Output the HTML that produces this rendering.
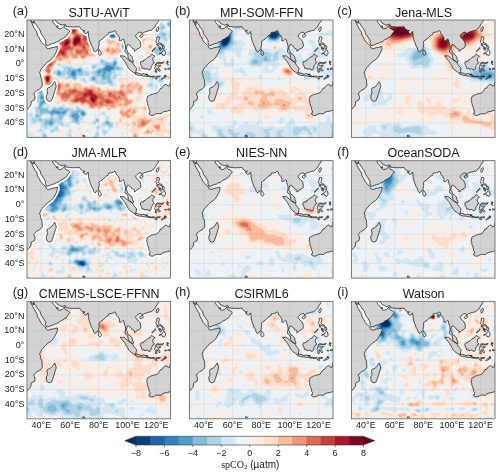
<!DOCTYPE html>
<html><head><meta charset="utf-8"><style>
html,body{margin:0;padding:0;background:#fff;width:500px;height:475px;overflow:hidden}
svg{display:block;will-change:transform}
text{font-family:"Liberation Sans",sans-serif;fill:#1a1a1a}
</style></head><body>
<svg width="500" height="475" viewBox="0 0 500 475">
<defs>
<path id="land" d="M-10.00,-5.00 2.40,-5.00 2.40,0.00 2.60,0.50 2.70,1.00 3.20,1.80 3.70,2.70 4.10,3.60 4.60,4.70 5.30,5.80 5.70,6.60 6.55,7.70 7.05,8.80 7.25,10.20 7.85,11.30 8.55,12.20 9.05,13.40 9.55,14.40 10.15,15.00 11.00,15.80 11.80,16.60 12.50,17.30 13.20,18.10 13.10,18.60 13.60,18.90 14.40,19.50 15.00,19.60 16.00,19.30 17.50,18.80 18.80,18.70 20.20,18.30 21.30,18.10 21.10,18.80 21.40,19.60 20.90,20.20 20.60,21.50 19.90,22.70 19.20,24.00 18.50,25.10 17.60,26.20 16.50,27.30 15.30,28.00 14.10,28.90 13.00,29.90 12.00,31.00 11.20,32.00 10.20,32.90 9.70,34.00 9.20,35.00 8.80,36.30 9.40,37.10 9.30,38.20 9.70,39.20 10.30,40.40 10.50,41.50 10.50,42.80 10.70,44.20 10.60,45.10 9.80,46.20 8.60,47.20 7.10,47.80 6.10,48.80 5.20,49.50 4.70,50.30 5.20,51.20 5.50,52.20 5.50,53.50 5.20,54.50 4.00,55.00 2.80,55.80 2.90,56.80 2.60,58.00 2.20,58.80 1.30,59.60 0.50,60.60 -0.20,61.40 -1.50,62.50 -10.00,65.00Z M2.60,-5.00 2.60,0.00 2.90,0.70 3.50,1.50 4.60,2.20 4.50,1.50 4.90,0.50 4.80,1.70 5.60,2.10 6.20,2.90 6.90,4.00 7.60,5.10 8.40,6.00 9.20,7.20 9.50,8.40 10.00,9.60 10.90,10.80 11.70,12.00 12.40,13.10 13.10,14.40 12.80,15.30 13.20,16.40 13.50,17.30 14.20,17.40 15.00,17.20 16.20,16.70 17.60,16.10 18.70,16.00 19.60,15.40 20.50,15.00 21.60,14.70 22.30,14.20 23.10,13.50 24.00,13.10 25.20,12.60 25.70,11.90 26.60,11.60 27.40,11.10 27.80,10.30 28.30,9.60 28.80,8.80 29.40,8.40 29.80,7.60 29.10,7.00 28.50,6.40 27.80,6.20 27.00,5.90 26.40,5.10 26.30,4.30 26.40,3.70 26.00,3.90 25.50,4.50 24.80,5.10 24.30,5.70 23.30,5.90 22.20,6.00 21.50,5.60 21.60,4.60 21.30,3.90 20.90,5.00 20.60,4.80 20.30,3.90 19.80,3.40 19.30,2.80 18.70,2.20 18.30,1.60 17.80,0.80 18.00,0.10 18.40,0.00 18.40,-5.00Z M18.60,-5.00 18.60,0.00 19.00,0.00 19.60,0.30 20.30,0.70 20.80,1.20 21.30,2.10 22.00,2.40 22.80,2.80 23.70,3.20 24.60,3.50 25.60,3.10 26.30,2.90 26.80,3.00 27.30,4.00 27.30,4.40 28.50,4.50 29.60,4.60 30.60,4.70 31.60,4.80 32.50,4.80 33.50,4.70 34.60,4.80 35.70,4.60 36.60,4.60 37.00,5.20 37.30,5.80 37.80,6.30 38.40,6.60 38.70,7.00 39.50,7.20 40.40,7.10 39.80,7.60 39.10,7.70 39.40,8.40 40.20,9.00 41.00,9.30 42.00,8.80 42.30,8.10 42.60,7.80 42.70,8.50 42.90,9.60 42.90,10.60 43.00,11.60 43.30,12.80 43.60,13.90 43.90,14.80 44.30,15.70 44.70,16.80 44.90,17.50 45.50,18.40 45.90,19.10 46.30,20.30 46.60,21.10 47.10,21.70 47.60,21.90 48.10,21.40 48.30,20.90 49.00,20.70 49.30,20.20 49.80,19.70 49.90,18.70 50.10,17.80 50.30,16.70 50.20,15.50 50.20,14.60 50.90,14.20 51.40,13.60 52.20,13.40 52.40,12.90 53.10,12.40 53.90,11.80 54.70,10.90 55.50,10.30 56.50,10.00 56.90,9.20 56.90,8.50 57.80,8.30 58.60,8.40 59.30,8.10 60.20,8.00 60.60,7.40 61.40,7.20 61.80,7.70 62.00,8.50 62.30,9.40 62.90,9.90 63.50,10.50 63.80,11.20 64.30,11.80 64.50,12.70 64.30,13.60 64.30,14.10 65.00,14.20 65.60,14.10 66.30,13.50 66.90,12.90 67.60,13.50 67.70,14.70 68.20,16.20 68.60,17.40 68.70,18.70 68.50,20.00 68.30,21.00 68.30,21.80 68.80,22.10 69.70,23.10 70.10,23.60 70.40,24.60 70.50,25.70 70.80,26.50 71.30,27.20 71.80,27.70 72.60,28.20 73.40,28.70 74.20,28.60 74.10,27.70 73.50,26.60 73.40,25.60 73.00,24.70 72.30,23.90 71.50,23.20 70.60,22.90 70.20,22.00 69.90,20.80 69.20,20.00 69.30,18.90 69.60,17.90 70.00,16.90 70.50,16.50 70.90,17.00 71.40,17.30 72.10,17.70 72.60,18.10 73.00,18.90 73.60,19.50 74.40,19.60 74.90,20.20 74.80,21.30 75.60,20.90 76.30,20.40 76.80,19.70 77.70,19.40 78.60,18.90 79.20,18.30 79.30,17.10 79.20,16.20 78.90,14.80 78.30,13.90 77.60,13.30 76.90,12.60 76.20,11.70 75.70,11.00 75.90,10.20 76.50,9.60 77.20,9.00 78.00,8.50 78.60,8.30 79.80,8.50 80.20,9.10 80.30,9.70 80.60,9.10 81.20,8.50 82.10,8.20 83.30,7.80 84.20,7.60 85.30,7.20 86.50,7.10 87.40,6.40 88.20,5.50 89.20,4.80 89.60,4.00 89.90,3.20 90.60,2.40 91.10,1.60 91.60,1.00 91.90,0.10 91.90,0.00 91.90,-5.00Z M19.30,41.95 19.60,42.60 19.90,43.40 20.20,44.60 20.40,45.40 20.00,46.20 19.80,47.00 19.50,47.80 19.30,48.80 18.80,50.20 18.40,51.50 18.00,52.60 17.60,53.70 17.10,54.90 16.30,55.20 15.50,55.50 14.90,55.20 14.20,54.90 13.70,54.00 13.60,53.10 13.40,52.20 13.60,51.30 14.00,50.60 14.30,49.80 14.20,49.00 14.00,48.00 14.00,47.20 14.40,46.40 14.90,46.10 15.90,45.80 16.40,45.40 17.00,45.10 17.60,44.50 17.90,43.80 18.40,43.40 18.80,42.60Z M65.10,24.30 66.00,24.50 67.60,24.50 68.60,25.40 69.40,26.10 70.20,26.70 71.00,27.40 71.60,27.80 72.20,28.00 73.00,28.50 73.60,29.20 74.20,30.10 74.50,30.80 75.10,31.40 75.60,32.00 76.30,32.80 76.20,34.00 75.90,35.00 75.90,35.90 75.20,35.95 74.50,36.00 73.90,35.50 73.00,34.90 72.00,34.20 71.20,33.40 70.50,32.50 70.00,31.40 69.40,30.50 68.90,29.70 68.30,28.50 67.70,27.80 67.00,27.00 66.50,26.30 65.80,25.50 65.20,25.00Z M79.00,29.50 79.30,28.50 79.70,28.00 80.30,28.30 81.20,28.10 81.40,27.30 82.60,26.90 83.50,26.00 84.00,25.40 84.90,25.10 85.50,25.00 85.90,24.40 86.40,23.70 86.90,23.10 87.30,23.40 87.80,24.00 88.40,24.20 89.20,24.80 88.50,25.30 88.00,25.70 87.70,26.40 87.70,27.40 88.00,28.20 88.90,29.10 87.90,29.50 87.50,30.40 87.00,31.10 86.60,31.70 86.50,32.60 86.20,33.40 85.90,33.90 84.80,34.10 84.50,33.50 83.70,33.20 82.90,33.40 81.90,33.50 81.70,33.00 80.90,33.00 80.20,32.90 80.00,31.90 79.60,31.00 79.10,30.30Z M105.00,41.50 100.00,41.50 100.00,42.20 99.60,43.50 99.50,44.80 98.50,45.00 98.00,44.80 97.70,44.20 97.00,43.80 96.20,44.10 95.40,44.60 94.80,45.30 94.40,46.10 93.70,46.50 93.00,46.50 92.60,47.30 92.20,48.00 91.70,48.60 91.10,49.40 90.20,49.90 89.00,50.10 88.00,50.30 87.20,50.70 86.50,50.70 85.50,51.40 84.60,51.80 84.10,52.00 83.70,52.50 83.80,53.30 83.50,54.00 83.40,54.80 83.90,55.80 83.60,56.30 84.00,57.00 84.20,58.00 84.60,58.80 84.90,59.60 85.00,60.50 85.20,61.30 85.70,62.00 85.70,62.80 85.60,63.50 85.00,63.60 85.00,64.20 85.40,64.50 86.20,65.00 87.00,65.00 88.00,65.00 88.90,64.50 89.70,64.00 90.50,63.90 91.50,63.80 92.60,63.90 93.50,63.90 94.00,63.50 94.30,62.90 95.00,62.70 96.20,62.30 97.20,62.20 98.10,62.00 99.00,61.70 100.00,61.50 101.00,61.50 105.00,65.00Z M75.20,36.80 75.90,36.00 76.80,36.00 77.70,36.20 78.50,36.50 79.50,36.80 80.50,36.90 80.90,36.40 81.70,36.70 82.60,36.90 83.50,37.60 84.40,37.70 84.60,38.40 84.00,38.60 83.00,38.30 82.00,38.20 81.00,38.10 80.20,38.00 79.20,37.70 78.30,37.80 77.30,37.50 76.40,37.30 75.80,37.00Z"/>
<path id="isl" d="M38.80,78.70 39.60,78.60 40.50,79.00 40.20,79.60 39.20,79.80Z M49.90,20.20 50.40,20.40 50.90,21.10 51.30,21.70 51.80,22.50 51.80,23.20 51.40,23.80 50.60,24.10 50.10,23.70 49.80,22.90 49.70,21.90 49.90,21.10Z M82.70,36.90 84.00,36.90 83.90,37.20 82.80,37.20Z M84.60,38.20 85.50,38.10 85.70,38.50 85.20,38.80 84.50,38.50Z M86.00,38.30 86.60,38.20 86.70,38.80 86.00,38.90Z M86.90,38.50 87.80,38.20 88.70,38.20 89.10,38.60 88.40,38.80 87.30,39.00Z M89.90,38.40 91.00,38.40 92.30,38.20 93.00,38.30 92.50,38.70 91.30,38.90 90.00,38.80Z M89.00,39.50 90.10,39.40 90.80,40.00 90.10,40.30 89.20,39.80Z M93.50,40.30 94.30,39.40 95.30,38.80 96.50,38.40 97.30,38.40 96.30,39.10 95.00,39.90 94.00,40.40Z M95.80,37.80 96.70,37.60 96.60,38.00 95.80,38.10Z M89.40,35.50 89.60,34.00 89.40,33.40 88.90,32.80 89.20,31.90 89.50,30.90 89.80,29.80 90.20,29.20 90.90,28.70 92.00,29.00 93.30,29.10 94.40,29.00 95.20,28.40 94.70,29.40 94.00,29.60 93.00,29.50 91.90,29.50 90.60,29.50 90.20,30.00 90.10,30.70 90.80,31.40 91.60,30.90 92.60,30.80 93.40,30.90 92.80,31.40 91.80,31.90 91.50,32.80 92.20,33.30 92.50,34.00 93.00,34.50 92.70,34.80 91.90,34.80 91.40,34.20 90.90,33.00 90.40,33.00 90.40,34.30 90.40,35.60Z M97.80,27.80 98.00,28.70 98.70,28.50 98.30,29.10 97.90,29.60 98.50,30.40 97.90,30.20 97.50,29.50 97.50,28.40Z M97.90,33.20 99.10,32.80 100.20,33.00 100.90,33.50 99.50,33.50 98.50,33.60Z M95.90,33.30 96.70,33.10 97.20,33.60 96.40,33.90 96.00,33.60Z M87.20,21.60 88.20,20.80 89.30,19.60 89.60,18.70 89.00,19.10 87.90,20.30 87.10,21.20Z M91.90,23.00 92.80,22.50 93.50,22.20 94.20,21.80 94.80,21.00 95.50,20.30 96.00,20.70 96.50,22.00 96.50,23.10 96.00,23.80 95.50,24.40 95.10,23.80 94.30,23.90 94.00,23.10 93.60,22.40 92.80,23.10 92.00,23.10Z M89.80,14.20 90.00,15.20 90.60,15.70 90.70,16.10 91.50,16.20 92.30,16.50 93.30,16.70 94.10,17.40 94.20,16.90 93.80,16.10 92.50,15.70 91.70,15.10 91.70,14.10 92.10,13.20 92.30,11.70 91.50,11.40 90.60,11.50 90.40,12.50 90.40,13.60Z M90.30,16.60 91.00,16.50 91.50,16.90 91.20,17.80 90.60,17.40Z M94.30,17.50 95.20,17.50 95.70,18.80 95.20,19.90 94.80,20.00 94.40,19.10Z M91.90,18.10 92.90,18.60 92.90,19.20 92.00,19.50 91.90,18.80Z M92.50,19.30 93.40,19.10 93.60,20.00 93.10,20.90 92.50,20.20Z M78.60,10.80 79.30,10.20 80.10,9.90 80.70,10.00 81.00,10.40 80.60,11.20 80.00,11.60 79.50,11.80 78.70,11.50Z M90.10,7.00 90.70,8.00 91.00,7.60 91.50,6.80 91.90,5.40 91.60,4.70 91.00,5.00 90.40,5.70 90.10,6.50Z"/>
<clipPath id="pc"><rect x="0" y="0" width="100" height="80"/></clipPath>
</defs>
<rect width="500" height="475" fill="#fff"/>

<g transform="translate(27.00,20.00) scale(1.43500,1.46750)">
<g clip-path="url(#pc)">
<rect x="0" y="0" width="100" height="80" fill="#fff"/><g transform="scale(0.1)"><path fill="#053061" fill-rule="evenodd" d="M15 -5l20 0 5 5 5-5 10 0 5 15 10 10 0 5 10 10 0 5 15 15 0 5 10 15 0 10 5 5 0 5 20 25 0 5 10 15 0 20 5 5 15-10 10 0 5-5 10 0 15-10 10 0 15-15 10 0 5-5 5 0 5-5 0-5 10 0 20-25 0-10-25-15-5 5-10 0-5 5-15 0-5-5-5 0-35-40 0-5-5-5 0-20 35 0 25 25 5 0 5 5 10 0 5-5 15 0 15 15 20 0 5 5 20 0 5-5 5 5 10 0 5-5 15 0 5 5 0 5 15 15 15 0 10 10 15 0 5 5 0 10 5 5 0 35 5 5 0 10 10 15 0 10 5 5 0 5 10 15 0 10 5 5 15-15 0-15 5-5 0-30 15-15 5 0 25-25 15-5 5-5 0-10 5-5 20 0 15-10 20 0 5 5 5 15 15 15 5 15 10 10 5-5 10 0 10 10 0 15 10 15 5-5 10 0 15 15 5 0 10 15 5 0 10 10 5-5 15-5 10-10-5-25-30-30 0-25 10-10 5 0 10-10 25 0 5 5 15-10 15 0 5-5 25-5 25-25 0-10 15-15 5-15 95 0 0 455-10 10-15 0-10-10-5 0-10 10 0 5-5 5-5 0-20 20 0 5-10 10-5 0-5 5-20 0-5 5-10 0-25 15 0 20 5 5 0 20 5 5 0 10 5 5 0 15 5 5 0 20 5 5 10 0 15-10 35 0 20-15 20 0 5-5 10 0 5-5 15 0 0 200-1010 0 0-205 20-20 0-5 5-5 0-20 5 0 20-15 0-15-5-5 0-20 25-25 15-5 15-15 0-45-10-15 0-15-5-5 0-20 5-5 10-25 45-45 5 0 10-10 5 0 15-15 0-5 10-10 0-5 15-25 0-5-5-5-15 0-5 5-10 0-5 5-20 0-20-15 0-10-30-25-10-25-10-10 0-5-5-5 0-10-5-5 0-10-10-10-5-15-10-10 0-5-20-35zM695 275l-5 5 15 20 0 5 15 20 0 5 20 15 5 0 10-10-10-10 0-5-10-10 0-5-15-15-15-5zM720 250l-5 5 0 5 5 5 5-5 0-5zM850 260l-20 20-5 0-10 10-10 0-5 5 5 15 10 10 5 0 5 5 25 0 5-5 5-15 10-10 0-35-5-5-5 5zM870 245l-5 5 5 5 5-5zM190 445l-15 15-5 0-20 15 0 35-5 5 0 20 10 10 5 0 10-15 0-10 5-5 0-10 5-5 0-10 5-5 0-10 5-5 0-10 5-5 0-5z"/><path fill="#0e4179" fill-rule="evenodd" d="M15 -5l20 0 5 5 5-5 10 0 5 15 10 10 0 5 10 10 0 5 15 15 0 5 10 15 0 10 5 5 0 5 20 25 0 5 10 15 0 20 5 5 15-10 10 0 5-5 10 0 15-10 10 0 15-15 10 0 5-5 5 0 5-5 0-5 10 0 20-25 0-10-25-15-5 5-10 0-5 5-15 0-5-5-5 0-35-40 0-5-5-5 0-20 35 0 25 25 5 0 5 5 10 0 5-5 15 0 15 15 20 0 5 5 20 0 5-5 5 5 10 0 5-5 15 0 5 5 0 5 15 15 15 0 10 10 15 0 5 5 0 10 5 5 0 35 5 5 0 10 10 15 0 10 5 5 0 5 10 15 0 10 5 5 15-15 0-15 5-5 0-30 15-15 5 0 25-25 15-5 5-5 0-10 5-5 20 0 15-10 20 0 5 5 5 15 15 15 5 15 10 10 5-5 10 0 10 10 0 15 10 15 5-5 10 0 15 15 5 0 10 15 5 0 10 10 5-5 15-5 10-10-5-25-30-30 0-25 10-10 5 0 10-10 25 0 5 5 15-10 15 0 5-5 25-5 25-25 0-10 15-15 5-15 95 0 0 455-10 10-15 0-10-10-5 0-10 10 0 5-5 5-5 0-20 20 0 5-10 10-5 0-5 5-20 0-5 5-10 0-25 15 0 20 5 5 0 20 5 5 0 10 5 5 0 15 5 5 0 20 5 5 10 0 15-10 35 0 20-15 20 0 5-5 10 0 5-5 15 0 0 200-1010 0 0-205 20-20 0-5 5-5 0-20 5 0 20-15 0-15-5-5 0-20 25-25 15-5 15-15 0-45-10-15 0-15-5-5 0-20 5-5 10-25 45-45 5 0 10-10 5 0 15-15 0-5 10-10 0-5 15-25 0-5-5-5-15 0-5 5-10 0-5 5-20 0-20-15 0-10-30-25-10-25-10-10 0-5-5-5 0-10-5-5 0-10-10-10-5-15-10-10 0-5-20-35zM695 275l-5 5 15 20 0 5 15 20 0 5 20 15 5 0 10-10-10-10 0-5-10-10 0-5-15-15-15-5zM720 250l-5 5 0 5 5 5 5-5 0-5zM850 260l-20 20-5 0-10 10-10 0-5 5 5 15 10 10 5 0 5 5 25 0 5-5 5-15 10-10 0-35-5-5-5 5zM870 245l-5 5 5 5 5-5zM190 445l-15 15-5 0-20 15 0 35-5 5 0 20 10 10 5 0 10-15 0-10 5-5 0-10 5-5 0-10 5-5 0-10 5-5 0-10 5-5 0-5z"/><path fill="#1f63a8" fill-rule="evenodd" d="M15 -5l20 0 5 5 5-5 10 0 5 15 10 10 0 5 10 10 0 5 15 15 0 5 10 15 0 10 5 5 0 5 20 25 0 5 10 15 0 20 5 5 15-10 10 0 5-5 10 0 15-10 10 0 15-15 10 0 5-5 5 0 5-5 0-5 10 0 20-25 0-10-25-15-5 5-10 0-5 5-15 0-5-5-5 0-35-40 0-5-5-5 0-20 35 0 25 25 5 0 5 5 10 0 5-5 15 0 15 15 20 0 5 5 20 0 5-5 5 5 10 0 5-5 15 0 5 5 0 5 15 15 15 0 10 10 15 0 5 5 0 10 5 5 0 35 5 5 0 10 10 15 0 10 5 5 0 5 10 15 0 10 5 5 15-15 0-15 5-5 0-30 15-15 5 0 25-25 15-5 5-5 0-10 5-5 20 0 15-10 20 0 5 5 5 15 15 15 5 15 10 10 5-5 10 0 10 10 0 15 10 15 5-5 10 0 15 15 5 0 10 15 5 0 10 10 5-5 15-5 10-10-5-25-30-30 0-25 10-10 5 0 10-10 25 0 5 5 15-10 15 0 5-5 25-5 25-25 0-10 15-15 5-15 95 0 0 455-10 10-15 0-10-10-5 0-10 10 0 5-5 5-5 0-20 20 0 5-10 10-5 0-5 5-20 0-5 5-10 0-25 15 0 20 5 5 0 20 5 5 0 10 5 5 0 15 5 5 0 20 5 5 10 0 15-10 35 0 20-15 20 0 5-5 10 0 5-5 15 0 0 200-1010 0 0-205 20-20 0-5 5-5 0-20 5 0 20-15 0-15-5-5 0-20 25-25 15-5 15-15 0-45-10-15 0-15-5-5 0-20 5-5 10-25 45-45 5 0 10-10 5 0 15-15 0-5 10-10 0-5 15-25 0-5-5-5-15 0-5 5-10 0-5 5-20 0-20-15 0-10-30-25-10-25-10-10 0-5-5-5 0-10-5-5 0-10-10-10-5-15-10-10 0-5-20-35zM695 275l-5 5 15 20 0 5 15 20 0 5 20 15 5 0 10-10-10-10 0-5-10-10 0-5-15-15-15-5zM720 250l-5 5 0 5 5 5 5-5 0-5zM850 260l-20 20-5 0-10 10-10 0-5 5 5 15 10 10 5 0 5 5 25 0 5-5 5-15 10-10 0-35-5-5-5 5zM870 245l-5 5 5 5 5-5zM190 445l-15 15-5 0-20 15 0 35-5 5 0 20 10 10 5 0 10-15 0-10 5-5 0-10 5-5 0-10 5-5 0-10 5-5 0-10 5-5 0-5z"/><path fill="#3480b9" fill-rule="evenodd" d="M15 -5l20 0 5 5 5-5 10 0 5 15 10 10 0 5 10 10 0 5 15 15 0 5 10 15 0 10 5 5 0 5 20 25 0 5 10 15 0 20 5 5 15-10 10 0 5-5 10 0 15-10 10 0 15-15 10 0 5-5 5 0 5-5 0-5 10 0 20-25 0-10-25-15-5 5-10 0-5 5-15 0-5-5-5 0-35-40 0-5-5-5 0-20 35 0 25 25 5 0 5 5 10 0 5-5 15 0 15 15 20 0 5 5 20 0 5-5 5 5 10 0 5-5 15 0 5 5 0 5 15 15 15 0 10 10 15 0 5 5 0 10 5 5 0 35 5 5 0 10 10 15 0 10 5 5 0 5 10 15 0 10 5 5 15-15 0-15 5-5 0-30 15-15 5 0 25-25 15-5 5-5 0-10 5-5 20 0 15-10 20 0 5 5 5 15 15 15 5 15 10 10 5-5 10 0 10 10 0 15 10 15 5-5 10 0 15 15 5 0 10 15 5 0 10 10 5-5 15-5 10-10-5-25-30-30 0-25 10-10 5 0 10-10 25 0 5 5 15-10 15 0 5-5 25-5 25-25 0-10 15-15 5-15 95 0 0 455-10 10-15 0-10-10-5 0-10 10 0 5-5 5-5 0-20 20 0 5-10 10-5 0-5 5-20 0-5 5-10 0-25 15 0 20 5 5 0 20 5 5 0 10 5 5 0 15 5 5 0 20 5 5 10 0 15-10 35 0 20-15 20 0 5-5 10 0 5-5 15 0 0 200-1010 0 0-205 20-20 0-5 5-5 0-20 5 0 20-15 0-15-5-5 0-20 25-25 15-5 15-15 0-45-10-15 0-15-5-5 0-20 5-5 10-25 45-45 5 0 10-10 5 0 15-15 0-5 10-10 0-5 15-25 0-5-5-5-15 0-5 5-10 0-5 5-20 0-20-15 0-10-30-25-10-25-10-10 0-5-5-5 0-10-5-5 0-10-10-10-5-15-10-10 0-5-20-35zM585 104l0 6 5 2 18-2-3-6zM675 171l-5 9 5 8 3-8zM695 275l-5 5 15 20 0 5 15 20 0 5 20 15 5 0 10-10-10-10 0-5-10-10 0-5-15-15-15-5zM720 250l-5 5 0 5 5 5 5-5 0-5zM850 260l-20 20-5 0-10 10-10 0-5 5 5 15 10 10 5 0 5 5 25 0 5-5 5-15 10-10 0-35-5-5-5 5zM870 245l-5 5 5 5 5-5zM190 445l-15 15-5 0-20 15 0 35-5 5 0 20 10 10 5 0 10-15 0-10 5-5 0-10 5-5 0-10 5-5 0-10 5-5 0-10 5-5 0-5z"/><path fill="#529dc8" fill-rule="evenodd" d="M15 -5l20 0 5 5 5-5 10 0 5 15 10 10 0 5 10 10 0 5 15 15 0 5 10 15 0 10 5 5 0 5 20 25 0 5 10 15 0 20 5 5 15-10 10 0 5-5 10 0 15-10 10 0 15-15 10 0 5-5 5 0 5-5 0-5 10 0 20-25 0-10-25-15-5 5-10 0-5 5-15 0-5-5-5 0-35-40 0-5-5-5 0-20 35 0 25 25 5 0 5 5 10 0 5-5 15 0 15 15 20 0 5 5 20 0 5-5 5 5 10 0 5-5 15 0 5 5 0 5 15 15 15 0 10 10 15 0 5 5 0 10 5 5 0 35 5 5 0 10 10 15 0 10 5 5 0 5 10 15 0 10 5 5 15-15 0-15 5-5 0-30 15-15 5 0 25-25 15-5 5-5 0-10 5-5 20 0 15-10 20 0 5 5 5 15 15 15 5 15 10 10 5-5 10 0 10 10 0 15 10 15 5-5 10 0 15 15 5 0 10 15 5 0 10 10 5-5 15-5 10-10-5-25-30-30 0-25 10-10 5 0 10-10 25 0 5 5 15-10 15 0 5-5 25-5 25-25 0-10 15-15 5-15 95 0 0 455-10 10-15 0-10-10-5 0-10 10 0 5-5 5-5 0-20 20 0 5-10 10-5 0-5 5-20 0-5 5-10 0-25 15 0 20 5 5 0 20 5 5 0 10 5 5 0 15 5 5 0 20 5 5 10 0 15-10 35 0 20-15 20 0 5-5 10 0 5-5 15 0 0 200-1010 0 0-205 20-20 0-5 5-5 0-20 5 0 20-15 0-15-5-5 0-20 25-25 15-5 15-15 0-45-10-15 0-15-5-5 0-20 5-5 10-25 45-45 5 0 10-10 5 0 15-15 0-5 10-10 0-5 15-25 0-5-5-5-15 0-5 5-10 0-5 5-20 0-20-15 0-10-30-25-10-25-10-10 0-5-5-5 0-10-5-5 0-10-10-10-5-15-10-10 0-5-20-35zM208 630l5 5 9 0-2-6zM325 350l-9 5-4 10 3 10 5 2 10-2 3-5-1-15zM385 631l0 10 5 4 5-1 3-4-2-5zM555 315l-14 20-1 5 5 3 10-1 15 4 15-10 10-1 4-5-2-5-7-3zM585 99l-9 6 9 10 20 2 6-2 4-5 0-5-5-5zM615 290l-6 5 1 5 5-3zM670 165l-3 15 3 10 5 4 5-4 1-15-6-13zM695 275l-5 5 15 20 0 5 15 20 0 5 20 15 5 0 10-10-10-10 0-5-10-10 0-5-15-15-15-5zM720 250l-5 5 0 5 5 5 5-5 0-5zM850 260l-20 20-5 0-10 10-10 0-5 5 5 15 10 10 5 0 5 5 25 0 5-5 5-15 10-10 0-35-5-5-5 5zM870 245l-5 5 5 5 5-5zM105 523l0 8 4-6zM190 445l-15 15-5 0-20 15 0 35-5 5 0 20 10 10 5 0 10-15 0-10 5-5 0-10 5-5 0-10 5-5 0-10 5-5 0-10 5-5 0-5z"/><path fill="#84bcd9" fill-rule="evenodd" d="M15 -5l20 0 5 5 5-5 10 0 5 15 10 10 0 5 10 10 0 5 15 15 0 5 10 15 0 10 5 5 0 5 20 25 0 5 10 15 0 20 5 5 15-10 10 0 5-5 10 0 15-10 10 0 15-15 10 0 5-5 5 0 5-5 0-5 10 0 20-25 0-10-25-15-5 5-10 0-5 5-15 0-5-5-5 0-35-40 0-5-5-5 0-20 35 0 25 25 5 0 5 5 10 0 5-5 15 0 15 15 20 0 5 5 20 0 5-5 5 5 10 0 5-5 15 0 5 5 0 5 15 15 15 0 10 10 15 0 5 5 0 10 5 5 0 35 5 5 0 10 10 15 0 10 5 5 0 5 10 15 0 10 5 5 15-15 0-15 5-5 0-30 15-15 5 0 25-25 15-5 5-5 0-10 5-5 20 0 15-10 20 0 5 5 5 15 15 15 5 15 10 10 5-5 10 0 10 10 0 15 10 15 5-5 10 0 15 15 5 0 10 15 5 0 10 10 5-5 15-5 10-10-5-25-30-30 0-25 10-10 5 0 10-10 25 0 5 5 15-10 15 0 5-5 25-5 25-25 0-10 15-15 5-15 95 0 0 29-20 1 2 5 18 12 0 408-10 10-15 0-10-10-5 0-10 10 0 5-5 5-5 0-20 20 0 5-10 10-5 0-5 5-20 0-5 5-10 0-25 15 0 20 5 5 0 20 5 5 0 10 5 5 0 15 5 5 0 20 5 5 10 0 15-10 35 0 20-15 20 0 5-5 10 0 5-5 15 0 0 200-1010 0 0-205 20-20 0-5 5-5 0-20 5 0 20-15 0-15-5-5 0-20 25-25 15-5 15-15 0-45-10-15 0-15-5-5 0-20 5-5 10-25 45-45 5 0 10-10 5 0 15-15 0-5 10-10 0-5 15-25 0-5-5-5-15 0-5 5-10 0-5 5-20 0-20-15 0-10-30-25-10-25-10-10 0-5-5-5 0-10-5-5 0-10-10-10-5-15-10-10 0-5-20-35zM225 350l-5 1-6 14 0 5 6 3 5-1 6-7 0-10zM320 343l-10 7-7 20 8 10 14 8 5-1 11-12 1-25-12-8zM360 334l-9 6-3 5 22 12 5-6 1-11-6-7zM380 623l-3 7 3 13 5 6 10 1 9-5 1-6-6-9-9-7zM460 391l-5 6 1 8 9 2 6-2 1-10-7-4zM595 95l-22 5-2 5 2 5 17 10 15 0 10-4 3-6-1-10-7-5zM630 326l-3 4 3 2 5 1 4-3zM665 167l-1 13 6 15 5 4 5-2 3-7 1-15-4-16-5-4zM695 275l-5 5 15 20 0 5 15 20 0 5 20 15 5 0 10-10-10-10 0-5-10-10 0-5-15-15-15-5zM720 250l-5 5 0 5 5 5 5-5 0-5zM850 260l-20 20-5 0-10 10-10 0-5 5 5 15 10 10 5 0 5 5 25 0 5-5 5-15 10-10 0-35-5-5-5 5zM870 245l-5 5 5 5 5-5zM100 513l-6 7-1 10 7 9 10 5 5-6 2-13-7-10zM190 445l-15 15-5 0-20 15 0 35-5 5 0 20 10 10 5 0 10-15 0-10 5-5 0-10 5-5 0-10 5-5 0-10 5-5 0-10 5-5 0-5zM335 633l-20 11-2 11 7 9 12 6 8 13 5 4 5-1 10-31-10-18-5-4zM610 284l-9 11-1 16-5 2-25-7-15 0-25 31-20 2-21 11-2 5 3 5 10 5 5-1 15-15 5-3 5 3 3 11-7 15 8 20 6 0-1-15 11-29 10-2 15 8 10-13 15-5 5-4 4-10-1-10 14-20-2-10-5-3zM110 548l-15 12-3 10 1 15 14-15 16-5 2-3-5-11zM180 615l-20 15 10 13 5 1 10-7 10-2 30 8 8-3 7-9 15 11 15-11 6-11-6-2-15 2-15 9-10-7-16-2-19-7zM555 695l-1 10 6 2 7-2-2-9zM170 684l-17 11-1 5 13 12 5 1 5-3 4-10-4-12z"/><path fill="#aed3e6" fill-rule="evenodd" d="M15 -5l20 0 5 5 5-5 10 0 5 15 10 10 0 5 10 10 0 5 15 15 0 5 10 15 0 10 5 5 0 5 20 25 0 5 10 15 0 20 5 5 15-10 10 0 5-5 10 0 15-10 10 0 15-15 10 0 5-5 5 0 5-5 0-5 10 0 20-25 0-10-25-15-5 5-10 0-5 5-15 0-5-5-5 0-35-40 0-5-5-5 0-20 35 0 25 25 5 0 5 5 10 0 5-5 15 0 15 15 20 0 5 5 20 0 5-5 5 5 10 0 5-5 15 0 5 5 0 5 15 15 15 0 10 10 15 0 5 5 0 10 5 5 0 35 5 5 0 10 10 15 0 10 5 5 0 5 10 15 0 10 5 5 15-15 0-15 5-5 0-30 15-15 5 0 25-25 15-5 5-5 0-10 5-5 20 0 15-10 20 0 5 5 5 15 15 15 5 15 10 10 5-5 10 0 10 10 0 15 10 15 5-5 10 0 15 15 5 0 10 15 5 0 10 10 5-5 15-5 10-10-5-25-30-30 0-25 10-10 5 0 10-10 25 0 5 5 15-10 15 0 5-5 25-5 25-25 0-10 15-15 5-15 95 0 0 24-15-3-9 4-3 5 5 10 22 14 0 44-6 2-1 5 2 18 5 4 0 104-7 4 7 5 0 215-10 10-15 0-10-10-5 0-10 10 0 5-5 5-5 0-20 20 0 5-10 10-5 0-5 5-20 0-5 5-10 0-25 15 0 20 5 5 0 20 5 5 0 10 5 5 0 15 5 5 0 20 5 5 10 0 15-10 35 0 20-15 20 0 5-5 10 0 5-5 15 0 0 200-519 0-1-8-5-3-5 2-5 9-475 0 0-205 20-20 0-5 5-5 0-20 5 0 20-15 0-15-5-5 0-20 25-25 15-5 15-15 0-45-10-15 0-15-5-5 0-20 5-5 10-25 45-45 5 0 10-10 5 0 15-15 0-5 10-10 0-5 15-25 0-5-5-5-15 0-5 5-10 0-5 5-20 0-20-15 0-10-30-25-10-25-10-10 0-5-5-5 0-10-5-5 0-10-10-10-5-15-10-10 0-5-20-35zM220 343l-7 7-7 15 4 10 15 4 28-14-13-7-12-13zM290 325l-3 5 0 15-7 15 15 22 19 8 16 16 5-1 13-25 3-15 4-3 15 16 11-3 8-10-5-25-9-12-5-1-30 9-15-1-15 3zM410 366l-4 4 12 0zM465 313l-7 7 2 4 10-2 7-7-2-3zM520 274l-5 6 5 11 14-1-2-10zM575 95l-8 5-1 5 8 10 11 7 25 0 5-2 7-10 0-10-7-7-15-2zM663 165l-1 15 5 15 8 9 5-1 4-8 3-20-7-24-5-1zM695 275l-5 5 15 20 0 5 15 20 0 5 20 15 5 0 10-10-10-10 0-5-10-10 0-5-15-15-15-5zM720 250l-5 5 0 5 5 5 5-5 0-5zM850 260l-20 20-5 0-10 10-10 0-5 5 5 15 10 10 5 0 5 5 25 0 5-5 5-15 10-10 0-35-5-5-5 5zM870 245l-5 5 5 5 5-5zM905 199l-3 11 3 7 5 1 15-6 7-7-12-8zM945 42l-10 10 0 4 5 3 15-4 2-5-3-5zM70 641l-10 14 0 5 5 5 15-3 8-12-4-5zM90 468l-5 4-6 18 13 15-7 25 8 15-15 50 17 42 5 4 25-10 25 5 10 5 15 15 15-15 10 1 26 13-2 20 6 8 5 1 7-9 3-17 15-9 15-16 13-18-1-5-7-3-25 4-15-13-10-1-15 14-25-6-25 14-10 2-15-15-37-1-3-5 8-20 4-5 14-5 5-5-1-5-8-20-2-20-13-15-7-25zM190 445l-15 15-5 0-20 15 0 35-5 5 0 20 10 10 5 0 10-15 0-10 5-5 0-10 5-5 0-10 5-5 0-10 5-5 0-10 5-5 0-5zM355 610l-5 10-5 2-30 2-12 26 3 10 17 20 2 10 25 11 6-1 4-23 9-22-9-15 0-9 5-2 5 2 5 19 10 5 20-5 5-10-4-10-11-12zM465 384l-12 6-4 15 6 7 20 1 5-5-2-18zM590 301l-5 0-25-10-16 4-2 15-12 18-25 6-20 11-9 10-1 5 11 10 1 10 3 2 25-1 8 9 2 15 5 7 25-13 15 27 10 8 8 1 3-5-1-9-8-11-7-20 11-25 3-15 16-7 10-10 25 7 11-5 3-5-31-15 2-30-5-7-5-2zM925 409l-3 6 3 2 9-2-2-5zM940 90l-6 5 16 13 10 1 5-9-1-5-4-4zM85 673l-2 7 4 5 8 2 9-2-9-11-5-3zM120 778l-5 4-2 8 2 5 10 4 7-4 1-5-6-10zM150 683l-15-2-8 4-4 15 2 15 5 1 15-6 20 11 10-2 10-14 2-10-7-23-5-6zM490 674l-8 6-2 5 3 5 12 1 3-6-3-9zM550 690l-4 15 3 5 25 5 6 10 10-4 0-8-10-6-10-14-10-6zM490 774l-4 6 4 6z"/><path fill="#d4e6f1" fill-rule="evenodd" d="M15 -5l20 0 5 5 5-5 10 0 5 15 10 10 0 5 10 10 0 5 15 15 0 5 10 15 0 10 5 5 0 5 20 25 0 5 10 15 0 20 5 5 15-10 10 0 5-5 10 0 15-10 10 0 15-15 10 0 5-5 5 0 5-5 0-5 10 0 20-25 0-10-25-15-5 5-10 0-5 5-15 0-5-5-5 0-35-40 0-5-5-5 0-20 35 0 25 25 5 0 5 5 10 0 5-5 15 0 15 15 20 0 5 5 20 0 5-5 5 5 10 0 5-5 15 0 5 5 0 5 15 15 15 0 10 10 15 0 5 5 0 10 5 5 0 35 5 5 0 10 10 15 0 10 5 5 0 5 10 15 0 10 5 5 15-15 0-15 5-5 0-30 15-15 5 0 25-25 15-5 5-5 0-10 5-5 20 0 15-10 20 0 5 5 5 15 15 15 5 15 10 10 5-5 10 0 10 10 0 15 10 15 5-5 10 0 15 15 5 0 10 15 5 0 10 10 5-5 15-5 10-10 0-10-5-5 0-10-30-30 0-25 25-20 25 0 5 5 15-10 15 0 5-5 25-5 25-25 0-10 3-3 2 3 20 1 13 9-3 20 8 20-13 20 1 20 2 5 22 7 20 19 10 0 4-6-4-14-6-6 0-30-4-4-20-5-5-6 5-7 16-8 3-5-1-10-8-9-18-11-12-16-10 0-15 6 5-5 5-15 84 0 11 4 0 16-10-4-10 1-9 8-3 10 2 5 30 22 0 26-13 2-3 10 3 25 13 7 0 92-17 1-10 10 2 5 5 2 20 4 0 209-10 10-15 0-10-10-5 0-10 10 0 5-5 5-5 0-20 20 0 5-10 10-5 0-5 5-20 0-5 5-10 0-25 15 0 20 5 5 0 20 5 5 0 10 5 5 0 15 5 5 0 20 5 5 10 0 15-10 35 0 20-15 20 0 5-5 10 0 5-5 15 0 0 95-7 5-1 5 8 7 0 88-514 0 8-20-4-19-5-4-9 8-4 15-9 10-2 10-328 0 2-15-10-16-10-5-5 1-6 10 0 15 4 10-25 0-3-5-10-4-5 9-55 0-4-5-16-6 0-194 20-20 0-5 5-5 0-20 5 0 20-15 0-15-5-5 0-20 25-25 8-3 3 3-5 25 11 15-17 40 3 5 12 5 2 15-7 13-16 17 5 25-14 38-5 1-10-6-6 22 6 9 15 8 7-2 7-10 6-4 40 12 3 7-8 15 13 10 7 12 5 1 7-3 13-16 20 4 9-3 26-31 5-1 9 17 11 1 15 11 10 0 4-7-15-20 3-15 7-15 36-42 5-2 8 9-3 10-7 10 0 5 17 20 4 20 7 5 19 3 15 9 7-2 8-28 10-2 0-10 5-5 20-9 6-6 4-10-3-10-12-16-30-6-20-19-7 21-8 6-20-9-15 1-15-8-25 0-10-10-5 0-20 3-15 8-20-9-19 18-11 6-9-6-6-14-20 2-11-3-1-5 3-10 14-6 5-4 0-5-8-25 1-15-14-20-7-25-14-25 2-5 0-45-10-15 0-15-5-5 0-20 5-5 10-25 45-45 5 0 10-10 5 0 15-15 0-5 10-10 15-35-5-5-15 0-5 5-10 0-5 5-20 0-20-15 0-10-30-25-10-25-10-10 0-5-5-5 0-10-5-5 0-10-10-10-5-15-10-10 0-5-20-35zM220 297l-6 8 4 5 7 1 4-6-4-6zM280 315l-15 5-10-1 2 21-7 10-10 0-10-9-10-3-30 11-3 11 22 20 21 6 30-2 10-14 5-1 8 6 1 5-4 8-11 7 4 5 32-7 25 19 10-2 9-20 6-6 20 0 15-6 15 3 20-1 8-5 2-15-10-7-25-6-25-29-20 10-15 2-30-5zM475 304l-18 6-6 5-1 10 5 6 5 3 10-1 15-11 1-17zM585 90l-18 5-9 5-1 5 28 20 25 0 9-5 7-15-2-10-14-7zM675 145l-13 15-3 15 5 20 11 15 5 0 5-9 4-21-5-30-4-6zM695 275l-5 5 15 20 0 5 15 20 0 5 20 15 5 0 10-10-10-10 0-5-10-10 0-5-15-15-15-5zM720 250l-5 5 0 5 5 5 5-5 0-5zM765 291l-5 4 8 0zM830 253l0 12 9 6-24 19-10 0-5 5 0 5 15 20 5 0 5 5 25 0 5-5 5-15 10-10 0-35-5-5-5 5-10 0-9 9-1-14-5-3zM870 245l-5 5 5 5 5-5zM910 190l-15 9-6 16-9 10-2 10 7 10 25 1 5-6 5-15 20-8 8-7-1-10-7-6-15-5zM940 158l-5 4-1 13 11 8 10 1 7-9-2-9-10-7zM15 645l0 9 15 5 4-4-4-14-5-3zM90 749l-7 6 17 2 6-2 2-5-8-3zM195 730l-10 16-20 3-2 6 2 10 10 2 25-14 15 0 4-3-5-10-1-15-3-5zM280 714l-3 6 3 5 5 1 1-11zM290 784l0 6 5 3 5 1 6-4-1-6-5-2zM365 740l-1 5 7 0-1-4zM190 445l-15 15-5 0-20 15 0 35-5 5 0 20 10 10 5 0 10-15 0-10 5-5 0-10 5-5 0-10 5-5 0-10 5-5 0-10 5-5 0-5zM390 403l-3 7 5 5 13 9 5 0 2-4-6-10-11-9zM615 260l-5 2-1 8-7 10-17 11-40-12-20-10-11 1-4 10 3 15 7 7 11 3 2 5-3 10-8 5-22 2-49 28-2 5 13 15-16 15-4 15 3 8 10 5 16 2 14 13 20-6 25 12 30-7 15 7 13 11 8 0 4-5 0-25-12-20 1-20 3-10 8-10 7 0 1 10-14 20 6 12 10 2 5-4 12-25-16-20 4-13 30 4 20-6 4-5-4-13-31-7-7-5 2-25zM665 278l-3 7 3 5 8 5 7 0 2-5-7-10zM860 428l-8 7-5 10 1 5 7 5 15-2 5-3 1-5-9-15zM875 393l-6 7 1 6 5 2 5-8 0-5zM905 460l0 6 5-1zM920 403l-6 7 1 11 15 6 15-4 1-13-6-8-10-2zM950 444l-4 6 1 5 3 2 4-7zM485 669l-26 26 1 10 5 3 5 1 10-11 18-3 4-5-2-15-5-5zM525 634l-3 6 13 0 7-5-2-5zM550 679l-10 19-17 12-1 10 8 2 15-5 15 2 5 2 10 14 20-6 5-14-1-10-14-4-25-25zM560 659l-3 6 3 4 5-2 1-7zM490 724l-5 5-1 6 6 7 10-3 8-9-3-7zM530 750l-3 5 3 17 5 8 10 1 6-6 6-15-5-5zM494 390l16-2 6 7-3 15-8 11-10-6-8-10 1-10zM76 630l4-3 2 3-2 3zM121 640l34 3 7 7 3 10-5 7-10 4-15-2-20 7-10-2-10-9-1-5 6-7zM188 650l7-3 15 8 0 5-6 10-9 2-5-4-4-8z"/><path fill="#ecf2f5" fill-rule="evenodd" d="M15 -5l20 0 5 5 5-5 10 0 5 15 10 10 0 5 10 10 0 5 15 15 0 5 10 15 0 10 5 5 0 5 20 25 0 5 10 15 0 20 5 5 15-10 10 0 5-5 10 0 15-10 10 0 15-15 10 0 5-5 5 0 5-5 0-5 10 0 20-25 0-10-25-15-5 5-10 0-5 5-15 0-5-5-5 0-15-15 0-5-20-20 0-5-5-5 0-18 15 2 8-4 12 0 25 25 5 0 5 5 10 0 5-5 15 0 15 15 20 0 5 5 20 0 5-5 5 5 10 0 5-5 15 0 5 5 0 5 15 15 15 0 10 10 15 0 5 5 0 10 5 5 0 35 5 5 0 10 10 15 0 10 5 5 0 5 10 15 0 10 5 5 15-15 0-15 5-5 0-30 34-29 6 5 15-4 10 1 25 15 25 0 13-8 12-23 7 0 8 13 0 5 10 10 5-5 10 0 10 10 0 6-10 3-14 16-5 15 2 15 17 35 5 0 4-5 8-30-4-37 7 12 5-5 10 0 15 15 5 0 10 15 5 0 10 10 5-5 15-5 10-10-5-25-30-30 0-25 10-10 5 0 10-10 25 0 5 5 15-10 15 0 5-5 10 0 5 9 15-1 15 7 15-2 5-8-5-7-5-1-20 6-7-11 22-25 20 0 6 3 3 5-1 15 5 20-11 15-2 15-12 20 17 0 16 15-5 25-6 10-6 5-14 2-16 13-1 15-9 20 1 10 10 15 29-5 11-16 5-1 15 12 5 1 5-4 5-7-5-10 6-30 13-20-6-15 17-15 2-15 18 2 0 34-15 2-6 7 14 20 7 0 0 17-10-10-24 23-5 10 14 8 25 3 0 53-15 7-5-2-8-4-12-17-10 2-7 10 17 9 8 16 7 4 15-7 10 0 0 133-10 10-15 0-10-10-5 0-5 5 5-24 12-6 3-6-5-2-10 7-5 0-15-31-10-1-20 7-8 11-2 15 4 5 26 4 5 5-4 26 4 10-25 30-5 0-5 5-20 0-5 5-10 0-5 5-15 5-5 5 0 20 5 5 0 20 5 5 0 10 5 5 0 15 5 5 0 20 5 5 10 0 15-10 35 0 8-8 2 5 5 1 11-13 14 0 5-5 10 0 5-5 15 0 0 91-12 4-8 10 7 10 13 10 0 75-69 0-11-6-8 6-121 0 2-10-3-5-4 5-1 10-76 0-4-6-5-1-25 2-3 5-181 0 8-15-5-40 16-14 7-1-4 20 8 30 4 3 15 1 7-4 32-45 16-3 4-7 2-30-16-3-8-7-5-10 2-10-3-10-6-7-20-7 7-16-2-6-10-5-25 5-15 21 8 5 24 0 6 5 2 15-7 20-28 23-15 4-10 0-4-2 0-5 4-8 20-4 2-8-2-15-10-12-12-3 0-20-15-10 1 20 4 15-3 10-21 25 11 13 18 7 0 20 4 15-10 15-1 10-8 15-1 10-65 0-2-6-10-2-10 3-5 5-157 0-2-5-11-6-7 1-5 10-42 0 1-15-19-30 7-10 20-12 3 2-2 10 3 15 6 9 5 1 35-16 15 5 10-2 1-7-12-20 6-15 5-1 20 12 20-1 20 5 5-20-2-10-13-6-15 8-11-7-4-10 5-17 20-21 5 0 22 23 0 25 38 9 15 11 10 3 5-6 5-16 20-1 3-5-3-20 22-25 7-15-5-10-16-15-33-9-15-20-5 0-9 4-6 21-20-6-15 0-23-10-7-12-20-6-5 0-10 11-25 11-15-12-10-1-20 27-5 1-4-4 3-30-14-4-5-6-7-20 0-20-16-25-6-25-13-20-3-50-10-15 0-15-5-5 0-20 5-5 10-25 45-45 5 0 10-10 5 0 15-15 0-5 10-10 15-35-5-5-15 0-5 5-10 0-5 5-20 0-20-15 0-10-30-25-10-25-15-20-5-25-6-6 12 1 5-5-1-7-12-13-8-2-5 2-1 4-9-9 0-5-20-35zM100 97l-20 22-2 6 3 5 24 2 10 14 16-16-16-5-5-7-5-18zM245 32l-5 8 2 5 13 0-2-10zM530 133l-5 12 10 8 6-8-1-10-5-4zM645 245l-15 13-15-6-10 2-5 21-10 5-20-1-45-16-15 1-5 6 0 21-5 16-1-7-9-6-40 11-8 15 9 20-4 5-7 2-10-7-1-15-3-5-16-2-2 12-8 3-10-7-5-16-5-6-5 1-15 17-20 4-13-6-12-14-20 7-40-11-15 3-11-10-9-3-11 8 1 14 30 10 7 6 3 10-5 5-5-1-15-12-35 7-10 14 0 12 20 15 30 15 25 0 15 14 35-8 20 14 10 2 15-7 5-15 5-2 13 2 1 5-7 10 3 4 20 7 15 15 10-3 15-16 15 6 20 2 20 16 45 4 30-5 10 3 15 13 35-3 5-4 3-14-15-5-3-5 2-10 14-25 9-8 10 0 15 7 6-4 1-5-11-15 0-10 14-10 5-10-3-15-7-9-25-1-7-5 1-20-5-15 1-8 20 0 10-7-1-5zM660 269l-6 11 1 10 5 7 30 13 10 23 30 2 13 10-5 5 2 7 5 2 8-4 1-5-8-6 9-9-10-10 0-5-10-10 0-5-15-15-15-5-10-10-5 5 5 8-5-1-15-13zM705 245l-7 5 0 10 7 11 7 4 8 14 5 1 21-5 8 15 6 2 14-2 5-5-2-5-7-4-19-6-6-17-24 1 4-4 0-5-5-5-5 5zM800 232l-15 18-15-1-3 6 8 4 10-3 20 3 9-9-5-10zM820 249l-2 6 14 23-7 2-10 10-10 0-5 5 0 5 15 20 5 0 5 5 25 0 5-5 5-15 10-10 0-35-5-5-5 5-10 0-3 3-7-15-10-3zM870 245l-5 5 5 5 5-5zM975 350l-3 5 3 5 7-5-2-5zM300 746l-21 14-6 10 1 15 5 10 11 8 10 2 5 0 9-10 1-10-3-15 3-10-5-13zM365 729l-5 4-4 12 4 6 5 2 10-2 4-6-4-12zM415 742l-5 6 1 7 24 11 7-1-1-5-10-10zM110 359l-5 6 5 4 6-4zM190 445l-15 15-5 0-20 15 0 35-5 5 0 20 10 10 5 0 10-15 0-10 5-5 0-10 5-5 0-10 5-5 0-10 5-5 0-10 5-5 0-5zM435 699l-6 6 1 11 7-1 6-10-2-5zM445 620l-7 5 7 0zM630 754l-4 1 4 3zM658 765l-2 10 4 6 10 3 5-9-1-10-4-8zM675 745l0 7 10-1 4-6-4-7zM685 374l-3 6 6 5 7 0 0-7-5-5zM815 504l0 3 5-2zM835 373l-3 7 10-5-2-4zM870 384l-17 16-5 25-16 20-1 10 4 6 25 6 10 14 15-2 15 3 22-12 2-5-18-20-6-13-16 3-2-10 6-20 0-10-8-12zM875 337l-1 8 6 7 15 9 11-1-11-20-10-4zM910 -5l76 0 0 5-21 32-15-7-21-20-9-3-15 5zM970 45l5-2 15 7 6 10-1 7-30 9-8-1 11-10zM595 70l5-5 20 0 15 25-25-6-30 3-23 6 3-3 0-10 5-5 20 0 5-5zM628 355l11 0 2 5-6 4zM404 390l11-4 15 4 4 5-1 5-8 13-16-8-7-10zM881 460l9-3 0 10-5 3-5-5zM40 495l4-4-4 11zM60 505l10 5 2 5-15 40 3 5 15 5 2 5-2 10-24 20 4 30-5 17-5 0-10-25-5-3-21 21-2 10 20 55-9 10-1 5 3 7 5 2 5-1 5-14 20 0 20-14 18 5-5 15 7 15-29 20-3 5 2 7 5 1 20-2 11 4 2 35-8 0-7-10-13-6-6 1-3 15-31 0 11-20-1-5-10-13-10-2-10-10-10 1-7 9 6 10 9 5-1 5-17 1 0-186 20-20 4-9 16-8 3-8-4-14 6-1 5-5-1-16zM20 550l3 0-3 6zM116 650l9-2 10 3 15-3 8 7-3 6-20-1-15 8-10 2-7-5 0-5zM555 725l6 5 6 10-2 8-19-3-10-10 1-5z"/><path fill="#f9eee7" fill-rule="evenodd" d="M15 -5l20 0 5 5 5-5 10 0 5 15 10 10 0 5 22 27 13 23 0 6-12 9-23 28-5-8 0-10-5-5 18-15 1-15-18-20-21-1-10-4 0-5-15-25zM30 8l-3 2 3 8 6-3-1-5zM200 -5l5 0 25 25 13 5-13 15 0 5 10 7 10 1 14-3 2-5-12-24 16-1 15 15 8 0-2 5 4 6 15-6 20 0 5-5 5 5 10 0 5-5 14 0 1 5 5 0 0 5 15 15 15 0 10 10 15 0 5 5 0 10 5 5 0 35 5 5 0 10 10 15 0 10 5 5 0 5 10 15 0 10 5 5 15-15 0-15 5-5 0-30 15-15 5 0 8-8 3 8-21 30 5 4 10-3 5 3 15 26 5-1 6-9-6-20 0-30 5-6 10-1 25 13 25 0 13-6 12-18 5-2 10 5 0 5 10 10 5-5 7 0 9 6-21 24-6 15 1 20 11 30-3 15-5 5-18 4-15 7-20 0-9 9-2 15-24 4-17-9-3-10 6-10-1-6-10 0-10 13-10 2-8-4-11-15-6 0-25 35 5 5 13 5-23 15-10 0-3-15-12-17-20 0-8 7 2 15 6 7 12 3 2 5-4 9-40-2-20-17-13 25-12 7-10-2-5-5 5-20 18-10-8-6-15-2-12 3-4 10-16 15-8 4-40-15-15 1-15-7-10 0-13 17 1 20-18 11-9 14-2 15 6 9 15 10 20 7 15 15 20-6 20 17 35-5 20 8 25-1 30 5 10 6 5 12 5 2 19-4 16-9 25 0 10 4 15 13 40 4 35-6 20 16 30-2 20 8 7-3 3-30-5-10-11-10 7-20 9-4 20 5 15-7 35 5 5 0 4-4 0-10-14-2-15-12-20 1-2-7 12-12 5-3 15 2 10-5 10 0 5 4 10 19 10 2 15-12-2-10-7-6 4-4-9-9 6-16 38-10 10-1 5 6 0 5 20 15 25 0 5-5 24 45-19 11-14-21-6-22-5-5-5 6 0 11 7 10-1 5-16 15-2 5 7 9 15 3 2 23-4 10-17 5-3 5 0 20-4 20 3 10-12 19 0 11 5 14 29-29 4-5-10-10 7-10 5-1 6 1 9 14 25 5 1 16-6 5-10 0-25 15 0 17-6 13-3 15 12 15 2 10-12 25 2 2 20-17 5 5 0 20 5 5 10 0 15-10 37-2 8 10 12-8 10-15 8 0 5-5 10 0 5-5 15 0 0 19-5 6 5 11 0 9-6 10 6 3 0 29-25 5-5 13 5 10 11 10 14 7 0 68-24 0-1-15-9-10-6-1-3 6 2 20-22 0-7-9-10-3-10 2-5 10-19 0-6-24-6 4-5 20-68 0-1-16-5-8-5-2-9 11-3 15-60 0 4-20-6-10-8 0-13 13-10 1-7-4-2-20 4-4 10-2 5-9-4-15-6-7-5-1-25 18-9 20 1 15 16 15 0 10-50 0-3-11-5-2-18 13-63 0 4-5 7-3 15 4 10-17 15 3 7-7 5-15 8-4 10-2 5 4 5 18 10-4 10-17 2-10-2-5-25-5-6-15 6-35 15-7 3-8 5-30-8-20 12-15 1-5-3-5-10 4-15 16 3 10-7 25 1 10-10 10-1 10-6 5-6-5 8-15-1-5-11-4-10-14-10-7 3-10-23-24-20 6-20 19-10 3-25-17-25-5-25 1-15-10-30-5-5-3-10-18-5-2-17 5-8 13-5 2-20 0-9-5-11-18-5-3-35-3-19 14-16 6-21-16 1-15-5-3-19 3-11 10-10-2-8-18 4-20-19-25-4-25-14-20 1-25-10-8 0-17-10-15 0-15-5-5 0-11 5-7 10-4 4 2-3 10 3 10 11 5 11-5 3-5-2-5-17-15 11-25-1-8-5 0-10 9-5 2 0-3 45-45 5 0 10-10 5 0 15-15 0-5 10-10 15-35-5-5-15 0-5 5-10 0-5 5-20 0-10-10-7-2 2-13-9-20 14-18 8-4 2 22 5 5 15-10 10 0 5-5 10 0 15-10 10 0 15-15 10 0 5-5 5 0 5-5 0-5 10 0 20-25 0-10-25-15-5 5-10 0-5 5-15 0-5-5-5 0-15-15 0-5-20-20 0-5-5-5 0-8 25-3zM370 280l-4 5 4 3 3-3zM190 445l-15 15-5 0-20 15 0 35-5 5 0 20 10 10 5 0 10-15 0-10 5-5 0-10 5-5 0-10 5-5 0-10 5-5 0-10 5-5 0-5zM585 630l-1 5 6 2 0-9zM710 680l-8 5-1 5 4 6 10 2 5-3 2-10-3-5zM720 516l-2 4 7 0zM740 527l-2 3 7 5 0-6zM755 390l-8 5-5 10 38 2 15 13 5-1 1-9-6-4-15-4-9-12zM820 738l-6 7 1 6 5 1 6-7-1-7zM910 634l-6 6 6 6 3-6zM975 673l-4 7 4 5 5 0 5-13zM800 554l-10 15-12 6 0 5 12 5 13-5 4-10zM920 -5l57 0 0 10-17 16-6-6-2-10zM885 40l5 4 15-1 2 2-2 5-25 5-5-2zM979 55l6 0-5 3zM595 70l5-5 20 0 10 17-20-3-35 2-10 4-5-3 5-5 10 1zM835 70l7-5-3 10 11 12 20-3 25 4 5 2 3 5-3 10-13 10 1 15-4 20 3 20-14 30 1 10-4 20 3 18-3-3-5 5 5 5 4-4 1 4-5 23 0-18-5-5-5 5-8 0-8-15-30-10-4-10 2-5 13-10-6 0-4 4-5-3-9-21-18-13 2-12-3-3 1-7-3-9-30-26 0-25 25-20 25 0 5 5 5-5zM825 159l0 7 5-1 3-5-3-5zM906 135l9-3 6 8-1 20-5 8-5 2-5-6zM84 139l6-2 10 3 9 20-2 7-7-2-10-10zM994 140l11-3 0 20-16-2zM692 157l3 3 5-5 10 0 5 9 15 6 5 5 0 5 20 15 18-10 12 25 3 20-3 7-5 3-10-1-20-11-20 24-5 1-15-16-5-2-10 6-6 9 5 25-4 3-12-8-4-10 7-10 0-15 8-15 6-35zM971 195l9-5 4 5-3 10-11 8-3-8zM927 245l8 1 15 16 15-14 40 4 0 41-20 2-15-23-5-2-10 3-15 15-15-6-5 2 0 6 10 11 30 9 12 25-12 15-5 0-10-8-5 2-12 16 6 15-4 10-30 15-13-20-4-10 27-2 6-8-15-25-20-10-11-27 0-14 6 11 19 12 5-5 1-7-7-20 1-10 5-5 17-5zM766 270l24-4 7 4 2 10-9 6-5 1-20-12zM810 275l5-4 5 2 4 7-9 10-4 0-3-5zM680 320l5-3 2 3-2 12zM1000 330l5-3 0 25-6-2-3-5zM990 365l15 11 0 74-10 10-15 0-12-10 2-10 19-15 0-10-9-6-20 2-5-11 1-10 9-17zM919 440l11 1 2 4-2 6-10-2-3-4zM915 485l16-1-6 6 0 5-11 10zM47 540l3-3 0 7zM44 570l11-3 13 3 3 5-2 5-9 7-20 3-4-10zM13 582l4 3 15 20-22 26-15 2 0-33zM-5 641l5 7 2 12-2 9-5 4zM450 641l5 0 2 4 2 30-9 10-24 10-11 15-8 5-2 20-9 20 4 8 15 7 4 5 1 15 15 10 7-5 3-10 5-5 5 1 3 4 0 20-52 0 2-15-8-3-35 8-8 10-38 0 10-20-1-30 7-15-5-13-9-7 4-5 10-2 16 12 2 5-4 15 6 12 10 2 20-7 3-12-3-25 18-10 3-10 0-15 5-10 9-11 15 7 4-1zM506 660l19-3 10 6-2 22-13 12-6-2zM267 670l8-3 12 8-1 5-26 12-2-12zM-5 702l15-1 1 24 14 13 10 0 10-6 10 1 15-17 5-1 10 15 0 5-5 5-20 8-10 7-30-6-25 1zM304 715l6-2 9 2 1 5-10 15-5 0-5-5zM455 720l15 5 2 10-3 15-14 3-24-13-4-5 0-5zM227 730l8-1 25 16 15-5 10 5-4 5-21 6-3 4 6 15-3 7-20-2-10 9-10 3-15-5-15 0-10 7-3 11-26 0 9-20 20-2 20-16 35 2 5-9-14-20zM142 755l8 3 4 17-2 5-7-3-7-12 0-5zM509 765l6 0 3 5-3 13-5-1-4-7zM80 775l10-2 5 2 2 5-2 9-12-4-4-5zM48 795l7-3 5 3 2 10-20 0zM243 800l7 0 3 5-17 0z"/><path fill="#fddcc9" fill-rule="evenodd" d="M30 -5l5 0 5 5 5-5 10 0 0 3-5 6-5 0zM204 -5l26 25 6 1-11 4-17-10zM173 15l12-5 10 5 1 5-6 7-10 0-5-2zM50 22l20 2 10 11 2 10-2 2-5-2-10-9-20-1zM265 25l5-5 12 12-12 1zM330 40l5-5 5 5 10 0 5-5 7 0 3 13 5 2 7-3 13 13 15 0 10 10 15 0 5 5 0 10 5 5 0 35 5 5 0 10 10 15 0 10 5 5 0 5 10 15 0 10 5 5 15-15 0-15 5-5 0-30 15-15 7-2 1 2-4 10-15 15-2 10 3 13 5 2 15-6 6 6 4 15 10 7 10-8 9-14-7-25 1-25 7-3 20 12 30 1 15-5 15-16 4 6-10 20 5 5 12 5 0 35 9 21-1 14-11 10-23 8-15 0-20 8-10-2-15-14-25 0-15 9-20-15-10 1-8 5-9 15-8 7-40 0-15 7-7 11 4 20-7 8-10-1-5-4-4-8 1-10-22-16-10 9-10 2-25 0-15-6-4 11 5 15-5 10-6 4-10-3-5-8-15-5-10-8-15 8-25-5-5 2-15 20-6 20-11 10-8 20 1 15 14 19 5 5 20 1 6 5 6 15 8 6 6-1 9-11 5 0 15 14 20 0 10 3 10 9 0 18 5 6 5 0 4-4-3-25 32-5 32 8 9 17 6 1 20-3 15 2 15-10 20-2 15 15 39 7 12 10 9 3 7-3-1-15 9-2 5 2 7 10 13 6 30-5 20 10 10-3 6-8 2-30-1-10-12-15 5-8 20 2 15-8 5 1 4 3-1 5-18 15 2 5 23 12 5 0 6-7-2-20 6-6 5 1 10 13 30 0 10-4 10 3 20 16 15 7 3 5 0 40-9 20 0 15-4 13-15 28-10-2-12-14 0-20 12-8 3-12-13-27-5-1-5 4-7 29-28-4-10 8-2 6 2 6 10 7 15 3 15 14 1 5-11 20 0 14 35-1 25 9 20-17 0-25 10-2 3 7-2 20 15 20-4 10-15 20 0 5 8 8 14 7-7 20 8 3 13-3 6-5-1-10-13-14 0-7 5-6 7 2 8 10 10 0 17-10-2 10 5 15-4 15 4 2 20-14 20-5 35-42 10-1 5-5 15 0 0 12-10 1-10 12-10 2-5 8 5 5 15-4 5 4-2 10-8 7-20 4-6 14 10 40-6 15 2 5 20 3 20-1 0 35-15 10-15-15-21-2-3 5 5 20-1 6-5 1-20-16-25 3-5-9 0-13-5-2-15 5-15 14-30-1-20 6-10-14-1-10 6-6 15-4 15-25 20-5 7-20-2-4-20 12-10 15-15 3-15 13-15 0-5 4-7 17 7 10-8 30-47 0 6-15-4-20-22-9-1-6 5-10 14-5 5-5-3-10-5-5-20 10-20-14-5 2-10 14-5 1-4-8 20-20 9-4 35 7 12-28-1-5-6-4-30 3-15-5-5 3-10 13-3 15-27 2 2 18-8 15-9 2-10-7-1-10 6-20 5-5 10 3 6-23 10-10-2-15-10-20-1-5 12-20 0-5-5-5-10-2-20 14-25 1-15 14-14-7-9-15-17-4-35 24-6-5-1-10-3-5-7 0-18 10-38-5-4-5 2-15-10-9-8 4-4 10-8 4-20-5-10-16-5-3-25 6-15 10-14-1-16-23-5-3-20 5-25-2-30 16-11-8-2-5 3-7 11-8-6-17-25 11-14-4-1-5 5-5 0-10 5-5 0-10 5-5 0-10 5-5 0-10 5-5 0-10 5-5 0-5-5-5-15 15-10-1-8 6-7 10 0 35-5 7-16-17-4-10 0-25 8-15-16-10-2-25-5-2-15 1 0-9-10-15 0-12 5-3 25 4 14-9 2-5-14-20 7-25-5-24 21-21 15 1 9-6 1-10 20-25 15-35-5-5-15 0-5 5-10 0-5 5-20 0-9-9 9-6 20 5 5-2 17-13 10-15-2-5-17-8 2-2 10 0 15-10 10 0 14-14 11-1 5-5 5 0 5-5 0-5 10 0 10-10 0-5 10-10 0-10-25-15-5 5-4 0 4-4 30 2 37-23zM375 64l-11 16 6 5 10-5 6-10-1-5zM445 212l-2 3 2 6 20 2 5-3-15-8zM500 181l-1 14 6 9 5 2 4-6-1-5zM600 169l10 14 2-3-2-5zM695 599l-14 1-1 7 7 3 23-15-5-4zM780 610l-5 3-3 12-22 26 15 5 15-4 18 3 0-15 12-12 1-8-11-10zM885 689l3 6 11 10 7 0 5-5-3-5zM940 718l-2 7 2 24 7-24-2-6zM755 730l-4 5 4 2 5-2zM201 55l9-2 19 7 1 10-10 0-5-5-5 0zM90 70l5 1 1 4-6 5zM612 65l8 0 5 5 0 5-11-5zM779 75l-4 10 1 15-21 16-5-3 1-19zM804 79l26 2 9 9-2 10-32 14-10-2-8-7-2-10 7-10zM868 95l7-2 3 2 1 5-4 4-5-2zM840 117l20 9 15-9 6 8 1 10-7 16-5 0-10-14-30 6-10 6-7 26 2 5 11 10-2 5-9 3-5-13-18-10-5-30-16-20 9-5 20 6zM659 130l7 0-6 6zM95 147l5 18-10-10-3-8zM136 145l4-2 0 17 5 5 5-5 14-5-5 15-4 4-15 4-10-5-4-13zM697 158l7-3 3 20 8 6 15 1 4-8 1 6 14 9-14 6-15 0-5 4 5 21 10 2 5 5-2 8-8 6-5-4-5-14-15-1-5-6-1-16 8-15zM875 162l5 8-2 10-13 19-15 0-11-14 1-10 5-7zM765 190l8 10 1 5-4 7-10-6-4-11 4-5zM837 210l8-3 18 13 4 37-2-2-6 5-12-20-24-10 1-5zM566 250l9 0 5 4 3 6-2 5-11 3-7-3-2-10zM911 265l19-3 2 3-2 3-20 4-3-2zM1001 280l4-3 0 8zM350 300l10 0 1 5-6 10-5 1-5-6zM805 305l0 5 10 10 12 5-3 20 4 15-3 3-11 2-2-10-7-6-7 1-1 5 18 35 1 10-11-1-25-17-10-3-20 2-15 13-5 0 0-15 5-4 15-3 14-12 2-5-11-25 2-15 8-5zM913 305l32 20-20 25-5 0-5-5-16-25zM946 325l9-4 5 11-5 1zM854 345l1-4 5 13zM699 360l6-1 6 6-6 3zM896 380l4-3 8 3-8 4zM974 380l16-5 15 10 0 22-10 3-15-6-15 0-3-9zM821 405l4-2 6 2 3 10-4 4-10-4zM1004 435l-1 17-8 8-16-1-4-9 0-5 5-4zM838 510l7-1 5 3 2 13-7 8-15 1-6-4 1-10zM143 545l7-5 6 5-2 10-4 3-5-3zM10 606l7 4-4 10-8 4-10-3 0-10zM1005 669l0 19-10-1-3-7 3-5zM419 675l6-3 6 8-6 5-5-2zM-4 735l4-5 5 0 7 10-7 2zM369 765l6-3 10 2 8 11-3 5-10 5-10-3-3-7zM347 790l4 0-1 15-17 0zM649 795l6-2 4 2 3 10-12 0zM418 800l10 5-15 0zM860 795l5 3 1 7-22 0zM993 800l12-3 0 8-15 0zM48 805l7-4 2 4z"/><path fill="#f8bb9e" fill-rule="evenodd" d="M210 0l14 14-9-4zM337 37l3 3 10 0 4-4 8 24-7 20 1 5 9 6 15-2 15-19 10-5 15 5 9 35 11 6 0 14 5 5 0 10 10 15 0 10 7 20-7 10-15 7-4 8 0 10 4 7 25 7 3 6-13 7-30-1-30 22-15-4-15-18-5-1-9 15-6 5-20 0-10-5-15-16-10 24-25 3-10-2-20 13-25-9-26 42-14 15 1 10-7 25 10 20-1 25 22 7 15-3 15 12 20 1 6 3 4 14 15-11 10-4 10 1 8 10 4 20 8 5 7 0 6-5 3-20 3-5 16-2 27 7 8 18 5 4 25-9 25 6 25-14 20 16 15-2 15 4 11 12 9 5 15 1 20-6 25 4 20-6 20 10 21-13 0-20 4-10 5-4 15 1 8 8 0 5-12 15 0 5 14 11 7-11-1-20 19-21 25-2 5 13 5 2 7-2 8-14 5-1 9 5 11 13 16 7 3 10-5 25-9 14-5-1-13-13-7-25-24 15-2 15-4 10-5 2-20-2-5 2-10 18 4 10 11 10 20 3 7 7-2 10-10 14-20 7-15 11-20-5-10 6-30-8-14 15-31 1-5 2-5 11-5 1-6-5-3-10-5-5-16-5-15 4-15 12-5 0-15-12-10 2-15 9-10 0-21-5-6-20-13-9-10 2-15 9-15-5-10-13-45 8-15-6-10-14-5-2-25 9-25-5-5-4-1-15-4-8-25-20-10 3-4 15-6 8-5 1-5-2-5-12 5-5 0-10 5-5 0-10 5-5 0-10 5-5 0-10 5-5 0-5-5-5-12 12-7-7-1-15-7 15-13 10-5 20-5 5-5-2-3-13 11-15 0-5-19-15-4-24-5-10-5-2-15 6-10-18 10-4 20 2 23-15 1-5-16-20 6-25-2-25 8-12 20-1 12-7 5-10-3-9 16-21 0-5 15-25 0-5-5-5-15 0-5 5-8 0 42-35-10-15 3-10 8 0 7-7 23-13 5 0 7-5-1-5 9 0 20-25 0-10 24-20zM245 474l-6 6 1 6 5 2 5-3 2-5zM350 444l-5 5 1 6 9 8 5-3 1-5-6-9zM670 550l-10 3-5 7 10 10 5 1 5-6 0-10zM725 465l-5 5 11 0zM310 100l-5 1-5 9 5 9 5 2 8-11-1-5zM770 80l-5 13-5-8 5 0zM797 85l13-4 15 1 8 8 1 5-9 8-25 6-9-9 1-10zM437 87l3 3 0 15-4-10zM510 125l-3 10-12 10 0-5zM559 130l16 8 35 4 6 3-1 9-20 4-20 11-5-1-12-28zM825 128l8 2-17 10-7 20-4 6-5 0-3-21 3-5zM138 150l2 10 5 5 9-5-6 10-8 1-7-6 1-10zM640 155l6 5-1 21-9 9 19 15 0 10-5 7-10 4-20 1-30 11-8-3-12-11-24-4-3-5 6-15 11-15 10-6 7 6 8 16 10-13 15 8 10-1 7-10-9-25zM847 175l8-4 10 0 7 4 0 5-7 12-10 3-9-10zM138 200l7-2 19 3-4 4-20 0zM700 202l5 1 0 9-5-1zM520 215l5-4 5 4-5 6-4-1zM840 220l6 5-6 4-5-4zM805 309l10 11 7 2 0 8-2 10-5 5-15-1-13 6-4 5 4 10-2 2-3-2 1-5-18-20-3-10 0-10 3-5zM922 330l4 0-1 5zM979 385l6-3 10 3 7 10-2 5-10 2-17-7zM835 520l5 0-5 2zM820 590l10 5 2 10-7 10-5 0-6-5-4-10zM665 598l10 21 5 3 40-22 15 8 23-8 4 5 1 20-8 12-14 8-15 15-11 7-15 1-20-10-10 6-5-2-21-32 3-10zM715 633l-1 7 6 2 4-2 1-6-5-2zM998 605l7 0 0 7zM874 645l6-5 5 1 6 9-1 10-10 9-5-3-2-6zM825 657l3 3-2 10 4 8 35-2 5 2-1 7-39 36-25 15-15-1-15 6-10-26 1-5 10-10-8-10 2-10 10-10 25-1zM925 670l20-1 4 6 0 10-4 4-5-1-10-9-15 4-5-3zM1004 675l1 9-5-4zM647 680l8-3 5 2 0 13-10 3-5-5zM737 695l8-3 7 3 12 15-14 12-10 1-5-18zM880 710l25 2 20-6 5 3 0 26-5 21-5 9-5-2-32-33-6-10zM700 715l5-4 7 4-2 5-5 1zM838 745l7-3 15 15 5 0 10-8 9 1 2 5-26 19-20 3-25-5 0-3 10-5zM747 755l3-4 5-1 2 5-7 3zM957 755l3-4 9 4-4 6zM1000 755l5-5 0 18-7-3zM743 770l7-5 21 20 0 20-34 0z"/><path fill="#ee9677" fill-rule="evenodd" d="M320 50l20-4 8 4 6 10-5 25 16 11 10 2 7-3 18-20 10-1 5 6 7 25 8 12 15 13 0 10 3 3-7 2-1 5 6 10 0 15-18 15-2 5 7 40-18 8-25 19-10-4-10-16-10-4-6 2-9 17-5 3-10 1-10-6-13-20-6-20-6-3-5 1-6 7-2 10 7 20-4 8-25 2-20-6-3 1 5 5-1 10-4 5-7 2-10-7-5-10-23 5 6 15-1 5-17 26-17 14 3 15-2 10-9 18-5 1-22-24 5-20-1-25 8-10 30-10 13-15-10-13 27-47 0-5-9-5 9-15 10-3 20 10 5-1 3-6-3-10-24-15-4-10 8-7 45-18 3-5-2-6 9-9 0-5 15-11 14-19zM330 197l-5 6-6 17 4 10 7 4 5-3 1-6-3-15 2-12zM363 190l7 3 4-3zM230 250l5 2 1-2zM305 94l-8 6-2 10 5 11 10 8 9-9 4-15-8-8zM803 85l12-2 9 2 5 5 1 5-15 10-15 0-6-10zM852 180l8-4 6 4-1 5-5 5-5-1zM565 190l8 5 3 10-4 10-7 2-10-2-2-10zM595 205l5-4 28 9-8 2-6 8-9 4-15 1-2-5zM805 312l13 8 1 10-4 8-40 6-6-9 1-13zM139 375l16-4 10 11 3 8-4 30-9 24-5 1-20-11-10-39 2-10zM182 430l3-2 10 10 15-11 29 8 3 5-1 15-12 30 3 10 8 3 10-3 14-15 1-17 2 12 13 3 15-13 20 6 20-15 20 17 30 8 5-2 6-14 9-6 25 7 35 1 10 13 10 3 10-3-3-10 3-4 5-1 7 5-1 15 14 8 17-3 0 5-6 5-1 5 5 6 15 2 5 0 4-8 1-15 5-6 20 1 15 5 15-4 15 5 20-13 10-3 29 25-2 25 18 23 5 3 15-3 5 7-10 12-15 5-15 13-5 0-5-5 3-20-2-10-6-11-5-1-55 32-4 5 0 15-9 5-12 0-15-13-15 6-25-3-25 10-15-6-10 1-22 10-11 0-12-5-9-20-11-7-15-1-20 6-20-14-25 7-28-6-5-5-1-10 4-7 16-8-1-10-5-5-10 1-10 16-23 18-12 4-10-2-10-8-20-34-15-12-5-2-10 2-20 17 5-25 15-25-2-8 2-7-5-5-5 5zM283 435l9 5 1 10-3 7-24 3 3-15 6-7zM705 445l5-3 5 2 3 6-13 9-5-4zM658 450l7-5 4 5-4 7-5 0zM786 455l9-1 3 6-3 11-5 8-5 3-5-5-1-7zM705 477l10 1 15 7 1 5-6 4-18-4-5-5zM643 575l7-4 6 4 0 5-11 1zM712 610l8 0 3 5-1 5-18 10-3 5 1 5 15 10 2 5-9 8-14-3-11-13-15 4-5-2-14-19 0-5 9-6 10 13 10 4 22-21zM746 615l4 0 6 10-6 9-10 2-5-6 1-5zM795 680l15-2 20 9 20-4 7 2-1 5-16 10-11 15-19 11-5 2-25-3 0-10 9-10 1-20zM888 720l32-5 5 5 1 5-6 19-5 4-5-2-19-16zM835 755l5-5 5 1 7 14-5 5-10 0-4-5zM748 780l7-1 10 11-1 15-20 0z"/><path fill="#db6b55" fill-rule="evenodd" d="M321 55l14-2 10 5 2 7-3 25 31 15 3 5 2 13 5 2 4-10-4-10 3-5 12-14 5-1 5 6 14 34-7 15 0 10 3 5 15 6 3 4-1 5-7 6-15-7-6 6 5 25 11 12 0 16-10 5-10-1-5-16-5-2-10 7-10 13-28-4-7-15 5-12 10-3 25 4 6-4-6-16-25-7-30 9-10 18-5 4-15-4-14 6-6 10 0 25-5 4-15 0-20-11-35 17-18-5-5-7 8-8 0-5 15-25 5-18 5-2 15 8 10 2 5-2 4-8-4-17-25-18-1-5 7-5 29-8 15-8 7-9 0-5-6-6 6-11 36 47 0 10-9 15 1 7 10 10 5 1 5-3-7-30 5-20 14-25-1-5-31-20 7-15zM811 85l14 4 1 6-11 8-15-2-3-6 2-5zM564 200l5 5-4 5-6-5zM380 245l10-2 4 2 0 5-4 4-5 1zM184 280l2 5-5 5-6 20-24 15 0 5 9 13-3 12-7 4-5-2-11-12 10-15-7-25 10-10 30-10zM790 320l10-4 10 1 5 7 0 6-5 6-27-1-3-5zM134 380l16-2 10 6 3 6-5 30-8 13-5 2-12-5-8-30 0-10zM213 435l17 2 5 8-3 15-7 13-5 5-10 2-7-5-2-20 4-13zM335 468l20 15 35 7 11-5 4-18 5-1 15 6 25 0 10 6 4 12 6 6 20 9 15-4 10 3 21 21 3 10 6 4 15-1 10-6 13 13 17 6 6 9-2 5-9 5-15-1-20 5-10-5-15-15-4 6 2 15-23 7-11-17 17-20-11-11-10 6-5 10-1 10 4 10-3 10-11 5-17 0-7 6-5-1-20-24-20-4-25 5-15-12-30 7-20-7-4-5 2-5 13-10 5-20 15-10-2-5-9-1-15 7-20 2-15 20-15 10-10-9-15 7-5-4-7-17 1-5 6-5 20-13 5 0 15 11 7-8 0-15 3-4 15 2zM420 529l-4 6 2 5 7 5 5-2 0-15zM648 485l7-2 7 2 15 20-2 11-10 3-20-17-3-7zM574 490l11 2 15 17 10-2 4 3 6 15 5 3 5 0 15-13 6 5 0 10-16 9-10 10-5-1-25-23-10 0-10 5-5-5-3-15 1-15zM802 690l8-2 14 12-1 10-13 9-10-4-2-5zM904 725l11 0 0 5-9 0z"/><path fill="#c53e3d" fill-rule="evenodd" d="M324 60l11-1 6 6-4 20-7 7-10-2-7-10 0-10zM803 90l12-3 7 3 1 5-8 6-10 0-5-6zM400 100l5-1 5 5 6 16-2 10-9 13-5 0-7-8 3-30zM342 105l8-5 5 1 15 12 7 22 2 35-4 4-20-5-20 9-5 0-7-8-4-15 4-25zM285 126l15 13 1 11-9 20 1 5 12 15 0 5-30 8-10 7 1 25-6 6-10-1-20-11-25 19-10 1-5-3-1-11 15-20 7-15 4-2 15 8 15-5 5-5 1-16-11-25 13-5 7-15zM400 155l5-5 2 5-2 4zM394 175l6 2 4 8 1 5-5 6-5 0-7-11-1-5zM348 215l2-5 14 5-3 5-6 1-5-1zM159 295l11 0 2 10-7 5-13 0-2-5zM805 320l5 3 0 7-10 2-7-2 0-5zM144 345l6-2 2 7-7 0zM132 385l8-4 10 1 8 8-2 25-11 11-7-1-6-10-4-20zM212 445l8-4 7 4-2 15-10 10-5-2-2-8zM323 480l12-2 4 7-19 11-6-6zM440 476l10 2 10 19 34 23 0 10-19 35-5 4-10 0-10-7-12-17 0-20-8-7-24 12-2 5 8 15-18 10-9 0-15-12-5-1-20 9-9-1-5-5 1-5 18-20 10 10 25-12 4-3-2-15 3-5 18-10 7-8zM575 500l5-2 5 6 0 6-5 5-5-2zM548 550l7-4 10 0 26 14-31 6-10-6z"/><path fill="#ab162a" fill-rule="evenodd" d="M323 70l7-3 3 3-1 10-7 6-5-6zM808 90l9 0 2 5-9 4-5-2-1-2zM347 110l8-2 10 7 6 15-1 17-5 12-10 0-12 11-8 3-7-3-4-10 2-25 4-10zM268 140l7-4 10 0 8 4 3 5-2 10-9 14-15 10-10-4-3-10zM240 215l5-2 8 2 4 5 1 10-8 2-5-2-6-10zM207 225l8-3 2 8-7 8-10 3-3-6zM138 385l12 1 6 9-3 15-8 9-8-4-6-15 1-10zM437 485l8-2 10 18 20 12 11 12-16 35-10 1-15-15-2-11 5-15-13-11-10-3-10 9-10 4-5-4 1-10 24-8z"/><path fill="#7c0722" fill-rule="evenodd" d="M355 121l5 1 5 8 1 10-25 25-6 3-5-4-3-9 3-20 5-7zM274 145l11-1 4 6-9 15-10 3-3-8zM137 390l8-2 7 7-2 12-5 5-5-2-5-9zM450 535l15-4 5 3 0 11-5 9-5 0-10-9z"/><path fill="#67001f" fill-rule="evenodd" d="M337 135l18-1 3 6-23 18-3-13zM139 395l6-3 3 3-3 9-5-2z"/></g><g transform="scale(0.1)"><path fill="#fff" fill-rule="evenodd" d="M819 546l4-15 0-10 6-10 6-5 13-5 12-8 8-1 9-4 20-3 4-3 9-11 10-17 5-3 8-1 4-7 9-10 8-5 11-4 6-1 12 5 2-8 1-11 3-5 5-3 6-1 15 0 0 239-11-9-3 0-26 7-10 1-12 4-4 5-9 6-14 1-11-1-13 1-15 9-7 2-18 0-8-2-13-9-4-5-2-7 1-11 5-7-4-7-3-17-13-35 1-7zM214 467l-16 53-13 35-4 5-5 3-16 6-6 1-6-2-16-8-8-13-5-22 0-6 2-9 7-14-3-13 0-11 2-7 4-8 5-6 9-4 7-3 9-5 11-15 4-7 10-11 6-1 6 0 5 3 4 5 7 17 5 26zM934 1l-4 14-18 25-7 15-4 5-9 6-9 10-9 7-8 3-10 1-36 11-7 11-6 2-6 1-6-2-5-5-3-7-13 10 6 8 15 15 9 14 4 24-2 20-9 11-13 7-7 3-5 6-9 6-14 6-7-1-2-2-7 3 8 9 7 13 2 11 6 14 1 9-1 6-1 3 3 6 16 19 3 5 1 6-2 17 23 7 3-2 6-2 6 1 15 4 12 8 10 2 5 4 4 12 1 6-2 5-3 4-5 3-11 3-13-3-27-3-9-3-12 0-18-4-14-6-5-3-4-6-29-20-16-19-23-41-17-21-14-15-2-5-1-13 3-5 4-4 5-2 14 2 12 0-5-7-1-5 0-11 4-21-1-9-8-23-5 2-10 1-12-3-4-3-3-5-1-5 1-16-7-11-9-8-4-7-2-5-15 4-10 1-7 12-13 6-14 13-12 9-4 6-10 4-5 6 1 15-6 33-13 16-5 3-7 8-5 3-6 1-11-3-6-4-7-11-7-19-10-18-10-26-10-33-1-13-3 1-6-1-8-3-12-8-5-6-3-9-15-12-4-8-13 2-40-1 7 8 1 6-2 7-4 8-8 8-12 19-5 6-8 5-8 3-8 8-19 8-14 11-7 3 0 5 4 2 4 4 2 6-1 8 2 9-1 5-5 8-4 14-21 36-10 12-12 13-25 17-10 9-17 19-10 9-9 22 3 7 0 13 8 17 4 15 2 32-1 9-3 7-10 14-12 10-17 7-14 13 4 14 1 17-4 14-3 6-19 10 0 7-3 12-6 11-3 4-8 7-16 19-13 11-10 5 0-656 949 0zM818 256l10-12 7-4 11-4 11-15 5-3 5-2 6 1 5 2 9 8 6 3 12 10 2 5 0 6-2 5-13 11 1 7 10 11 1 6-1 6-3 5-10 5-9 15-2 9-4 11-7 9-6 3-11 2-7 0-5-3-4-5-15 2-6-1-6-4-14-3-4-4-4-14-10-19 0-14 3-10 6-10 6-5 6-1 4 1 4-5z"/></g>
<use href="#land" fill="#d3d3d3" stroke="#111" stroke-width="0.5" vector-effect="non-scaling-stroke" stroke-linejoin="round"/>
<use href="#isl" fill="none" stroke="#111" stroke-width="0.5" vector-effect="non-scaling-stroke" stroke-linejoin="round"/>
<path d="M10,0V80M30,0V80M50,0V80M70,0V80M90,0V80M0,10H100M0,20H100M0,30H100M0,40H100M0,50H100M0,60H100M0,70H100" stroke="#888" stroke-opacity="0.22" stroke-width="0.6" vector-effect="non-scaling-stroke" fill="none"/>
</g></g>
<rect x="27.00" y="20.00" width="143.50" height="117.40" fill="none" stroke="#707070" stroke-width="0.9"/>
<text x="12.8" y="14.8" font-size="12.5">(a)</text>
<text x="99.2" y="16.6" font-size="12.5" text-anchor="middle">SJTU-AViT</text>
<text x="24.4" y="37.1" font-size="9" text-anchor="end">20°N</text>
<text x="24.4" y="51.8" font-size="9" text-anchor="end">10°N</text>
<text x="24.4" y="66.4" font-size="9" text-anchor="end">0°</text>
<text x="24.4" y="81.1" font-size="9" text-anchor="end">10°S</text>
<text x="24.4" y="95.8" font-size="9" text-anchor="end">20°S</text>
<text x="24.4" y="110.5" font-size="9" text-anchor="end">30°S</text>
<text x="24.4" y="125.1" font-size="9" text-anchor="end">40°S</text>
<g transform="translate(189.50,20.00) scale(1.43500,1.46750)">
<g clip-path="url(#pc)">
<rect x="0" y="0" width="100" height="80" fill="#fff"/><g transform="scale(0.1)"><path fill="#053061" fill-rule="evenodd" d="M15 -5l20 0 5 5 5-5 10 0 5 15 10 10 0 5 10 10 0 5 15 15 0 5 10 15 0 10 5 5 0 5 20 25 0 5 10 15 0 20 5 5 15-10 10 0 5-5 10 0 15-10 10 0 15-15 10 0 5-5 5 0 5-5 0-5 10 0 20-25 0-10-25-15-5 5-10 0-5 5-15 0-5-5-5 0-35-40 0-5-5-5 0-20 35 0 25 25 5 0 5 5 10 0 5-5 15 0 15 15 20 0 5 5 20 0 5-5 5 5 10 0 5-5 15 0 5 5 0 5 15 15 15 0 10 10 15 0 5 5 0 10 5 5 0 35 5 5 0 10 10 15 0 10 5 5 0 5 10 15 0 10 5 5 15-15 0-15 5-5 0-30 15-15 5 0 25-25 15-5 5-5 0-10 5-5 20 0 15-10 20 0 5 5 5 15 15 15 5 15 10 10 5-5 10 0 10 10 0 15 10 15 5-5 10 0 15 15 5 0 10 15 5 0 10 10 5-5 15-5 10-10-5-25-30-30 0-25 10-10 5 0 10-10 25 0 5 5 15-10 15 0 5-5 25-5 25-25 0-10 15-15 5-15 95 0 0 455-10 10-15 0-10-10-5 0-10 10 0 5-5 5-5 0-20 20 0 5-10 10-5 0-5 5-20 0-5 5-10 0-25 15 0 20 5 5 0 20 5 5 0 10 5 5 0 15 5 5 0 20 5 5 10 0 15-10 35 0 20-15 20 0 5-5 10 0 5-5 15 0 0 200-1010 0 0-205 20-20 0-5 5-5 0-20 5 0 20-15 0-15-5-5 0-20 25-25 15-5 15-15 0-45-10-15 0-15-5-5 0-20 5-5 10-25 45-45 5 0 10-10 5 0 15-15 0-5 10-10 0-5 15-25 0-5-5-5-15 0-5 5-10 0-5 5-20 0-20-15 0-10-30-25-10-25-10-10 0-5-5-5 0-10-5-5 0-10-10-10-5-15-10-10 0-5-20-35zM695 275l-5 5 15 20 0 5 15 20 0 5 20 15 5 0 10-10-10-10 0-5-10-10 0-5-15-15-15-5zM720 250l-5 5 0 5 5 5 5-5 0-5zM850 260l-20 20-5 0-10 10-10 0-5 5 5 15 10 10 5 0 5 5 25 0 5-5 5-15 10-10 0-35-5-5-5 5zM870 245l-5 5 5 5 5-5zM190 445l-15 15-5 0-20 15 0 35-5 5 0 20 10 10 5 0 10-15 0-10 5-5 0-10 5-5 0-10 5-5 0-10 5-5 0-10 5-5 0-5z"/><path fill="#0e4179" fill-rule="evenodd" d="M15 -5l20 0 5 5 5-5 10 0 5 15 10 10 0 5 10 10 0 5 15 15 0 5 10 15 0 10 5 5 0 5 20 25 0 5 10 15 0 20 5 5 15-10 10 0 5-5 10 0 15-10 10 0 15-15 10 0 8-5-12 15-4 20 4 10 14 4 10-4 10-9 10-26-1-15-4-5-9-1 19-24 0-10-25-15-5 5-10 0-5 5-15 0-5-5-5 0-35-40 0-5-5-5 0-20 35 0 25 25 5 0 5 5 10 0 5-5 15 0 15 15 20 0 5 5 20 0 5-5 5 5 10 0 5-5 15 0 5 5 0 5 15 15 15 0 10 10 15 0 5 5 0 10 5 5 0 35 5 5 0 10 10 15 0 10 5 5 0 5 10 15 0 10 5 5 15-15 0-15 5-5 0-30 15-15 5 0 25-25 15-5 5-5 0-10 5-5 20 0 15-10 20 0 5 5 5 15 15 15 5 15 10 10 5-5 10 0 10 10 0 15 10 15 5-5 10 0 15 15 5 0 10 15 5 0 10 10 5-5 15-5 10-10-5-25-30-30 0-25 10-10 5 0 10-10 25 0 5 5 15-10 15 0 5-5 25-5 25-25 0-10 15-15 5-15 95 0 0 455-10 10-15 0-10-10-5 0-10 10 0 5-5 5-5 0-20 20 0 5-10 10-5 0-5 5-20 0-5 5-10 0-25 15 0 20 5 5 0 20 5 5 0 10 5 5 0 15 5 5 0 20 5 5 10 0 15-10 35 0 20-15 20 0 5-5 10 0 5-5 15 0 0 200-1010 0 0-205 20-20 0-5 5-5 0-20 5 0 20-15 0-15-5-5 0-20 25-25 15-5 15-15 0-45-10-15 0-15-5-5 0-20 5-5 10-25 45-45 5 0 10-10 5 0 15-15 0-5 10-10 0-5 15-25 0-5-5-5-15 0-5 5-10 0-5 5-20 0-20-15 0-10-30-25-10-25-10-10 0-5-5-5 0-10-5-5 0-10-10-10-5-15-10-10 0-5-20-35zM585 89l-15 7-4 9 2 5 12 7 18-2 11-10-1-10-10-5zM695 275l-5 5 15 20 0 5 15 20 0 5 20 15 5 0 10-10-10-10 0-5-10-10 0-5-15-15-15-5zM720 250l-5 5 0 5 5 5 5-5 0-5zM850 260l-20 20-5 0-10 10-10 0-5 5 5 15 10 10 5 0 5 5 25 0 5-5 5-15 10-10 0-35-5-5-5 5zM870 245l-5 5 5 5 5-5zM190 445l-15 15-5 0-20 15 0 35-5 5 0 20 10 10 5 0 10-15 0-10 5-5 0-10 5-5 0-10 5-5 0-10 5-5 0-10 5-5 0-5zM250 110l9 0-9 4z"/><path fill="#1f63a8" fill-rule="evenodd" d="M15 -5l20 0 5 5 5-5 10 0 5 15 10 10 0 5 10 10 0 5 15 15 0 5 10 15 0 10 5 5 0 5 20 25 0 5 10 15 0 20 5 5 15-10 10 0 5-5 10 0 15-10 10 0 15-15 9 0-9 20-1 15 6 12 15 2 21-14 9-15 4-15-1-20-11-7 3-8 10-10 0-10-25-15-5 5-10 0-5 5-15 0-5-5-5 0-35-40 0-5-5-5 0-20 35 0 25 25 5 0 5 5 10 0 5-5 15 0 15 15 20 0 5 5 20 0 5-5 5 5 10 0 5-5 15 0 5 5 0 5 15 15 15 0 10 10 15 0 5 5 0 10 5 5 0 35 5 5 0 10 10 15 0 10 5 5 0 5 10 15 0 10 5 5 15-15 0-15 5-5 0-30 15-15 5 0 25-25 15-5 5-5 0-10 5-5 20 0 15-10 20 0 5 5 5 15 15 15 5 15 10 10 5-5 10 0 10 10 0 15 10 15 5-5 10 0 15 15 5 0 10 15 5 0 10 10 5-5 15-5 10-10-5-25-30-30 0-25 10-10 5 0 10-10 25 0 5 5 15-10 15 0 5-5 25-5 25-25 0-10 15-15 5-15 95 0 0 455-10 10-15 0-10-10-5 0-10 10 0 5-5 5-5 0-20 20 0 5-10 10-5 0-5 5-20 0-5 5-10 0-25 15 0 20 5 5 0 20 5 5 0 10 5 5 0 15 5 5 0 20 5 5 10 0 15-10 35 0 20-15 20 0 5-5 10 0 5-5 15 0 0 200-1010 0 0-205 20-20 0-5 5-5 0-20 5 0 20-15 0-15-5-5 0-20 25-25 15-5 15-15 0-45-10-15 0-15-5-5 0-20 5-5 10-25 45-45 5 0 10-10 5 0 15-15 0-5 10-10 0-5 15-25 0-5-5-5-15 0-5 5-10 0-5 5-20 0-20-15 0-10-30-25-10-25-10-10 0-5-5-5 0-10-5-5 0-10-10-10-5-15-10-10 0-5-20-35zM585 84l-20 9-4 7 1 10 3 5 10 6 15 2 10-3 17-15 2-10-14-9zM695 275l-5 5 15 20 0 5 15 20 0 5 20 15 5 0 10-10-10-10 0-5-10-10 0-5-15-15-15-5zM720 250l-5 5 0 5 5 5 5-5 0-5zM850 260l-20 20-5 0-10 10-10 0-5 5 5 15 10 10 5 0 5 5 25 0 5-5 5-15 10-10 0-35-5-5-5 5zM870 245l-5 5 5 5 5-5zM190 445l-15 15-5 0-20 15 0 35-5 5 0 20 10 10 5 0 10-15 0-10 5-5 0-10 5-5 0-10 5-5 0-10 5-5 0-10 5-5 0-5z"/><path fill="#3480b9" fill-rule="evenodd" d="M15 -5l20 0 5 5 5-5 10 0 5 15 10 10 0 5 10 10 0 5 15 15 0 5 10 15 0 10 5 5 0 5 20 25 0 5 10 15 0 20 5 5 15-10 10 0 5-5 10 0 15-10 10 0 15-15 5 0-9 20-2 15 5 15 11 5 15-3 10-6 17-21 6-20 0-20-3-8-10-7 10-10 0-10-25-15-5 5-10 0-5 5-15 0-5-5-5 0-35-40 0-5-5-5 0-20 35 0 25 25 5 0 5 5 10 0 5-5 15 0 15 15 20 0 5 5 20 0 5-5 5 5 10 0 5-5 15 0 5 5 0 5 15 15 15 0 10 10 15 0 5 5 0 10 5 5 0 35 5 5 0 10 10 15 0 10 5 5 0 5 10 15 0 10 5 5 15-15 0-15 5-5 0-30 15-15 5 0 25-25 15-5 5-5 0-10 5-5 20 0 15-10 20 0 5 5 5 15 15 15 5 15 10 10 5-5 10 0 10 10 0 15 10 15 5-5 10 0 15 15 5 0 10 15 5 0 10 10 5-5 15-5 10-10-5-25-30-30 0-25 10-10 5 0 10-10 25 0 5 5 15-10 15 0 5-5 25-5 25-25 0-10 15-15 5-15 95 0 0 455-10 10-15 0-10-10-5 0-10 10 0 5-5 5-5 0-20 20 0 5-10 10-5 0-5 5-20 0-5 5-10 0-25 15 0 20 5 5 0 20 5 5 0 10 5 5 0 15 5 5 0 20 5 5 10 0 15-10 35 0 20-15 20 0 5-5 10 0 5-5 15 0 0 200-1010 0 0-205 20-20 0-5 5-5 0-20 5 0 20-15 0-15-5-5 0-20 25-25 15-5 15-15 0-45-10-15 0-15-5-5 0-20 5-5 10-25 45-45 5 0 10-10 5 0 15-15 0-5 10-10 0-5 15-25 0-5-5-5-15 0-5 5-10 0-5 5-20 0-20-15 0-10-30-25-10-25-10-10 0-5-5-5 0-10-5-5 0-10-10-10-5-15-10-10 0-5-20-35zM585 80l-15 4-9 6-5 10 0 10 4 7 10 7 15 3 15-2 21-15 6-15-2-5-10-6zM695 275l-5 5 15 20 0 5 15 20 0 5 20 15 5 0 10-10-10-10 0-5-10-10 0-5-15-15-15-5zM720 250l-5 5 0 5 5 5 5-5 0-5zM850 260l-20 20-5 0-10 10-10 0-5 5 5 15 10 10 5 0 5 5 25 0 5-5 5-15 10-10 0-35-5-5-5 5zM870 245l-5 5 5 5 5-5zM190 445l-15 15-5 0-20 15 0 35-5 5 0 20 10 10 5 0 10-15 0-10 5-5 0-10 5-5 0-10 5-5 0-10 5-5 0-10 5-5 0-5z"/><path fill="#529dc8" fill-rule="evenodd" d="M15 -5l20 0 5 5 5-5 10 0 5 15 10 10 0 5 10 10 0 5 15 15 0 5 10 15 0 10 5 5 0 5 20 25 0 5 10 15 0 20 5 5 15-10 10 0 5-5 10 0 15-10 10 0 16-15-9 20-2 20 5 16 10 6 15-3 15-7 22-27 6-40-3-12-11-7 6-6 0-10-25-15-5 5-10 0-5 5-15 0-5-5-5 0-35-40 0-5-5-5 0-20 35 0 25 25 5 0 5 5 10 0 5-5 15 0 15 15 20 0 5 5 20 0 5-5 5 5 10 0 5-5 15 0 5 5 0 5 15 15 15 0 10 10 15 0 5 5 0 10 5 5 0 35 5 5 0 10 10 15 0 10 5 5 0 5 10 15 0 10 5 5 15-15 0-15 5-5 0-30 15-15 5 0 25-25 13-5-1 15 4 10 9 7 20 4 20-3 23-18 6-15-6-10-8-5-30-5-20 4-10 5 0-4 5-5 20 0 15-10 20 0 5 5 5 15 15 15 5 15 10 10 5-5 10 0 10 10 0 15 10 15 5-5 10 0 15 15 5 0 10 15 5 0 10 10 5-5 15-5 10-10-5-25-30-30 0-25 10-10 5 0 10-10 25 0 5 5 15-10 15 0 5-5 25-5 25-25 0-10 15-15 5-15 95 0 0 455-10 10-15 0-10-10-5 0-10 10 0 5-5 5-5 0-20 20 0 5-10 10-5 0-5 5-20 0-5 5-10 0-25 15 0 20 5 5 0 20 5 5 0 10 5 5 0 15 5 5 0 20 5 5 10 0 15-10 35 0 20-15 20 0 5-5 10 0 5-5 15 0 0 200-1010 0 0-205 20-20 0-5 5-5 0-20 5 0 20-15 0-15-5-5 0-20 25-25 15-5 15-15 0-45-10-15 0-15-5-5 0-20 5-5 10-25 45-45 5 0 10-10 5 0 15-15 0-5 10-10 0-5 15-25 0-5-5-5-15 0-5 5-10 0-5 5-20 0-20-15 0-10-30-25-10-25-10-10 0-5-5-5 0-10-5-5 0-10-10-10-5-15-10-10 0-5-20-35zM695 275l-5 5 15 20 0 5 15 20 0 5 20 15 5 0 10-10-10-10 0-5-10-10 0-5-15-15-15-5zM720 250l-5 5 0 5 5 5 5-5 0-5zM850 260l-20 20-5 0-10 10-10 0-5 5 5 15 10 10 5 0 5 5 25 0 5-5 5-15 10-10 0-35-5-5-5 5zM870 245l-5 5 5 5 5-5zM190 445l-15 15-5 0-20 15 0 35-5 5 0 20 10 10 5 0 10-15 0-10 5-5 0-10 5-5 0-10 5-5 0-10 5-5 0-10 5-5 0-5z"/><path fill="#84bcd9" fill-rule="evenodd" d="M15 -5l20 0 5 5 5-5 10 0 5 15 10 10 0 5 10 10 0 5 15 15 0 5 10 15 0 10 5 5 0 5 20 25 0 5 10 15 0 20 5 5 15-10 10 0 5-5 10 0 15-10 10 0 8-8-6 18-2 15 3 20 7 12 40-13 24-24 7-15 2-45-6-10-7-5 0-10-25-15-5 5-10 0-5 5-15 0-5-5-5 0-35-40 0-5-5-5 0-20 35 0 25 25 5 0 5 5 10 0 5-5 15 0 15 15 20 0 5 5 20 0 5-5 5 5 10 0 5-5 15 0 5 5 0 5 15 15 15 0 10 10 15 0 5 5 0 10 5 5 0 35 5 5 0 10 10 15 0 10 5 5 0 5 10 15 0 10 5 5 15-15 0-15 5-5 0-30 15-15 5 0 25-25 8-3 1 18 6 11 10 6 30 4 15-5 20-17 8-9 1-11 6 6 5 15 10 10 5-5 10 0 10 10 0 15 10 15 5-5 10 0 15 15 5 0 10 15 5 0 10 10 5-5 15-5 10-10-5-25-30-30 0-25 10-10 5 0 10-10 25 0 5 5 15-10 15 0 5-5 25-5 25-25 0-10 15-15 5-15 95 0 0 455-10 10-15 0-10-10-5 0-10 10 0 5-5 5-5 0-20 20 0 5-10 10-5 0-5 5-20 0-5 5-10 0-25 15 0 20 5 5 0 20 5 5 0 10 5 5 0 15 5 5 0 20 5 5 10 0 15-10 35 0 20-15 20 0 5-5 10 0 5-5 15 0 0 200-1010 0 0-205 20-20 0-5 5-5 0-20 5 0 20-15 0-15-5-5 0-20 25-25 15-5 15-15 0-45-10-15 0-15-5-5 0-20 5-5 10-25 45-45 5 0 10-10 5 0 15-15 0-5 10-10 0-5 15-25 0-5-5-5-15 0-5 5-10 0-5 5-20 0-20-15 0-10-30-25-10-25-10-10 0-5-5-5 0-10-5-5 0-10-10-10-5-15-10-10 0-5-20-35zM527 265l3 5 3-5zM695 275l-5 5 15 20 0 5 15 20 0 5 20 15 5 0 10-10-10-10 0-5-10-10 0-5-15-15-15-5zM720 250l-5 5 0 5 5 5 5-5 0-5zM850 260l-20 20-5 0-10 10-10 0-5 5 5 15 10 10 5 0 5 5 25 0 5-5 5-15 10-10 0-35-5-5-5 5zM870 245l-5 5 5 5 5-5zM190 445l-15 15-5 0-20 15 0 35-5 5 0 20 10 10 5 0 10-15 0-10 5-5 0-10 5-5 0-10 5-5 0-10 5-5 0-10 5-5 0-5zM595 70l5-5 20 0 9 14-19-7-21-1z"/><path fill="#aed3e6" fill-rule="evenodd" d="M15 -5l20 0 5 5 5-5 10 0 5 15 10 10 0 5 10 10 0 5 15 15 0 5 10 15 0 10 5 5 0 5 20 25 0 5 10 15 0 20 5 5 15-10 10 0 5-5 10 0 15-10 10 0-6 20-2 45 3 10 10 5 25-20 32-15 29-30 1-5-4-20 1-35-5-10-14-7-5-8-5 0-15-10-5 5-10 0-5 5-15 0-5-5-5 0-35-40 0-5-5-5 0-20 35 0 25 25 5 0 5 5 10 0 5-5 15 0 15 15 20 0 5 5 20 0 5-5 5 5 10 0 5-5 15 0 5 5 0 5 15 15 15 0 10 10 15 0 5 5 0 10 5 5 0 35 5 5 0 10 10 15 0 10 5 5 0 5 10 15 0 10 5 5 15-15 0-15 5-5 0-30 15-15 5 0 25-25 3 0 5 25 7 9 10 4 30 3 10-1 10-6 25-22 5-9 5 12 10 10 5-5 10 0 10 10 0 15 10 15 5-5 10 0 15 15 5 0 10 15 5 0 10 10 5-5 15-5 10-10-5-25-30-30 0-25 10-10 5 0 10-10 25 0 5 5 15-10 15 0 5-5 25-5 25-25 0-10 15-15 5-15 95 0 0 455-10 10-15 0-10-10-5 0-10 10 0 5-5 5-5 0-20 20 0 5-10 10-5 0-5 5-20 0-5 5-10 0-25 15 0 20 5 5 0 20 5 5 0 10 5 5 0 15 5 5 0 20 5 5 10 0 15-10 35 0 20-15 20 0 5-5 10 0 5-5 15 0 0 161-6 4-4 8 2 27-1002 0 0-205 20-20 0-5 5-5 0-20 5 0 20-15 0-15-5-5 0-20 25-25 15-5 15-15 0-45-10-15 0-15-5-5 0-20 5-5 10-25 45-45 5 0 10-10 5 0 15-15 0-5 10-10 0-5 15-25 0-5-5-5-15 0-5 5-10 0-5 5-20 0-20-15 0-10-30-25-10-25-10-10 0-5-5-5 0-10-5-5 0-10-10-10-5-15-10-10 0-5-20-35zM455 269l-17 11-2 10 4 5 20 4 15-4 6-5 1-5-4-5-13-9zM535 239l-15 14-8 12 3 10 10 4 15 0 7-4 1-5-8-28zM695 275l-5 5 15 20 0 5 15 20 0 5 20 15 5 0 10-10-10-10 0-5-10-10 0-5-15-15-15-5zM720 250l-5 5 0 5 5 5 5-5 0-5zM850 260l-20 20-5 0-10 10-10 0-5 5 5 15 10 10 5 0 5 5 25 0 5-5 5-15 10-10 0-35-5-5-5 5zM870 245l-5 5 5 5 5-5zM190 445l-15 15-5 0-20 15 0 35-5 5 0 20 10 10 5 0 10-15 0-10 5-5 0-10 5-5 0-10 5-5 0-10 5-5 0-10 5-5 0-5zM745 745l-4 5 9 2 2-2zM600 65l20 0 5 7z"/><path fill="#d4e6f1" fill-rule="evenodd" d="M15 -5l20 0 5 5 5-5 10 0 5 15 10 10 0 5 10 10 0 5 15 15 0 5 10 15 0 10 5 5 0 5 20 25 0 5 10 15 0 20 5 5 15-10 25-5 16-10-8 15 0 20-5 20-8 0-5 5-10 0-5 5-20 0-20-15 0-10-30-25-10-25-10-10 0-5-5-5 0-10-5-5 0-10-10-10-5-15-10-10 0-5-20-35zM170 -5l35 0 25 25 5 0 5 5 10 0 5-5 15 0 15 15 20 0 5 5 18 0-9 5-2 15 3 6 40-12 5-4 3-15 2 0 5 5 0 5 15 15 15 0 10 10 15 0 5 5 0 10 5 5 0 35 5 5 0 10 10 15 0 10 5 5 0 5 10 15 0 10 5 5 15-15 0-15 5-5 0-30 43-38 7 30 5 8 10 5 50 1 40-35 0 4 10 10 5-5 10 0 10 10 0 15 10 15 5-5 10 0 15 15 5 0 10 15 5 0 10 10 5-5 15-5 10-10-5-25-30-30 0-25 10-10 5 0 10-10 25 0 5 5 15-10 15 0 5-5 25-5 25-25 0-10 15-15 5-15 95 0 0 455-10 10-15 0-10-10-5 0-10 10 0 5-5 5-5 0-20 20 0 5-10 10-5 0-5 5-20 0-5 5-10 0-25 15 0 20 5 5 0 20 5 5 0 10 5 5 0 15 5 5 0 20 5 5 10 0 15-10 35 0 20-15 20 0 5-5 10 0 5-5 15 0 0 104-20 3-5 8 3 10 11 15-9 25-1 35-337 0 1-10-9-25 17-20-6-3-40 13-3 45-47 0 1-15-6-30 5-10 20-5-1-5-9-4-15 8-25-2-15 3-3 15 17 15 2 5-11 19 0 6-64 0 4-25-4-5-16-5-20-12-20 5-15 14-7 13 0 15-49 0 11-27 16-8 1-5-2-4-25 11-15-1-5-5-10-20-25-6-8 5 1 10 12 21 15 9 9 20-46 0-2-10-22-15-5-20-6-10-8-6-15-2-9 3-1 5 13 35 13 20-93 0-6-15-22-17-5 0-1 7 8 25-102 0 0-37 22-18 4-10-6-15-10-4-10 0 0-121 20-20 0-5 5-5 0-20 5 0 20-15 0-15-5-5 0-20 25-25 15-5 15-15 0-45-10-15 0-15-5-5 0-20 5-5 0-5 10 2 2-2-2-20 45-45 5 0 10-10 5 0 15-15 0-5 10-10 5-15 15 15 10 3 10-2 20-29 40-12 7-5 8-17 23-8 5-5 0-5-18-16-5-9 5-35-5-20-35-5-15-10-5 5-10 0-5 5-15 0-5-5-5 0-35-40 0-5-5-5zM465 215l-15 7-1 8 4 20-26 25-6 10 4 15 15 8 45 2 10-6 10-14 10-5 35 7 9-2 16-10 10 5 5-1 25-19 3-10-1-20 8-15-1-5-4-2-10 2-32 20 7 25-10 19-9-14-2-10 9-15 0-5-23-17-15-4-40 7zM695 275l-5 5 15 20 0 5 15 20 0 5 20 15 5 0 10-10-10-10 0-5-10-10 0-5-15-15-15-5zM720 250l-5 5 0 5 5 5 5-5 0-5zM800 724l-20 11-40-7-10 3-9 9-3 10 7 32 10 7 10-1 40-35 10-2 25 8 20 25 5 1 5-2 4-8-17-20-4-15-14-10zM850 260l-20 20-5 0-10 10-10 0-5 5 5 15 10 10 5 0 5 5 25 0 5-5 5-15 10-10 0-35-5-5-5 5zM870 229l-5 4-3 7 3 6 4 0-4 4 5 5 5-5-4-4 8-11-3-5zM865 729l-6 6 9 25 7 4 5-1 7-8-2-10-10-14zM100 345l-7 30 5 10 16 15 2 20 9 7 24-2 7-15-7-15-1-20-8-17-10-10zM190 445l-15 15-5 0-20 15 0 35-5 5 0 20 10 10 5 0 10-15 0-10 5-5 0-10 5-5 0-10 5-5 0-10 5-5 0-10 5-5 0-5zM210 425l-3 10 3 13 5 2 10-6 8-14-1-5-7-5zM406 790l9-4 5 3 11 16-33 0z"/><path fill="#ecf2f5" fill-rule="evenodd" d="M15 -5l20 0 5 5 5-5 10 0 2 10 23 30 0 5 15 15 0 5 10 15 0 10 5 5 0 5 10 10 0 5 10 10 0 5 10 15 0 20 23 25 6 15-9 5-20 0-10-10-5 0-5-5 0-10-30-25-10-25-15-20 0-10-5-5 2-15-12-5-5-15-10-10 0-5-20-35zM170 -5l35 0 25 25 16 5 14 12 37 8 5 5 0 10-7 6-10 1-13-2-17-11-25 6-20-7-5 7-26-31-1-9-8-9zM910 -5l95 0 0 76-25-1-25 15-25 3-20-4-4 1-1 5 7 10 18 3 15 7 20-7 10 1 20 13 10 3 0 43-6 2-5 10 2 10 9 7 0 39-6 4-3 10 9 3 0 69-38 8-5 5-1 20-6 5-5-1-3-4-1-10 6-15-7-9-45 7-40-14 0-4 10-10 0-23 20-15 10-2 20 3 20-6 26-2 6-5-9-20-13-7-10 1-15 12-11-1-4-5-2-10 13-15-6-12-10 2-10 10-5 1-10-4-2-12 6-25-3-10-6-5-30-12-10 1-6 6 2 10 16 15 6 20 9 15 0 5-12 15-28 15-3 5 4 5 17 7 9 9-19 19-5 0-10 10-12-5-8-7-20-49-10-1-30 14-6-2-5-10 23-43 8 8 5-5 15-5 10-10-5-25-26-26 4-9-8-5 0-15 25-20 25 0 5 5 15-10 15 0 5-5 25-5 25-25 0-10 8-8 8-2 0-11 4-4zM381 51l9 9 15 0 8 8-17 22 1 10 8 7 7-2 12-20 11-6 0 6 5 5 0 35 5 5 0 10 10 15-6 10 0 30-9 6-20 4-13 15 3 20 15 5 4 5-22 25-4 15 11 20 11 8 15 5 50-1 23-7 4-15 8-2 6 7-1 5-10 5-4 5-4 30 3 10 15 2 30-5 15 3 7-5 8-16 22-14 14-15 1-10-7-10 0-5 7-10 8-5 40 16 19-2 1 6 10 10 5 15 10 10 0 5 20 15 5 0 10-10-10-10 0-5-10-10 0-5-15-15-16-6 31 12 55-3 5 3 15 27 25 7 20 20 10 1 25-7 20 15 20 10 2 6-3 15 1 5 5 2 25 2 25-13 20-3 0 67-10 10-15 0-10-10-5 0-10 10 0 5-5 5-5 0-20 20 0 5-10 10-5 0-5 5-20 0-5 5-10 0-25 15 0 20 5 5 0 20 5 5 0 10 5 5 0 15 5 5 0 20 5 5 10 0 15-10 35 0 20-15 20 0 5-5 10 0 5-5 15 0 0 94-15-3-10-6-3-10 11-20-7-10-6-2-11 7-11 30-13 12-20 3-9-5-6-10 1 20-6 17-30-11-35 9-45-6-20 8-10 0-19-7-5-5-6-32-5-8-10-4-35 38-10 17-10 4-50 8-10-2-25-14-35 10-48-2-10-15 13-20 0-5-10-14-5 2-5 9-8 23-12 10-20-4-20 11-12-27-13-6-5 3-6 13-4 3-25 4-5 24-5 6-10 2-11-9-4-15 19-15 1-5-9-15-11-5-8 5-3 25-3 5-11 4-30 0-20 15-15-2-25-17-46 5-4 5 7 25 8 10 19 10 7 35-57 0-6-20-18-20-15-26-15-1-20 13-5 0-9-6-15-30-23-20-3-20-10-9 0-44 25 10 5 0 6-7-2-10-28-21 14-14 0-5 5-5 0-20 5 0 20-15 0-15-5-5 0-20 8-8 4 13 8 3 15-3 10-6 5-9-2-5-26-7 13-8 5 0 15-15 0-23 7 18 13 6 15-5 20 1 20-18 15-3 8 9 1 14-4-4-15 15-5 0-10 10-9 4-6-6-5 0-9 7 1 5 7 5 11-2 0 27-5 5 0 20 10 10 5 0 10-15 0-10 5-5 0-10 5-5 0-10 5-5 5-25 3-3 0 8 7 5 28-10 12-10 9-20 0-10-5-5-39-13-5-7 4-30-10-25 11-22-5-3-20 2-25-9-25 8-5-5-5-16 20-20 5 0 26-20 5-11 1 6 28 7 25 18 7 10 2 20 6 11 15 5 25-4 20 7 8-24-8-35-10-5-8 5-7 28-5 2-10-5-11-10-1-5 2-15-6-35 2-5 9-6 45 3 15 8 8 20 5 5 22 7 7-2-6-25 2-10 10-15 2-20 20-20-1-10-7-10-12-6-45-2-10-7-2-10 21-35 36-21zM495 375l-13 5-4 10 4 10 8 4 10-1 7-8-2-15zM625 379l-3 26 8 14 5 1 2-5-2-15-5-16zM640 658l-7 7-8 24-11 11 8 5 18 0 10-6 6-9 3-10-4-14-7-6zM820 368l-22 12-4 10 11 19 15 8 10-5 6-7 5-10 1-10-6-15zM910 403l-14 12-1 10 5 2 10-11 5-11zM90 645l-13 5-7 10 4 10 6 4 10-2 9-12-1-10zM125 604l-4 6 5 20 9 13 10 1 10-10 2-9-2-7-10-9zM350 324l-10 11-5 1-26-6-1 15 5 15 7 4 5-1 20-10 10 6 25 25 10 2 5-3 6-8-1-8-25-37-15-9zM485 643l-6 7 1 9 5 5 10-19zM900 451l-5 5-5 14 5 10 10-3 5-12-3-10zM533 107l9 43 13 10 25-6 35 3 10-1 18-26 14-8 3 3 5-5 10 0 10 10 0 15 10 15 5-5 10 0 13 13-8 7-4 10-1 30-10 4-30-7-25-21-20 6-25 13-15 3-15-3-25-15-10-1-25 6-24-6 4-4 0-15 5-5 0-30zM657 235l4 0-1 2zM565 310l13 5 3 15-11 9-10 1-11-10-3-10 3-5zM158 335l7-4 10 1 10 8-1 10-9 12-10 1-10-8-3-10zM915 745l5 6-5 1zM959 750l6-5 0 11zM27 775l23-3 15 4 10 10 10 19-62 0-8-15 5-10zM579 780l6 0 1 5-5 15 3 5-7 0zM778 785l7-2 30 2 10 6 13 14-84 0zM701 790l9 2 12 13-38 0zM867 790l8-4 10 0 5 4 3 15-39 0zM354 795l6 0 7 10-23 0zM473 795l7-4 10 0 6 4 6 10-35 0z"/><path fill="#f9eee7" fill-rule="evenodd" d="M22 -5l13 0 5 5 5-5 1 15 29 24-1 26-9 12-15-2-5-5-2-15-13-10-6-16 2-14zM181 -5l24 0 8 8-3 20-5 2-5-1zM918 -5l31 0 2 15 9 19 2 21 0 10-7 8-10 0-8-8 3-20-2-15zM999 45l6-2 0 13-10-6zM272 50l13-2 9 7-4 6-10 1-9-7zM102 72l3 3 0 10 13 18-8 27-15 13-9 3-6-16-10-10-3-30 8-12zM366 85l9-3 2 3-2 9-5 5-6-4zM816 90l4-5 5 0 11 10 4 10-10 3-10-2-5-6zM525 115l2 10-2 9-5 3-5-2-7-8 7-2zM925 131l20 5 20-4 8 3-8 25 12 30 2 10-2 5-17-1-20-12-23-42-2-10zM405 145l5-3 10 0 10 3 4 5 0 20-4 10-5 4-20 4-2-3zM592 165l20 5 8 10-3 10-9 10-18 6-14-6-4-15 8-14zM495 170l5-2 7 2 4 5 0 5-6 3-5-1-5-6zM127 180l8-1 8 6 5 10-3 10-5 0-20-15 0-5zM677 180l8-1 5 4 3 7-3 7-10-1-5-6zM808 205l7-1 2 6-7 9-10 1 0-9zM936 270l9-1 35 10 7 6 2 15-4 5-10 3-20-11-20-4-5-3-3-10zM705 300l5 15 10 10 0 5 20 15 5 0 10-10-6-6 8-19 8-3 15 2 7 6 10 35-5 10-22 11-9-1-11-10-10 4-22 31 2 11 10 13 10 3 8-2 12-14 5-2 15 6 30 28 15-2 25-21 10 2 10 13 8 20-1 35 9 25-6 5-10 0-25 15 0 20 5 5 0 20 5 5 0 10 5 5 0 15 5 5 0 20 5 5 10 0 15-10 35 0 20-15 20 0 5-5 7 0-22 24-20 10-35 6-34 25-21 28-25 7-23-5-14-10-2-45-1-5-10-6-30 9-20-9-15 1-7 5-10 20-8 4-8-19-10-5-27-5-25 10-15-3-6 28-19 16-15 5-40-15-8-6-5-10 8-25-1-5-9-6-20 0-14 6-9 10-12 31-5 5-10 2-13-3-10-10-11-35 4-20-5 0-5 4-20 30-21 6-14 12-35-16-35-1-25-21-20-1-35 8-10-1-7-5-16-40 12-35-4-20 5-5 0-10 5-5 0-10 6-10 9-7 40-14 15 6 15 19 10 1 10-10 4-10-2-20-15-25 4-20-1-7-30-8-12-10-2-20-9-25 8-11 10-2 10 3 40 18 15 18 15 9 10-1 15-6 10 2 20 25 15 7 25-7 13-30 7-4 10 1 11 8 10 25 8 10 34 10 3 5-4 25 3 5 10 5 15-3 20-12 10 0 25 7 20-16 20 10 25 1 15 19 10 3 5-4 3-10-15-25-6-20-12-20-9-25-11-10-19-5 5-10 39-39 25 3zM215 530l-13 10 2 10 11 6 15-3 7-8-2-12-5-4zM877 365l13-1 11 11-1 10-10 8-15 1-11-9 0-10zM540 373l12 2 12 10 1 5-20 16-10 3-5-4-5-15 2-10zM986 405l19-4 0 49-10 10-15 0-9-9 4-11 1-25zM933 425l6 0-4 5zM174 445l6 2 1 7-6 6-6 1-2-6zM105 500l11 0 4 5-2 10-12 20-21 5-6 5-2 10 11 15-3 5-10 0-11-10-9-14-5-21 8-10 27-9zM115 550l10-4 10 2 6 7-1 5-10 8-10 0-8-8zM22 580l8-5 5 2 3 8-2 5-6 1-8-6zM85 610l7 5 2 5-4 5-26 15-9 2-5-4-2-13 4-10 8-4zM1005 619l0 27-8-6-3-10 1-5zM22 660l8-2 10 6 25 35 24 1 0 5-9 4-15-6-15 1-20-9-10-15 0-15zM196 675l14 1 7 9-4 5-13 0-7-5-2-5zM263 675l7-2 10 4 6 8-1 11-10 5-15-4-4-12zM752 680l8 1 7 9 3 10-5 7-10-2-4-5-2-15zM54 795l7 0 9 10-21 0z"/><path fill="#fddcc9" fill-rule="evenodd" d="M38 15l7 1 10 9 1 10-6 8-15-1-7-9 2-13zM50 50l5-5 10 2 4 13-4 8-10 2-6-5-2-5zM74 85l6-3 10 3 4 15 11 10 2 10-7 11-15 2-7-8 2-20-7-10zM589 175l11-1 9 6 0 10-9 9-10 2-8-6-2-10zM654 320l11-2 25 2 20 9 13 11 6 10-7 20-12 11-15 5-25-5-10-5-12-16-9-20 4-10zM294 395l6-3 10 5 20 24 20 10-5 49-18 20-1 5 10 10 14 4 10-3 5-6 8-25 17-9 1-16 4-5 15-2 20 9 15 3 10-3 15-17 5-1 9 16 11 8 45 12 15-19 46 14 14 10 14-15 11-3 15 14 27 14 8 21 10 13 25 8 7-2 13-20 17-10 4-10 0-10-6-5-10 0-25 14-10 3-15-6-3-6 5-10 23-24 15 0 16 9 44 40 23 45 25 25 1 20-13 25 4 4 5-1 17-6 3 3 0 20 5 5 10 0 16-10-11 15-20 14-15 15-10 4-30-7-7-6-3-15 7-25-5-5-57 1-14-6-11-15-5-1-20 21-35 9-38-4-5-5-6-15-6-3-35 0-30 9-80 9-30-22-30-6-10 4-8 9-17 30-20 4-20-6-40-6-3-2 0-5 23-37 60-17 5-6-3-5-9-5-53-3-15 5-12 23-19 10-14 23-15 1-15-9-10-2-5 2-5 14-5 2-5-6 0-31 5-12 25 0 25-7 9-10 6-20 25-14 16-31 2-15-8-40zM460 532l-4 8 3 5 6 2 5-2 0-10zM620 491l-3 9 3 8 3-8zM750 558l-5 3-2 9 7 14 5 2 20-4 20 9 10-3 1-13-6-7zM693 415l7 0 3 5 1 5-4 7-5-1-5-6zM208 495l12-2 5 2 4 5-4 10-15 7-11-2-1-10zM529 655l11-2 13 7-8 10-10 1-9-6z"/><path fill="#f8bb9e" fill-rule="evenodd" d="M40 18l10 6 3 6-3 7-10 4-9-6-1-10zM60 50l5 3 2 7-3 5-9 2-5-7 1-5zM90 110l5 0 6 5-1 9-5 4-10-3-2-5zM595 180l8 5 0 5-8 6-8-6 1-5zM657 330l23-3 25 8 13 15-2 15-11 9-10 2-30-8-10-12-4-11 1-10zM465 480l10-1 15 8 25 0 20 21 15-6 20-17 10 1 8 4 7 15 0 11-5 4-42 0-8 4-1 6 10 20 28 20 3 5-3 5-27 15-40 5-15-2-13-8-6-10 12-15 5-25 18-20-1-5-20-17-20 12-10 0-5-5-2-10 5-10zM655 506l5 0 5 9-10 5-5-5zM383 520l12-1 13 6 2 10-9 15-16-3-13-12 3-10zM767 525l8 0 6 5 1 10-6 5-8 0-9-5-1-10zM604 540l6-3 35 0 30 17 39 6-14 14-10 21-10 11-15 8-15 0-12-4-6-20-7-7-30-1-12-7zM430 553l10 4 9 8 2 10-6 6-10 2-20-5-5-4-4-9 4-8zM227 580l8-2 4 2-1 5-3 4-5-1zM314 600l6-2 5 2 1 5-8 5-5-5zM827 640l8 0 8 5 2 5-5 8-10 2-11-5 0-10z"/><path fill="#ee9677" fill-rule="evenodd" d="M33 25l7-4 5 1 5 8-2 5-8 4-5-3-3-6zM54 55l8 0 2 5-4 5-7-5zM667 335l18-1 15 6 10 10-1 10-4 5-10 3-25-6-7-7-4-10zM512 555l8-2 7 12 0 10-7 6-10-1-2-5zM654 570l17 5 1 10-7 6-10 0-3-6-2-10z"/><path fill="#db6b55" fill-rule="evenodd" d="M36 25l9 0 2 5-2 5-5 1-5-3zM671 345l9-4 10 2 9 7 0 5-9 5-10-2-9-8z"/><path fill="#c53e3d" fill-rule="evenodd" d="M37 30l3-4 4 4-4 3z"/></g>
<use href="#land" fill="#d3d3d3" stroke="#111" stroke-width="0.5" vector-effect="non-scaling-stroke" stroke-linejoin="round"/>
<use href="#isl" fill="none" stroke="#111" stroke-width="0.5" vector-effect="non-scaling-stroke" stroke-linejoin="round"/>
<path d="M10,0V80M30,0V80M50,0V80M70,0V80M90,0V80M0,10H100M0,20H100M0,30H100M0,40H100M0,50H100M0,60H100M0,70H100" stroke="#888" stroke-opacity="0.22" stroke-width="0.6" vector-effect="non-scaling-stroke" fill="none"/>
</g></g>
<rect x="189.50" y="20.00" width="143.50" height="117.40" fill="none" stroke="#707070" stroke-width="0.9"/>
<text x="175.1" y="14.8" font-size="12.5">(b)</text>
<text x="261.6" y="16.6" font-size="12.5" text-anchor="middle">MPI-SOM-FFN</text>
<g transform="translate(351.50,20.00) scale(1.43500,1.46750)">
<g clip-path="url(#pc)">
<rect x="0" y="0" width="100" height="80" fill="#fff"/><g transform="scale(0.1)"><path fill="#053061" fill-rule="evenodd" d="M15 -5l20 0 5 5 5-5 10 0 5 15 10 10 0 5 10 10 0 5 15 15 0 5 10 15 0 10 5 5 0 5 20 25 0 5 10 15 0 20 5 5 15-10 10 0 5-5 10 0 15-10 10 0 15-15 10 0 5-5 5 0 5-5 0-5 10 0 20-25 0-10-25-15-5 5-10 0-5 5-15 0-5-5-5 0-35-40 0-5-5-5 0-20 35 0 25 25 5 0 5 5 10 0 5-5 15 0 15 15 20 0 5 5 20 0 5-5 5 5 10 0 5-5 15 0 5 5 0 5 15 15 15 0 10 10 15 0 5 5 0 10 5 5 0 35 5 5 0 10 10 15 0 10 5 5 0 5 10 15 0 10 5 5 15-15 0-15 5-5 0-30 15-15 5 0 25-25 15-5 5-5 0-10 5-5 20 0 15-10 20 0 5 5 5 15 15 15 5 15 10 10 5-5 10 0 10 10 0 15 10 15 5-5 10 0 15 15 5 0 10 15 5 0 10 10 5-5 15-5 10-10-5-25-30-30 0-25 10-10 5 0 10-10 25 0 5 5 15-10 15 0 5-5 25-5 25-25 0-10 15-15 5-15 95 0 0 455-10 10-15 0-10-10-5 0-10 10 0 5-5 5-5 0-20 20 0 5-10 10-5 0-5 5-20 0-5 5-10 0-25 15 0 20 5 5 0 20 5 5 0 10 5 5 0 15 5 5 0 20 5 5 10 0 15-10 35 0 20-15 20 0 5-5 10 0 5-5 15 0 0 200-1010 0 0-205 20-20 0-5 5-5 0-20 5 0 20-15 0-15-5-5 0-20 25-25 15-5 15-15 0-45-10-15 0-15-5-5 0-20 5-5 10-25 45-45 5 0 10-10 5 0 15-15 0-5 10-10 0-5 15-25 0-5-5-5-15 0-5 5-10 0-5 5-20 0-20-15 0-10-30-25-10-25-10-10 0-5-5-5 0-10-5-5 0-10-10-10-5-15-10-10 0-5-20-35zM695 275l-5 5 15 20 0 5 15 20 0 5 20 15 5 0 10-10-10-10 0-5-10-10 0-5-15-15-15-5zM720 250l-5 5 0 5 5 5 5-5 0-5zM850 260l-20 20-5 0-10 10-10 0-5 5 5 15 10 10 5 0 5 5 25 0 5-5 5-15 10-10 0-35-5-5-5 5zM870 245l-5 5 5 5 5-5zM190 445l-15 15-5 0-20 15 0 35-5 5 0 20 10 10 5 0 10-15 0-10 5-5 0-10 5-5 0-10 5-5 0-10 5-5 0-10 5-5 0-5z"/><path fill="#0e4179" fill-rule="evenodd" d="M15 -5l20 0 5 5 5-5 10 0 5 15 10 10 0 5 10 10 0 5 15 15 0 5 10 15 0 10 5 5 0 5 20 25 0 5 10 15 0 20 5 5 15-10 10 0 5-5 10 0 15-10 10 0 15-15 10 0 5-5 5 0 5-5 0-5 10 0 20-25 0-10-25-15-5 5-10 0-5 5-15 0-5-5-5 0-35-40 0-5-5-5 0-20 35 0 25 25 5 0 5 5 10 0 5-5 15 0 15 15 20 0 5 5 20 0 5-5 5 5 10 0 5-5 15 0 5 5 0 5 15 15 15 0 10 10 15 0 5 5 0 10 5 5 0 35 5 5 0 10 10 15 0 10 5 5 0 5 10 15 0 10 5 5 15-15 0-15 5-5 0-30 15-15 5 0 25-25 15-5 5-5 0-10 5-5 20 0 15-10 20 0 5 5 5 15 15 15 5 15 10 10 5-5 10 0 10 10 0 15 10 15 5-5 10 0 15 15 5 0 10 15 5 0 10 10 5-5 15-5 10-10-5-25-30-30 0-25 10-10 5 0 10-10 25 0 5 5 15-10 15 0 5-5 25-5 25-25 0-10 15-15 5-15 95 0 0 455-10 10-15 0-10-10-5 0-10 10 0 5-5 5-5 0-20 20 0 5-10 10-5 0-5 5-20 0-5 5-10 0-25 15 0 20 5 5 0 20 5 5 0 10 5 5 0 15 5 5 0 20 5 5 10 0 15-10 35 0 20-15 20 0 5-5 10 0 5-5 15 0 0 200-1010 0 0-205 20-20 0-5 5-5 0-20 5 0 20-15 0-15-5-5 0-20 25-25 15-5 15-15 0-45-10-15 0-15-5-5 0-20 5-5 10-25 45-45 5 0 10-10 5 0 15-15 0-5 10-10 0-5 15-25 0-5-5-5-15 0-5 5-10 0-5 5-20 0-20-15 0-10-30-25-10-25-10-10 0-5-5-5 0-10-5-5 0-10-10-10-5-15-10-10 0-5-20-35zM695 275l-5 5 15 20 0 5 15 20 0 5 20 15 5 0 10-10-10-10 0-5-10-10 0-5-15-15-15-5zM720 250l-5 5 0 5 5 5 5-5 0-5zM850 260l-20 20-5 0-10 10-10 0-5 5 5 15 10 10 5 0 5 5 25 0 5-5 5-15 10-10 0-35-5-5-5 5zM870 245l-5 5 5 5 5-5zM190 445l-15 15-5 0-20 15 0 35-5 5 0 20 10 10 5 0 10-15 0-10 5-5 0-10 5-5 0-10 5-5 0-10 5-5 0-10 5-5 0-5z"/><path fill="#1f63a8" fill-rule="evenodd" d="M15 -5l20 0 5 5 5-5 10 0 5 15 10 10 0 5 10 10 0 5 15 15 0 5 10 15 0 10 5 5 0 5 20 25 0 5 10 15 0 20 5 5 15-10 10 0 5-5 10 0 15-10 10 0 15-15 10 0 5-5 5 0 5-5 0-5 10 0 20-25 0-10-25-15-5 5-10 0-5 5-15 0-5-5-5 0-35-40 0-5-5-5 0-20 35 0 25 25 5 0 5 5 10 0 5-5 15 0 15 15 20 0 5 5 20 0 5-5 5 5 10 0 5-5 15 0 5 5 0 5 15 15 15 0 10 10 15 0 5 5 0 10 5 5 0 35 5 5 0 10 10 15 0 10 5 5 0 5 10 15 0 10 5 5 15-15 0-15 5-5 0-30 15-15 5 0 25-25 15-5 5-5 0-10 5-5 20 0 15-10 20 0 5 5 5 15 15 15 5 15 10 10 5-5 10 0 10 10 0 15 10 15 5-5 10 0 15 15 5 0 10 15 5 0 10 10 5-5 15-5 10-10-5-25-30-30 0-25 10-10 5 0 10-10 25 0 5 5 15-10 15 0 5-5 25-5 25-25 0-10 15-15 5-15 95 0 0 455-10 10-15 0-10-10-5 0-10 10 0 5-5 5-5 0-20 20 0 5-10 10-5 0-5 5-20 0-5 5-10 0-25 15 0 20 5 5 0 20 5 5 0 10 5 5 0 15 5 5 0 20 5 5 10 0 15-10 35 0 20-15 20 0 5-5 10 0 5-5 15 0 0 200-1010 0 0-205 20-20 0-5 5-5 0-20 5 0 20-15 0-15-5-5 0-20 25-25 15-5 15-15 0-45-10-15 0-15-5-5 0-20 5-5 10-25 45-45 5 0 10-10 5 0 15-15 0-5 10-10 0-5 15-25 0-5-5-5-15 0-5 5-10 0-5 5-20 0-20-15 0-10-30-25-10-25-10-10 0-5-5-5 0-10-5-5 0-10-10-10-5-15-10-10 0-5-20-35zM695 275l-5 5 15 20 0 5 15 20 0 5 20 15 5 0 10-10-10-10 0-5-10-10 0-5-15-15-15-5zM720 250l-5 5 0 5 5 5 5-5 0-5zM850 260l-20 20-5 0-10 10-10 0-5 5 5 15 10 10 5 0 5 5 25 0 5-5 5-15 10-10 0-35-5-5-5 5zM870 245l-5 5 5 5 5-5zM190 445l-15 15-5 0-20 15 0 35-5 5 0 20 10 10 5 0 10-15 0-10 5-5 0-10 5-5 0-10 5-5 0-10 5-5 0-10 5-5 0-5z"/><path fill="#3480b9" fill-rule="evenodd" d="M15 -5l20 0 5 5 5-5 10 0 5 15 10 10 0 5 10 10 0 5 15 15 0 5 10 15 0 10 5 5 0 5 20 25 0 5 10 15 0 20 5 5 15-10 10 0 5-5 10 0 15-10 10 0 15-15 10 0 5-5 5 0 5-5 0-5 10 0 20-25 0-10-25-15-5 5-10 0-5 5-15 0-5-5-5 0-35-40 0-5-5-5 0-20 35 0 25 25 5 0 5 5 10 0 5-5 15 0 15 15 20 0 5 5 20 0 5-5 5 5 10 0 5-5 15 0 5 5 0 5 15 15 15 0 10 10 15 0 5 5 0 10 5 5 0 35 5 5 0 10 10 15 0 10 5 5 0 5 10 15 0 10 5 5 15-15 0-15 5-5 0-30 15-15 5 0 25-25 15-5 5-5 0-10 5-5 20 0 15-10 20 0 5 5 5 15 15 15 5 15 10 10 5-5 10 0 10 10 0 15 10 15 5-5 10 0 15 15 5 0 10 15 5 0 10 10 5-5 15-5 10-10-5-25-30-30 0-25 10-10 5 0 10-10 25 0 5 5 15-10 15 0 5-5 25-5 25-25 0-10 15-15 5-15 95 0 0 455-10 10-15 0-10-10-5 0-10 10 0 5-5 5-5 0-20 20 0 5-10 10-5 0-5 5-20 0-5 5-10 0-25 15 0 20 5 5 0 20 5 5 0 10 5 5 0 15 5 5 0 20 5 5 10 0 15-10 35 0 20-15 20 0 5-5 10 0 5-5 15 0 0 200-1010 0 0-205 20-20 0-5 5-5 0-20 5 0 20-15 0-15-5-5 0-20 25-25 15-5 15-15 0-45-10-15 0-15-5-5 0-20 5-5 10-25 45-45 5 0 10-10 5 0 15-15 0-5 10-10 0-5 15-25 0-5-5-5-15 0-5 5-10 0-5 5-20 0-20-15 0-10-30-25-10-25-10-10 0-5-5-5 0-10-5-5 0-10-10-10-5-15-10-10 0-5-20-35zM695 275l-5 5 15 20 0 5 15 20 0 5 20 15 5 0 10-10-10-10 0-5-10-10 0-5-15-15-15-5zM720 250l-5 5 0 5 5 5 5-5 0-5zM850 260l-20 20-5 0-10 10-10 0-5 5 5 15 10 10 5 0 5 5 25 0 5-5 5-15 10-10 0-35-5-5-5 5zM870 245l-5 5 5 5 5-5zM190 445l-15 15-5 0-20 15 0 35-5 5 0 20 10 10 5 0 10-15 0-10 5-5 0-10 5-5 0-10 5-5 0-10 5-5 0-10 5-5 0-5z"/><path fill="#529dc8" fill-rule="evenodd" d="M15 -5l20 0 5 5 5-5 10 0 5 15 10 10 0 5 10 10 0 5 15 15 0 5 10 15 0 10 5 5 0 5 20 25 0 5 10 15 0 20 5 5 15-10 10 0 5-5 10 0 15-10 10 0 15-15 10 0 5-5 5 0 5-5 0-5 10 0 20-25 0-10-25-15-5 5-10 0-5 5-15 0-5-5-5 0-35-40 0-5-5-5 0-20 35 0 25 25 5 0 5 5 10 0 5-5 15 0 15 15 20 0 5 5 20 0 5-5 5 5 10 0 5-5 15 0 5 5 0 5 15 15 15 0 10 10 15 0 5 5 0 10 5 5 0 35 5 5 0 10 10 15 0 10 5 5 0 5 10 15 0 10 5 5 15-15 0-15 5-5 0-30 15-15 5 0 25-25 15-5 5-5 0-10 5-5 20 0 15-10 20 0 5 5 5 15 15 15 5 15 10 10 5-5 10 0 10 10 0 15 10 15 5-5 10 0 15 15 5 0 10 15 5 0 10 10 5-5 15-5 10-10-5-25-30-30 0-25 10-10 5 0 10-10 25 0 5 5 15-10 15 0 5-5 25-5 25-25 0-10 15-15 5-15 95 0 0 455-10 10-15 0-10-10-5 0-10 10 0 5-5 5-5 0-20 20 0 5-10 10-5 0-5 5-20 0-5 5-10 0-25 15 0 20 5 5 0 20 5 5 0 10 5 5 0 15 5 5 0 20 5 5 10 0 15-10 35 0 20-15 20 0 5-5 10 0 5-5 15 0 0 200-1010 0 0-205 20-20 0-5 5-5 0-20 5 0 20-15 0-15-5-5 0-20 25-25 15-5 15-15 0-45-10-15 0-15-5-5 0-20 5-5 10-25 45-45 5 0 10-10 5 0 15-15 0-5 10-10 0-5 15-25 0-5-5-5-15 0-5 5-10 0-5 5-20 0-20-15 0-10-30-25-10-25-10-10 0-5-5-5 0-10-5-5 0-10-10-10-5-15-10-10 0-5-20-35zM695 275l-5 5 15 20 0 5 15 20 0 5 20 15 5 0 10-10-10-10 0-5-10-10 0-5-15-15-15-5zM720 250l-5 5 0 5 5 5 5-5 0-5zM850 260l-20 20-5 0-10 10-10 0-5 5 5 15 10 10 5 0 5 5 25 0 5-5 5-15 10-10 0-35-5-5-5 5zM870 245l-5 5 5 5 5-5zM190 445l-15 15-5 0-20 15 0 35-5 5 0 20 10 10 5 0 10-15 0-10 5-5 0-10 5-5 0-10 5-5 0-10 5-5 0-10 5-5 0-5z"/><path fill="#84bcd9" fill-rule="evenodd" d="M15 -5l20 0 5 5 5-5 10 0 5 15 10 10 0 5 10 10 0 5 15 15 0 5 10 15 0 10 5 5 0 5 20 25 0 5 10 15 0 20 5 5 15-10 10 0 5-5 10 0 15-10 10 0 15-15 10 0 5-5 5 0 5-5 0-5 10 0 20-25 0-10-25-15-5 5-10 0-5 5-15 0-5-5-5 0-35-40 0-5-5-5 0-20 35 0 25 25 5 0 5 5 10 0 5-5 15 0 15 15 20 0 5 5 20 0 5-5 5 5 10 0 5-5 15 0 5 5 0 5 15 15 15 0 10 10 15 0 5 5 0 10 5 5 0 35 5 5 0 10 10 15 0 10 5 5 0 5 10 15 0 10 5 5 15-15 0-15 5-5 0-30 15-15 5 0 25-25 15-5 5-5 0-10 5-5 20 0 15-10 20 0 5 5 5 15 15 15 5 15 10 10 5-5 10 0 10 10 0 15 10 15 5-5 10 0 15 15 5 0 10 15 5 0 10 10 5-5 15-5 10-10-5-25-30-30 0-25 10-10 5 0 10-10 25 0 5 5 15-10 15 0 5-5 25-5 25-25 0-10 15-15 5-15 95 0 0 455-10 10-15 0-10-10-5 0-10 10 0 5-5 5-5 0-20 20 0 5-10 10-5 0-5 5-20 0-5 5-10 0-25 15 0 20 5 5 0 20 5 5 0 10 5 5 0 15 5 5 0 20 5 5 10 0 15-10 35 0 20-15 20 0 5-5 10 0 5-5 15 0 0 200-1010 0 0-205 20-20 0-5 5-5 0-20 5 0 20-15 0-15-5-5 0-20 25-25 15-5 15-15 0-45-10-15 0-15-5-5 0-20 5-5 10-25 45-45 5 0 10-10 5 0 15-15 0-5 10-10 0-5 15-25 0-5-5-5-15 0-5 5-10 0-5 5-20 0-20-15 0-10-30-25-10-25-10-10 0-5-5-5 0-10-5-5 0-10-10-10-5-15-10-10 0-5-20-35zM695 275l-5 5 15 20 0 5 15 20 0 5 20 15 5 0 10-10-10-10 0-5-10-10 0-5-15-15-15-5zM720 250l-5 5 0 5 5 5 5-5 0-5zM850 260l-20 20-5 0-10 10-10 0-5 5 5 15 10 10 5 0 5 5 25 0 5-5 5-15 10-10 0-35-5-5-5 5zM870 245l-5 5 5 5 5-5zM915 359l-12 6-5 10 3 10 14 10 30-6 25 2 10-5 5-6 1-5-6-9-15-8zM190 445l-15 15-5 0-20 15 0 35-5 5 0 20 10 10 5 0 10-15 0-10 5-5 0-10 5-5 0-10 5-5 0-10 5-5 0-10 5-5 0-5z"/><path fill="#aed3e6" fill-rule="evenodd" d="M15 -5l20 0 5 5 5-5 10 0 5 15 10 10 0 5 10 10 0 5 15 15 0 5 10 15 0 10 5 5 0 5 20 25 0 5 10 15 0 20 5 5 15-10 10 0 5-5 10 0 15-10 10 0 15-15 10 0 5-5 5 0 5-5 0-5 10 0 20-25 0-10-25-15-5 5-10 0-5 5-15 0-5-5-5 0-35-40 0-5-5-5 0-20 35 0 25 25 5 0 5 5 10 0 5-5 15 0 15 15 20 0 5 5 20 0 5-5 5 5 10 0 5-5 15 0 5 5 0 5 15 15 15 0 10 10 15 0 5 5 0 10 5 5 0 35 5 5 0 10 10 15 0 10 5 5 0 5 10 15 0 10 5 5 15-15 0-15 5-5 0-30 15-15 5 0 25-25 15-5 5-5 0-10 5-5 20 0 15-10 20 0 5 5 5 15 15 15 5 15 10 10 5-5 10 0 10 10 0 15 10 15 5-5 10 0 15 15 5 0 10 15 5 0 10 10 5-5 15-5 10-10-5-25-30-30 0-25 10-10 5 0 10-10 25 0 5 5 15-10 15 0 5-5 25-5 25-25 0-10 15-15 5-15 95 0 0 372-25-16-20-7-33 1-32-6-37 11-13 10-5 10 2 10 7 5 31 12 35 9 30-5 30 3 30-14 0 60-10 10-15 0-10-10-5 0-10 10 0 5-5 5-5 0-20 20 0 5-10 10-5 0-5 5-20 0-5 5-10 0-25 15 0 20 5 5 0 20 5 5 0 10 5 5 0 15 5 5 0 20 5 5 10 0 15-10 35 0 20-15 20 0 5-5 10 0 5-5 15 0 0 200-1010 0 0-205 20-20 0-5 5-5 0-20 5 0 20-15 0-15-5-5 0-20 25-25 15-5 15-15 0-45-10-15 0-15-5-5 0-20 5-5 10-25 45-45 5 0 10-10 5 0 15-15 0-5 10-10 0-5 15-25 0-5-5-5-15 0-5 5-10 0-5 5-20 0-20-15 0-10-30-25-10-25-10-10 0-5-5-5 0-10-5-5 0-10-10-10-5-15-10-10 0-5-20-35zM460 210l-15 9-21 31 2 15 14 13 10-3 10-11 35-7 10-10-1-12-18-20-11-6zM695 275l-5 5 15 20 0 5 15 20 0 5 20 15 5 0 10-10-10-10 0-5-10-10 0-5-15-15-15-5zM720 250l-5 5 0 5 5 5 5-5 0-5zM850 260l-20 20-5 0-10 10-10 0-5 5 5 15 10 10 5 0 5 5 25 0 5-5 5-15 10-10 0-35-5-5-5 5zM870 245l-5 5 5 5 5-5zM190 445l-15 15-5 0-20 15 0 35-5 5 0 20 10 10 5 0 10-15 0-10 5-5 0-10 5-5 0-10 5-5 0-10 5-5 0-10 5-5 0-5z"/><path fill="#d4e6f1" fill-rule="evenodd" d="M15 -5l20 0 5 5 5-5 10 0 5 15 10 10 0 5 10 10 0 5 15 15 0 5 10 15 0 10 5 5 0 5 20 25 0 5 10 15 0 20 5 5 15-10 10 0 5-5 10 0 15-10 10 0 15-15 10 0 5-5 5 0 5-5 0-5 10 0 20-25 0-10-25-15-5 5-10 0-5 5-15 0-5-5-5 0-35-40 0-5-5-5 0-20 35 0 25 25 5 0 5 5 10 0 5-5 15 0 15 15 20 0 5 5 20 0 5-5 5 5 10 0 5-5 15 0 5 5 0 5 15 15 15 0 10 10 15 0 5 5 0 10 5 5 0 35 5 5 0 10 10 15 0 10 5 5 10 25-30 10-14 10-20 25-4 20 22 30 11 21 10 2 30-9 45 17 12-6 5-15 16-20 0-10-3-5-15-10 0-20-16-30-3-20-11-3-15 8 0-15 5-5 0-30 15-15 5 0 25-25 15-5 5-5 0-10 5-5 20 0 15-10 20 0 5 5 5 15 15 15 5 15 10 10 5-5 10 0 10 10 0 15 10 15 5-5 10 0 15 15 5 0 10 15 5 0 10 10 5-5 15-5 10-10-5-25-30-30 0-25 10-10 5 0 10-10 25 0 5 5 15-10 15 0 5-5 25-5 25-25 0-10 15-15 5-15 95 0 0 356-35-16-20-16-10-4-40 6-61 19-12 10-6 25 7 15 12 11 70 14 35-3 35 8 25-14 0 44-10 10-15 0-10-10-5 0-10 10 0 5-5 5-5 0-20 20 0 5-10 10-5 0-5 5-20 0-5 5-10 0-25 15 0 20 5 5 0 20 5 5 0 10 5 5 0 15 5 5 0 20 5 5 10 0 15-10 35 0 20-15 20 0 5-5 10 0 5-5 15 0 0 200-1010 0 0-205 20-20 0-5 5-5 0-20 5 0 20-15 0-15-5-5 0-20 25-25 15-5 15-15 0-45-10-15 0-15-5-5 0-20 5-5 10-25 45-45 5 0 10-10 5 0 15-15 0-5 10-10 0-5 15-25 0-5-5-5-15 0-5 5-10 0-5 5-20 0-20-15 0-10-30-25-10-25-10-10 0-5-5-5 0-10-5-5 0-10-10-10-5-15-10-10 0-5-20-35zM220 718l-6 7 3 10 13 13 10-1 3-12-3-13-10-5zM305 720l-12 10-1 10 3 15 10 9 30 11 10-1 15-8 25 0 25-6 20 10 45 11 10 0 6-6 0-35-8-10-8-4-55-1-70 16-5-2-18-19zM695 275l-5 5 15 20 0 5 15 20 0 5 20 15 5 0 10-10-10-10 0-5-10-10 0-5-15-15-15-5zM720 250l-5 5 0 5 5 5 5-5 0-5zM850 260l-20 20-5 0-10 10-10 0-5 5 5 15 10 10 5 0 5 5 25 0 5-5 5-15 10-10 0-35-5-5-5 5zM870 245l-5 5 5 5 5-5zM190 445l-15 15-5 0-20 15 0 35-5 5 0 20 10 10 5 0 10-15 0-10 5-5 0-10 5-5 0-10 5-5 0-10 5-5 0-10 5-5 0-5z"/><path fill="#ecf2f5" fill-rule="evenodd" d="M15 -5l20 0 5 5 5-5 10 0 5 15 10 10 0 5 10 10 0 5 15 15 0 5 10 15 0 10 5 5 0 5 20 25 0 5 10 15 0 20 5 5 15-10 10 0 5-5 10 0 15-10 10 0 15-15 10 0 5-5 5 0 5-5 0-5 10 0 20-25 0-10-25-15-5 5-10 0-5 5-15 0-5-5-5 0-35-40 0-5-5-5 0-20 35 0 25 25 5 0 5 5 10 0 5-5 15 0 15 15 20 0 5 5 20 0 5-5 5 5 10 0 5-5 15 0 5 5 0 5 15 15 15 0 10 10 15 0 5 5 0 10 5 5 0 35 5 5 0 10 10 15 0 10 10 18-40 12-20-6-10 2-40 33-15 5-20 1-3 5 1 10 6 5 16 4 30-3 5 6 6 18 23 20 1 25 10 11 20 3 50-9 35 12 15-4 10-8 10-20 12-15 8-30-18-20-18-30-10-35-9-7-25-4 0-24 15-15 5 0 25-25 15-5 5-5 0-10 5-5 20 0 15-10 20 0 5 5 5 15 15 15 5 15 10 10 5-5 10 0 10 10 0 15 10 15 5-5 10 0 15 15 5 0 10 15 5 0 10 10 5-5 15-5 10-10-5-25-30-30 0-25 10-10 5 0 10-10 25 0 5 5 15-10 15 0 5-5 25-5 25-25 0-10 15-15 5-15 95 0 0 295-4 5 4 11 0 24-30-6-25-22-10-4-45 11-25 12-20 4 10-15 0-5 10-10 0-35-5-5-5 5-10 0-20 20-5 0-10 10-10 0-5 5 5 15 10 10 5 0 5 5 24 0-39 10-10-4-15-18-10-6-5 1-8 7-7 20-20-25 0-5-15-15-15-5-10-10-5 5 35 55 5 0 10 10 5 0 10-10 9 30 17 20 9 6 25 6 20 26 10 1 30-5 40 9 30-3 40 20 20-7 0 12-10 10-15 0-10-10-5 0-10 10 0 5-5 5-5 0-20 20 0 5-10 10-5 0-5 5-20 0-5 5-10 0-25 15 0 20 5 5 0 20 5 5 0 10 5 5 0 15 5 5 0 20 5 5 10 0 15-10 35 0 20-15 20 0 5-5 10 0 5-5 15 0 0 200-585 0 10-11 15-7 15 1 25 9 35-16 70 0 6-6-1-9-3-6-7-4-45-10-4-16-11-8-45-12-60 0-35 10-25 3-6-3-11-15-18-4-40 6-45-4-40 7-12 10 0 5 19 25 0 5-7 3-10-1-11-7-6-10 1-15-5-5-14-3-27 3-52 35 0 10 15 20 2 20-98 0 0-205 20-20 0-5 5-5 0-20 5 0 20-15 0-15-5-5 0-20 25-25 15-5 15-15 0-45-10-15 0-15-5-5 0-20 5-5 10-25 45-45 5 0 10-10 5 0 15-15 0-5 10-10 0-5 15-25 0-5-5-5-15 0-5 5-10 0-5 5-20 0-20-15 0-10-30-25-10-25-10-10 0-5-5-5 0-10-5-5 0-10-10-10-5-15-10-10 0-5-20-35zM620 739l0 6 5 0zM720 250l-5 5 0 5 5 5 5-5 0-5zM870 245l-5 5 5 5 5-5zM190 445l-15 15-5 0-20 15 0 21-10-3-10 3-20 13-20 8-7 8 0 20 7 10 5 1 20-4 20-16 10 0 5 4 4 10 0 10-16 25 3 5 14 1 30-9 35 1 20-3 4-5 6-23 25-7 11-15-1-14-10-16-35-5-6 5 21 6 4 4 0 5-14 25-5 3-8-3-9-15 1-25-13-20-11-6-5 1-6 25-13 4 4-4 0-10 5-5 0-10 5-5 0-10 5-5 0-5zM165 771l10 1 35 26 4 7-106 0 8-10 19-7zM265 797l8 8-19 0zM310 805l10-5 10 5z"/><path fill="#f9eee7" fill-rule="evenodd" d="M15 -5l2 0 0 17zM33 -5l7 5 5-5 10 0 0 3-15 4zM170 -5l25 0 45 30 10 0 5-5 15 0 15 15 20 0 5 5 20 0 5-5 5 5 10 0 5-5 15 0 5 5 0 5 15 15 15 0 10 10 15 0 5 5 0 10 5 5 0 35 5 5 0 10 10 15 2 12-12 7-15 2-30-14-25 28-20 11-10-2-11-14-9-6-10 0-10 5-3 6 2 20-4 15-5 9-20 16-2 5 4 20 21 25-1 60-6 15-6 4-20 2-6 4-4 36-7 4-28 1-10-3-13-13-8-20-3-30-6-4-5 2-14 7-3 5 7 20-5 15-35 20-7 20-7 10-11 8-10 1-7-2 12-12 0-45-10-15 0-15-5-5 0-20 5-5 5-15 3-3 7 9 25 7 10-3 15-13 30 5 5-2 14-25 6-5 25-1 5-4-4-35-6-13-10-4-6 2-14 16-10 6-15 1-14-3 4 0 15-15 0-5 10-10 15-35-5-5-15 0-5 5-10 0-5 5-20 0-10-10-5 0-5-5 0-10-30-25-10-25-15-20-5-25-10-10-5-15-10-10-5-15 15 14 10-2 22-15 3 3 0 5 15 15 0 5 10 15 0 10 5 5 0 5 10 10 0 5 10 10 0 5 10 15 0 20 6 4 4 11 10 2 7-7 3-15 5-5 10 0 15-10 10 0 15-15 10 0 5-5 5 0 5-5 0-5 10 0 20-25 0-10-25-15-5 5-10 0-5 5-15 0-5-5-5 0-35-40 0-5-5-5zM931 -5l60 0 1 15 13 9 0 156-15 0-30-7-15 4-3-2 13-15 5-15-8-10-17-3-6 3-6 10 10 30-28 16-7 14 4 10 13 6 10-1 15-12 5 0 18 27 3 10-2 5-19 13-15 22-15 10-15 2-11-2-4-5 4-15-3-5-16-1 0-4-5-5-5 5-10 0-20 20-5 0-10 10-10 0-4 4-26-14-10-25-10-8-17 18 8 30-9 17-2-7-15-15-15-5-10-10-5 5 5 5 0 5 10 10 0 5 15 20 0 5 8 5-5 10-17 20-9 20 13 7 10 2 25-10 10 3 8 8 8 20-2 30 8 30 2 25 6 10 15 10 30 6 6-1 3-5-23-45 1-10 9-10 14-7 30-4 10 2 14 14 4 10 1 20 6 6 15 4-15 10-20 0-5 5-10 0-25 15 0 20 5 5 0 20 5 5 0 10 5 5 0 15 5 5 0 20 5 5 10 0 15-10 35 0 20-15 20 0 5-5 10 0 5-5 15 0 0 5-5 3-3 7 8 11 0 174-107 0 8-15 9-8 35 0 5-6 0-6-4-10-12-10-24-9-20-14-15-2-15 3-10 7 34 70-204 0 5-11 5-4 65-4 15-5 20-20 5-3 15 1 10-5 16-14 4-5-2-5-18-9-30 3-20-2-20-12-5 3-1 17-9 13-15 6-15-2-41-27-6-10-2-20-4-5-7-3-25-2-12-15-8-5-10 1-25 14-15 20-10 6-30-9-25 4-30-3-50-16-35-15-14 3-15 15-6 2-45 1-15-7-15-1-10 1-26 14-19 3-30-6-15-6-20 14-25 7-26 13-19 4-25-6-20 1-20 8-15 14 0-57 10-4 20-18 30 9 10-4 7-12-2-10-8-10-12-6-55 12 0-36 20-20 2-7 47 17 5 5 3 20 11 20 17 7 15 0 10-4 15-23 20-9 55-8 55 11 14-4 2-10-3-25 34-45-12-18-1-12 6-8 15-7 3-10-17-25-4-10 13-25 5-26 10-11 10-2 11 4 14 32 5 4 29-26 6-26 24-9 26-3 5 3 2 5-11 20 0 10 9 7 25 3 21 20 5 10-4 25 9 15-1 7-10 0-20-16-8 4-12 16-15 2-10-3-9-10 11-25-2-9-5-2-18 11-19 30-4 10 3 5 28 12 8 8 7 31 10-1 12-10 7-10 6-18 65-13 10-8 8-16 2-13-5-11-16-16 13-45-3-10-10-10 1-5 15-16 10 0 3 11-2 20 9 10 10 1 16-11 19-28 25-3 5-4 1-5-6-11-20-13-14-16-2-10 5-15-3-10-11-8-27-7-15-20-13-11-15-44-10-5-30-4 0-11 15-15 5 0 25-25 15-5 5-5 0-10 5-5 20 0 15-10 20 0 5 5 5 15 15 15 5 15 10 10 5-5 10 0 10 10 0 15 10 15 5-5 10 0 15 15 5 0 10 15 5 0 10 10 5-5 15-5 10-10 0-10-5-5 0-10-30-30 0-25 25-20 25 0 5 5 15-10 15 0 5-5 25-5 25-25 0-10 15-15 0-4 10 1zM710 479l-10 6-14 20-25 15-11 25-2 10 2 10 9 10 16 11 8-1 4-5-1-25 6-15 13-17 23-18 7-10-4-10zM170 645l-20 5-4 5 4 10 15 14 15-10 34-4 16-10 2-5-1-5-6-1-30 5zM330 508l-9 12 0 5 19 15 6-5 1-15-7-11zM375 437l-12 13-2 10 14 11 15 1 7-7 1-10-13-14zM445 639l-4 1 3 5 6 3 4-3zM629 430l-13 10-4 20-9 20 2 16 5 2 5-2 26-21 6-25 13-20-3-5zM670 384l-5 3 0 8 5 9 5 1 8-5 6-10-3-5zM720 250l-5 5 0 5 5 5 5-5 0-5zM870 245l-5 5 5 5 5-5zM340 555l-6 10 1 5 5 1 5-1 2-5-2-11zM991 225l14-5 0 38-10-4-10-9-2-10zM137 278l-12 23-19 8zM329 295l6-2 5 3 8 19 0 20-3 6-5 1-5-2-5-10-5-25zM40 515l10-3 5 3-1 15-4 2-5-6 0-6zM610 685l10-3 5 13-5 4-10 0-4-9zM9 770l26-2 6 2 1 5-7 9-25 9-15-3 0-10zM161 795l9 1 8 9-31 0zM510 800l20-5 40 4 15 6-80 0zM443 805l12-4 10 4z"/><path fill="#fddcc9" fill-rule="evenodd" d="M250 25l5-5 15 0 15 15 20 0 5 5 20 0 5-5 5 5 10 0 5-5 15 0 5 5 0 5 15 15 15 0 10 10 15 0 5 5 0 10 5 5 0 35 5 5 0 10-20 9-20-3-21 4-10 5-11 15-8 4-30-8-23 4-12 6-15 18-10 6-15-2-20-15-20-8-9-10 7-20-1-5 18-15 10 0 5-5 5 0 5-5 0-5 10 0 20-25 0-10-25-15-5 5-10 0-5 5-15 0-16-11 21-26zM890 25l4-4 26 19 5-2 10-13 11 0 3 5-3 10-11 7-10 0-6 8 0 10 12 10 34 17 5 8-1 5-9 7-25 0-10 4-30 33-55 35-40 6-32-3 7-2 10-10 0-10-5-5 0-10-30-30 0-25 25-20 25 0 5 5 15-10 15 0 5-5 25-5 25-25zM595 70l5-5 5 0 5 6 15 2 5 12 15 15 5 15 10 10 5-5 10 0 10 10 0 15 10 15 5-5 10 0 15 15 5 0 10 15 5 0 4 4-17 11-5 20-7 12-24 18-8 10 0 10 4 8-2 2 14 20 1 25-5 15-15 15-10 0-2-30-23-40-2-20-5-10-25-20-28-12-30-26-7-12-2-35-6-15-5-5-20 4-6-4-2-5 10-7 13 3 5-1 10-11 25-16 4-8 0-10zM91 95l4-5 5 1 7 9 5 30 8 9 4 11-4 8-5 4-10-2-2-5-2-20-9-20zM200 205l5 0 5 3-1 7-24 17zM840 220l5 5-8 5-9 0zM115 380l5-4 10 1 11 8 1 10-12 7-10-1-7-11zM212 385l8-5 5 2 5 8 0 6-5 4-10-3-4-7zM616 390l10 0 3 5-3 5-11-3zM745 406l6 9 1 40-4 10-8 3-10-2-8-6-12-30 0-5 4-5zM851 480l9-3 0 12-5 1zM875 507l13 3-8 5-8 0zM410 510l10 5 1 5-19 20-4 10 3 25 14 7 5 8-2 5-8 5-5-3-6-17-19-8-5-7 3-40zM520 530l5-3 5 1 15 12 8 15 8 30 9 8 13-8 10-25 22-11 5 2 4 19 6 10 25 13 20 15 15-1 20-19 5-1 15 19 30 9 20 24 10 2 10-3 8-8-1-15-12-15 0-5 5 1 29 24 2 15-6 15 4 10 8 5 28 10 40-2 30 16 15 0 10-3 7-11-12-29-25-16 20-15 18 0 37 55 0 56-15 9 6 15-11 1-35-10-55-25-110-11-30-21-65 3-25-22-50-23-20 0-30 12-15 3-15-6-20-24-5 0-15 11-10 0-19-18 1-30-9-25 5-10 7-5 11 0 17 20 7 27 5 2 22-14 7-10-3-15-18-20zM755 527l6 8-2 5-18 15-26 13-7-8 4-15 8-8zM780 547l5 0 4 3 1 5-5 9-6-4zM340 600l10 4 6 11-1 12-5 8-10 7-20-1-7-6 0-5 15-10zM865 625l0 10 5 5 10 0 15-10 4 0-1 5-8 8-15-1-12-7zM994 795l11-3 0 13-14 0zM924 805l6-3 6 3z"/><path fill="#f8bb9e" fill-rule="evenodd" d="M274 24l11 11 20 0 5 5 20 0 5-5 5 5 10 0 5-5 15 0 5 5 0 5 15 15 15 0 10 10 15 0 5 5 0 10 5 5 1 36-16 6-60 11-25 12-50 7-10 4-15 13-15-2-11-12 1-10 8-15-2-10-8-8 7-2 5-5 0-5 10 0 10-10 0-5 10-10 0-10-25-15-5 5-10 0-5 5-15 0-6-5 16-17zM880 45l6 5 11 25 21 20-5 15-18 19-20 11-40 30-25 6-26 0 1-11-5-5 0-10-30-30 0-25 25-20 25 0 5 5 15-10 15 0 5-5 25-5zM630 84l15 16 5 15 10 10 5-5 10 0 10 10 0 15 10 15 5-5 10 0 15 15 5 0 5 5 1 6-19 9-16 25-16 8-13 17-7 4-10-1-55-26-30-25-7-12 3-50 4-10 30-27zM706 620l14-3 32 8 8 10 0 15-10 7-45 10-15-2-9-15 1-10zM776 660l19-4 9 4 21 18 45 10 35 1 25 9 40 3 8 4 0 5-18 12-15 3-45-19-50-4-25-6-30 0-13-6-7-10-3-10z"/><path fill="#ee9677" fill-rule="evenodd" d="M270 35l11-4 4 4 20 0 5 5 20 0 5-5 5 5 10 0 5-5 15 0 5 5 0 5 15 15 15 0 10 10 15 0 5 5 0 10 5 5 0 22-30 14-45 9-30 10-35 4-24-4-26-31 0-4 10 0 10-10 0-5 10-10 0-10-25-15-5 5-10 0-5 5-9 0 8-10zM867 58l10 7 18 30 3 10-3 7-40 31-30 18-15 4-25 1-5-6 0-10-30-30 0-25 10-10 5 0 12-10 23 0 5 5 15-10 15 0 5-5zM619 95l19-2 7 7 5 15 10 10 5-5 10 0 10 10 0 15 10 15 5-5 10 0 15 15 6 1-11 1-10 4-16 19-39 29-50-14-23-20-6-10 3-45 7-15 19-17zM719 630l16 1 7 4 0 5-12 7-20-1-2-6 2-4z"/><path fill="#db6b55" fill-rule="evenodd" d="M277 40l29-4 4 4 20 0 5-5 5 5 10 0 5-5 15 0 5 5 0 5 15 15 15 0 10 10 15 0 5 5 0 10 5 5-1 5-12 15-32 13-60 12-30 2-15-2-15-8-16-17 21-25 0-10-25-15-7 5 14-15zM865 69l10 11 6 20-4 10-22 22-15 10-25 12-35 4 0-8-30-30 0-12 5-7 11-11 32-15 7 5 15-10 15 0 5-5zM619 105l11-3 15 1 5 12 10 10 5-5 10 0 10 10 0 15 5 5 0 5 5 5 4-4-3 14-9 15-32 25-15 1-28-6-13-10-11-15 3-50 9-11z"/><path fill="#c53e3d" fill-rule="evenodd" d="M330 40l45 1 0 4 15 15 15 0 10 10 8 0 4 15-4 15-23 15-55 11-45 0-20-7-14-15 4-4 0-5 10-10 0-10-5-5-14-5 3-5 10-10 11-5zM816 75l24-5 18 5 11 15-2 15-15 20-12 8-30 11-30 6-28-28 1-2 23-25zM622 115l13-4 15 3 10 11 4-4 6 5 14 19 1 15-3 15-13 15-14 10-15 2-25-4-10-8-7-10-1-15 3-30 7-10z"/><path fill="#ab162a" fill-rule="evenodd" d="M297 50l33-4 48 2 12 12 15 0 4 5 6 15-1 15-9 10-10 4-45 9-60-5-10-6-9-12 9-10 0-10-5-5-6-1 11-14zM827 80l18-1 12 11 0 15-12 16-10 6-60 15-13-10 4-12 26-25zM625 125l15-4 10 2 13 7 9 10 3 15-3 15-5 10-12 10-10 3-20-1-10-5-6-7-4-15 1-20 5-10z"/><path fill="#7c0722" fill-rule="evenodd" d="M330 53l55 4 10 5 7 8 4 10-1 10-10 10-25 4-20 6-55-5-9-5-6-9-2-18 5-8 6-5zM830 90l10 1 5 4 0 10-9 10-21 2-13-7 3-10zM634 135l11-2 10 3 5 4 4 10-4 20-5 7-10 5-19-2-8-10-2-15 3-10z"/><path fill="#67001f" fill-rule="evenodd" d="M300 65l20-5 55 3 15 7 5 10-1 5-4 5-45 13-40-5-10-4-6-9 0-10z"/></g>
<use href="#land" fill="#d3d3d3" stroke="#111" stroke-width="0.5" vector-effect="non-scaling-stroke" stroke-linejoin="round"/>
<use href="#isl" fill="none" stroke="#111" stroke-width="0.5" vector-effect="non-scaling-stroke" stroke-linejoin="round"/>
<path d="M10,0V80M30,0V80M50,0V80M70,0V80M90,0V80M0,10H100M0,20H100M0,30H100M0,40H100M0,50H100M0,60H100M0,70H100" stroke="#888" stroke-opacity="0.22" stroke-width="0.6" vector-effect="non-scaling-stroke" fill="none"/>
</g></g>
<rect x="351.50" y="20.00" width="143.50" height="117.40" fill="none" stroke="#707070" stroke-width="0.9"/>
<text x="337.3" y="14.8" font-size="12.5">(c)</text>
<text x="423.6" y="16.6" font-size="12.5" text-anchor="middle">Jena-MLS</text>
<g transform="translate(27.00,160.70) scale(1.43500,1.46750)">
<g clip-path="url(#pc)">
<rect x="0" y="0" width="100" height="80" fill="#fff"/><g transform="scale(0.1)"><path fill="#053061" fill-rule="evenodd" d="M15 -5l20 0 5 5 5-5 10 0 5 15 10 10 0 5 10 10 0 5 15 15 0 5 10 15 0 10 5 5 0 5 20 25 0 5 10 15 0 20 5 5 15-10 10 0 5-5 10 0 15-10 10 0 15-15 10 0 5-5 5 0 5-5 0-5 10 0 20-25 0-10-25-15-5 5-10 0-5 5-15 0-5-5-5 0-35-40 0-5-5-5 0-20 35 0 25 25 5 0 5 5 10 0 5-5 15 0 15 15 20 0 5 5 20 0 5-5 5 5 10 0 5-5 15 0 5 5 0 5 15 15 15 0 10 10 15 0 5 5 0 10 5 5 0 35 5 5 0 10 10 15 0 10 5 5 0 5 10 15 0 10 5 5 15-15 0-15 5-5 0-30 15-15 5 0 25-25 15-5 5-5 0-10 5-5 20 0 15-10 20 0 5 5 5 15 15 15 5 15 10 10 5-5 10 0 10 10 0 15 10 15 5-5 10 0 15 15 5 0 10 15 5 0 10 10 5-5 15-5 10-10-5-25-30-30 0-25 10-10 5 0 10-10 25 0 5 5 15-10 15 0 5-5 25-5 25-25 0-10 15-15 5-15 95 0 0 455-10 10-15 0-10-10-5 0-10 10 0 5-5 5-5 0-20 20 0 5-10 10-5 0-5 5-20 0-5 5-10 0-25 15 0 20 5 5 0 20 5 5 0 10 5 5 0 15 5 5 0 20 5 5 10 0 15-10 35 0 20-15 20 0 5-5 10 0 5-5 15 0 0 200-1010 0 0-205 20-20 0-5 5-5 0-20 5 0 20-15 0-15-5-5 0-20 25-25 15-5 15-15 0-45-10-15 0-15-5-5 0-20 5-5 10-25 45-45 5 0 10-10 5 0 15-15 0-5 10-10 0-5 15-25 0-5-5-5-15 0-5 5-10 0-5 5-20 0-20-15 0-10-30-25-10-25-10-10 0-5-5-5 0-10-5-5 0-10-10-10-5-15-10-10 0-5-20-35zM695 275l-5 5 15 20 0 5 15 20 0 5 20 15 5 0 10-10-10-10 0-5-10-10 0-5-15-15-15-5zM720 250l-5 5 0 5 5 5 5-5 0-5zM850 260l-20 20-5 0-10 10-10 0-5 5 5 15 10 10 5 0 5 5 25 0 5-5 5-15 10-10 0-35-5-5-5 5zM870 245l-5 5 5 5 5-5zM190 445l-15 15-5 0-20 15 0 35-5 5 0 20 10 10 5 0 10-15 0-10 5-5 0-10 5-5 0-10 5-5 0-10 5-5 0-10 5-5 0-5z"/><path fill="#0e4179" fill-rule="evenodd" d="M15 -5l20 0 5 5 5-5 10 0 5 15 10 10 0 5 10 10 0 5 15 15 0 5 10 15 0 10 5 5 0 5 20 25 0 5 10 15 0 20 5 5 15-10 10 0 5-5 10 0 15-10 10 0 15-15 10 0 5-5 5 0 5-5 0-5 10 0 20-25 0-10-25-15-5 5-10 0-5 5-15 0-5-5-5 0-35-40 0-5-5-5 0-20 35 0 25 25 5 0 5 5 10 0 5-5 15 0 15 15 20 0 5 5 20 0 5-5 5 5 10 0 5-5 15 0 5 5 0 5 15 15 15 0 10 10 15 0 5 5 0 10 5 5 0 35 5 5 0 10 10 15 0 10 5 5 0 5 10 15 0 10 5 5 15-15 0-15 5-5 0-30 15-15 5 0 25-25 15-5 5-5 0-10 5-5 20 0 15-10 20 0 5 5 5 15 15 15 5 15 10 10 5-5 10 0 10 10 0 15 10 15 5-5 10 0 15 15 5 0 10 15 5 0 10 10 5-5 15-5 10-10-5-25-30-30 0-25 10-10 5 0 10-10 25 0 5 5 15-10 15 0 5-5 25-5 25-25 0-10 15-15 5-15 95 0 0 455-10 10-15 0-10-10-5 0-10 10 0 5-5 5-5 0-20 20 0 5-10 10-5 0-5 5-20 0-5 5-10 0-25 15 0 20 5 5 0 20 5 5 0 10 5 5 0 15 5 5 0 20 5 5 10 0 15-10 35 0 20-15 20 0 5-5 10 0 5-5 15 0 0 200-1010 0 0-205 20-20 0-5 5-5 0-20 5 0 20-15 0-15-5-5 0-20 25-25 15-5 15-15 0-45-10-15 0-15-5-5 0-20 5-5 10-25 45-45 5 0 10-10 5 0 15-15 0-5 10-10 0-5 15-25 0-5-5-5-15 0-5 5-10 0-5 5-20 0-20-15 0-10-30-25-10-25-10-10 0-5-5-5 0-10-5-5 0-10-10-10-5-15-10-10 0-5-20-35zM375 694l-4 6 6 5 16 0 2-5-5-4zM695 275l-5 5 15 20 0 5 15 20 0 5 20 15 5 0 10-10-10-10 0-5-10-10 0-5-15-15-15-5zM720 250l-5 5 0 5 5 5 5-5 0-5zM850 260l-20 20-5 0-10 10-10 0-5 5 5 15 10 10 5 0 5 5 25 0 5-5 5-15 10-10 0-35-5-5-5 5zM870 245l-5 5 5 5 5-5zM190 445l-15 15-5 0-20 15 0 35-5 5 0 20 10 10 5 0 10-15 0-10 5-5 0-10 5-5 0-10 5-5 0-10 5-5 0-10 5-5 0-5z"/><path fill="#1f63a8" fill-rule="evenodd" d="M15 -5l20 0 5 5 5-5 10 0 5 15 10 10 0 5 10 10 0 5 15 15 0 5 10 15 0 10 5 5 0 5 20 25 0 5 10 15 0 20 5 5 15-10 10 0 5-5 10 0 15-10 10 0 15-15 10 0 5-5 5 0 5-5 0-5 10 0 20-25 0-10-25-15-5 5-10 0-5 5-15 0-5-5-5 0-35-40 0-5-5-5 0-20 35 0 25 25 5 0 5 5 10 0 5-5 15 0 15 15 20 0 5 5 20 0 5-5 5 5 10 0 5-5 15 0 5 5 0 5 15 15 15 0 10 10 15 0 5 5 0 10 5 5 0 35 5 5 0 10 10 15 0 10 5 5 0 5 10 15 0 10 5 5 15-15 0-15 5-5 0-30 15-15 5 0 25-25 15-5 5-5 0-10 5-5 20 0 15-10 20 0 5 5 5 15 15 15 5 15 10 10 5-5 10 0 10 10 0 15 10 15 5-5 10 0 15 15 5 0 10 15 5 0 10 10 5-5 15-5 10-10-5-25-30-30 0-25 10-10 5 0 10-10 25 0 5 5 15-10 15 0 5-5 25-5 25-25 0-10 15-15 5-15 95 0 0 455-10 10-15 0-10-10-5 0-10 10 0 5-5 5-5 0-20 20 0 5-10 10-5 0-5 5-20 0-5 5-10 0-25 15 0 20 5 5 0 20 5 5 0 10 5 5 0 15 5 5 0 20 5 5 10 0 15-10 35 0 20-15 20 0 5-5 10 0 5-5 15 0 0 200-1010 0 0-205 20-20 0-5 5-5 0-20 5 0 20-15 0-15-5-5 0-20 25-25 15-5 15-15 0-45-10-15 0-15-5-5 0-20 5-5 10-25 45-45 5 0 10-10 5 0 15-15 0-5 10-10 0-5 15-25 0-5-5-5-15 0-5 5-10 0-5 5-20 0-20-15 0-10-30-25-10-25-10-10 0-5-5-5 0-10-5-5 0-10-10-10-5-15-10-10 0-5-20-35zM220 226l-6 9 6 5 5-3 1-7-1-4zM375 689l-11 6 0 5 5 5 16 6 8-1 6-5 1-5-5-7zM695 275l-5 5 15 20 0 5 15 20 0 5 20 15 5 0 10-10-10-10 0-5-10-10 0-5-15-15-15-5zM720 250l-5 5 0 5 5 5 5-5 0-5zM850 260l-20 20-5 0-10 10-10 0-5 5 5 15 10 10 5 0 5 5 25 0 5-5 5-15 10-10 0-35-5-5-5 5zM870 245l-5 5 5 5 5-5zM190 445l-15 15-5 0-20 15 0 35-5 5 0 20 10 10 5 0 10-15 0-10 5-5 0-10 5-5 0-10 5-5 0-10 5-5 0-10 5-5 0-5z"/><path fill="#3480b9" fill-rule="evenodd" d="M15 -5l20 0 5 5 5-5 10 0 5 15 10 10 0 5 10 10 0 5 15 15 0 5 10 15 0 10 5 5 0 5 20 25 0 5 10 15 0 20 5 5 15-10 10 0 5-5 10 0 15-10 10 0 15-15 10 0 5-5 5 0 5-5 0-5 10 0 20-25 0-10-25-15-5 5-10 0-5 5-15 0-5-5-5 0-35-40 0-5-5-5 0-20 35 0 25 25 5 0 5 5 10 0 5-5 15 0 15 15 20 0 5 5 20 0 5-5 5 5 10 0 5-5 15 0 5 5 0 5 15 15 15 0 10 10 15 0 5 5 0 10 5 5 0 35 5 5 0 10 10 15 0 10 5 5 0 5 10 15 0 10 5 5 15-15 0-15 5-5 0-30 15-15 5 0 25-25 15-5 5-5 0-10 5-5 20 0 15-10 20 0 5 5 5 15 15 15 5 15 10 10 5-5 10 0 10 10 0 15 10 15 5-5 10 0 15 15 5 0 10 15 5 0 10 10 5-5 15-5 10-10-5-25-30-30 0-25 10-10 5 0 10-10 25 0 5 5 15-10 15 0 5-5 25-5 25-25 0-10 15-15 5-15 95 0 0 455-10 10-15 0-10-10-5 0-10 10 0 5-5 5-5 0-20 20 0 5-10 10-5 0-5 5-20 0-5 5-10 0-25 15 0 20 5 5 0 20 5 5 0 10 5 5 0 15 5 5 0 20 5 5 10 0 15-10 35 0 20-15 20 0 5-5 10 0 5-5 15 0 0 200-1010 0 0-205 20-20 0-5 5-5 0-20 5 0 20-15 0-15-5-5 0-20 25-25 15-5 15-15 0-45-10-15 0-15-5-5 0-20 5-5 10-25 45-45 5 0 10-10 5 0 13-13-16 28 2 5 6 3 9-3 6-12 20 0 5-3 0-10 5-7 25-9 12-24-4-25 11-5 3-5-17-18-13 3-4 5 0 15-10 25-18 20-20 14 0-4 10-10 15-35-5-5-15 0-5 5-10 0-5 5-20 0-20-15 0-10-30-25-10-25-10-10 0-5-5-5 0-10-5-5 0-10-10-10-5-15-10-10 0-5-20-35zM365 688l-8 7 1 5 13 10 19 4 14-9-1-10-8-6-15-3zM695 275l-5 5 15 20 0 5 15 20 0 5 20 15 5 0 10-10-10-10 0-5-10-10 0-5-15-15-15-5zM720 250l-5 5 0 5 5 5 5-5 0-5zM850 260l-20 20-5 0-10 10-10 0-5 5 5 15 10 10 5 0 5 5 25 0 5-5 5-15 10-10 0-35-5-5-5 5zM870 245l-5 5 5 5 5-5zM190 445l-15 15-5 0-20 15 0 35-5 5 0 20 10 10 5 0 10-15 0-10 5-5 0-10 5-5 0-10 5-5 0-10 5-5 0-10 5-5 0-5z"/><path fill="#529dc8" fill-rule="evenodd" d="M15 -5l20 0 5 5 5-5 10 0 5 15 10 10 0 5 10 10 0 5 15 15 0 5 10 15 0 10 5 5 0 5 20 25 0 5 10 15 0 20 5 5 15-10 10 0 5-5 10 0 15-10 10 0 15-15 10 0 5-5 5 0 5-5 0-5 10 0 20-25 0-10-25-15-5 5-10 0-5 5-15 0-5-5-5 0-35-40 0-5-5-5 0-20 35 0 25 25 5 0 5 5 10 0 5-5 15 0 15 15 20 0 5 5 20 0 5-5 5 5 10 0 5-5 15 0 5 5 0 5 15 15 15 0 10 10 15 0 5 5 0 10 5 5 0 35 5 5 0 10 10 15 0 10 5 5 0 5 10 15 0 10 5 5 15-15 0-15 5-5 0-30 15-15 5 0 25-25 15-5 5-5 0-10 5-5 20 0 15-10 20 0 5 5 5 15 15 15 5 15 10 10 5-5 10 0 10 10 0 15 10 15 5-5 10 0 15 15 5 0 10 15 5 0 10 10 5-5 15-5 10-10-5-25-30-30 0-25 10-10 5 0 10-10 25 0 5 5 15-10 15 0 5-5 25-5 25-25 0-10 15-15 5-15 95 0 0 455-10 10-15 0-10-10-5 0-10 10 0 5-5 5-5 0-20 20 0 5-10 10-5 0-5 5-20 0-5 5-10 0-25 15 0 20 5 5 0 20 5 5 0 10 5 5 0 15 5 5 0 20 5 5 10 0 15-10 35 0 20-15 20 0 5-5 10 0 5-5 15 0 0 200-1010 0 0-205 20-20 0-5 5-5 0-20 5 0 20-15 0-15-5-5 0-20 25-25 15-5 15-15 0-45-10-15 0-15-5-5 0-20 5-5 10-25 45-45 5 0 6-6-7 16 4 5 29 15 8 11 8-1 0-25 20-15 7-18 20-8 15-15 5-14-5-15 14-20-1-5-14-10-9-15-5-3-30 27-15 5-2 11-13 0-5 5-10 0-5 5-20 0-10-10-5 0-5-5 0-10-30-25-10-25-10-10 0-5-5-5 0-10-5-5 0-10-10-10-5-15-10-10 0-5-20-35zM285 114l-5 6 10 8 5 0 0-12zM315 601l-4 4 1 5 17 0 2-5zM365 684l-16 6 3 10 11 10 27 7 10-3 9-9-2-10-7-8-15-4zM645 278l-6 7 2 5 9 4 9-4-4-9zM695 275l-5 5 15 20 0 5 15 20 0 5 20 15 5 0 10-10-10-10 0-5-10-10 0-5-15-15-15-5zM720 250l-5 5 0 5 5 5 5-5 0-5zM850 260l-20 20-5 0-10 10-10 0-5 5 5 15 10 10 5 0 5 5 25 0 5-5 5-15 10-10 0-35-5-5-5 5zM870 245l-5 5 5 5 5-5zM190 445l-15 15-5 0-20 15 0 35-5 5 0 20 10 10 5 0 10-15 0-10 5-5 0-10 5-5 0-10 5-5 0-10 5-5 0-10 5-5 0-5zM199 206l0 9-5 10-9 7 10-17z"/><path fill="#84bcd9" fill-rule="evenodd" d="M15 -5l20 0 5 5 5-5 10 0 5 15 10 10 0 5 10 10 0 5 15 15 0 5 10 15 0 10 5 5 0 5 20 25 0 5 10 15 0 20 5 5 15-10 10 0 5-5 10 0 15-10 10 0 15-15 10 0 5-5 5 0 5-5 0-5 10 0 20-25 0-10-25-15-5 5-10 0-5 5-15 0-5-5-5 0-35-40 0-5-5-5 0-20 35 0 25 25 5 0 5 5 10 0 5-5 15 0 15 15 20 0 5 5 20 0 5-5 5 5 10 0 5-5 15 0 5 5 0 5 15 15 15 0 10 10 15 0 5 5 0 10 5 5 0 35 5 5 0 10 10 15 0 10 5 5 0 5 10 15 0 10 5 5 15-15 0-15 5-5 0-30 15-15 5 0 25-25 15-5 5-5 0-10 5-5 20 0 15-10 20 0 5 5 5 15 15 15 5 15 10 10 5-5 10 0 10 10 0 15 10 15 5-5 10 0 15 15 5 0 10 15 5 0 10 10 5-5 15-5 10-10-5-25-30-30 0-25 10-10 5 0 10-10 25 0 5 5 15-10 15 0 5-5 25-5 25-25 0-10 15-15 5-15 95 0 0 455-10 10-15 0-10-10-5 0-10 10 0 5-5 5-5 0-20 20 0 5-10 10-5 0-5 5-20 0-5 5-10 0-25 15 0 20 5 5 0 20 5 5 0 10 5 5 0 15 5 5 0 20 5 5 10 0 15-10 35 0 20-15 20 0 5-5 10 0 5-5 15 0 0 200-1010 0 0-205 20-20 0-5 5-5 0-20 5 0 20-15 0-15-5-5 0-20 25-25 15-5 15-15 0-45-10-15 0-15-5-5 0-20 5-5 10-25 37-37 3 12 20 6 14 9 3 15-7 15 5 4 15 1 10-11 17-4 3-5-10-20 1-10 9-10 20-9 5-16 20-21 9-19 1-15 7-5 3-20 0-5-5-4-15-8-15-22-10-4-4 3-2 15-4 5-20 12-16 3-4 10 1 10-6 0-5 5-10 0-5 5-20 0-10-10-5 0-5-5 0-10-30-25-10-25-10-10 0-5-5-5 0-10-5-5 0-10-10-10-5-15-10-10 0-5-20-35zM285 104l-29 16-1 9 5 4 22 2 5 10 0 20 7 5 11 0 3-5-6-30 2-20-9-10zM315 590l-12 15-2 5 4 7 45-1 14-11-8-5-21-3zM462 325l1 5 7 5 7 0 1-10-8-4zM560 310l-4 5 0 5 6 5 13 0 8-5 1-5-9-7zM625 272l-6 8 11 19 10 3 27-7 1-5-13-18-5-3zM695 275l-5 5 15 20 0 5 15 20 0 5 20 15 5 0 10-10-10-10 0-5-10-10 0-5-15-15-15-5zM720 250l-5 5 0 5 5 5 5-5 0-5zM850 260l-20 20-5 0-10 10-10 0-5 5 5 15 10 10 5 0 5 5 25 0 5-5 5-15 10-10 0-35-5-5-5 5zM870 245l-5 5 5 5 5-5zM190 445l-15 15-5 0-20 15 0 35-5 5 0 20 10 10 5 0 10-15 0-10 5-5 0-10 5-5 0-10 5-5 0-10 5-5 0-10 5-5 0-5zM260 324l-8 11 3 6 5-2 6-9-1-6zM340 679l-6 6 1 7 25 21 30 8 15-6 10-10-3-10-12-14z"/><path fill="#aed3e6" fill-rule="evenodd" d="M15 -5l20 0 5 5 5-5 10 0 5 15 10 10 0 5 10 10 0 5 15 15 0 5 10 15 0 10 5 5 0 5 20 25 0 5 10 15 0 20 5 5 15-10 10 0 5-5 10 0 15-10 10 0 9-9 5 14-2 10-12 8-20-2-8 4-5 10-2 25-10 0-5 5-20 0-10-10-5 0-5-5 0-10-30-25-10-25-10-10 0-5-5-5 0-10-5-5 0-10-10-10-5-15-10-10 0-5-20-35zM170 -5l35 0 25 25 5 0 5 5 10 0 5-5 15 0 15 15 20 0 5 5 20 0 5-5 5 5 10 0 5-5 15 0 5 5 0 5 15 15 15 0 10 10 15 0 5 5 0 10 5 5 0 35 5 5 0 10 10 15 0 10 5 5 0 5 10 15 0 10 5 5 15-15 0-15 5-5 0-30 15-15 5 0 25-25 15-5 5-5 0-10 5-5 20 0 15-10 20 0 5 5 5 15 15 15 5 15 10 10 5-5 10 0 10 10 0 15 10 15 5-5 10 0 15 15 5 0 10 15 5 0 10 10 5-5 15-5 10-10-5-25-30-30 0-25 10-10 5 0 10-10 25 0 5 5 15-10 15 0 5-5 25-5 25-25 0-10 15-15 5-15 95 0 0 455-10 10-15 0-10-10-5 0-10 10 0 5-5 5-5 0-20 20 0 5-10 10-5 0-5 5-20 0-5 5-10 0-25 15 0 20 5 5 0 20 5 5 0 10 5 5 0 15 5 5 0 20 5 5 10 0 15-10 35 0 20-15 20 0 5-5 10 0 5-5 15 0 0 200-1010 0 0-205 20-20 0-5 5-5 0-20 5 0 20-15 0-15-5-5 0-20 25-25 15-5 15-15 0-45-10-15 0-15-5-5 0-20 5-5 10-25 28-28-7 18 3 10 11 2 15-12 10 1 4 4 1 5-6 10 1 10 11 10 24 2 28-17 5-10-3-20 10-6 24-44 21-24 15 0 5-5 0-11-7-20 2-10 5-4 15-4 7-7-9-35 5-25-3-11-5-2-25-4-15 17-15 7-5 10-5 3-18-2 23-8 5-5 0-5 10 0 20-25 0-10-25-15-5 5-10 0-5 5-15 0-5-5-5 0-35-40 0-5-5-5zM315 79l-2 1 2 5zM370 303l-4 7 1 5 7 10 6 3 7-8 1-10-8-8zM395 253l-2 2 2 5zM430 284l-3 6 1 30 5 10 22 1 15 9 10 2 10-9 15 3 8-6 2-5-3-5-12 0-10 4-15-10-20 0-13-14-6-15zM470 277l-4 8 4 4 5-1 2-8zM555 300l-10 4-6 11 16 14 24 1 15-10 2-5-3-5-8-5-15-6zM630 265l-17 10-1 10 10 20 18 25 6 5 9 1 8-11-3-5-13-5 0-5 8-5 15-3 6-7 0-5-21-27zM695 275l-5 5 15 20 0 5 15 20 0 5 20 15 5 0 10-10-10-10 0-5-10-10 0-5-15-15-15-5zM720 250l-5 5 0 5 5 5 5-5 0-5zM850 260l-20 20-5 0-10 10-10 0-5 5 5 15 10 10 5 0 5 5 25 0 5-5 5-15 10-10 0-35-5-5-5 5zM870 245l-5 5 5 5 5-5zM190 445l-15 15-5 0-20 15 0 35-5 5 0 20 10 10 5 0 10-15 0-10 5-5 0-10 5-5 0-10 5-5 0-10 5-5 0-10 5-5 0-5zM265 304l-13 11-6 15-1 10 5 7 10-2 15-15 1-5-4-15-2-5zM310 582l-21 33-5 20 6 7 6-2 17-15 17-4 20 2 20-8 15-2 5-5 1-13-6-3-50-1-20-10zM440 620l-2 5 7 0-2-5zM340 673l-12 12 1 10 26 21 35 8 32-14 1-10-15-20-7-5-41 2zM267 145l8-2 4 2 1 6-5 7-8-3z"/><path fill="#d4e6f1" fill-rule="evenodd" d="M15 -5l20 0 5 5 5-5 10 0 5 15 10 10 0 5 10 10 0 5 15 15 0 5 10 15 0 10 5 5 0 5-10-3-5 3 0 6 5 4 5 0 5-5 0-5 10 10 0 5 15 20 0 5 4 4-9 2-2 4 2 6 10-3 0 12 5 5 15-10 10 0 5-5 7 0-13 20-5 20-15 15-9 0-10-10-5 0-5-5 0-10-30-25-10-25-15-20-5-25-10-10-5-15-10-10 0-5-20-35zM120 164l-1 6 6 9 5 3 9-2 0-5-9-11-5-4zM170 -5l35 0 25 25 5 0 5 5 10 0 5-5 15 0 15 15 20 0 5 5 10 0 5 8 10 4 5-5 0-7 10 0 5-5 15 0 5 5 0 5 15 15 15 0 10 10 15 0 5 5 0 10 5 5 0 35 5 5 0 10 10 15 0 10 5 5 0 5 10 15 0 10 5 5 15-15 0-15 5-5 0-30 15-15 5 0 25-25 15-5 5-5 0-10 5-5 20 0 15-10 20 0 5 5 5 15 15 15 5 15 10 10 5-5 10 0 10 10 0 15 10 15 5-5 10 0 15 15 5 0 10 15 5 0 10 10 5-5 15-5 10-10-5-25-30-30 0-25 10-10 5 0 10-10 25 0 5 5 15-10 15 0 5-5 25-5 25-25 0-10 15-15 5-15 95 0 0 405-20 24-15-2-6 3 0 5 6 8 5 0 10-12 20-3 0 27-10 10-15 0-10-10-5 0-10 10 0 5-5 5-5 0-20 20 0 5-10 10-5 0-5 5-20 0-5 5-10 0-25 15 0 20 5 5 0 20 5 5 0 10 5 5 0 15 5 5 0 20 5 5 10 0 15-10 35 0 20-15 20 0 5-5 10 0 5-5 15 0 0 200-989 0-11-10-10-1 0-194 20-20 0-5 5-5 0-20 5 0 20-15 0-15-5-5 0-20 25-25 15-5 15-15 0-45-10-15 0-15-5-5 0-20 4-4 11 4 8-5 7-11 5-1 25 4 18 13 17 7 21-2 34-18 5 1 9 12 6 2 10-3 15-11 18-8 0-5-10-10-8-20-10-4-15 5-3-6 18-34 15-12 20-8 6-11-11-30 5-9 17-6 8-10-1-10-9-15-1-10 2-5 15-10 1-5-7-7-3-8 6-15-2-10-11-11-15 0-10-14-5 0-8 15-7 5-15-10-5 5-10 0-5 5-15 0-5-5-5 0-35-40 0-5-5-5zM345 140l-1 10 6 4 5 0 5-7 1-7-6-7zM370 294l-10 6-3 10 6 15 17 20-10 9-1 6 11 4 5-4-5-15 10-10 9-20-4-10-10-10-5-2zM395 243l-10 10 0 13 25 7 6 7 3 10-3 30-10 20 4 7 40-10 25 9 10 1 25-5 15-15 10-3 20 11 25 2 10-4 20-16 5-1 21 19 14 8 10 0 10-7 20-6-1-5-9-7-3-8 7-15-2-10-14-10-3-10 2-10-7-5-30 9-20 11-6 10 4 15-3 7-50-13-10 2-20 19-30 2-18-7 8-20-5-14-10-1-20 14-30-11-15-24zM665 175l-10 15 5 14 5 0 4-4 3-10-2-17zM695 275l-5 5 15 20 0 5 15 20 0 5 20 15 5 0 10-10-10-10 0-5-10-10 0-5-15-15-15-5zM720 250l-5 5 0 5 5 5 5-5 0-5zM785 624l-10 6 1 5 18 20 6 1 12-11 0-10-12-13zM790 175l-3 5 1 5 7 3 5-2 0-9zM850 260l-20 20-5 0-10 10-10 0-5 5 5 15 10 10 5 0 5 5 25 0 5-5 5-15 10-10 0-35-5-5-5 5zM870 245l-5 5 5 5 5-5zM140 395l0 5 9-5-4-3zM190 445l-15 15-5 0-20 15 0 35-5 5 0 20 10 10 5 0 10-15 0-10 5-5 0-10 5-5 0-10 5-5 0-10 5-5 0-10 5-5 0-5zM250 589l-3 6 3 8 10 2 11-5-2-10-9-4zM310 573l-5 3-10 18-13 11-9 25 12 18 5 1 10-3 25-19 25 3 25-8 7 3 8 17 4 3 10-5 4-15-7-20 4-6 15-7 0-12-5-3-35 8-20-3-20 4zM315 322l-3 3 3 3 5-3zM455 603l-15 0-13 7-6 10 5 10 9 6 25 1 5-3 17-24-4-15-3-3zM500 614l-4 1-1 6 5-1zM550 678l5 9 0-10zM578 660l7 3 6-3-6-4zM595 615l0 6 10 2 3-3-3-5zM625 619l-14 6 9 24 15 0 15 7 25 2 7-3-1-10-6-7-30 1-5-3-5-16zM725 624l-19 6 7 15-15 15 7 8 10 1 6-4 8-15 11 11 5 0 3-6 2-23zM155 694l-4 6 3 5 11 3 9-3-9-9zM175 633l-5 7 5 6 5-6zM185 600l-3 10 3 9 5-9 0-6zM295 684l-1 11 6 5 6-5 0-5-6-7zM322 685l-1 10 5 5 14 9 15 16 30 6 20-6 10 0 4 5-3 20 3 5 16-5 3-5-7-25 5-25-12-5-10-15-19-8-30 6-20-7zM615 777l-3 3 4 5 13 0-4-6zM750 676l-3 4 3 5 3-5zM295 70l2 10-2 4-5-4 0-5zM200 145l5-5 5 0 5 3 2 7-7 4-8-4zM464 300l9 5-10 0z"/><path fill="#ecf2f5" fill-rule="evenodd" d="M15 -5l12 0 7 5 6 23 5 0 6-28 4 0 5 15 10 10 0 5 10 10 0 5 15 15 0 5 10 15 1 11-11 0-6 4 1 19 15 3 14-8 1 6 10 10 0 5 4 4-11 6-8 15-12 10-2 5-11-10 0-5-10-15 0-13-10-2 0-5-5-5 0-10-5-5 0-10-10-10-5-15-10-10 0-5-20-35zM170 -5l35 0 25 25 5 0 5 5 10 0 5-5 15 0 15 15-10 4-5 5-7 21-8-5-5 5-10 0-4 4-11-6-7 5-8-3-35-40 0-5-5-5zM220 34l-3 11 3 8 5 0 5-13-5-8zM916 -5l68 0 6 13 15 4 0 77-15 4-7 12 22 29 0 76-6 0-1 5 7 8 0 37-3 5 3 6 0 116-15 21-10 6-20 3-6 8 16 25 15 3 20-12 0 9-10 10-15 0-10-10-5 0-10 10 0 5-5 5-5 0-20 20 0 5-10 10-5 0-5 5-20 0-5 5-10 0-5 5-15 5-5 5 0 20 5 5 0 20 5 5 0 10 5 5 0 15 5 5-1 20 11 10 20-9 25 4 7-5 1-5 22-15 20 0 5-5 10 0 5-5 15 0 0 200-72 0-3-3-5 0-1 3-320 0 6-7 25-5 5-8-10-12-25-19-5 0 3 16-11 20-12 6-20 2-8 7-521 0-26-17-10-2 0-90 15 1 15 7 5-2 2-7-2-6-10-4-25-1 0-84 20-20 0-5 5-5 0-20 5 0 20-15 0-15-5-5 0-20 25-25 15-5 15-15 0-45-10-15 0-15-5-5 0-20 15 5 20-9 25 0 30 13 10 2 20-2 25-11 20 10 35-15 10 7 10-11 30-4 15 13 13 2 3 15 19 6 6-1 14-10 15 0 15-8 10 4 10-11 5-1 25 9 30-4 15-14 10-5 20 12 15 2 15 11 11-15 19-12 30 19 10 2 25-4 35-14 9 4 2 15 4 1 7-6-1-4 4 4 5 0 10-10-20-25 18-10-3-5-15-6-8 8-7-7-15-5-11-9-11-31-13-6-20 1-65 42-10 2-15-4-20 2-5 3-10 15-10 2-6-2-27-35-12-1-20 10-15-3-9-6-6-25-25-5-9 5-5 10-5 30-21 15-10 11-30 2-24-8-13-15-2-5 2-5 12-4 15 1 5-3 3-9-5-15 1-5 16-20 17-15-7-4-25 2-5-2-2-6 22-13 13-17 22-6 9-24-1-5-12-10-2-5 3-10 13-15 0-10-10-7-15 1-3-4 8-30 5-5 15 18 15 2 5 5 15 0 10 10 15 0 5 5 0 10 5 5 0 35 5 5 0 10 10 15 0 28-1 7-24 19 0 12 20-6 15 10 7 0-10-25 8-10 0 10 5 5 15-15 0-15 5-5 0-30 15-15 5 0 25-25 15-5 5-5 0-10 5-5 20 0 15-10 20 0 5 5 5 15 15 15 5 15 10 10 5-5 10 0 10 10 0 15 10 15 5-5 10 0 15 15 5 0 10 15 5 0 10 10 23-13-3 9-22 9-10 20 17 6 18-16 7-12 20-5 5-8-2-10-8-6-15 1 0-5-5-5 0-10-22-22 37 17 25 2 2-2-8-10 5-20-9-4-20 6-25-13-15 9 0-18 25-20 25 0 5 5 5-5 14-5 13 15-10 25 8 3 10-2 10-11 7-15-1-15-7-9 11-1 25-25 0-10 15-15 0-5zM940 110l0 9 5 7 7-6 3-10-10-4zM950 42l-5 3 2 5 8 2 4-7zM975 138l-9 7-1 5 5 13 5 4 4-22zM985 35l-5 5 10 4 5 1 6-5zM910 667l-5 8 5 1 2-6zM945 674l-6 11 0 30 17 20 9 2 5-7-2-5-18-8-4-7 0-15 10-15-1-5zM45 737l-4 8 9 5 6-5-3-5zM80 479l0 8 5 4 5 0 3-6-3-7-5-2zM110 559l-1 6 8 5-2-8zM150 380l-19 15-1 10 5 3 30-8-3-20zM190 445l-15 15-5 0-20 15 0 35-5 5 0 20 10 10 5 0 10-15 0-10 5-5 0-10 5-5 0-10 5-5 0-10 5-5 0-10 5-5 0-5zM205 530l-5 5 10 15 4-10-4-8zM265 380l-3 5 3 5 10 0 11-10 4-28zM565 393l-2 12 5 10 7 5 10-1 4-9-4-9-15-11zM600 605l-20 9-5 10-15 1-9 5-1 5 7 25-12 10-3 10 13 19 14 1 1-5-5-15 0-10 5-2 20 4 5-2 6-10-6-8-20-7 0-19 10 0 15 6 7 8 6 15 7 5 15-2 15 10 15-4 20 2 18 14 2 15 10 2 15-9 25 16 14-9 4-25-12-15 1-10 3-3 10 8 5 10 20 6 15-9 15 3 16-20 0-5-6-2-15 3-5-2-11-14-9-6-15 0-20 9-5-1-20-21-10 2-15 14-35 0-10 10-15 4-6-1-9-16-20-2-12-7zM630 373l-10 12 10 5 7-10-2-6zM680 432l-3 3 4 5 13 0-4-5zM390 117l-8 8 0 5 18 23 5-1 20-22-5-5-15-2zM555 198l2 7 8 12 10 5 2-2-5-25-7-4zM645 144l-10 11-3 20 3 3 10-5 8 37 2 3 10 1 7-4 10-25-2-20-10-18-15-5zM690 225l-2 10 7 6 5-2 3-9-2-5-6-2zM705 189l-4 1 0 5 4 7 5 0 1-7zM720 250l-5 5 0 5 5 5 5-5 0-5zM785 249l-7 6-2 10 6 10-2 20 10 7 11-1 4 4 0 21 23 14 14 25 8 5 6-5 6-20-24-20 12 0 10-11 1-10 9-9 0-35-5-5-5 5-10 0-14 14 0-4-6-2-10 10-13-8-5-20zM835 156l-2 4 2 5 7-5zM870 245l-5 5 5 5 5-5zM895 404l-5 6-3 10 8 9 10 0 1-19-6-7zM907 265l1 5 12 7 12-12-12-4zM945 179l-10 6-1 5 1 6 5 5 10-1 8-10-3-9zM81 605l2 5 17 9 5 6 5 3 4-3 0-5-14-7-10-15zM165 549l-16 11-4 10 10 20 15 10 2 5-2 11-15 14-1 5 16 26 5 2 5-2 15-23 10-6 20 1 15 15 15-5 15 0 10 9 15 4 35-21 5 0 11 10 1 5-6 10-21 15-15-9-10 4-12 15 7 17 10 6 15-6 19 8 9 10 7 16 20 21 5-1 10-11 10-4 5 0 10 23 5 4 20-8 15 6 10-4-1-12-14-15-7-15 1-10 12-20-8-10-1-20-7-7-25 13-12-6 0-5 17-18 5-1 15 8 30 5 15-19 15 3 8-3 15-20 2-11-10-2-15 5-5-2-15-19-20 14-20-4-10-16-10-7-35 12-20-5-20 4-30-13-10 4-10 14-15-7-20 0-9 3-9 5-10 25-7 3-15-6-7-12-23-15-1-20-4-9zM585 700l-4 5 4 11 5 3 12-4 1-5-6-5zM620 704l-8 6 8 6 6-6 0-5zM660 684l-6 6 6 6 4-6zM730 740l-10 4-2 6-1 15 3 5 5 2 10-16 10-4 15 0 8-12-3-4-5-1-10 5zM830 692l-2 8 9 15 8 23 7-8 1-10-10-25-8-5zM801 560l-1 6 10-1 0-5zM831 605l1 5 8 3 1-8zM940 249l-7 11 2 3 10 1 7-4 3-10-5-3zM90 710l-2 5 2 5 5 2 3-7zM110 759l-10 11-1 10 5 5 16 5 10-3 2-2-1-5-11-7-6-13zM160 684l-16 11-2 15 3 3 35 2 5-5-4-10zM245 664l-4 6 14 30 4-20-4-8zM500 690l-3 5 2 5 6 2 5-2 3-10-3-3zM515 740l-3 10 3 9 5 5 7 1 7-10 3-15-2-4-5-1zM826 750l-2 5 11 10 5-3 2-12-2-8zM845 775l-5 5 5 7 5-2 1-5zM245 717l-10 26-25 4-12 8-2 5 4 11 10 3 15-10 15 7 24-16 1-20-15-17zM158 157l3 3-6 10-5 0-7-7 2 2 5-5zM395 280l5-1 5 4 4 7-2 5-7-2-6-8zM368 630l7 0 5 5 8 20-5 5-18 6-9-6-4-15z"/><path fill="#f9eee7" fill-rule="evenodd" d="M170 -5l34 0 2 20-6 15-10 10-15-15 0-5-5-5zM924 -5l18 0-8 10 1 5 5 3 5-1 5-7 0-10 24 0-1 15-6 15-7 6-17 4-4 5-1 10 7 10 10 5 20-15 24 10 0 5-8 15-26 18-35 2 5 35-7 15 15 15-15 15 0 20 7 8 15 1 20-14 14 20 21 17 0 18-9 5-2 10 4 10 7 4 0 100-12 6-3 15-5 5-45 9-15 7-5-1-5-5-1-10-7-10-12-5-6 0-9 18-5 6-5-1-19-28 10-10 7-20 12-16 5-3 15 0 5-6-20-5-11-10-1-10 13-15-3-15 7-5 5 1 20 16 10-2 25-14 10-9 3-12-3-15-35 2-5 13-5 2-15 1-20-4-7 6-3 16 0-11-5-5-5 5-11 1-4-6-15-5-4-5 4-8 13-7 12-12 15 3 8-6-7-25 1-25-10-15-17-4-10-6-8-10 2-5 16 4 13-4 6-20 31-10 10-15 10 16 10 4 5-5-15-23-15-2-5-5 5-34 21-26zM965 221l-5 4 1 5 4 1 3-6zM945 336l-2 4 2 3 5-3zM870 245l-5 5 5 5 5-5zM900 137l-6 8 1 5 5 2 6-7-1-6zM15 2l5 1 7 7 2 24-14-24zM60 7l10 13 0 5-5 4-5-2-5-7zM268 20l9 7-7-2zM243 35l7-3 9 3-3 25-6 5-10 0-6-10zM67 45l13-5 15 15 0 5 10 15 0 5-10-1-15-13-5 1-4 8 9 15 1 10-1 6-5 4-10-1-7-29-9-20zM870 55l5-1 13 11-4 5-9 2-5-7zM406 61l9 9 15 0 5 5 1 11-16 0-15 12-15-1-15 13-3-5 9-15 2-15 17-4zM599 66l-1 4 2 2 10 1 6-3-2-5 6 0 5 5 5 15 15 16 5 14 10 10 5 0-23 10-17 14-8 1 5 10 0 15 3 10 15 8 3 7 1 20-4 15-25 20-30 17-10 3-6-5-9-16-20-2-9-7-2-45-19 2-20 22-15-11-4-12 4 4 15-15 0-8 9-7 1-10-5-6 0-17 15 2 5-8 13 9 7 1 10-6 1-5-11-11-6 1-9 9-5 1-9-6 4-4 5 0 25-25 15-5 5-5 2-12 8 1zM539 190l-7 5 13 9 25 30 25 11 7-10-2-10-15-15-10-24-5-4zM775 75l25 0 5 5 8-5 8 20-6 5-25 6-10-16-14-6zM409 105l20 5 0 5-19-4zM118 115l8 1 1 4-4 5-18 14-15 4 0-14 5-8zM665 125l10-5 10 10 0 9-18-9zM445 138l5 7-4 15-1 20-17 20-12 25-11 2-8-7-1-5 11-25 1-30 12-15zM992 140l13 3 0 52-25-6-3-4 9-10 0-25zM372 145l8-5 6 5 4 10-5 10-14 5 12 25 5 20-4 10-12 10-3 40-29 22-21-2-11-5 7-5 7 0 3-30-4-10 4-6 5 2 6 9 10 0 1-20 18-15-1-10-12-10-10-15 8-10 20-5zM685 145l10 15 9-5 24 15 12 15 5 0 6 6-16 9-10-1-20-23-15-4-6-12zM771 141l15 9 4 5-2 5-6 2-2-2 0-10zM808 160l7 1 2 4-7 1zM825 186l11 4 6 10-3 10-9 8-15 5-15 16-10 1-13-5-2-5 5-10 15-13 15-2zM684 200l6-2 4 7 0 5-4 3-6-3zM711 215l9-4 8 14 32 15 4 10-9 14-25-1-13 27-11-5-2-5 1-25 6-20zM720 250l-5 5 0 5 5 5 5-5 0-5zM435 230l15-4 25 13 15-12 15 4 27 24 4 10-2 5-14 20-5 0-20-25-15-8-10-1-20 11-10-2-5-5-4-20zM770 301l5 1 15 10 10 20 27 18 14 30-4 5-7 1-5-11-6-5-29-4-14-26-11-11-5 2-4 9 4 25 5 8 50 19 40 39 20-5 5 2 25 25 10 0 20-17 10-4 10 8 7 13-12 17-8 3-32-11-20 10-10 9-5-1 0-10-5-3-30-5-18 8-10 10-4 10 7 9 15-17 15-1 9 4 6 10 15 8 6 11-11 1-5 5-15 5-5 5 0 8-55 17-7 5 0 5 12 10 20 1 5-6 5-20 5-3 19 7 1 21 5 5 0 10 5 5 0 5-35-15-15 21-25 0-20 9-8-5-7-13-10-8-20 11-11 0-9 7-20-7-15 1-15-8-10 11-15 2-15-11-30 12-20 11-15 4-10-12-5-22-5-2-30 7-20-26-5 1-10 19-10 2-7-4-17-25 7-10 1-10-4-9-5 2-2 7 2 15-15 3-30 15-20-5-25 4-20-14-45 12-15-8-10 8-5 0-15-21-15-29-15-5-5-5-15-2 5-8 0-10 5-5 0-10 5-5 0-10 5-5 0-5-5-5-30 25-15 1-19 9-4 5 0 10 3 3 15-1 10-7 0 20-5 5 0 20 13 10-13 8-15 2-5-5-3-10 18-10 3-5-16-10-7-13-17-2-3-20-8-15 3-4 20 1 5-3 3-9-2-5-26-18 0-18 25-3 14 14-1 10 2 3 6-3 1-10 4-5 24-4 6-6-7-30-4-4-15 4-25 17-10 3-15-9-10-14-6 2-4-4 0-13 10 6 20-10 30-2 10 2 20 12 40-1 15-7 20 10 15-9 10-1 0 8-15 15-3 10 5 5 13 4 25-15 20 0 7-4 6-10-22-15 4-7 15-4 22 16 8 14 30 3 15-7 10 2 4 3-1 5-7 10-2 10 6 3 15-15 46-18 1-5-12-7 0-5 7 2 8 8 20-5 14 2 0 5-9 6-2 9 7 9 10 0 5-17-9-12 4-1 14-19 6-3 7 3 5 10-11 15 2 5 17 10 1 30 7 15 7 3 25-5 2-18 5-5 13-2 20 7 5-5 7-15 0-10-7-12-15-3-2-5 5-5 22 5 45-8 8 3 12 18 5 3 5-2 28-24-3-5 5-5-10-10-3-8 13-1zM215 369l-5 2-2 14 2 5 10 3 5-4 2-9-2-5zM265 509l-3 6 3 8 5-1 6-7-5-5zM350 534l0 5 5-2 0-2zM500 414l-5 6 10 12 10 3 8-5 1-10-4-7-10-3zM630 424l-14 11-1 10 3 5 7-3 16-17-1-8zM680 398l-18 37 13 13 20 5 10-2 5-6 20 1 25-20 20 1 17-17-5-5-7-1-25 10-15 1-15-6-15 14-10 3-10-6 0-18zM750 525l0 6 9-1 1-5zM775 443l-2 7 7 3 1-3zM605 360l10 2 2 3-2 6-5 2-9-3 0-5zM1002 453l-7 7-5 0zM79 465l-15 15-2 15-14 10 22 20 1 10 14 15 1 5-5 10 3 15-2 5-9 10-15 5-3 5 3 5 37 20 4 5-1 5-13 5-11 15 17 10 0 5 0 20-13 15 5 15 12 6 10-6 3-10-5-15 20-10-3-20 10-3 6-12-1-10-8-15 3-15 10-21 6 11-6 10 1 15 15 25 2 15-6 10-20 15-8 25 0 15-4 6-25 16-5-1-10-15-10-6-30-7-5 7-2 15 5 5 42 16 15 17 40 10 5 7-55 0-30-26-5 0-16 11-9 3-7-3-13-13-10 0 0-29 10 1 5-3 0-6-5-6-10 3 0-31 10 0 25 7 8-8 1-10-4-10-15-8-25 0 0-72 10-3 14 3 9-10 2-5-2-5-17-1 9-14 0-20 5 0 20-15 0-15-5-5 0-20 25-25zM913 490l7 5-5 9-5 1-2-10zM100 509l8 11 6 15-6 5-8 1-10-11-10-5-1-5 4-5zM185 540l5 0 4 5 6 12 11 13-1 9-5 6-10 0-12-10-5-25 1-5zM660 610l4 5-2 5-7 1 0-9zM985 610l5-5 15 12 0 8-6 5-1 5 2 13 5 5 0 20-8 2 0 5 8 11-7 9-1 10 3 10 5 2 0 82-21 1-2-10-6-10 0-10 4-5 15-10-5-5-5 0-12 15-2 5 3 5-8 10-21 6-13-6-5-5-1-10 17-15-1-5-17-12-23 12-3 5-3 30 14 9 2 6-120 0-14-10-3-10 9-15-10-15 11-22 15 4 29 38 6 15 5 5 5 1 10-2 21-14 1-20-2-5-15 10-5-1-4-9 10-20 2-10-9-20 0-10 3-5 18-10 2-5-2-10-20 3-8-3-1-10 9-9 10 3 10 11 15-2 2 2 5 30 9 15-5 5 0 5 9-4 8-26 7-6 3 6-3 15 6 30 14 7 10 11 20-4 5-9-2-10-24-20 1-10 10-15-2-10-8-3-25-1-7-11 14-15-2-15 15-10 13 0-3 25 10 14 10-1 3-8-1-15-9-18zM820 620l5 0 2 5-5 0zM520 625l20 9 5 8 3 13-11 15-2 10 15 24 20 6 8 10 14 50-6 15-9 5-22 2-14 13-111 0 1-10-6-7 0 7 5 10-45 0 3-10 12-14 10-2 10 4 10-13 5-2 20 6 25-4 2-5-2-5-10-7-25-33 0-11 16-14 1-5-11-20 4-8 5-2 25 7 5-7-9-15 4-5 15 2zM512 735l-5 5-2 25 20 9 12-4 11-25 0-15-3-8zM475 720l-1 5 6 4 8-4-3-8zM500 654l-4 6 12 15-23 15 6 15 9 5 13-5 9-15-2-9-7-6 2-18-5-4zM584 635l7 0 5 5-11 1zM206 640l9-1 10 4 6 12-1 10-5 8-25 6-10 12-5 0-9-6-1-5 10-10 14-25zM369 640l6 1 0 10-7-1zM330 648l5 7-2 5-8 6-5 0-6-6 0-5zM109 655l6-2 5 17-10-1-6-4zM270 665l5-4 9 4-3 5-6 2zM607 675l8-5 15 3 5 7 0 10-5 3-20 1-5-4zM790 675l15 0 6 5 6 15-7 15 20 8 4 12-4 8-10 3-14-11 3-20-9-4-16-16 1-10zM574 680l8 0-1 5-4 0zM675 680l5-5 11 5 3 20 6 7 30-3 7 6-1 20-24 10-3 30 13 15 0 5-12 7-22-2-4 10-56 0 17-10 3-10-33-37-25-13 1-5 14-5 5 1 20 21 20 1 15 5 5-5 0-8-25-20 0-5 26-10 4-5zM675 768l-3 2 0 10 3 8 5 3 5-11-5-10zM700 730l5 3 0-5zM224 685l6-4 5 1 9 13-4 10-15 8-5-1-4-12zM268 695l7-3 15 18 10 6 5 1 15-8 12 6 13 25 12 15 1 15 11 10 8 25-162 0-15-14-14 14-13 0-13-24-10-2-12-9-3-5 6-25 14-18 10-3 30 8 25-7 4 5-6 10-23 12-7 13 12 29 5 1 15-9 20 3 15-11 25-11 15-1 10 4 3-5-18-14-10 1-7-17-12-10 0-10zM335 767l-6 18 6 3 5-3 8-15-8-4zM738 765l7-3 20 4 3 4 2 10-7 10 7 15-34 0z"/><path fill="#fddcc9" fill-rule="evenodd" d="M174 -5l22 0-1 20-14 16-6-6zM958 15l2-2 0 3zM923 20l7 0 5 5-2 35 12 11 20 2 10-13 5-1 4 6-4 9-20 16-10 1-10-4-10-12-5-15-15-10 1-15zM83 50l4-3 8 8 7 17-7-2-12-15zM416 75l14-5 5 8zM590 81l30 3 27 36-3 5-19 13-15-1-3 8 0 10 11 30 19 20-1 10-6 7-15 2-15-9-9-10-11-26-10-9-20 9-25-7-10 11-5 0 0-17 4-6 21-6 21-14 1-5-14-15-1-10 18-21zM584 115l1 5 10 7 10 0 3-7-3-10-10-4zM65 95l5-3 1 8zM897 105l8 0 6 5 9 10 4 10-4 3-15-9-16 1-3-10 2-5zM995 150l10 0 0 15-10-3zM418 155l7-5 5 2 9 18-4 11-15 8-4-9zM909 170l7 0-1 5zM720 180l5-2 8 7-3 3-5 0zM359 185l4 0-3 2zM915 183l3 7 3 25-11 21-10 5-15-4-18 3-1-5 14-6 5-8-5-26 5-10 15 5zM490 190l7 5 1 5-5 10-8 3-8-8zM410 207l5 3-5 6zM545 220l10 5 9 15-4 5-10 1-10-4-3-7zM442 240l8-4 7 4 2 5-4 8-5 3-5-3zM490 240l13 0 17 17 4 8-4 10-5 2-13-17-15-10-2-5zM721 240l19-3 10 4 6 9-6 7-30-7-3 3zM974 245l6-3 5 5 7 33 13 7 0 86-35-2-9 9 3 20-10 5-19-1-15-16-21-8-6-10 7-7 15-2 10 12 10 3 5-4 5-14 19-8 3-5-2-10 18-20 1-5-4-10-5-5-7 0-13 30-25-7-8-18 13-15 15-5 10-10zM575 250l9 5 0 5-4 3-5-3zM338 270l13 0-1 5-8 0zM769 315l6-5 7 5 6 15-3 5-15-15zM918 345l7-3 2 3-7 4zM804 350l7 0 7 5-16 0zM695 355l8 10 1 10-9 9-25 0-10-6-7-8-1-5 3-5zM104 360l11-4 25-1 15 5 2 5-32 20-10 3-10-6-4-7-1-10zM739 365l11-3 10 15 16 13-2 5-19 10-15-1-7-9-3-10zM179 370l18 0 8 23 13 12 2 15 5 3 15-5 15-13 20 1 20-13 19 2 0 5-4 3-15 4-8 8-1 25 5 20-10 15 4 6 5 0 10-4 9-12-1-10-11-15 0-10 4-5 14-8 15 0 15-4 20-24 10-4 15 2-4 18 19 27 20-9 10-9 10-1 10 3 15 11 20 2 20 13 20-7 10-17 20 18 25-3 15 2 8 20 7 5 35-19 25 19 15 1 15 8 20-1 14-18 16-7 15 20 20 11 8-9 6-20 11 1 10 4 1 5-30 30-2 10 25 25 0 10-19 14-27 11-8 17-10 7-15-7-15 5-10-3-5 1-20 16-20 2-17-8-9-15-9-2-40 26-15 2-15 12-15 5-7-8-3-20-15-22-2 12-12 10-11 3-10-6-7-17 10-20-3-6-10 0-17 16-3 5 0 17-5 5-6-2-3-10 4-15-7-25-8-14-10-1-14 5-4 5 1 10-3 3-10-1-20 10-5 0-3-12-14-20 2-15-30-3-30 16-10-10-24-8-5-15-6-6-6 1-14 10-15-18-15-2-7-8 2-7-5-5-26 21-19-8-15 10-2-3 12-21 10-5 10 6 5-2-1-18 5-5 15-5 0-10-8-20zM255 429l-5 4-2 7 2 5 5 2 4-2 1-5zM365 492l-2 3 3 0zM440 499l0 7 5 0 7-6-7-3zM555 573l0 9 5 4 10 0-8-11zM665 468l-5 3-5 9-1 35 6 13 10 3 7-6-1-5-4-15-1-25zM740 485l-5 5 4 5 21 9 5-2 1-7-7-10-9-2zM755 514l-17 6-2 5 3 10 6 4 15-1 7-8 1-10-3-5zM529 385l11-2 8 7-8 20-10-3-7-7zM469 395l6-2 3 7-8 1zM652 400l8-3 3 3 1 10-4 6-5 0-4-6zM607 410l8-4 7 4 1 5-13 8-4-8zM115 415l7 5-2 9-5 0-6-9zM815 415l5-1 5 6-5 4-6-4zM865 440l15-2 5 7-1 5-14 3-16-8zM939 445l8 0 6 15-13 4-9-4-1-5zM832 490l8-3 6 3 3 15-9 4-10-2-1-7zM230 492l5 0 15 8 3 5 2 30-10 9-10 0-5-2-8-17-1-10zM295 515l15 12 10-9 5-1 10 8-1 5-9 17-15 0-7 8-8 3-20-2-4-11 0-10zM45 528l5 5 5 12-1 5-14 21-21 0 1-15 17-6zM334 555l11-4 16 4-5 5-16 5-6-5zM835 570l15 0 0 5 5 5 0 10-12-5zM49 580l14 0 3 5-11 2-5-2zM790 585l17 0 4 5-1 5-5 5-11 0-6-5zM33 605l7-1 10 16-7 15 4 35-2 6-5 2-10-2-8-6-2-15-5-7-10-5-10 0 0-26 25 0zM518 640l7-2 13 7 2 5-5 10-5 1zM203 650l7-4 10 2 4 12-9 7-15 1-3-8zM144 665l2 10-6 5-3-5zM72 680l8 1 2 9-7 8-10 1-1-9zM797 685l8 2 0 9-5-1-5-5zM974 685l6 1 4 4-4 18-13-3-4-5 2-7zM885 687l2 13-12 6-10 0-4-6 2-5zM530 695l8 5 2 9-4 6-16 11-15 4-5-3 0-7zM50 701l5 0 6 4 5 10-4 5-7 0-5-5zM274 705l9 10-1 5-7-1-5-4zM452 710l8-3 3 3 0 5-8 4-4-4zM672 715l13-1 5 5-5 25-21-24zM713 715l12-4 5 5 0 9-10 5-6-5zM316 720l4-3 10 4 13 29-3 5-15 0-18-10-1-5zM158 730l7-5 10 3 9 7 3 10-12 13-25 8-4-6 1-10zM885 730l10-4 10 1 7 3 1 5-3 5-10 6-5-1zM996 735l9-3 0 20-9-7zM481 740l14 0 0 10-5 1-10-5-2-1zM685 746l5 0 10 4 1 5-6 7-5 0-7-7zM788 750l7 0 15 12 29 43-34 0-5-7-10-5-3-8 6-20zM559 760l16 2 6 8-1 10-10 3-7-3-9-15zM643 760l7-3 6 3 4 5 0 10-5 3-5-3-8-10zM179 775l6 2 3 8-3 9-5 2-5-4-2-7zM284 775l11-3 20 5 1 18 9 4 20-3 4 4 0 5-94 0 5-7 10-1zM1005 770l0 26-14-6-2-10zM508 780l7-2 7 7-6 10-1 10-47 0 7-9 20-1zM938 780l7-5 7 5-7 5zM444 785l6 0 5 5 3 15-10 0zM536 785l4-3 7 3-2 5-5 2zM403 795l7 1 3 9-15 0zM878 795l7 0 6 10-18 0zM93 800l12-4 18 4 6 5-37 0z"/><path fill="#f8bb9e" fill-rule="evenodd" d="M925 33l1 7-1 4-5 2-1-6zM574 95l7 0 1 5-23 20-4-6 11-14zM603 95l7-4 6 4-1 5zM621 110l4-1 5 6 0 5-5 5-5-2zM572 130l13 0 14 10 3 30 22 30 1 5-3 5-12 3-11-8-11-30-16-20zM546 155l14-5 5 5-10 12-10 3-5-5zM891 200l9 0 7 5 0 15-7 6-5-6zM546 235l4-4 4 4-4 3zM975 261l5 0 1 14-6 4-7-4zM935 295l5-3 9 3 1 10-5 2-10-2zM996 300l4-4 5 1 0 5zM986 330l4-5 5 1 10 9 0 8-3 2 3 2 0 18-16-5 1-6 9-9-9-4zM144 360l5 5-29 16-8-1-5-5-2-5 5-8zM663 365l27-4 5 4 0 5-10 7-10 0-11-7zM188 375l7 5 1 5 2 15-3 2-12-12-1-10zM745 376l5 1 7 8 2 5-4 5-5 1-5-4zM198 405l2-3 7 8-2 7-5-4zM369 415l6 1 10 9-3 20 3 7 5 2 9-9 11-4 10 0 15 5 7-1 5-5-2-12 5-4 20 12 20 2 15 14 5 0 35-13 10 6 30-1 3 6-4 30 1 8 5 1 10-6 10-13 25-14 10 0 6 9-6 28-5 2-15-8-5 2-2 6 2 8 20 0 5 4 8 23 7 5 20 3 20 12 30-1 4 6-9 10-15 0-20 16-15 5-15-3-9-18-11-3-30 10-20 13-30-21-15-3-10-14-30 3-3-15-7-5-15 1-15 12-5 0-9-13 0-15 14-10 30-5 3 5 22 9 1 11 9 13 5 4 5-3 5-9-17-15-2-5 6-10-2-7-5-3-30 10-20-21-5 0-15 8-10 0-15-5-15-10-30 9-25 2-10 6-10 1-7-10 0-5 8-5-1-5-7 0-8 7-19-32-1-6 10-8 45 1zM575 494l-6 6 2 10 4 3 11-3 5-5-6-14zM605 514l-2 6 2 15 3-15zM174 430l6-3 20 0 7 8 0 15-7 2-10-7-10-2-5-5zM275 451l1 4-6 7-3-2zM743 460l7-5 6 5 1 10-12 3-3-3zM681 470l9 0 5 3 5 12-5 12-10 5-7-22zM767 475l12 5 2 5-1 6-5 1-5-6zM408 490l13 0 3 5-3 10-16 7-20 19-10 1-11-17 4-10 12-9 20 0zM233 505l9 0 5 10-1 15-6 5-5-1-5-9zM800 516l6 4 0 10-16 12-20 2 5-19zM290 528l5 2 4 10-4 9-10-2-5-6 0-6zM504 555l1-4 7 24-4 5-8 2-8-7-2-10 5-6zM-5 628l12 2-12 5zM164 740l6-2 6 7-6 5-9 0zM289 780l6-1 7 6 0 20-13 0-5-5-3-10zM1000 780l5-2 0 12-7-5zM815 800l5-3 8 8-14 0zM99 805l6-4 14 4z"/><path fill="#ee9677" fill-rule="evenodd" d="M334 435l11-3 23 8 12 20 2 10-7 5-12 0-13-15-25-9-2-6zM407 450l8-3 20 7 25-1 3 12-5 10-8 5-20-13-23-7-3-5zM488 460l7-2 16 7 8 10-2 5-12 8-10-2-11-16zM533 465l7-3 25 2 5 1 3 5-2 10-15 20 4 23-13-8-3-20-17-20zM631 470l9-1 0 8-10-2zM378 505l7-2 8 7-4 10-9 5-5-2-3-8zM463 515l12-1 4 6-14 11-6-6zM622 515l8-4 10 2 10 29 26 3 17 20-3 4-20 9-6-3-5-15-9-9-25 7-9-3-3-10zM585 522l5 2 4 11-2 10-12 20-5 3-25-18-1-5 11-20z"/><path fill="#db6b55" fill-rule="evenodd" d="M342 445l3-4 10 4-5 3zM494 470l6-1 5 6-5 3-5-3zM627 520l8-2 5 8-2 19-8 5-6 0-4-5zM577 535l8-1 0 6-10 11-5 1-2-7z"/></g><g transform="scale(0.1)"><path fill="#fff" fill-rule="evenodd" d="M820 538l3-7 0-10 6-10 6-5 13-5 12-8 8-1 9-4 20-3 4-3 9-11 10-17 5-3 8-1 4-7 9-10 8-5 11-4 6-1 12 5 2-8 1-11 3-5 5-3 6-1 15 0 0 239-11-9-3 0-26 7-10 1-12 4-4 5-9 6-14 1-11-1-13 1-15 9-7 2-18 0-8-2-13-9-4-5-2-7 1-11 5-7-4-7-3-17-13-35 1-7-3-12zM214 467l-16 53-13 35-4 5-5 3-16 6-6 1-6-2-16-8-8-13-5-22 0-6 2-9 7-14-3-13 0-11 2-7 4-8 5-6 9-4 7-3 9-5 11-15 4-7 10-11 6-1 6 0 5 3 4 5 7 17 5 26zM934 1l-4 14-18 25-7 15-4 5-9 6-9 10-9 7-8 3-10 1-36 11-7 11-6 2-6 1-6-2-5-5-3-7-13 10 6 8 15 15 9 14 4 24-1 15-1 5-9 11-13 7-7 3-5 6-9 6-14 6-7-1-5-4-3-5-1-8-8-4-6-6-5-9-5-4-1 5 0 3 6 9 3 13 8 4 9 8 7 8 7 13 2 11 6 14 1 9-1 6-1 3 3 6 16 19 3 5 1 6-2 17 23 7 3-2 6-2 6 1 15 4 12 8 10 2 5 4 4 12 1 6-2 5-3 4-5 3-11 3-13-3-27-3-9-3-12 0-18-4-14-6-5-3-4-6-29-20-16-19-23-41-17-21-14-15-2-5-1-13 3-5 4-4 5-2 14 2 12 0-5-7-1-5 0-11 4-21-1-9-8-23-5 2-10 1-12-3-4-3-3-5-1-5 1-16-7-11-9-8-4-7-2-5-15 4-10 1-7 12-13 6-14 13-12 9-4 6-10 4-5 6 1 15-6 33-13 16-5 3-7 8-5 3-6 1-11-3-6-4-7-11-7-19-10-18-10-26-10-33-1-13-3 1-6-1-8-3-12-8-5-6-3-9-15-12-4-8-13 2-40-1 7 8 1 6-2 7-4 8-8 8-12 19-5 6-8 5-8 3-8 8-19 8-14 11-7 3 0 5 4 2 4 4 2 6-1 8 2 9-1 5-5 8-4 14-21 36-10 12-12 13-25 17-10 9-17 19-10 9-9 22 3 7 0 13 8 17 4 15 2 32-1 9-3 7-10 14-12 10-17 7-14 13 4 14 1 17-4 14-3 6-19 10 0 7-3 12-6 11-3 4-8 7-16 19-13 11-10 5 0-656 949 0zM818 256l10-12 7-4 11-4 11-15 5-3 5-2 6 1 5 2 9 8 6 3 12 10 2 5 0 6-2 5-13 11 1 7 10 11 1 6-1 6-3 5-10 5-9 15-2 9-4 11-7 9-6 3-11 2-7 0-5-3-4-5-15 2-6-1-6-4-14-3-4-4-4-14-10-19 0-14 3-10 6-10 6-5 6-1 4 1 4-5z"/></g>
<use href="#land" fill="#d3d3d3" stroke="#111" stroke-width="0.5" vector-effect="non-scaling-stroke" stroke-linejoin="round"/>
<use href="#isl" fill="none" stroke="#111" stroke-width="0.5" vector-effect="non-scaling-stroke" stroke-linejoin="round"/>
<path d="M10,0V80M30,0V80M50,0V80M70,0V80M90,0V80M0,10H100M0,20H100M0,30H100M0,40H100M0,50H100M0,60H100M0,70H100" stroke="#888" stroke-opacity="0.22" stroke-width="0.6" vector-effect="non-scaling-stroke" fill="none"/>
</g></g>
<rect x="27.00" y="160.70" width="143.50" height="117.40" fill="none" stroke="#707070" stroke-width="0.9"/>
<text x="12.8" y="155.5" font-size="12.5">(d)</text>
<text x="99.2" y="157.3" font-size="12.5" text-anchor="middle">JMA-MLR</text>
<text x="24.4" y="177.8" font-size="9" text-anchor="end">20°N</text>
<text x="24.4" y="192.4" font-size="9" text-anchor="end">10°N</text>
<text x="24.4" y="207.1" font-size="9" text-anchor="end">0°</text>
<text x="24.4" y="221.8" font-size="9" text-anchor="end">10°S</text>
<text x="24.4" y="236.5" font-size="9" text-anchor="end">20°S</text>
<text x="24.4" y="251.2" font-size="9" text-anchor="end">30°S</text>
<text x="24.4" y="265.8" font-size="9" text-anchor="end">40°S</text>
<g transform="translate(189.50,160.70) scale(1.43500,1.46750)">
<g clip-path="url(#pc)">
<rect x="0" y="0" width="100" height="80" fill="#fff"/><g transform="scale(0.1)"><path fill="#053061" fill-rule="evenodd" d="M15 -5l20 0 5 5 5-5 10 0 5 15 10 10 0 5 10 10 0 5 15 15 0 5 10 15 0 10 5 5 0 5 20 25 0 5 10 15 0 20 5 5 15-10 10 0 5-5 10 0 15-10 10 0 15-15 10 0 5-5 5 0 5-5 0-5 10 0 20-25 0-10-25-15-5 5-10 0-5 5-15 0-5-5-5 0-35-40 0-5-5-5 0-20 35 0 25 25 5 0 5 5 10 0 5-5 15 0 15 15 20 0 5 5 20 0 5-5 5 5 10 0 5-5 15 0 5 5 0 5 15 15 15 0 10 10 15 0 5 5 0 10 5 5 0 35 5 5 0 10 10 15 0 10 5 5 0 5 10 15 0 10 5 5 15-15 0-15 5-5 0-30 15-15 5 0 25-25 15-5 5-5 0-10 5-5 20 0 15-10 20 0 5 5 5 15 15 15 5 15 10 10 5-5 10 0 10 10 0 15 10 15 5-5 10 0 15 15 5 0 10 15 5 0 10 10 5-5 15-5 10-10-5-25-30-30 0-25 10-10 5 0 10-10 25 0 5 5 15-10 15 0 5-5 25-5 25-25 0-10 15-15 5-15 95 0 0 455-10 10-15 0-10-10-5 0-10 10 0 5-5 5-5 0-20 20 0 5-10 10-5 0-5 5-20 0-5 5-10 0-25 15 0 20 5 5 0 20 5 5 0 10 5 5 0 15 5 5 0 20 5 5 10 0 15-10 35 0 20-15 20 0 5-5 10 0 5-5 15 0 0 200-1010 0 0-205 20-20 0-5 5-5 0-20 5 0 20-15 0-15-5-5 0-20 25-25 15-5 15-15 0-45-10-15 0-15-5-5 0-20 5-5 10-25 45-45 5 0 10-10 5 0 15-15 0-5 10-10 0-5 15-25 0-5-5-5-15 0-5 5-10 0-5 5-20 0-20-15 0-10-30-25-10-25-10-10 0-5-5-5 0-10-5-5 0-10-10-10-5-15-10-10 0-5-20-35zM695 275l-5 5 15 20 0 5 15 20 0 5 20 15 5 0 10-10-10-10 0-5-10-10 0-5-15-15-15-5zM720 250l-5 5 0 5 5 5 5-5 0-5zM850 260l-20 20-5 0-10 10-10 0-5 5 5 15 10 10 5 0 5 5 25 0 5-5 5-15 10-10 0-35-5-5-5 5zM870 245l-5 5 5 5 5-5zM190 445l-15 15-5 0-20 15 0 35-5 5 0 20 10 10 5 0 10-15 0-10 5-5 0-10 5-5 0-10 5-5 0-10 5-5 0-10 5-5 0-5z"/><path fill="#0e4179" fill-rule="evenodd" d="M15 -5l20 0 5 5 5-5 10 0 5 15 10 10 0 5 10 10 0 5 15 15 0 5 10 15 0 10 5 5 0 5 20 25 0 5 10 15 0 20 5 5 15-10 10 0 5-5 10 0 15-10 10 0 15-15 10 0 5-5 5 0 5-5 0-5 10 0 20-25 0-10-25-15-5 5-10 0-5 5-15 0-5-5-5 0-35-40 0-5-5-5 0-20 35 0 25 25 5 0 5 5 10 0 5-5 15 0 15 15 20 0 5 5 20 0 5-5 5 5 10 0 5-5 15 0 5 5 0 5 15 15 15 0 10 10 15 0 5 5 0 10 5 5 0 35 5 5 0 10 10 15 0 10 5 5 0 5 10 15 0 10 5 5 15-15 0-15 5-5 0-30 15-15 5 0 25-25 15-5 5-5 0-10 5-5 20 0 15-10 20 0 5 5 5 15 15 15 5 15 10 10 5-5 10 0 10 10 0 15 10 15 5-5 10 0 15 15 5 0 10 15 5 0 10 10 5-5 15-5 10-10-5-25-30-30 0-25 10-10 5 0 10-10 25 0 5 5 15-10 15 0 5-5 25-5 25-25 0-10 15-15 5-15 95 0 0 455-10 10-15 0-10-10-5 0-10 10 0 5-5 5-5 0-20 20 0 5-10 10-5 0-5 5-20 0-5 5-10 0-25 15 0 20 5 5 0 20 5 5 0 10 5 5 0 15 5 5 0 20 5 5 10 0 15-10 35 0 20-15 20 0 5-5 10 0 5-5 15 0 0 200-1010 0 0-205 20-20 0-5 5-5 0-20 5 0 20-15 0-15-5-5 0-20 25-25 15-5 15-15 0-45-10-15 0-15-5-5 0-20 5-5 10-25 45-45 5 0 10-10 5 0 15-15 0-5 10-10 0-5 15-25 0-5-5-5-15 0-5 5-10 0-5 5-20 0-20-15 0-10-30-25-10-25-10-10 0-5-5-5 0-10-5-5 0-10-10-10-5-15-10-10 0-5-20-35zM695 275l-5 5 15 20 0 5 15 20 0 5 20 15 5 0 10-10-10-10 0-5-10-10 0-5-15-15-15-5zM720 250l-5 5 0 5 5 5 5-5 0-5zM850 260l-20 20-5 0-10 10-10 0-5 5 5 15 10 10 5 0 5 5 25 0 5-5 5-15 10-10 0-35-5-5-5 5zM870 245l-5 5 5 5 5-5zM190 445l-15 15-5 0-20 15 0 35-5 5 0 20 10 10 5 0 10-15 0-10 5-5 0-10 5-5 0-10 5-5 0-10 5-5 0-10 5-5 0-5z"/><path fill="#1f63a8" fill-rule="evenodd" d="M15 -5l20 0 5 5 5-5 10 0 5 15 10 10 0 5 10 10 0 5 15 15 0 5 10 15 0 10 5 5 0 5 20 25 0 5 10 15 0 20 5 5 15-10 10 0 5-5 10 0 15-10 10 0 15-15 10 0 5-5 5 0 5-5 0-5 10 0 20-25 0-10-25-15-5 5-10 0-5 5-15 0-5-5-5 0-35-40 0-5-5-5 0-20 35 0 25 25 5 0 5 5 10 0 5-5 15 0 15 15 20 0 5 5 20 0 5-5 5 5 10 0 5-5 15 0 5 5 0 5 15 15 15 0 10 10 15 0 5 5 0 10 5 5 0 35 5 5 0 10 10 15 0 10 5 5 0 5 10 15 0 10 5 5 15-15 0-15 5-5 0-30 15-15 5 0 25-25 15-5 5-5 0-10 5-5 20 0 15-10 20 0 5 5 5 15 15 15 5 15 10 10 5-5 10 0 10 10 0 15 10 15 5-5 10 0 15 15 5 0 10 15 5 0 10 10 5-5 15-5 10-10-5-25-30-30 0-25 10-10 5 0 10-10 25 0 5 5 15-10 15 0 5-5 25-5 25-25 0-10 15-15 5-15 95 0 0 455-10 10-15 0-10-10-5 0-10 10 0 5-5 5-5 0-20 20 0 5-10 10-5 0-5 5-20 0-5 5-10 0-25 15 0 20 5 5 0 20 5 5 0 10 5 5 0 15 5 5 0 20 5 5 10 0 15-10 35 0 20-15 20 0 5-5 10 0 5-5 15 0 0 200-1010 0 0-205 20-20 0-5 5-5 0-20 5 0 20-15 0-15-5-5 0-20 25-25 15-5 15-15 0-45-10-15 0-15-5-5 0-20 5-5 10-25 45-45 5 0 10-10 5 0 15-15 0-5 10-10 0-5 15-25 0-5-5-5-15 0-5 5-10 0-5 5-20 0-20-15 0-10-30-25-10-25-10-10 0-5-5-5 0-10-5-5 0-10-10-10-5-15-10-10 0-5-20-35zM695 275l-5 5 15 20 0 5 15 20 0 5 20 15 5 0 10-10-10-10 0-5-10-10 0-5-15-15-15-5zM720 250l-5 5 0 5 5 5 5-5 0-5zM850 260l-20 20-5 0-10 10-10 0-5 5 5 15 10 10 5 0 5 5 25 0 5-5 5-15 10-10 0-35-5-5-5 5zM870 245l-5 5 5 5 5-5zM190 445l-15 15-5 0-20 15 0 35-5 5 0 20 10 10 5 0 10-15 0-10 5-5 0-10 5-5 0-10 5-5 0-10 5-5 0-10 5-5 0-5z"/><path fill="#3480b9" fill-rule="evenodd" d="M15 -5l20 0 5 5 5-5 10 0 5 15 10 10 0 5 10 10 0 5 15 15 0 5 10 15 0 10 5 5 0 5 20 25 0 5 10 15 0 20 5 5 15-10 10 0 5-5 10 0 15-10 10 0 15-15 10 0 5-5 5 0 5-5 0-5 10 0 20-25 0-10-25-15-5 5-10 0-5 5-15 0-5-5-5 0-35-40 0-5-5-5 0-20 35 0 25 25 5 0 5 5 10 0 5-5 15 0 15 15 20 0 5 5 20 0 5-5 5 5 10 0 5-5 15 0 5 5 0 5 15 15 15 0 10 10 15 0 5 5 0 10 5 5 0 35 5 5 0 10 10 15 0 10 5 5 0 5 10 15 0 10 5 5 15-15 0-15 5-5 0-30 15-15 5 0 25-25 15-5 5-5 0-10 5-5 20 0 15-10 20 0 5 5 5 15 15 15 5 15 10 10 5-5 10 0 10 10 0 15 10 15 5-5 10 0 15 15 5 0 10 15 5 0 10 10 5-5 15-5 10-10-5-25-30-30 0-25 10-10 5 0 10-10 25 0 5 5 15-10 15 0 5-5 25-5 25-25 0-10 15-15 5-15 95 0 0 455-10 10-15 0-10-10-5 0-10 10 0 5-5 5-5 0-20 20 0 5-10 10-5 0-5 5-20 0-5 5-10 0-25 15 0 20 5 5 0 20 5 5 0 10 5 5 0 15 5 5 0 20 5 5 10 0 15-10 35 0 20-15 20 0 5-5 10 0 5-5 15 0 0 200-1010 0 0-205 20-20 0-5 5-5 0-20 5 0 20-15 0-15-5-5 0-20 25-25 15-5 15-15 0-45-10-15 0-15-5-5 0-20 5-5 10-25 45-45 5 0 10-10 5 0 15-15 0-5 10-10 0-5 15-25 0-5-5-5-15 0-5 5-10 0-5 5-20 0-20-15 0-10-30-25-10-25-10-10 0-5-5-5 0-10-5-5 0-10-10-10-5-15-10-10 0-5-20-35zM695 275l-5 5 15 20 0 5 15 20 0 5 20 15 5 0 10-10-10-10 0-5-10-10 0-5-15-15-15-5zM720 250l-5 5 0 5 5 5 5-5 0-5zM850 260l-20 20-5 0-10 10-10 0-5 5 5 15 10 10 5 0 5 5 25 0 5-5 5-15 10-10 0-35-5-5-5 5zM870 245l-5 5 5 5 5-5zM190 445l-15 15-5 0-20 15 0 35-5 5 0 20 10 10 5 0 10-15 0-10 5-5 0-10 5-5 0-10 5-5 0-10 5-5 0-10 5-5 0-5z"/><path fill="#529dc8" fill-rule="evenodd" d="M15 -5l20 0 5 5 5-5 10 0 5 15 10 10 0 5 10 10 0 5 15 15 0 5 10 15 0 10 5 5 0 5 20 25 0 5 10 15 0 20 5 5 15-10 10 0 5-5 10 0 15-10 10 0 15-15 10 0 5-5 5 0 5-5 0-5 10 0 20-25 0-10-25-15-5 5-10 0-5 5-15 0-5-5-5 0-35-40 0-5-5-5 0-20 35 0 25 25 5 0 5 5 10 0 5-5 15 0 15 15 20 0 5 5 20 0 5-5 5 5 10 0 5-5 15 0 5 5 0 5 15 15 15 0 10 10 15 0 5 5 0 10 5 5 0 35 5 5 0 10 10 15 0 10 5 5 0 5 10 15 0 10 5 5 15-15 0-15 5-5 0-30 15-15 5 0 25-25 15-5 5-5 0-10 5-5 20 0 15-10 20 0 5 5 5 15 15 15 5 15 10 10 5-5 10 0 10 10 0 15 10 15 5-5 10 0 15 15 5 0 10 15 5 0 10 10 5-5 15-5 10-10-5-25-30-30 0-25 10-10 5 0 10-10 25 0 5 5 15-10 15 0 5-5 25-5 25-25 0-10 15-15 5-15 95 0 0 455-10 10-15 0-10-10-5 0-10 10 0 5-5 5-5 0-20 20 0 5-10 10-5 0-5 5-20 0-5 5-10 0-25 15 0 20 5 5 0 20 5 5 0 10 5 5 0 15 5 5 0 20 5 5 10 0 15-10 35 0 20-15 20 0 5-5 10 0 5-5 15 0 0 200-1010 0 0-205 20-20 0-5 5-5 0-20 5 0 20-15 0-15-5-5 0-20 25-25 15-5 15-15 0-45-10-15 0-15-5-5 0-20 5-5 10-25 45-45 5 0 10-10 5 0 15-15 0-5 10-10 0-5 15-25 0-5-5-5-15 0-5 5-10 0-5 5-20 0-20-15 0-10-30-25-10-25-10-10 0-5-5-5 0-10-5-5 0-10-10-10-5-15-10-10 0-5-20-35zM695 275l-5 5 15 20 0 5 15 20 0 5 20 15 5 0 10-10-10-10 0-5-10-10 0-5-15-15-15-5zM720 250l-5 5 0 5 5 5 5-5 0-5zM850 260l-20 20-5 0-10 10-10 0-5 5 5 15 10 10 5 0 5 5 25 0 5-5 5-15 10-10 0-35-5-5-5 5zM870 245l-5 5 5 5 5-5zM190 445l-15 15-5 0-20 15 0 35-5 5 0 20 10 10 5 0 10-15 0-10 5-5 0-10 5-5 0-10 5-5 0-10 5-5 0-10 5-5 0-5z"/><path fill="#84bcd9" fill-rule="evenodd" d="M15 -5l20 0 5 5 5-5 10 0 5 15 10 10 0 5 10 10 0 5 15 15 0 5 10 15 0 10 5 5 0 5 20 25 0 5 10 15 0 20 5 5 15-10 10 0 5-5 10 0 15-10 10 0 15-15 10 0 5-5 5 0 5-5 0-5 10 0 20-25 0-10-25-15-5 5-10 0-5 5-15 0-5-5-5 0-35-40 0-5-5-5 0-20 35 0 25 25 5 0 5 5 10 0 5-5 15 0 15 15 20 0 5 5 20 0 5-5 5 5 10 0 5-5 15 0 5 5 0 5 15 15 15 0 10 10 15 0 5 5 0 10 5 5 0 35 5 5 0 10 10 15 0 10 5 5 0 5 10 15 0 10 5 5 15-15 0-15 5-5 0-30 15-15 5 0 25-25 15-5 5-5 0-10 5-5 20 0 15-10 20 0 5 5 5 15 15 15 5 15 10 10 5-5 10 0 10 10 0 15 10 15 5-5 10 0 15 15 5 0 10 15 5 0 10 10 5-5 15-5 10-10-5-25-30-30 0-25 10-10 5 0 10-10 25 0 5 5 15-10 15 0 5-5 25-5 25-25 0-10 15-15 5-15 95 0 0 455-10 10-15 0-10-10-5 0-10 10 0 5-5 5-5 0-20 20 0 5-10 10-5 0-5 5-20 0-5 5-10 0-25 15 0 20 5 5 0 20 5 5 0 10 5 5 0 15 5 5 0 20 5 5 10 0 15-10 35 0 20-15 20 0 5-5 10 0 5-5 15 0 0 200-1010 0 0-205 20-20 0-5 5-5 0-20 5 0 20-15 0-15-5-5 0-20 25-25 15-5 15-15 0-45-10-15 0-15-5-5 0-20 5-5 10-25 45-45 5 0 10-10 5 0 15-15 0-5 10-10 0-5 15-25 0-5-5-5-15 0-5 5-10 0-5 5-20 0-20-15 0-10-30-25-10-25-10-10 0-5-5-5 0-10-5-5 0-10-10-10-5-15-10-10 0-5-20-35zM695 275l-5 5 15 20 0 5 15 20 0 5 20 15 5 0 10-10-10-10 0-5-10-10 0-5-15-15-15-5zM720 250l-5 5 0 5 5 5 5-5 0-5zM850 260l-20 20-5 0-10 10-10 0-5 5 5 15 10 10 5 0 5 5 25 0 5-5 5-15 10-10 0-35-5-5-5 5zM870 245l-5 5 5 5 5-5zM190 445l-15 15-5 0-20 15 0 35-5 5 0 20 10 10 5 0 10-15 0-10 5-5 0-10 5-5 0-10 5-5 0-10 5-5 0-10 5-5 0-5z"/><path fill="#aed3e6" fill-rule="evenodd" d="M15 -5l20 0 5 5 5-5 10 0 5 15 10 10 0 5 10 10 0 5 15 15 0 5 10 15 0 10 5 5 0 5 20 25 0 5 10 15 0 20 5 5 15-10 10 0 5-5 10 0 15-10 10 0 15-15 10 0 5-5 5 0 5-5 0-5 10 0 20-25 0-10-25-15-5 5-10 0-5 5-15 0-5-5-5 0-35-40 0-5-5-5 0-20 35 0 25 25 5 0 5 5 10 0 5-5 15 0 15 15 20 0 5 5 20 0 5-5 5 5 10 0 5-5 15 0 5 5 0 5 15 15 15 0 10 10 15 0 5 5 0 10 5 5 0 35 5 5 0 10 10 15 0 10 5 5 0 5 10 15 0 10 5 5 15-15 0-15 5-5 0-30 15-15 5 0 25-25 15-5 5-5 0-10 5-5 20 0 15-10 20 0 5 5 5 15 15 15 5 15 10 10 5-5 10 0 10 10 0 15 10 15 5-5 10 0 15 15 5 0 10 15 5 0 10 10 5-5 15-5 10-10-5-25-30-30 0-25 10-10 5 0 10-10 25 0 5 5 15-10 15 0 5-5 25-5 25-25 0-10 15-15 5-15 95 0 0 455-10 10-15 0-10-10-5 0-10 10 0 5-5 5-5 0-20 20 0 5-10 10-5 0-5 5-20 0-5 5-10 0-25 15 0 20 5 5 0 20 5 5 0 10 5 5 0 15 5 5 0 20 5 5 10 0 15-10 35 0 20-15 20 0 5-5 10 0 5-5 15 0 0 200-1010 0 0-205 20-20 0-5 5-5 0-20 5 0 20-15 0-15-5-5 0-20 25-25 15-5 15-15 0-45-10-15 0-15-5-5 0-20 5-5 10-25 45-45 5 0 10-10 5 0 15-15 0-5 10-10 0-5 15-25 0-5-5-5-15 0-5 5-10 0-5 5-20 0-20-15 0-10-30-25-10-25-10-10 0-5-5-5 0-10-5-5 0-10-10-10-5-15-10-10 0-5-20-35zM695 275l-5 5 15 20 0 5 15 20 0 5 20 15 5 0 10-10-10-10 0-5-10-10 0-5-15-15-15-5zM720 250l-5 5 0 5 5 5 5-5 0-5zM850 260l-20 20-5 0-10 10-10 0-5 5 5 15 10 10 5 0 5 5 25 0 5-5 5-15 10-10 0-35-5-5-5 5zM870 245l-5 5 5 5 5-5zM190 445l-15 15-5 0-20 15 0 35-5 5 0 20 10 10 5 0 10-15 0-10 5-5 0-10 5-5 0-10 5-5 0-10 5-5 0-10 5-5 0-5z"/><path fill="#d4e6f1" fill-rule="evenodd" d="M15 -5l20 0 5 5 5-5 10 0 5 15 10 10 0 5 10 10 0 5 15 15 0 5 10 15 0 10 5 5 0 5 20 25 0 5 10 15 0 20 5 5 15-10 10 0 5-5 10 0 15-10 10 0 15-15 10 0 5-5 5 0 5-5 0-5 10 0 20-25 0-10-25-15-5 5-10 0-5 5-15 0-5-5-5 0-35-40 0-5-5-5 0-20 35 0 25 25 5 0 5 5 10 0 5-5 15 0 15 15 20 0 5 5 20 0 5-5 5 5 10 0 5-5 15 0 5 5 0 5 15 15 15 0 10 10 15 0 5 5 0 10 5 5 0 35 5 5 0 10 10 15 0 10 5 5 0 5 10 15 0 10 5 5 15-15 0-15 5-5 0-30 15-15 5 0 25-25 15-5 5-5 0-10 5-5 20 0 15-10 20 0 5 5 5 15 15 15 5 15 10 10 5-5 10 0 10 10 0 15 10 15 5-5 10 0 15 15 5 0 10 15 5 0 10 10 5-5 15-5 10-10-5-25-30-30 0-25 10-10 5 0 10-10 25 0 5 5 15-10 15 0 5-5 25-5 25-25 0-10 15-15 5-15 95 0 0 455-10 10-15 0-10-10-5 0-10 10 0 5-5 5-5 0-20 20 0 5-10 10-5 0-5 5-20 0-5 5-10 0-25 15 0 20 5 5 0 20 5 5 0 10 5 5 0 15 5 5 0 20 5 5 10 0 15-10 35 0 20-15 20 0 5-5 10 0 5-5 15 0 0 200-1010 0 0-205 20-20 0-5 5-5 0-20 5 0 20-15 0-15-5-5 0-20 25-25 15-5 15-15 0-45-10-15 0-15-5-5 0-20 5-5 10-25 45-45 5 0 10-10 5 0 15-15 0-5 10-10 0-5 15-25 0-5-5-5-15 0-5 5-10 0-5 5-20 0-20-15 0-10-30-25-10-25-10-10 0-5-5-5 0-10-5-5 0-10-10-10-5-15-10-10 0-5-20-35zM695 275l-5 5 15 20 0 5 15 20 0 5 20 15 5 0 10-10-10-10 0-5-10-10 0-5-15-15-15-5zM720 250l-5 5 0 5 5 5 5-5 0-5zM850 260l-20 20-5 0-10 10-10 0-5 5 5 15 10 10 5 0 5 5 25 0 5-5 5-15 10-10 0-35-5-5-5 5zM870 245l-5 5 5 5 5-5zM190 445l-15 15-5 0-20 15 0 35-5 5 0 20 10 10 5 0 10-15 0-10 5-5 0-10 5-5 0-10 5-5 0-10 5-5 0-10 5-5 0-5zM700 657l0 5 5 3 3-5zM720 392l-1 8 7 15 9 8 10 3 15 0 13-11 0-15-7-10zM805 680l-5 5 4 5 14 0 2-5zM835 683l-5 7 3 5 17 17 10 4 3-11-4-15-14-9zM755 653l-24 12-3 5 17 10 30-5 4-5 0-5-7-10-7-4z"/><path fill="#ecf2f5" fill-rule="evenodd" d="M15 -5l20 0 5 5 5-5 10 0 5 15 10 10 0 5 10 10 0 5 15 15 0 5 10 15 0 10 5 5 0 5 20 25 0 5 10 15 0 19-15 3-10 13-25-20-10-25-8-8 2-7-2-5-12-15 0-10-10-10-5-15-10-10 0-5-20-35zM170 -5l29 0 6 14 12-2 13 13 5 0 5 5 10 0 5-5 15 0 15 15 20 0 5 5 20 0 5-5 5 5 10 0 5-5 15 0 5 5 0 5 15 15 15 0 10 10 15 0 5 5 0 10 5 5 0 35 5 5 0 10 10 17-25 13-10 10-3 15 3 15 10 6 30 0 35 9 17-5-5-30 3-3 25 2 15-6 8-8-5-10-12-10-21-5-10 3-5 7 1 25-16-5 0-5 5-5 0-30 38-33 17-1 10-6 15-23 10-2 15-10 20 0 5 5 5 15 15 15 5 15 8 8-4 7 2 10 4 3 10 0 10-8 3-7 2 17 10 15 5-5 10 0 15 15 5 0 10 15 5 0 10 10 5-5 15-5 10-10 0-10-5-5 0-7 25-2 5-16 10-8 5 0 9 28 20 35-2 10-13 15 0 5 14 0 17-15 1-20 9-17 10-7 15-2 1-9-21-3-25-25-30-3-10-16-10-5-16 27-24 15-20-20 0-25 25-20 6 0 3 10 6 4 20 5 5-19 5-5 15 0 5-5 25-5 25-25 0-10 15-15 5-15 95 0 0 41-19 9-7 10 8 10 18 6 0 87-13 7-2 10 5 11 10 6 0 123-9 5-1 5 10 8 0 56-15 7-8 19 6 10 17 6 0 19-10 10-15 0-10-10-5 0-10 10 0 5-5 5-5 0-20 20 0 5-10 10-5 0-5 5-20 0-5 5-10 0-25 15 0 20 5 5 0 20 5 5 0 10 5 5 0 15 5 5 0 20 5 5 10 0 15-10 35 0 20-15 20 0 5-5 10 0 5-5 15 0 0 18-6 7 6 11 0 99-17 5-3 10 8 15 12 4 0 31-25 0-5-4-25-6-30 7-20-14-5 2-6 15-484 0-14-20 0-10 4-6 21-14 10-20 1-10-7-8-20-6-9 4-10 15-13 10-21 65-21 0-1-20-10-12-10-4-35 13-10 10-5 13-245 0-6-10-9-6 0-178 3-6-3-5 20-20 0-5 5-5 0-20 5 0 20-15 0-15-5-5 0-20 25-25 15-5 15-15 0-45-10-15 0-15-5-5 0-20 5-5 10-25 45-45 5 0 10-10 5 0 15-15 0-5 10-10 0-5 15-25 0-5-5-5-15 0-5 5-10 0-5 5-12 0 5-5 3-10-3-20-5-8 12-7 10 0 5-5 10 0 15-10 10 0 15-15 10 0 5-5 5 0 5-5 0-5 10 0 20-25 0-10-25-15-5 5-10 0-5 5-15 0-4-10-16-18-13-5-12-12 0-5-5-5zM240 53l-3 7 3 1zM340 704l-5 8 1 13 9 9 10 1 6-5-2-15-9-10zM380 63l0 7 5 5 5 2 6-2-5-10zM485 684l-19 11-5 10 4 4 35 5 21-4-2-10-9-12-10-5zM535 225l0 5 5 1 5-1 3-5zM565 659l-12 16-2 35 4 6 10 5 20-1 9-5 2-5-4-30-12-19-5-4zM600 613l-2 12 22 47 25 8 15 10 45-3 15 8 4 10-7 20 1 10 7 12 10 6 10 0 3-8-8-30 2-10 18-12 10 0 10 4 7 8 8 23 20-11 15 0 25 25 20 10 5-1 3-6 5-30 7-9 25 5 10-4 3-7-5-25-16-20-7-18-10 2-20 19-10 2-40-6-21-14-29-9-15 1-30 11-25-13-15-2-11 7-14 19-15 8-11-7-15-35-14-7zM655 173l-10 7-2 5 3 10 9 4 10-5 9-9-4-10zM695 275l-5 5 15 20 0 5 15 20 0 5 20 15 5 0 10-10-10-10 0-5-10-10 0-5-15-15-15-5zM720 250l-5 5 0 5 5 5 5-5 0-5zM735 189l-11 11 1 8 5 4 10-1 7-6-2-11zM800 255l-11 5-3 10 9 13 19 7-9 0-5 5 5 15 20 15 25 0 5-5 5-15 10-10 0-35-5-5-5 5-10 0-10 10-3-10-7-5zM870 245l-5 5 5 5 5-5zM930 238l-2 7 7 15 5 6 10 0 4-11-3-10-6-5zM960 205l-5 5 0 5 5 8 5 1 8-9-3-6zM45 543l-5 7 5 7 25 11 7-3 0-10-7-8-15-6zM100 363l-5 5-1 7 6 10 10 1 12-6 3-10-5-8-10-2zM130 740l-27 35-1 5 5 5 23 5 10-2 8-8 3-15-4-15-7-9zM190 445l-15 15-5 0-20 15 0 35-5 5 0 20 10 10 5 0 10-15 0-10 5-5 0-10 5-5 0-10 5-5 0-10 5-5 0-10 5-5 0-5zM215 609l-5 6 5 4 15-4-2-5zM230 689l-8 6-3 10 11 9 10 0 7-4 3-10-7-10zM245 268l-3 7 8 8 4-3 1-5-5-8zM395 644l-7 6-2 10 3 10 6 4 25-6 8-8-6-10zM540 350l0 5 5 7 3-2zM645 738l-5 3-1 9 6 9 10 1 6-5 1-10-7-6zM700 364l-20 6-65-2-3 2-1 10 5 10 7 5 27 2 20 8 20 3 40 30 45 18 13-16 22-12 20-23 9 15 1 30 9 15 11 8 10 2 10-3 6-7 12-30 0-10-8-10-15-5-15-19-10-1-20 14-15-14-35-18-25 11-15 2-16-5-14-15zM45 738l-9 7 0 5 19 29 15 7 14-6 2-5-7-15-20-20zM155 618l-6 7 4 10 11 0 7-5-1-11-5-2zM195 644l0 6 5 5 10 0-1-10-9-3zM255 755l-2 5 7 6 5-2 4-9-4-3z"/><path fill="#f9eee7" fill-rule="evenodd" d="M15 -5l20 0 5 5 5-5 7 0-5 15-12 8-10-3-10-8zM173 -5l4 0-2 6zM274 24l11 11 20 0 5 5 15 0-5 10-26 25-1 5 4 5 33 8 30-4 8 6 4 10-9 20 1 20 11 30 5 5 15 5 5 10-2 30-13 25-1 20-4 10-16 20-29 24-10 2-15-7-5 4 10 38 10 6 15 0 20-8 31-4 14-15 10-2 7 7-8 10-2 10 13 15 20 12 15 3 20-1 30 9 15 12 5 1 20-16 10-2 35 2 40 17 5 3 4 10-9 15-10 5 10 3 14 12 16 5 15 1 25-7 10 1 7 15-8 25 6 9 15 0 9-9 6-15 5-4 10-1 25 14 12 26 13 15 10 3 20-5 0 12 5 5 0 20 5 5 0 10 5 5 0 15 5 5 0 5-50 1-35-15-35 7-70 0-25-11-25 0-30-9-11 2-19 16-7-1-3-11-5-2-4 3 2 15-8 8-5 0-20-19-40 3-30-16-20 4-15-4-35 1-5 1-4 7 4 30-5 18-35-38-15-3-8 8 0 25-6 10-36 14-8-4 4-15 0-15-6-20-10-13-15-4-40 9-15-3-17-9 1-5 16-5 20-2 30 4 20-10 33-2 23-15 14 2 15 13 10 4 7-4 3-9-1-16-9-15-15-14-20-11-10 5-15 19-30-9-15 5-20 16-10-3-25-45 5-8 0-10 5-5 0-10 5-5 0-5-5-5-15 15-5 0-10 10-5 0-5 5 0 9-30-14-25 4-5-4-4-11 9-9 0-20 10 11 15 6 40-3 21-29 0-30 4-11 5-4 31-5 14-16 20-14 17-25 8-26 8-14-3-4-30-24-35-4-5-13 11-30 4-25 30-16 25-23 27-1 0-5-7-1-25 3-12-7-8-10 20-25 0-10-12-7 1-33zM230 390l-7 15-2 20 14 19 10 2 8-11-1-15-12-24-5-7zM864 65l11 3 8 12 0 15-3 7-5 3-24-5-8-10 2-16 10-7zM610 71l10 2 10 9 7 13-17 43-20 23-5 1-10-12 3-25-5-15 0-10 6-15zM750 113l3 2-3 5zM593 190l7 3 15 19 54 23 12 20-6 21-10-8-35 2-25-29-15-1-7-10-4-20 6-15zM185 230l5 0 3 10-18 27-3-14 3-8 10-10zM876 230l12 0 5 10-2 15-11 8-10-2-7-11 1-10zM870 245l-5 5 5 5 5-5zM465 245l10 0 4 5-4 10-5 3-6-3zM556 250l29 3 22 22 18 8 14 17 18 15 2 10-4 5-15 8-30-2-30 11-10-2-4-10 10-25 0-15-6-18-20-17-1-5zM447 275l13-5 5 2 4 13 0 20-14 25 3 10 12 5 20-10 6 5-1 18-10 9-10 0-34-22-2-5 2-15-18-20-1-5 5-10zM870 280l10 0 2 5-7 15 21 15 7 10-1 25-7 19-5 3-25-3-35 3-20-4-39-18-26-25 0-4 10 8 20-25 15-6 10 1 5 6 0 5 20 15 25 0 5-5 5-15 10-10zM724 334l6 1 10 10 15 2 9 8 3 10-5 10-17 7-10-1-10-6-4-5 0-10 9-12 7-3zM998 355l7-1 0 12-10-6zM914 455l6-2 3 7-3 3-5-1zM40 495l4-4-4 13zM848 495l7-4 20 2 10 6 4 11-4 0-5 5-10 0-5 5-15 5zM94 505l6-1 10 5 19 16 3 5-1 5-26 6-15-6-5-15zM960 630l10 3 5 6 3 11-3 8-15 0-12-8 0-10zM-5 635l15 0 6 5-1 5-6 5-14 3zM475 635l10 5 6 15-8 10-18 4-6-9 1-10 5-9zM360 657l5 0 0 13-5 4-3-4zM1005 683l0 23-10-10 0-6zM174 740l6 2 10 13 0 10-5 4-10-3-3-6-1-15zM825 742l5 1 28 22 10 20-1 20-94 0 12-31zM443 755l7 0 9 5 9 30 22 13 21-13 14-27 5-4 10 0 17 6 6 10-1 10-22 13-4 7-114 0-2-25zM645 792l10 1 9 12-24 0z"/><path fill="#fddcc9" fill-rule="evenodd" d="M330 149l10 3 10 12 10 22 20 15 4 9-2 10-7 9-25 4-8 7 10 30-6 10-11 6-10-1-5-3-8-27-7-11-50-19-9-5-3-5 19-40 13-15 15-8zM786 315l14-3 25 13 26-1 19 3 15 7 4 11-6 10-18 6-25 2-25-4-20-9-11-10-4-15zM733 355l12-3 10 4 6 9 0 5-11 9-15 0-6-4-4-10zM369 380l36 7 75 39 25 9 23 15 17 21 10 7 10-1 20-14 10 0 25 23 35 6 21 8 10 25 9 9 20 4 30-3 3 5-2 10-41 34-20 6-35-4-30 4-55-18-40 3-40-19-50 7-10-2-10-10-10-27-10-11-10-5-25 2-8-5-6-10-3-15-5-10-10-10-24-15-11-20 2-15 20-20 10-2 20 2zM256 470l14-1 7 6 4 10-6 12-15 2-15-9-1-10zM825 570l10 0 5 3 2 12-7 11-15 4-5-2-2-8 6-15z"/><path fill="#f8bb9e" fill-rule="evenodd" d="M807 335l48-4 15 5 7 9-3 5-10 5-29 2-15-5-11-7-3-5zM732 360l8-4 10 1 8 8-1 5-7 7-15-1-6-6zM354 405l26-4 20 2 15 6 29 16 16 15 29 20 26 10 9 10 6 20 5 3 30 3 20-4 25 14 25-2 10 3 11 13 4 25-2 10-13 7-30 4-23-6-22-12-25 1-10-2-30-20-20 0-40 10-14-2-8-10-5-25-7-10-26-24-45-26-18-20 1-10 4-5z"/><path fill="#ee9677" fill-rule="evenodd" d="M830 340l20-3 12 3 3 5-10 6-15 1-13-7zM737 360l13 0 4 5 0 5-9 6-10-3-3-8zM356 415l29-3 25 8 13 15 11 40-9 6-10-1-30-20-20-6-15-9-9-15 6-10zM578 535l10 0 5 5-8 1z"/><path fill="#db6b55" fill-rule="evenodd" d="M735 365l10-4 6 4 0 5-11 3-5-3zM360 425l15-4 21 4 11 10 1 15-3 2-40-9-9-8 0-5z"/><path fill="#c53e3d" fill-rule="evenodd" d="M739 365l7 0 0 5-7 0z"/></g>
<use href="#land" fill="#d3d3d3" stroke="#111" stroke-width="0.5" vector-effect="non-scaling-stroke" stroke-linejoin="round"/>
<use href="#isl" fill="none" stroke="#111" stroke-width="0.5" vector-effect="non-scaling-stroke" stroke-linejoin="round"/>
<path d="M10,0V80M30,0V80M50,0V80M70,0V80M90,0V80M0,10H100M0,20H100M0,30H100M0,40H100M0,50H100M0,60H100M0,70H100" stroke="#888" stroke-opacity="0.22" stroke-width="0.6" vector-effect="non-scaling-stroke" fill="none"/>
</g></g>
<rect x="189.50" y="160.70" width="143.50" height="117.40" fill="none" stroke="#707070" stroke-width="0.9"/>
<text x="175.1" y="155.5" font-size="12.5">(e)</text>
<text x="261.6" y="157.3" font-size="12.5" text-anchor="middle">NIES-NN</text>
<g transform="translate(351.50,160.70) scale(1.43500,1.46750)">
<g clip-path="url(#pc)">
<rect x="0" y="0" width="100" height="80" fill="#fff"/><g transform="scale(0.1)"><path fill="#053061" fill-rule="evenodd" d="M15 -5l20 0 5 5 5-5 10 0 5 15 10 10 0 5 10 10 0 5 15 15 0 5 10 15 0 10 5 5 0 5 20 25 0 5 10 15 0 20 5 5 15-10 10 0 5-5 10 0 15-10 10 0 15-15 10 0 5-5 5 0 5-5 0-5 10 0 20-25 0-10-25-15-5 5-10 0-5 5-15 0-5-5-5 0-35-40 0-5-5-5 0-20 35 0 25 25 5 0 5 5 10 0 5-5 15 0 15 15 20 0 5 5 20 0 5-5 5 5 10 0 5-5 15 0 5 5 0 5 15 15 15 0 10 10 15 0 5 5 0 10 5 5 0 35 5 5 0 10 10 15 0 10 5 5 0 5 10 15 0 10 5 5 15-15 0-15 5-5 0-30 15-15 5 0 25-25 15-5 5-5 0-10 5-5 20 0 15-10 20 0 5 5 5 15 15 15 5 15 10 10 5-5 10 0 10 10 0 15 10 15 5-5 10 0 15 15 5 0 10 15 5 0 10 10 5-5 15-5 10-10-5-25-30-30 0-25 10-10 5 0 10-10 25 0 5 5 15-10 15 0 5-5 25-5 25-25 0-10 15-15 5-15 95 0 0 455-10 10-15 0-10-10-5 0-10 10 0 5-5 5-5 0-20 20 0 5-10 10-5 0-5 5-20 0-5 5-10 0-25 15 0 20 5 5 0 20 5 5 0 10 5 5 0 15 5 5 0 20 5 5 10 0 15-10 35 0 20-15 20 0 5-5 10 0 5-5 15 0 0 200-1010 0 0-205 20-20 0-5 5-5 0-20 5 0 20-15 0-15-5-5 0-20 25-25 15-5 15-15 0-45-10-15 0-15-5-5 0-20 5-5 10-25 45-45 5 0 10-10 5 0 15-15 0-5 10-10 0-5 15-25 0-5-5-5-15 0-5 5-10 0-5 5-20 0-20-15 0-10-30-25-10-25-10-10 0-5-5-5 0-10-5-5 0-10-10-10-5-15-10-10 0-5-20-35zM695 275l-5 5 15 20 0 5 15 20 0 5 20 15 5 0 10-10-10-10 0-5-10-10 0-5-15-15-15-5zM720 250l-5 5 0 5 5 5 5-5 0-5zM850 260l-20 20-5 0-10 10-10 0-5 5 5 15 10 10 5 0 5 5 25 0 5-5 5-15 10-10 0-35-5-5-5 5zM870 245l-5 5 5 5 5-5zM190 445l-15 15-5 0-20 15 0 35-5 5 0 20 10 10 5 0 10-15 0-10 5-5 0-10 5-5 0-10 5-5 0-10 5-5 0-10 5-5 0-5z"/><path fill="#0e4179" fill-rule="evenodd" d="M15 -5l20 0 5 5 5-5 10 0 5 15 10 10 0 5 10 10 0 5 15 15 0 5 10 15 0 10 5 5 0 5 20 25 0 5 10 15 0 20 5 5 15-10 10 0 5-5 10 0 15-10 10 0 15-15 10 0 5-5 5 0 5-5 0-5 10 0 20-25 0-10-25-15-5 5-10 0-5 5-15 0-5-5-5 0-35-40 0-5-5-5 0-20 35 0 25 25 5 0 5 5 10 0 5-5 15 0 15 15 20 0 5 5 20 0 5-5 5 5 10 0 5-5 15 0 5 5 0 5 15 15 15 0 10 10 15 0 5 5 0 10 5 5 0 35 5 5 0 10 10 15 0 10 5 5 0 5 10 15 0 10 5 5 15-15 0-15 5-5 0-30 15-15 5 0 25-25 15-5 5-5 0-10 5-5 20 0 15-10 20 0 5 5 5 15 15 15 5 15 10 10 5-5 10 0 10 10 0 15 10 15 5-5 10 0 15 15 5 0 10 15 5 0 10 10 5-5 15-5 10-10-5-25-30-30 0-25 10-10 5 0 10-10 25 0 5 5 15-10 15 0 5-5 25-5 25-25 0-10 15-15 5-15 95 0 0 455-10 10-15 0-10-10-5 0-10 10 0 5-5 5-5 0-20 20 0 5-10 10-5 0-5 5-20 0-5 5-10 0-25 15 0 20 5 5 0 20 5 5 0 10 5 5 0 15 5 5 0 20 5 5 10 0 15-10 35 0 20-15 20 0 5-5 10 0 5-5 15 0 0 200-1010 0 0-205 20-20 0-5 5-5 0-20 5 0 20-15 0-15-5-5 0-20 25-25 15-5 15-15 0-45-10-15 0-15-5-5 0-20 5-5 10-25 45-45 5 0 10-10 5 0 15-15 0-5 10-10 0-5 15-25 0-5-5-5-15 0-5 5-10 0-5 5-20 0-20-15 0-10-30-25-10-25-10-10 0-5-5-5 0-10-5-5 0-10-10-10-5-15-10-10 0-5-20-35zM695 275l-5 5 15 20 0 5 15 20 0 5 20 15 5 0 10-10-10-10 0-5-10-10 0-5-15-15-15-5zM720 250l-5 5 0 5 5 5 5-5 0-5zM850 260l-20 20-5 0-10 10-10 0-5 5 5 15 10 10 5 0 5 5 25 0 5-5 5-15 10-10 0-35-5-5-5 5zM870 245l-5 5 5 5 5-5zM190 445l-15 15-5 0-20 15 0 35-5 5 0 20 10 10 5 0 10-15 0-10 5-5 0-10 5-5 0-10 5-5 0-10 5-5 0-10 5-5 0-5z"/><path fill="#1f63a8" fill-rule="evenodd" d="M15 -5l20 0 5 5 5-5 10 0 5 15 10 10 0 5 10 10 0 5 15 15 0 5 10 15 0 10 5 5 0 5 20 25 0 5 10 15 0 20 5 5 15-10 10 0 5-5 10 0 15-10 10 0 15-15 10 0 5-5 5 0 5-5 0-5 10 0 20-25 0-10-25-15-5 5-10 0-5 5-15 0-5-5-5 0-35-40 0-5-5-5 0-20 35 0 25 25 5 0 5 5 10 0 5-5 15 0 15 15 20 0 5 5 20 0 5-5 5 5 10 0 5-5 15 0 5 5 0 5 15 15 15 0 10 10 15 0 5 5 0 10 5 5 0 35 5 5 0 10 10 15 0 10 5 5 0 5 10 15 0 10 5 5 15-15 0-15 5-5 0-30 15-15 5 0 25-25 15-5 5-5 0-10 5-5 20 0 15-10 20 0 5 5 5 15 15 15 5 15 10 10 5-5 10 0 10 10 0 15 10 15 5-5 10 0 15 15 5 0 10 15 5 0 10 10 5-5 15-5 10-10-5-25-30-30 0-25 10-10 5 0 10-10 25 0 5 5 15-10 15 0 5-5 25-5 25-25 0-10 15-15 5-15 95 0 0 455-10 10-15 0-10-10-5 0-10 10 0 5-5 5-5 0-20 20 0 5-10 10-5 0-5 5-20 0-5 5-10 0-25 15 0 20 5 5 0 20 5 5 0 10 5 5 0 15 5 5 0 20 5 5 10 0 15-10 35 0 20-15 20 0 5-5 10 0 5-5 15 0 0 200-1010 0 0-205 20-20 0-5 5-5 0-20 5 0 20-15 0-15-5-5 0-20 25-25 15-5 15-15 0-45-10-15 0-15-5-5 0-20 5-5 10-25 45-45 5 0 10-10 5 0 15-15 0-5 10-10 0-5 15-25 0-5-5-5-15 0-5 5-10 0-5 5-20 0-20-15 0-10-30-25-10-25-10-10 0-5-5-5 0-10-5-5 0-10-10-10-5-15-10-10 0-5-20-35zM695 275l-5 5 15 20 0 5 15 20 0 5 20 15 5 0 10-10-10-10 0-5-10-10 0-5-15-15-15-5zM720 250l-5 5 0 5 5 5 5-5 0-5zM850 260l-20 20-5 0-10 10-10 0-5 5 5 15 10 10 5 0 5 5 25 0 5-5 5-15 10-10 0-35-5-5-5 5zM870 245l-5 5 5 5 5-5zM190 445l-15 15-5 0-20 15 0 35-5 5 0 20 10 10 5 0 10-15 0-10 5-5 0-10 5-5 0-10 5-5 0-10 5-5 0-10 5-5 0-5z"/><path fill="#3480b9" fill-rule="evenodd" d="M15 -5l20 0 5 5 5-5 10 0 5 15 10 10 0 5 10 10 0 5 15 15 0 5 10 15 0 10 5 5 0 5 20 25 0 5 10 15 0 20 5 5 15-10 10 0 5-5 10 0 15-10 10 0 15-15 10 0 5-5 5 0 5-5 0-5 10 0 20-25 0-10-25-15-5 5-10 0-5 5-15 0-5-5-5 0-35-40 0-5-5-5 0-20 35 0 25 25 5 0 5 5 10 0 5-5 15 0 15 15 20 0 5 5 20 0 5-5 5 5 10 0 5-5 15 0 5 5 0 5 15 15 15 0 10 10 15 0 5 5 0 10 5 5 0 35 5 5 0 10 10 15 0 10 5 5 0 5 10 15 0 10 5 5 15-15 0-15 5-5 0-30 15-15 5 0 25-25 15-5 5-5 0-10 5-5 20 0 15-10 20 0 5 5 5 15 15 15 5 15 10 10 5-5 10 0 10 10 0 15 10 15 5-5 10 0 15 15 5 0 10 15 5 0 10 10 5-5 15-5 10-10-5-25-30-30 0-25 10-10 5 0 10-10 25 0 5 5 15-10 15 0 5-5 25-5 25-25 0-10 15-15 5-15 95 0 0 455-10 10-15 0-10-10-5 0-10 10 0 5-5 5-5 0-20 20 0 5-10 10-5 0-5 5-20 0-5 5-10 0-25 15 0 20 5 5 0 20 5 5 0 10 5 5 0 15 5 5 0 20 5 5 10 0 15-10 35 0 20-15 20 0 5-5 10 0 5-5 15 0 0 200-1010 0 0-205 20-20 0-5 5-5 0-20 5 0 20-15 0-15-5-5 0-20 25-25 15-5 15-15 0-45-10-15 0-15-5-5 0-20 5-5 10-25 45-45 5 0 10-10 5 0 15-15 0-5 10-10 0-5 15-25 0-5-5-5-15 0-5 5-10 0-5 5-20 0-20-15 0-10-30-25-10-25-10-10 0-5-5-5 0-10-5-5 0-10-10-10-5-15-10-10 0-5-20-35zM260 127l-6 8 6 2 6-7zM695 275l-5 5 15 20 0 5 15 20 0 5 20 15 5 0 10-10-10-10 0-5-10-10 0-5-15-15-15-5zM720 250l-5 5 0 5 5 5 5-5 0-5zM850 260l-20 20-5 0-10 10-10 0-5 5 5 15 10 10 5 0 5 5 25 0 5-5 5-15 10-10 0-35-5-5-5 5zM870 245l-5 5 5 5 5-5zM190 445l-15 15-5 0-20 15 0 35-5 5 0 20 10 10 5 0 10-15 0-10 5-5 0-10 5-5 0-10 5-5 0-10 5-5 0-10 5-5 0-5z"/><path fill="#529dc8" fill-rule="evenodd" d="M15 -5l20 0 5 5 5-5 10 0 5 15 10 10 0 5 10 10 0 5 15 15 0 5 10 15 0 10 5 5 0 5 20 25 0 5 10 15 0 20 5 5 15-10 10 0 5-5 10 0 15-10 10 0 15-15 10 0 5-5 5 0 5-5 0-5 10 0 20-25 0-10-25-15-5 5-10 0-5 5-15 0-5-5-5 0-35-40 0-5-5-5 0-20 35 0 25 25 5 0 5 5 10 0 5-5 15 0 15 15 20 0 5 5 20 0 5-5 5 5 10 0 5-5 15 0 5 5 0 5 15 15 15 0 10 10 15 0 5 5 0 10 5 5 0 35 5 5 0 10 10 15 0 10 5 5 0 5 10 15 0 10 5 5 15-15 0-15 5-5 0-30 15-15 5 0 25-25 15-5 5-5 0-10 5-5 20 0 15-10 20 0 5 5 5 15 15 15 5 15 10 10 5-5 10 0 10 10 0 15 10 15 5-5 10 0 15 15 5 0 10 15 5 0 10 10 5-5 15-5 10-10-5-25-30-30 0-25 10-10 5 0 10-10 25 0 5 5 15-10 15 0 5-5 25-5 25-25 0-10 15-15 5-15 95 0 0 455-10 10-15 0-10-10-5 0-10 10 0 5-5 5-5 0-20 20 0 5-10 10-5 0-5 5-20 0-5 5-10 0-25 15 0 20 5 5 0 20 5 5 0 10 5 5 0 15 5 5 0 20 5 5 10 0 15-10 35 0 20-15 20 0 5-5 10 0 5-5 15 0 0 200-1010 0 0-205 20-20 0-5 5-5 0-20 5 0 20-15 0-15-5-5 0-20 25-25 15-5 15-15 0-45-10-15 0-15-5-5 0-20 5-5 10-25 45-45 5 0 10-10 5 0 15-15 0-5 10-10 0-5 15-25 0-5-5-5-15 0-5 5-10 0-5 5-20 0-20-15 0-10-30-25-10-25-10-10 0-5-5-5 0-10-5-5 0-10-10-10-5-15-10-10 0-5-20-35zM260 113l-11 7-10 15-1 15 7 7 25-10 8-12 2-10-4-10-6-3zM695 275l-5 5 15 20 0 5 15 20 0 5 20 15 5 0 10-10-10-10 0-5-10-10 0-5-15-15-15-5zM720 250l-5 5 0 5 5 5 5-5 0-5zM850 260l-20 20-5 0-10 10-10 0-5 5 5 15 10 10 5 0 5 5 25 0 5-5 5-15 10-10 0-35-5-5-5 5zM870 245l-5 5 5 5 5-5zM190 445l-15 15-5 0-20 15 0 35-5 5 0 20 10 10 5 0 10-15 0-10 5-5 0-10 5-5 0-10 5-5 0-10 5-5 0-10 5-5 0-5z"/><path fill="#84bcd9" fill-rule="evenodd" d="M15 -5l20 0 5 5 5-5 10 0 5 15 10 10 0 5 10 10 0 5 15 15 0 5 10 15 0 10 5 5 0 5 20 25 0 5 10 15 0 20 5 5 15-10 10 0 5-5 10 0 15-10 10 0 15-15 9 0-7 15-1 15 9 32 5 8 5 1 5-2 10-19 17-15 12-30 2-10-4-10-7-7-10-3 0-5 10-10 0-10-25-15-5 5-10 0-5 5-15 0-5-5-5 0-35-40 0-5-5-5 0-20 35 0 25 25 5 0 5 5 10 0 5-5 15 0 15 15 20 0 5 5 20 0 5-5 5 5 10 0 5-5 15 0 5 5 0 5 15 15 15 0 10 10 15 0 5 5 0 10 5 5 0 35 5 5 0 10 10 15 0 10 5 5 0 5 10 15 0 10 5 5 15-15 0-15 5-5 0-30 15-15 5 0 25-25 15-5 5-5 0-10 5-5 20 0 15-10 20 0 5 5 5 15 15 15 5 15 10 10 5-5 10 0 10 10 0 15 10 15 5-5 10 0 15 15 5 0 10 15 5 0 10 10 5-5 15-5 10-10-5-25-30-30 0-25 10-10 5 0 10-10 25 0 5 5 15-10 15 0 5-5 25-5 25-25 0-10 15-15 5-15 95 0 0 455-10 10-15 0-10-10-5 0-10 10 0 5-5 5-5 0-20 20 0 5-10 10-5 0-5 5-20 0-5 5-10 0-25 15 0 20 5 5 0 20 5 5 0 10 5 5 0 15 5 5 0 20 5 5 10 0 15-10 35 0 20-15 20 0 5-5 10 0 5-5 15 0 0 200-1010 0 0-205 20-20 0-5 5-5 0-20 5 0 20-15 0-15-5-5 0-20 25-25 15-5 15-15 0-45-10-15 0-15-5-5 0-20 5-5 10-25 45-45 5 0 10-10 5 0 15-15 0-5 10-10 0-5 15-25 0-5-5-5-15 0-5 5-10 0-5 5-20 0-20-15 0-10-30-25-10-25-10-10 0-5-5-5 0-10-5-5 0-10-10-10-5-15-10-10 0-5-20-35zM695 275l-5 5 15 20 0 5 15 20 0 5 20 15 5 0 10-10-10-10 0-5-10-10 0-5-15-15-15-5zM720 250l-5 5 0 5 5 5 5-5 0-5zM850 260l-20 20-5 0-10 10-10 0-5 5 5 15 10 10 5 0 5 5 25 0 5-5 5-15 10-10 0-35-5-5-5 5zM870 245l-5 5 5 5 5-5zM190 445l-15 15-5 0-20 15 0 35-5 5 0 20 10 10 5 0 10-15 0-10 5-5 0-10 5-5 0-10 5-5 0-10 5-5 0-10 5-5 0-5z"/><path fill="#aed3e6" fill-rule="evenodd" d="M15 -5l20 0 5 5 5-5 10 0 5 15 10 10 0 5 10 10 0 5 15 15 0 5 10 15 0 10 5 5 0 5 20 25 0 5 10 15 0 20 5 5 15-10 10 0 5-5 10 0 15-10 10 0 13-13-4 8-2 15 9 50 9 10 15 4 10-4 11-20 20-20 4-20 10-20-2-15-13-19-12-9 2-12-5-5-5 0-15-10-5 5-10 0-5 5-15 0-5-5-5 0-35-40 0-5-5-5 0-20 35 0 25 25 5 0 5 5 10 0 5-5 15 0 15 15 20 0 5 5 20 0 5-5 5 5 10 0 5-5 15 0 5 5 0 5 15 15 15 0 10 10 15 0 5 5 0 10 5 5 0 35 5 5 0 10 10 15 0 10 5 5 0 5 10 15 0 10 5 5 15-15 0-15 5-5 0-30 15-15 5 0 25-25 15-5 5-5 0-10 5-5 20 0 15-10 20 0 5 5 5 15 15 15 5 15 10 10 5-5 10 0 10 10 0 15 10 15 5-5 10 0 15 15 5 0 10 15 5 0 10 10 5-5 15-5 10-10-5-25-30-30 0-25 10-10 5 0 10-10 25 0 5 5 15-10 15 0 5-5 25-5 25-25 0-10 15-15 5-15 95 0 0 455-10 10-15 0-10-10-5 0-10 10 0 5-5 5-5 0-20 20 0 5-10 10-5 0-5 5-20 0-5 5-10 0-25 15 0 20 5 5 0 20 5 5 0 10 5 5 0 15 5 5 0 20 5 5 10 0 15-10 35 0 20-15 20 0 5-5 10 0 5-5 15 0 0 200-1010 0 0-205 20-20 0-5 5-5 0-20 5 0 20-15 0-15-5-5 0-20 25-25 15-5 15-15 0-45-10-15 0-15-5-5 0-20 5-5 10-25 45-45 5 0 10-10 5 0 15-15 0-5 10-10 0-5 15-25 0-5-5-5-15 0-5 5-10 0-5 5-20 0-20-15 0-10-30-25-10-25-10-10 0-5-5-5 0-10-5-5 0-10-10-10-5-15-10-10 0-5-20-35zM695 275l-5 5 15 20 0 5 15 20 0 5 20 15 5 0 10-10-10-10 0-5-10-10 0-5-15-15-15-5zM720 250l-5 5 0 5 5 5 5-5 0-5zM785 95l-6 5 1 5 5 5 10 0 6-5 1-5-5-5zM850 260l-20 20-5 0-10 10-10 0-5 5 5 15 10 10 5 0 5 5 25 0 5-5 5-15 10-10 0-35-5-5-5 5zM870 245l-5 5 5 5 5-5zM190 445l-15 15-5 0-20 15 0 35-5 5 0 20 10 10 5 0 10-15 0-10 5-5 0-10 5-5 0-10 5-5 0-10 5-5 0-10 5-5 0-5z"/><path fill="#d4e6f1" fill-rule="evenodd" d="M15 -5l20 0 5 5 5-5 10 0 5 15 10 10 0 5 10 10 0 5 15 15 0 5 10 15 0 10 5 5 0 5 20 25 0 5 10 15 0 20 5 5 15-10 10 0 5-5 10 0 15-10 6 0 9 35 0 36 10 9 35 15 10-11 11-24 19-19 26-36 3-15-19-35-2-20-3-4-35-3-15-8-5 5-10 0-5 5-15 0-5-5-5 0-35-40 0-5-5-5 0-20 35 0 25 25 5 0 5 5 10 0 5-5 15 0 15 15 20 0 5 5 20 0 5-5 5 5 10 0 5-5 15 0 5 5 0 5 15 15 15 0 10 10 15 0 5 5 0 10 5 5 0 35 5 5 0 10 10 15 0 10 5 5 0 5 10 15 0 10 5 5 15-15 0-15 5-5 0-30 15-15 5 0 25-25 15-5 5-5 0-10 5-5 20 0 15-10 20 0 5 5 5 15 15 15 5 15 10 10 5-5 10 0 10 10 0 15 10 15 5-5 10 0 15 15 5 0 10 15 5 0 10 10 5-5 15-5 10-10-5-25-30-30 0-25 10-10 5 0 10-10 25 0 5 5 15-10 15 0 5-5 25-5 25-25 0-10 15-15 5-15 95 0 0 455-10 10-15 0-10-10-5 0-10 10 0 5-5 5-5 0-20 20 0 5-10 10-5 0-5 5-20 0-5 5-10 0-25 15 0 20 5 5 0 20 5 5 0 10 5 5 0 15 5 5 0 20 5 5 10 0 15-10 35 0 20-15 20 0 5-5 10 0 5-5 15 0 0 200-1010 0 0-205 20-20 0-5 5-5 0-20 5 0 20-15 0-15-5-5 0-20 25-25 15-5 15-15 0-45-10-15 0-15-5-5 0-20 5-5 10-25 45-45 5 0 10-10 5 0 15-15 0-5 10-10 0-5 15-25 0-5-5-5-15 0-5 5-10 0-5 5-20 0-20-15 0-10-30-25-10-25-10-10 0-5-5-5 0-10-5-5 0-10-10-10-5-15-10-10 0-5-20-35zM515 700l-8 5-1 5 4 10 10 5 10-2 5-8-4-10-6-4zM620 705l-4 5 4 7 5 0 2-7zM635 304l-5 6 5 3 5-3zM690 315l-30 10-3 10 3 14 5 2 10-3 19-13 8-10 1-10zM695 275l-5 5 15 20 0 5 15 20 0 5 20 15 5 0 10-10-10-10 0-5-10-10 0-5-15-15-15-5zM720 250l-5 5 0 5 5 5 5-5 0-5zM785 89l-11 6-3 5 3 10 11 8 15-1 9-12-2-10-12-6zM850 260l-20 20-5 0-10 10-10 0-5 5 5 15 10 10 5 0 5 5 25 0 5-5 5-15 10-10 0-35-5-5-5 5zM870 245l-5 5 5 5 5-5zM190 445l-15 15-5 0-20 15 0 35-5 5 0 20 10 10 5 0 10-15 0-10 5-5 0-10 5-5 0-10 5-5 0-10 5-5 0-10 5-5 0-5zM195 242l-5 3 0 5 20 20 8 15 7 5 10-3 10-17-25-9-15-17z"/><path fill="#ecf2f5" fill-rule="evenodd" d="M15 -5l20 0 5 5 5-5 10 0 5 15 10 10 0 5 9 9 1 6 15 15 0 5 10 15 0 10 5 5 0 5 10 10 0 5 10 10 0 5 10 15 0 12-20 8-4 10 4 4 20 0 10 5 8 11 2 15-20 0-10-10-5 0-5-5 0-10-30-25-10-25-15-20-5-25-10-10-5-15-10-10 0-5-20-35zM170 -5l35 0 15 19 15 8 2 3-14 20 4 25-17-5-15-15 1-20-11-7-10 0-5-8zM910 -5l5 6 10 2 7-3 2-5 71 0 0 215-20-2-20-20-15-8-20 0-6 10 15 45 10 10 16 1 25-10 15-2 0 41-10 4-2 6 2 11 10 10 0 58-15 5-4 11 6 10 13 8 0 52-10 10-15 0-10-10-5 0-10 10 0 5-5 5-5 0-20 20 0 5-10 10-5 0-5 5-20 0-5 5-10 0-5 5-15 5-5 5 0 20 5 5 0 20 5 5 0 10 5 5 0 15 5 5 0 20 5 5 10 0 15-10 35 0 20-15 20 0 5-5 10 0 5-5 15 0 0 10-12 20 2 5 10 4 0 161-119 0 0-35-3-5-8-1-14 1-7 5 0 10 6 25-202 0-3-15-20-16-10-4-32 35-105 0-8-26-10-8-8 4-12 17-20 8-5 5-369 0-1-6-5-1-11 7-22 0-8-15-14-7 0-141 15 8 10 10-14 25 4 10 15 1 14-6 7-10 2-10-11-30-5-5-17-6-20 0 0-29 10-10 10-5 0-10 5-5 0-20 5 0 20-15 0-15-5-5 0-20 16-16 2 16 7 9 10 0 6-4 2-5-22-21 14-9 5 0 15-15 0-45-10-15 0-15-5-5 0-20 5-5 10-25 45-45 5 0 10-10 5 0 20 8 10 7 9 25-1 5-33 20-4 10 4 2 30-4 25-13 15-1 5-4 13-30 7-8 10-6 20-3 6-3 5-15-13-25 0-20 27-31 51-49 5-15 9-11 18-34 0-5-3 0-28 25-7 14-10-1-6-8 0-20-4-10-10-7-39-13-5-10 19 0 5 5 20 0 5-5 5 5 10 0 5-5 15 0 5 5 0 5 15 15 15 0 10 10 15 0 5 5 0 10 5 5 0 28-8 7-4 10 7 8 15 2 0 5 5 5 0 10 5 5 0 5 10 15 0 10 5 5 15-15 0-15 5-5 0-30 15-15 5 0 21-21 15-4 9-10 0-10 5-5 20 0 15-10 20 0 9 14-2 11-7 7-27 3-7 10 3 10 16 10 20-14 20 4 6-4 9 9 5-5 10 0-12 5-3 5 0 10 5 10 35 12 20 3 15 10 0 5 5 5 5 0 5 5 5 25-11 25 6 13 10 7 5-1 8-9 2-10-2-25 12-19 10-8 25 1 3-4-12-25 11-20 0-35-4-10-13-10-30-1-10 2-10 25-5 6 0-22 25-20 25 0 5 5 15-10 15 0 5-5 10 0 5-5 3 0 5 10 7 4 16-4 9-9 0-6-11-14 6-6 0-10 15-15zM950 54l-5 2 0 8 5 0zM950 729l-35 9-15-3-5 3-1 7 31 13 10 0 10-5 6-8 6-15zM954 670l-1 10 12 8 7-8-1-10-6-7zM35 580l-5 5 8 15 12 11 10-2 2-9-7-17-10-6zM85 680l-11 5-4 15 12 25-2 25 5 9 5 0 10-4 11-10 17-40-8-8zM85 355l-3 5 0 10 8 5 22 5 18 23 5 0 38-28-13-32-30 8-10-2-15-8zM205 400l-38 25-6 15 4 7 5 1 20-5 12 2 11 10-2 10-26 16 0-6 5-5 0-10 5-5 0-5-5-5-15 15-5 0-10 10-5 0-5 5 0 35-5 5 0 20 10 10 5 0 5-5 15-45 28 20 5 5 2 10-5 7-19 13-4 10 6 10 12 3 25-10 15-19 25-14 2-10-2-5-27-15-13-20 2-50 10-25-1-5-16-4zM285 393l-5 7 5 14 5 7 16 9 4 14 5 4 4-3-3-15 4-20-3-10-12-7zM330 609l-13 16-1 5 4 8 15 0 25-13 1-5-8-10-13-4zM350 265l-6 10-1 10 7 6 15-3 7-8-2-12-10-6zM380 339l-6 6 1 10 7 10 8 4 5-3 3-6-1-10-7-8zM450 259l-9 11 4 10 15 13 30 45 25 12 3 5-9 20-2 15 3 2 4-2 16-14 25-5 5-3 1-8-6-6-24-9 18-25-4-13-25-14-41-8-14-26-5-2zM590 173l-8 7-1 20-11 8-20 0-15-12-10-1-16 25-6 20 2 10 10 3 30-12 30 1 25-17 5-11 5-4 20-2 12-13 2-10-4-6-35-8zM645 229l-4 6 2 35-8 6-25 4-5 5-3 20-8 20-1 30 27 42 5 3 20-9 32-26 12 0 1 5-12 20 2 8 5 2 10-8 7-17 9-10 28-21 6 1 10-10-10-10 0-5-10-10 0-5-15-15-15-5-10-10-5 5 9 14-19 7-9-1 0-10 12-30-1-20-6-10-6-4-15 0zM720 250l-5 5 0 5 5 5 5-5 0-5zM770 370l-11 10-7 15 6 10 12 5 13-10 4-15-5-15zM840 145l0 10 9 15 1 10-4 15-1 25-14 30 2 20-8 4-15-1-13 7-6 10-8 25 2 3 23-5 17 12 24 0 1 9 5 2 35 1 11 8 14 30 10 0 10-5 5-15-4-10-13-15-3-30-3-5-7 0-25 17-20 2-10 3 5-12 10-10 0-35-4-4 1-4 3 3 5-5-4-4 27-81-18-12zM70 780l-5 10 15 6 4-6-1-10-3-5zM165 629l-4 6 0 5 11 15-4 10 2 10 20 24 5 2 10-3 7-13-7-23-10-10-18-2 5-15-5-5zM225 620l-2 5 4 15 6 10 17 9 15-3-2-21-7-10zM300 758l-11 12-2 10 8 10 10 4 12-9 6-15-8-10zM480 648l-5 4-10 17-15-6-5 1-20 18-5 0-20-12-15-4-20 3-20 13-25-17-15 4-2 6 12 21 10 9 10-2 10-10 5-1 85 23 20 10 30-2 40 17 20-5 5-5 3-10-10-20-13-11-19-9-16-26zM530 600l-4 10 13 20 6 27 15 7 25 0 3-4-10-25-18-25-15-10zM593 705l-15 10-9 10-6 20 7 9 10 1 25-4 20 6 15-12 6-20-4-20-8-10-14-8-10-1zM695 688l-2 7 3 5 14 10 5-1 1-9-3-5-8-5zM730 725l-15 12-16 23-1 10 12 8 30 5 7-8-3-20 5-20-4-7zM775 579l-24 31 3 10 6 4 20 2 5-3 4-8 1-15-3-10-7-10zM805 339l-4 6 0 5 9 0 5-5-2-5zM830 440l-8 5-7 10 0 6 5 5 11-1 20-15-1-5-5-3zM905 403l0 10 3-3zM195 719l-6 6-1 10 5 15 7 5 35-3 10-6 4-6 1-10-5-7-40-6zM790 675l-6 5 1 4 14-4 2-5zM805 758l-6 7-1 10 5 10 7 1 7-6 1-15-3-6z"/><path fill="#f9eee7" fill-rule="evenodd" d="M23 -5l12 0 5 5 8-5-3 6-5 1zM170 -5l23 0-3 5-20 4zM981 -5l15 0 9 9 0 29-15 3-10 9-3-5 9-25zM900 15l25 5 10 5 2 10-6 10-11 5-15-8-12-20zM595 70l5-5 12 0-5 10-12 6-15 2-17-6 22-2 5-5zM906 75l9-2 5 2 5 10-4 5-16 2-11-2 0-5zM85 78l15 19 17 5 3 8 10 10 5 15-30 16-15 0-10-16 0-5-10-10 0-5-5-5 0-10-5-5 0-10-3-3zM415 80l10-3 5 1 10 12 0 6-25 26-10 2-6-9-1-15 5-10zM938 100l12-2 5 3 4 9-22 30-7 2-10-7-1-5zM526 125l14-2 8 2 17 25 1 10-11 14-10-2-15-14-23-13 1-10zM362 165l15 0 15 20 8 5 37 10 2 30-3 10-6 3-25-1-20 6-20-9-10 0-25 17-5-1-24-30-1-15 20-21 32-14zM455 165l10 15-10-6zM694 185l6-4 10 0 20 9 8 15-3 13-15 6-15-26zM490 188l3 7-3 8-5 3-5-2-2-2zM897 210l8-5 13 10 13 35 1 5-2 3-30 3-9-6-2-25zM810 220l5-2 8 2-1 10-7 6-5 0-3-6zM708 245l7-4 2 9-2 4-5 1zM945 265l15 0 10 7 10 33 0 5-5 4-25 1-7-5 3-30zM393 275l7-2 5 7-3 10-7 7-5-2 0-5zM160 291l10 4 0 5-35 30-5-2-5-6-4-17 4-9zM275 295l5 4 1 6-6 11-5 3-4-14 4-8zM440 315l10-2 10 7 14 25 4 15-8 8-40 14-10 0-5-12-2-35 3-5zM323 340l8 0 2 5-3 7-5 1-4-3-2-5zM207 355l13-3 17 3 8 5 4 10-9 5-30-10-5-5zM814 380l16-1 7 11-2 5-18 10-6 20-6 10-10 5-5 0-7-5-1-10 8-13 14-12zM354 385l11 2 10 15 10 5 25-12 10-1 35 13 7 8 0 5-11 15-31 18-15-1-10-18-10-8-5 1-16 13-14 2-7-7-2-15 4-25zM573 385l12-5 8 5 5 10 4 20 8 10 15 3 25-5 23 12 2 5-5 20 4 10 6 4 20 2 25-5 25 13 25-21 10-2 25 24 15 7 25-18 35-4 6 10-3 10-16 25-27 15 0 16-15-9-8 3-2 5 3 5 24 15 7 30 0 10-14 20-5 23-10 1-12-9-3-20-16-50-7-10-12-5-10 0-10 5-12 15-28 1-10 8 4 16 16 13 8 17 0 35-3 7-5 2-40-17-15-2-15 6-10 16-5 0-5-7 30-29 0-17-10-8-15-3-40 6-10-3-6-6-5-20-4-4-50-9-5 4-9 19-1 32-35-15-25-19-13-23 3-4 25-5 11-11-2-5-22-15-8-10 0-10 6-12 30-13 25-1 5-4 25-68 7 18 12 10 21 10 10 0 5-3-1-17-25-35-1-5zM515 556l-4 4 4 5 5 2 4-2 1-5zM743 420l8 0 7 10-13 9-6-4 0-10zM998 445l7-2 0 7-10 10-10 0zM87 460l8-1 16 11-6 5-10-1-7-4-3-5zM922 460l8-2 15 2 10 1 0 4-5 5-5 0-19 19-7-19zM288 465l12-1 9 6 4 10-3 5-15 6-14-6-1-10zM372 485l8 0 10 6 28 29 4 10-22 60-5 7-10 4-19-6-13-10-2-20-6-7-10-1-20 6-10-8-3-10 3-15 10-7 10-3 20 2 10-2 11-15zM40 512l15 19 35-10 10 2 3 7-12 20-16 11-25-9-30 1 0-3 5 0 20-15 0-15zM172 518l4 7-11 14 5-9zM145 525l0 10 12 10-6 30-11 7-11-7-5-20 5-10 13-10zM259 560l16-2 5 7-10 18-15 8-5-2-4-9 4-10zM168 600l7-2 6 2-6 5zM985 610l-5 6-20 6-25 33-41 25-6 10-4 25-19 20-15 3-20-2-17-6-10-10-1-10 25-20 13-20 10-6 20-5 10-5 5-19 5 0 5-5 35 0 20-15 20 0 5-5zM130 621l3 9-13 32-5 4-10-7-19-24 4-6zM391 645l24 0 8 5-3 8-5 1-21-9zM995 660l10-3 0 47-11-4-7-10 1-20zM554 680l11 3 3 7-8 4-5-2-5-7zM274 695l11-2 6 7-5 10-11 6-6-11zM665 716l5 0 10 9 3 10-3 10-10 1-5-6zM1005 732l0 18-14-5 0-5zM158 740l7 0 6 5 0 5-5 5-10 0-5-5 1-5zM269 740l6-4 5 7-1 7-4 4-6 1-4-5zM498 750l7 1 5 4 3 30 10 20-20 0-10-40 1-10zM383 765l36 10 0 5-14 14-3 11-26 0-2-30zM571 775l24-3 2 8-12 9-10 1-9-10zM209 780l3 5-2 5-5-1 0-6zM942 780l13-2 20 4 8 8 2 15-85 0 3-10 6-5 16-2zM130 788l22 17-41 0 4-10zM689 795l11-4 15 2 17 7 5 5-53 0z"/><path fill="#fddcc9" fill-rule="evenodd" d="M330 201l5 4-10 6-5-1zM439 345l11-1 2 6-6 5-6 0-3-5zM775 485l10-1 5 4 13 22-3 10-15 9-10 3-9-7-5-15 4-15zM714 490l11 1 8 9 2 10-5 15-8 10-22 6-15 12-12 17 0 25-8 6-15-2-20-19-20-5-20-24-25-9-8-12 2-15 16-8 10 2 25 18 15-3 20-12 20 8 20-1 6-4 12-20zM378 520l12-2 9 7-1 10-13 11-10-1-5-6 0-9zM903 630l21 0-14 11-5 1z"/></g>
<use href="#land" fill="#d3d3d3" stroke="#111" stroke-width="0.5" vector-effect="non-scaling-stroke" stroke-linejoin="round"/>
<use href="#isl" fill="none" stroke="#111" stroke-width="0.5" vector-effect="non-scaling-stroke" stroke-linejoin="round"/>
<path d="M10,0V80M30,0V80M50,0V80M70,0V80M90,0V80M0,10H100M0,20H100M0,30H100M0,40H100M0,50H100M0,60H100M0,70H100" stroke="#888" stroke-opacity="0.22" stroke-width="0.6" vector-effect="non-scaling-stroke" fill="none"/>
</g></g>
<rect x="351.50" y="160.70" width="143.50" height="117.40" fill="none" stroke="#707070" stroke-width="0.9"/>
<text x="337.3" y="155.5" font-size="12.5">(f)</text>
<text x="423.6" y="157.3" font-size="12.5" text-anchor="middle">OceanSODA</text>
<g transform="translate(27.00,301.40) scale(1.43500,1.46750)">
<g clip-path="url(#pc)">
<rect x="0" y="0" width="100" height="80" fill="#fff"/><g transform="scale(0.1)"><path fill="#053061" fill-rule="evenodd" d="M15 -5l20 0 5 5 5-5 10 0 5 15 10 10 0 5 10 10 0 5 15 15 0 5 10 15 0 10 5 5 0 5 20 25 0 5 10 15 0 20 5 5 15-10 10 0 5-5 10 0 15-10 10 0 15-15 10 0 5-5 5 0 5-5 0-5 10 0 20-25 0-10-25-15-5 5-10 0-5 5-15 0-5-5-5 0-35-40 0-5-5-5 0-20 35 0 25 25 5 0 5 5 10 0 5-5 15 0 15 15 20 0 5 5 20 0 5-5 5 5 10 0 5-5 15 0 5 5 0 5 15 15 15 0 10 10 15 0 5 5 0 10 5 5 0 35 5 5 0 10 10 15 0 10 5 5 0 5 10 15 0 10 5 5 15-15 0-15 5-5 0-30 15-15 5 0 25-25 15-5 5-5 0-10 5-5 20 0 15-10 20 0 5 5 5 15 15 15 5 15 10 10 5-5 10 0 10 10 0 15 10 15 5-5 10 0 15 15 5 0 10 15 5 0 10 10 5-5 15-5 10-10-5-25-30-30 0-25 10-10 5 0 10-10 25 0 5 5 15-10 15 0 5-5 25-5 25-25 0-10 15-15 5-15 95 0 0 455-10 10-15 0-10-10-5 0-10 10 0 5-5 5-5 0-20 20 0 5-10 10-5 0-5 5-20 0-5 5-10 0-25 15 0 20 5 5 0 20 5 5 0 10 5 5 0 15 5 5 0 20 5 5 10 0 15-10 35 0 20-15 20 0 5-5 10 0 5-5 15 0 0 200-1010 0 0-205 20-20 0-5 5-5 0-20 5 0 20-15 0-15-5-5 0-20 25-25 15-5 15-15 0-45-10-15 0-15-5-5 0-20 5-5 10-25 45-45 5 0 10-10 5 0 15-15 0-5 10-10 0-5 15-25 0-5-5-5-15 0-5 5-10 0-5 5-20 0-20-15 0-10-30-25-10-25-10-10 0-5-5-5 0-10-5-5 0-10-10-10-5-15-10-10 0-5-20-35zM695 275l-5 5 15 20 0 5 15 20 0 5 20 15 5 0 10-10-10-10 0-5-10-10 0-5-15-15-15-5zM720 250l-5 5 0 5 5 5 5-5 0-5zM850 260l-20 20-5 0-10 10-10 0-5 5 5 15 10 10 5 0 5 5 25 0 5-5 5-15 10-10 0-35-5-5-5 5zM870 245l-5 5 5 5 5-5zM190 445l-15 15-5 0-20 15 0 35-5 5 0 20 10 10 5 0 10-15 0-10 5-5 0-10 5-5 0-10 5-5 0-10 5-5 0-10 5-5 0-5z"/><path fill="#0e4179" fill-rule="evenodd" d="M15 -5l20 0 5 5 5-5 10 0 5 15 10 10 0 5 10 10 0 5 15 15 0 5 10 15 0 10 5 5 0 5 20 25 0 5 10 15 0 20 5 5 15-10 10 0 5-5 10 0 15-10 10 0 15-15 10 0 5-5 5 0 5-5 0-5 10 0 20-25 0-10-25-15-5 5-10 0-5 5-15 0-5-5-5 0-35-40 0-5-5-5 0-20 35 0 25 25 5 0 5 5 10 0 5-5 15 0 15 15 20 0 5 5 20 0 5-5 5 5 10 0 5-5 15 0 5 5 0 5 15 15 15 0 10 10 15 0 5 5 0 10 5 5 0 35 5 5 0 10 10 15 0 10 5 5 0 5 10 15 0 10 5 5 15-15 0-15 5-5 0-30 15-15 5 0 25-25 15-5 5-5 0-10 5-5 20 0 15-10 20 0 5 5 5 15 15 15 5 15 10 10 5-5 10 0 10 10 0 15 10 15 5-5 10 0 15 15 5 0 10 15 5 0 10 10 5-5 15-5 10-10-5-25-30-30 0-25 10-10 5 0 10-10 25 0 5 5 15-10 15 0 5-5 25-5 25-25 0-10 15-15 5-15 95 0 0 455-10 10-15 0-10-10-5 0-10 10 0 5-5 5-5 0-20 20 0 5-10 10-5 0-5 5-20 0-5 5-10 0-25 15 0 20 5 5 0 20 5 5 0 10 5 5 0 15 5 5 0 20 5 5 10 0 15-10 35 0 20-15 20 0 5-5 10 0 5-5 15 0 0 200-1010 0 0-205 20-20 0-5 5-5 0-20 5 0 20-15 0-15-5-5 0-20 25-25 15-5 15-15 0-45-10-15 0-15-5-5 0-20 5-5 10-25 45-45 5 0 10-10 5 0 15-15 0-5 10-10 0-5 15-25 0-5-5-5-15 0-5 5-10 0-5 5-20 0-20-15 0-10-30-25-10-25-10-10 0-5-5-5 0-10-5-5 0-10-10-10-5-15-10-10 0-5-20-35zM695 275l-5 5 15 20 0 5 15 20 0 5 20 15 5 0 10-10-10-10 0-5-10-10 0-5-15-15-15-5zM720 250l-5 5 0 5 5 5 5-5 0-5zM850 260l-20 20-5 0-10 10-10 0-5 5 5 15 10 10 5 0 5 5 25 0 5-5 5-15 10-10 0-35-5-5-5 5zM870 245l-5 5 5 5 5-5zM190 445l-15 15-5 0-20 15 0 35-5 5 0 20 10 10 5 0 10-15 0-10 5-5 0-10 5-5 0-10 5-5 0-10 5-5 0-10 5-5 0-5z"/><path fill="#1f63a8" fill-rule="evenodd" d="M15 -5l20 0 5 5 5-5 10 0 5 15 10 10 0 5 10 10 0 5 15 15 0 5 10 15 0 10 5 5 0 5 20 25 0 5 10 15 0 20 5 5 15-10 10 0 5-5 10 0 15-10 10 0 15-15 10 0 5-5 5 0 5-5 0-5 10 0 20-25 0-10-25-15-5 5-10 0-5 5-15 0-5-5-5 0-35-40 0-5-5-5 0-20 35 0 25 25 5 0 5 5 10 0 5-5 15 0 15 15 20 0 5 5 20 0 5-5 5 5 10 0 5-5 15 0 5 5 0 5 15 15 15 0 10 10 15 0 5 5 0 10 5 5 0 35 5 5 0 10 10 15 0 10 5 5 0 5 10 15 0 10 5 5 15-15 0-15 5-5 0-30 15-15 5 0 25-25 15-5 5-5 0-10 5-5 20 0 15-10 20 0 5 5 5 15 15 15 5 15 10 10 5-5 10 0 10 10 0 15 10 15 5-5 10 0 15 15 5 0 10 15 5 0 10 10 5-5 15-5 10-10-5-25-30-30 0-25 10-10 5 0 10-10 25 0 5 5 15-10 15 0 5-5 25-5 25-25 0-10 15-15 5-15 95 0 0 455-10 10-15 0-10-10-5 0-10 10 0 5-5 5-5 0-20 20 0 5-10 10-5 0-5 5-20 0-5 5-10 0-25 15 0 20 5 5 0 20 5 5 0 10 5 5 0 15 5 5 0 20 5 5 10 0 15-10 35 0 20-15 20 0 5-5 10 0 5-5 15 0 0 200-1010 0 0-205 20-20 0-5 5-5 0-20 5 0 20-15 0-15-5-5 0-20 25-25 15-5 15-15 0-45-10-15 0-15-5-5 0-20 5-5 10-25 45-45 5 0 10-10 5 0 15-15 0-5 10-10 0-5 15-25 0-5-5-5-15 0-5 5-10 0-5 5-20 0-20-15 0-10-30-25-10-25-10-10 0-5-5-5 0-10-5-5 0-10-10-10-5-15-10-10 0-5-20-35zM695 275l-5 5 15 20 0 5 15 20 0 5 20 15 5 0 10-10-10-10 0-5-10-10 0-5-15-15-15-5zM720 250l-5 5 0 5 5 5 5-5 0-5zM850 260l-20 20-5 0-10 10-10 0-5 5 5 15 10 10 5 0 5 5 25 0 5-5 5-15 10-10 0-35-5-5-5 5zM870 245l-5 5 5 5 5-5zM190 445l-15 15-5 0-20 15 0 35-5 5 0 20 10 10 5 0 10-15 0-10 5-5 0-10 5-5 0-10 5-5 0-10 5-5 0-10 5-5 0-5z"/><path fill="#3480b9" fill-rule="evenodd" d="M15 -5l20 0 5 5 5-5 10 0 5 15 10 10 0 5 10 10 0 5 15 15 0 5 10 15 0 10 5 5 0 5 20 25 0 5 10 15 0 20 5 5 15-10 10 0 5-5 10 0 15-10 10 0 15-15 10 0 5-5 5 0 5-5 0-5 10 0 20-25 0-10-25-15-5 5-10 0-5 5-15 0-5-5-5 0-35-40 0-5-5-5 0-20 35 0 25 25 5 0 5 5 10 0 5-5 15 0 15 15 20 0 5 5 20 0 5-5 5 5 10 0 5-5 15 0 5 5 0 5 15 15 15 0 10 10 15 0 5 5 0 10 5 5 0 35 5 5 0 10 10 15 0 10 5 5 0 5 10 15 0 10 5 5 15-15 0-15 5-5 0-30 15-15 5 0 25-25 15-5 5-5 0-10 5-5 20 0 15-10 20 0 5 5 5 15 15 15 5 15 10 10 5-5 10 0 10 10 0 15 10 15 5-5 10 0 15 15 5 0 10 15 5 0 10 10 5-5 15-5 10-10-5-25-30-30 0-25 10-10 5 0 10-10 25 0 5 5 15-10 15 0 5-5 25-5 25-25 0-10 15-15 5-15 95 0 0 455-10 10-15 0-10-10-5 0-10 10 0 5-5 5-5 0-20 20 0 5-10 10-5 0-5 5-20 0-5 5-10 0-25 15 0 20 5 5 0 20 5 5 0 10 5 5 0 15 5 5 0 20 5 5 10 0 15-10 35 0 20-15 20 0 5-5 10 0 5-5 15 0 0 200-1010 0 0-205 20-20 0-5 5-5 0-20 5 0 20-15 0-15-5-5 0-20 25-25 15-5 15-15 0-45-10-15 0-15-5-5 0-20 5-5 10-25 45-45 5 0 10-10 5 0 15-15 0-5 10-10 0-5 15-25 0-5-5-5-15 0-5 5-10 0-5 5-20 0-20-15 0-10-30-25-10-25-10-10 0-5-5-5 0-10-5-5 0-10-10-10-5-15-10-10 0-5-20-35zM695 275l-5 5 15 20 0 5 15 20 0 5 20 15 5 0 10-10-10-10 0-5-10-10 0-5-15-15-15-5zM720 250l-5 5 0 5 5 5 5-5 0-5zM850 260l-20 20-5 0-10 10-10 0-5 5 5 15 10 10 5 0 5 5 25 0 5-5 5-15 10-10 0-35-5-5-5 5zM870 245l-5 5 5 5 5-5zM190 445l-15 15-5 0-20 15 0 35-5 5 0 20 10 10 5 0 10-15 0-10 5-5 0-10 5-5 0-10 5-5 0-10 5-5 0-10 5-5 0-5z"/><path fill="#529dc8" fill-rule="evenodd" d="M15 -5l20 0 5 5 5-5 10 0 5 15 10 10 0 5 10 10 0 5 15 15 0 5 10 15 0 10 5 5 0 5 20 25 0 5 10 15 0 20 5 5 15-10 10 0 5-5 10 0 15-10 10 0 15-15 10 0 5-5 5 0 5-5 0-5 10 0 20-25 0-10-25-15-5 5-10 0-5 5-15 0-5-5-5 0-35-40 0-5-5-5 0-20 35 0 25 25 5 0 5 5 10 0 5-5 15 0 15 15 20 0 5 5 20 0 5-5 5 5 10 0 5-5 15 0 5 5 0 5 15 15 15 0 10 10 15 0 5 5 0 10 5 5 0 35 5 5 0 10 10 15 0 10 5 5 0 5 10 15 0 10 5 5 15-15 0-15 5-5 0-30 15-15 5 0 25-25 15-5 5-5 0-10 5-5 20 0 15-10 20 0 5 5 5 15 15 15 5 15 10 10 5-5 10 0 10 10 0 15 10 15 5-5 10 0 15 15 5 0 10 15 5 0 10 10 5-5 15-5 10-10-5-25-30-30 0-25 10-10 5 0 10-10 25 0 5 5 15-10 15 0 5-5 25-5 25-25 0-10 15-15 5-15 95 0 0 455-10 10-15 0-10-10-5 0-10 10 0 5-5 5-5 0-20 20 0 5-10 10-5 0-5 5-20 0-5 5-10 0-25 15 0 20 5 5 0 20 5 5 0 10 5 5 0 15 5 5 0 20 5 5 10 0 15-10 35 0 20-15 20 0 5-5 10 0 5-5 15 0 0 200-1010 0 0-205 20-20 0-5 5-5 0-20 5 0 20-15 0-15-5-5 0-20 25-25 15-5 15-15 0-45-10-15 0-15-5-5 0-20 5-5 10-25 45-45 5 0 10-10 5 0 15-15 0-5 10-10 0-5 15-25 0-5-5-5-15 0-5 5-10 0-5 5-20 0-20-15 0-10-30-25-10-25-10-10 0-5-5-5 0-10-5-5 0-10-10-10-5-15-10-10 0-5-20-35zM695 275l-5 5 15 20 0 5 15 20 0 5 20 15 5 0 10-10-10-10 0-5-10-10 0-5-15-15-15-5zM720 250l-5 5 0 5 5 5 5-5 0-5zM850 260l-20 20-5 0-10 10-10 0-5 5 5 15 10 10 5 0 5 5 25 0 5-5 5-15 10-10 0-35-5-5-5 5zM870 245l-5 5 5 5 5-5zM190 445l-15 15-5 0-20 15 0 35-5 5 0 20 10 10 5 0 10-15 0-10 5-5 0-10 5-5 0-10 5-5 0-10 5-5 0-10 5-5 0-5z"/><path fill="#84bcd9" fill-rule="evenodd" d="M15 -5l20 0 5 5 5-5 10 0 5 15 10 10 0 5 10 10 0 5 15 15 0 5 10 15 0 10 5 5 0 5 20 25 0 5 10 15 0 20 5 5 15-10 10 0 5-5 10 0 15-10 10 0 15-15 10 0 5-5 5 0 5-5 0-5 10 0 20-25 0-10-25-15-5 5-10 0-5 5-15 0-5-5-5 0-35-40 0-5-5-5 0-20 35 0 25 25 5 0 5 5 10 0 5-5 15 0 15 15 20 0 5 5 20 0 5-5 5 5 10 0 5-5 15 0 5 5 0 5 15 15 15 0 10 10 15 0 5 5 0 10 5 5 0 35 5 5 0 10 10 15 0 10 5 5 0 5 10 15 0 10 5 5 15-15 0-15 5-5 0-30 15-15 5 0 25-25 15-5 5-5 0-10 5-5 20 0 15-10 20 0 5 5 5 15 15 15 5 15 10 10 5-5 10 0 10 10 0 15 10 15 5-5 10 0 15 15 5 0 10 15 5 0 10 10 5-5 15-5 10-10-5-25-30-30 0-25 10-10 5 0 10-10 25 0 5 5 15-10 15 0 5-5 25-5 25-25 0-10 15-15 5-15 95 0 0 455-10 10-15 0-10-10-5 0-10 10 0 5-5 5-5 0-20 20 0 5-10 10-5 0-5 5-20 0-5 5-10 0-25 15 0 20 5 5 0 20 5 5 0 10 5 5 0 15 5 5 0 20 5 5 10 0 15-10 35 0 20-15 20 0 5-5 10 0 5-5 15 0 0 200-1010 0 0-205 20-20 0-5 5-5 0-20 5 0 20-15 0-15-5-5 0-20 25-25 15-5 15-15 0-45-10-15 0-15-5-5 0-20 5-5 10-25 45-45 5 0 10-10 5 0 15-15 0-5 10-10 0-5 15-25 0-5-5-5-15 0-5 5-10 0-5 5-20 0-20-15 0-10-30-25-10-25-10-10 0-5-5-5 0-10-5-5 0-10-10-10-5-15-10-10 0-5-20-35zM250 705l-4 10 4 6 5 0 6-6 2-10-8-2zM695 275l-5 5 15 20 0 5 15 20 0 5 20 15 5 0 10-10-10-10 0-5-10-10 0-5-15-15-15-5zM720 250l-5 5 0 5 5 5 5-5 0-5zM850 260l-20 20-5 0-10 10-10 0-5 5 5 15 10 10 5 0 5 5 25 0 5-5 5-15 10-10 0-35-5-5-5 5zM870 245l-5 5 5 5 5-5zM190 445l-15 15-5 0-20 15 0 35-5 5 0 20 10 10 5 0 10-15 0-10 5-5 0-10 5-5 0-10 5-5 0-10 5-5 0-10 5-5 0-5z"/><path fill="#aed3e6" fill-rule="evenodd" d="M15 -5l20 0 5 5 5-5 10 0 5 15 10 10 0 5 10 10 0 5 15 15 0 5 10 15 0 10 5 5 0 5 20 25 0 5 10 15 0 20 5 5 15-10 10 0 5-5 10 0 15-10 10 0 15-15 10 0 5-5 5 0 5-5 0-5 10 0 20-25 0-10-25-15-5 5-10 0-5 5-15 0-5-5-5 0-35-40 0-5-5-5 0-20 35 0 25 25 5 0 5 5 10 0 5-5 15 0 15 15 20 0 5 5 20 0 5-5 5 5 10 0 5-5 15 0 5 5 0 5 15 15 15 0 10 10 15 0 5 5 0 10 5 5 0 35 5 5 0 10 10 15 0 10 5 5 0 5 10 15 0 10 5 5 15-15 0-15 5-5 0-30 15-15 5 0 25-25 15-5 5-5 0-10 5-5 20 0 15-10 20 0 5 5 5 15 15 15 5 15 10 10 5-5 10 0 10 10 0 15 10 15 5-5 10 0 15 15 5 0 10 15 5 0 10 10 5-5 15-5 10-10-5-25-30-30 0-25 10-10 5 0 10-10 25 0 5 5 15-10 15 0 5-5 25-5 25-25 0-10 15-15 5-15 95 0 0 455-10 10-15 0-10-10-5 0-10 10 0 5-5 5-5 0-20 20 0 5-10 10-5 0-5 5-20 0-5 5-10 0-25 15 0 20 5 5 0 20 5 5 0 10 5 5 0 15 5 5 0 20 5 5 10 0 15-10 35 0 20-15 20 0 5-5 10 0 5-5 15 0 0 200-1010 0 0-205 20-20 0-5 5-5 0-20 5 0 20-15 0-15-5-5 0-20 25-25 15-5 15-15 0-45-10-15 0-15-5-5 0-20 5-5 10-25 45-45 5 0 10-10 5 0 15-15 0-5 10-10 0-5 15-25 0-5-5-5-15 0-5 5-10 0-5 5-20 0-20-15 0-10-30-25-10-25-10-10 0-5-5-5 0-10-5-5 0-10-10-10-5-15-10-10 0-5-20-35zM265 685l-20 5-8 5-7 15 1 15 9 9 20 8 17 18 18 0 4-5-1-10-8-8-14-7 4-10 11-10 2-10-6-10-7-5zM360 708l-8 7 0 15 8 8 10 0 11-8 3-10-14-11zM695 275l-5 5 15 20 0 5 15 20 0 5 20 15 5 0 10-10-10-10 0-5-10-10 0-5-15-15-15-5zM720 250l-5 5 0 5 5 5 5-5 0-5zM850 260l-20 20-5 0-10 10-10 0-5 5 5 15 10 10 5 0 5 5 25 0 5-5 5-15 10-10 0-35-5-5-5 5zM870 245l-5 5 5 5 5-5zM190 445l-15 15-5 0-20 15 0 35-5 5 0 20 10 10 5 0 10-15 0-10 5-5 0-10 5-5 0-10 5-5 0-10 5-5 0-10 5-5 0-5zM150 711l-11 19 0 10 36 17 23-7 6-5 4-10-13-24-10-11z"/><path fill="#d4e6f1" fill-rule="evenodd" d="M15 -5l20 0 5 5 5-5 10 0 5 15 10 10 0 5 10 10 0 5 15 15 0 5 10 15 0 10 5 5 0 5 20 25 0 5 10 15 0 20 5 5 15-10 10 0 5-5 10 0 15-10 10 0 15-15 10 0 5-5 5 0 5-5 0-5 10 0 20-25 0-10-25-15-5 5-10 0-5 5-15 0-5-5-5 0-35-40 0-5-5-5 0-20 35 0 25 25 5 0 5 5 10 0 5-5 15 0 15 15 20 0 5 5 20 0 5-5 5 5 10 0 5-5 15 0 5 5 0 5 15 15 15 0 10 10 15 0 5 5 0 10 5 5 0 35 5 5 0 10 10 15 0 10 5 5 0 5 10 15 0 10 5 5 15-15 0-15 5-5 0-30 15-15 5 0 25-25 15-5 5-5 0-10 5-5 20 0 15-10 20 0 5 5 5 15 15 15 5 15 10 10 5-5 10 0 10 10 0 15 10 15 5-5 10 0 15 15 5 0 10 15 5 0 10 10 5-5 15-5 10-10-5-25-30-30 0-25 10-10 5 0 10-10 25 0 5 5 15-10 15 0 5-5 25-5 25-25 0-10 15-15 5-15 95 0 0 455-10 10-15 0-10-10-5 0-10 10 0 5-5 5-5 0-20 20 0 5-10 10-5 0-5 5-20 0-5 5-10 0-25 15 0 20 5 5 0 20 5 5 0 10 5 5 0 15 5 5 0 20 5 5 10 0 15-10 35 0 20-15 20 0 5-5 10 0 5-5 15 0 0 200-1010 0 0-47 17 2 5-20-2-12-5-6-15 0 0-122 20-20 0-5 5-5 0-20 5 0 20-15 0-15-5-5 0-20 25-25 15-5 15-15 0-45-10-15 0-15-5-5 0-20 5-5 10-25 45-45 5 0 10-10 5 0 15-15 0-5 10-10 0-5 15-25 0-5-5-5-15 0-5 5-10 0-5 5-20 0-20-15 0-10-30-25-10-25-10-10 0-5-5-5 0-10-5-5 0-10-10-10-5-15-10-10 0-5-20-35zM360 650l-2 5 5 5 32 11 35-1 21 15 9-2 7-8-2-12-10-3-20 2-20-15-35-2zM515 352l-20 17-22 6-5 5 0 5 22 4 25 13 21-2 9-10 3-15-23-22zM585 699l-8 6 1 10 12 8 10 0 6-8-1-10-10-8zM620 739l-6 6 4 10 7 4 10-3 3-6-2-5-7-5zM695 275l-5 5 15 20 0 5 15 20 0 5 20 15 5 0 10-10-10-10 0-5-10-10 0-5-15-15-15-5zM720 250l-5 5 0 5 5 5 5-5 0-5zM850 260l-20 20-5 0-10 10-10 0-5 5 5 15 10 10 5 0 5 5 25 0 5-5 5-15 10-10 0-35-5-5-5 5zM870 245l-5 5 5 5 5-5zM40 669l-25 14-7 7 0 10 7 10 20 0 10-5 4-5 0-25-4-6zM90 663l-9 7-4 10 4 35 4 9 10 5 15 3 2 18 28 8 30 14 15-2 40-24 10-1 11 5 11 15 8 5 30 5 25-9 10 5 20 20 10-4 13-27 12-13 10-5 37 3 4 5 5 25 14 7 45-10 10-19 0-13-3-10-12-12-10 3-15 17-5 1-7-4-13-27-30 2-50-23-10 3-20 15-10 1-10-7-23-29-7-3-34 8-26 2-40-9-20 13-20 6-25 30-5-4-6-13 2-20-3-10-8-8zM190 445l-15 15-5 0-20 15 0 35-5 5 0 20 10 10 5 0 10-15 0-10 5-5 0-10 5-5 0-10 5-5 0-10 5-5 0-10 5-5 0-5z"/><path fill="#ecf2f5" fill-rule="evenodd" d="M15 -5l20 0 5 5 5-5 10 0 5 15 10 10 0 5 10 10 0 5 15 15 0 5 10 15 0 10 5 5 0 5 20 25 0 5 10 15 0 20 5 5 15-10 10 0 5-5 10 0 15-10 10 0 15-15 10 0 5-5 5 0 5-5 0-5 10 0 20-25 0-10-25-15-5 5-10 0-5 5-15 0-5-5-5 0-35-40 0-5-5-5 0-20 35 0 25 25 5 0 5 5 10 0 5-5 15 0 15 15 20 0 5 5 20 0 5-5 5 5 10 0 5-5 15 0 5 5 0 5 15 15 15 0 10 10 15 0 5 5 0 10 5 5 0 35 5 5 0 10 10 15 0 10 5 5 0 5 10 15 0 10 5 5 15-15 0-15 5-5 0-30 15-15 5 0 25-25 15-5 5-5 0-10 5-5 20 0 15-10 20 0 5 5 5 15 15 15 5 15 10 10 5-5 10 0 10 10 0 15 10 15 5-5 10 0 15 15 5 0 10 15 5 0 10 10 5-5 15-5 10-10-5-25-30-30 0-25 10-10 5 0 10-10 25 0 5 5 15-10 15 0 5-5 25-5 25-25 0-10 15-15 5-15 95 0 0 191-6 9 6 10 0 245-10 10-15 0-10-10-5 0-10 10 0 5-5 5-5 0-20 20 0 5-10 10-5 0-5 5-20 0-5 5-10 0-25 15 0 20 5 5 0 20 5 5 0 10 5 5 0 15 5 5 0 20 5 5 10 0 15-10 35 0 20-15 20 0 5-5 10 0 5-5 15 0 0 200-73 0-7-14-15-6-6 5 4 15-208 0 2-5-2-5-15-11-7-14 8-30-2-5-24-13-20 3-15-4-13-31-7-5-35 8-15-1-7-2-7-25-11-8-35 1-11-13-14-8-25 5-25-9-45-6-25 2-25 14-55 6-7-4 2-25-2-10-28-11-18 1-12 15-13 5 3 6 10-5 5 2 10 10 10 17-2 5-8 3-15 0-25-10-50 16-10-6-18-23-32 10-19-10-1-13-5-1-2 4 2 10-9 10-16 12-14-2-10-10 11-15 2-10-4-10-10-3 0-7 20-20 0-5 5-5 0-20 5 0 20-15 0-15-5-5 0-20 25-25 15-5 15-15 0-45-10-15 0-15-5-5 0-20 5-5 10-25 45-45 5 0 10-10 5 0 15-15 0-5 10-10 0-5 15-25 0-5-5-5-15 0-5 5-10 0-5 5-20 0-20-15 0-10-30-25-10-25-10-10 0-5-5-5 0-10-5-5 0-10-10-10-5-15-10-10 0-5-20-35zM515 338l-25 17-60 21-4 4 1 10 12 10 21 7 25-2 30 7 20 1 15-5 14-18 11-6 5 0 14 16 6 2 26-12 12-15-13-21-10 1-30 15-19-10-21-5-20-19zM680 659l-20 11-21 5-9 5-2 5 3 10 9 8 10 4 20-16 23-11 5-5-3-10-5-5zM695 275l-5 5 15 20 0 5 15 20 0 5 20 15 5 0 10-10-10-10 0-5-10-10 0-5-15-15-15-5zM720 250l-5 5 0 5 5 5 5-5 0-5zM850 260l-20 20-5 0-10 10-10 0-5 5 5 15 10 10 5 0 5 5 25 0 5-5 5-15 10-10 0-35-5-5-5 5zM870 245l-5 5 5 5 5-5zM910 314l-7 6 2 6 10 8 10-1 4-8-1-5-8-5zM855 719l-26 21-5 10 1 5 35 7 30 10 8-17 1-15-29-22-5-1zM100 565l-10 10 0 10 15 21 5 4 5 0 9-10 1-15-9-15zM200 253l-35 13-7 14 2 12 10 3 22 0 18-9 6-11 0-15-6-7zM725 673l-7 7 3 5 9 6 5-1 4-5-2-10zM785 779l-5 11 0 10 10-3 20-17 9-20-4-5zM190 445l-15 15-5 0-20 15 0 35-5 5 0 20 10 10 5 0 10-15 0-10 5-5 0-10 5-5 0-10 5-5 0-10 5-5 0-10 5-5 0-5zM730 719l-19 6-5 5 1 5 33 8 10-3-1-15-6-5zM524 695l11-3 5 3-5 18-10 8-6-6-3-10zM37 750l8 2 23 28 17 9 10-2 20-17 10-2 35 15 30 2 20-5 13-15 7-3 4 3 0 5-9 15 7 10 16 10-253 0 0-31 25 13 12-2 5-5-3-20zM570 762l20 2 30 15 30 0 5 6 5 20-115 0 0-5-14-15-3-10 2-5zM401 780l9-3 8 18 12 8 10 2 25-11 15-3 7 4 6 10-111 0zM272 790l43-1 8 6 6 10-72 0z"/><path fill="#f9eee7" fill-rule="evenodd" d="M15 -5l20 0 5 5 5-5 10 0 5 15 10 10 0 5 10 10 0 5 15 15 10 24-35-6-3 7 8 24 7 1 13-8 18 1 17 22 0 5 10 15 0 20 5 5 15-10 10 0 5-5 10 0 9-5-16 20 7 8 5 2 18-25-3-9-7 1 12-2 15-15 10 0 5-5 5 0 5-5 0-5 10 0 20-25 0-10-25-15-5 5-10 0-5 5-15 0-5-5-5 0-35-40 0-5-5-5 0-20 5 0 0 16 15-3 6-13 9 0 25 25 5 0 5 5 10 0 5-5 15 0 2 2-24 8-9 10 4 10 7 5 10-2 22-21 3 3 20 0 5 5 20 0 5-5 5 5 10 0 9-5 16 8 15 17 15 0 10 10 15 0 5 5 0 10 5 5 0 35 5 5 0 10 10 15 0 10 5 5 0 5 10 15 0 10 5 5 15-15 0-15 5-5 0-30 15-15 5 0 25-25 5 0 14-9 16 12 25 4 7-2 2-10-2-10-5-10-8-5 6-5 20 0 5 5 5 15 15 15 5 15 10 10 5-5 10 0 10 10 0 15 5 5 0 5 5 5 5-5 10 0 13 13-11 12-2 5 3 5 22 4 12-7 8 8 5-5 15-5 10-10-5-25-30-30 0-25 10-10 5 0 10-10 25 0 5 5 15-10 16-1 4 2 4-6 6 0 5-5 10 0 25-25 0-10 15-15 5-15 95 0 0 37-5 3-3 10 8 13 0 114-14 8-5 20 4 12 15 7 0 92-6 4-4 15 5 9 5 2 0 109-10 10-15 0-10-10-5 0-10 10 0 5-5 5-5 0-20 20 0 5-10 10-5 0-5 5-20 0-5 5-10 0-15 10-5 0-1-5-5-5-14 0-6 5-3 10 2 5 7 3 15-4 0 16 5 5 0 20 5 5 0 10 5 5 0 15 5 5 0 20 5 5 10 0 15-10 35 0 20-15 20 0 5-5 10 0 5-5 15 0 0 145-20 3-15-18-10-7-15 5-20-4-35-19-15-14-10-4-10 1-20 18-20 1-5-3-2-9 2-5 17-5 5-5 0-5-7-5-10-1-15 6-35 6-5-2-20-30-25 5-25-15-10 2-20 11-15 3-19-5-26-15-10-1-6 11 3 15-2 8-5 4-10-1-5-6-4-20-6-6-45-2-13-7-17-15-10-3-30 4-35-3-10-7-5-16-5-3-40 5-20 22-30 11-10 0-3-5 0-15-2-10-10-7-42-13-48-49-5 1-15 18-20 12-10 1-35-12-45 36-20-8-21 7 11-16 0-20 5 0 20-15 0-15-5-5 0-20 25-25 15-5 15-15 0-45-10-15 0-15-5-5 0-20 5-5 10-25 15-8 5-12 25-25 4 0-1 20 7 15 5 3 20-4 25 6 10-1 15-16 7-23-2-40-7-25-8-11-20-11-7 7-8 0-5 5-10 0-5 5-20 0-20-15 0-8 5 4 5-2 14-14-9-3-10 1-6 11-29-24-10-25-15-20-5-25-10-10-5-15-15-20 0-5-15-25zM295 103l-9 12 2 15 12 5 15-5 4-10-3-10-11-8zM340 49l-15 8-5 14 5 9 25 13 6-3 1-15-7-25zM365 294l-10 8-5 13-1 10 4 20-11 35 2 10 36 23 25 4 10 8 25-6 35 7 20-5 20 4 7 5-11 25 0 10 4 5 10-4 9-11 2-10-3-10 3-5 24-3 20-8 31 11 2-15 9-10 23-13 30-7 25-35-3-10-12-6-10 1-15 11-10 3-15-12-15-4-10 2-15 14-10 1-24-10-8-25-8-8-10-3-17 6-11 20-12 12-10 4-30 4-7-5 11-25-4-7-25 8-20-3-15 1-10-5zM410 265l-5 4-2 6 7 9 8-4 5-10-3-5zM618 190l-18 15 0 7 5 4 25-5 15 12 15-33 0-5zM695 275l-5 5 15 20 0 5 15 20 0 5 20 15 5 0 10-10-20-25 6-10 1-10-7-5-20-5-10 5zM720 250l-5 5 0 5 5 5 5-5 0-5zM750 250l-3 5 0 10 3 6 10 7 15-2 18-16-4-5-19-8zM815 122l-25 38 25 43 10 3 35-14 25-1 15-11 3-5-2-5-21-9-35 9-10 0-10-5-5-10 8-25-8-8zM900 94l-15 10-9 1 34 3 24 12-3 20-11 25 5 4 10-2 19-17 1-10-20-20-1-15-4-7-10-3zM960 259l-10 4-2 7 7 3 10 0 11-8-1-5zM65 489l-5 6 5 11 20 13 10-4-2-10-9-10-9-5zM150 327l-16 18-4 10 5 12 15 7 14-9 6-20-3-10-7-7zM175 444l-5 7-1 10-19 14 0 35-5 5 0 20 10 10 5 0 10-15 0-10 5-5 0-10 5-5 5-25 5-5 0-10 5-5 0-5-5-5-8 8-2-9zM215 343l-5 9 1 18 7 10 12 3 5-3 6-10-1-19-10-9zM295 190l-7 5 2 5 7-5zM385 454l-31 56 13 30 18 9 7-4-6-25 2-20 15-30 2-10-2-5-8-5zM500 535l-16 5 17 20-3 20 2 11 5 6 10 1 10-8 2-10-9-20 2-20-5-6zM555 569l-5 3-3 8 6 20 12 19 15 3 5-3 9-14 1-16-10-11zM690 411l-11 29 1 10 5 4 15-5 26-19 1-10-7-13-10-5zM815 242l-7 8-1 5 3 2 10-1 3-6-3-9zM850 260l-20 20-5 0-10 10-10 0-5 5 5 15 10 10 5 0 5 5 25 0 5-5 5-15 10-10 0-35-5-5-5 5zM870 245l-5 5 5 5 5-5zM890 298l-5 3-2 9 2 10 7 10 23 18 10 1 10-5 8-14-2-10-6-11-10-6zM240 465l-16 5-20 15-13 15 2 15 12 6 20 0 15-4 8-7 3-10-1-30zM295 480l-27 25 2 15 10 12 10-3 20-18 25 4 7-5-13-20-24-10zM720 605l-8 5 3 6 10-1 0-8zM935 429l-15 16-7 15 2 4 15-3 15-15 0-14zM320 558l-1 7 6 9 10 10 5 0 5-8 0-11-10-7zM80 608l5 3 0 5-5 3-4-4zM694 700l9 0 2 5-10 5-7 0-1-5zM923 750l12 0 6 5 3 10-4 8-15 0-10-7 0-9zM701 760l14-1 6 6-6 4-5-1-7-3zM980 772l5 3 16 30-46 0-2-20 3-5zM858 785l12-1 10 3 10 8 5 10-82 0 7-3 15-1zM-5 790l17 15-17 0zM112 795l8-5 20 9 25-3 39 9-100 0zM575 795l10-1 12 11-27 0zM65 800l9 5-24 0zM626 805l9-3 5 3z"/><path fill="#fddcc9" fill-rule="evenodd" d="M910 -5l16 0-6 7-15 7zM46 5l9-1 5 3 10 13 4 10-4 11-15 0-15-16-3-10zM892 23l8 22 27 15 2 10-4 6-10 4-10-1-15-4-4-5-8-23 12-12zM959 30l6-3 5 1 12 32 0 10-7 15 1 5 19 25 10 5 0 37-10-3-15-17-26-22-3-15 6-20-8-25zM291 50l14 0 3 5-3 14-9 11-16 10-11 35-4 7-5 1-10-7-3-8 3-8 10 0 20-25 0-10-7-5 7-12zM381 60l24 0 35 39 0 26 5 5 0 10 10 15 0 10 14 24-9-6-15-16-5 2-10 15-10 28-5 4-20-3-11-8-7-15 9-20-1-7-30-16-7-7-5-10 3-10 27-10 0-40 2-6zM225 65l7 5-12 0-4-4zM792 75l8 0 5 5 3-3 3 8-6 4-5-1-7-8zM542 100l-2 10-8 10 3 5 20 8 20-1 40 18 8 10-2 5-18 15-25 10-4 10 4 25-3 11-35 8-10-7-1-17-5-10-16-10-21-7 3-3 0-15 5-5 0-30zM672 125l5-3 8 8 0 15 10 15 5-5 10 0-2 5-13 8-9-3-12-10-7-10zM893 125l12-3 11 8-1 12-10 9-10 1-12-7 0-10zM118 130l17 1 4 9-4 5-10 3-20-2-2-6 3-5zM270 157l15 8-3 10-17 25-5 7-5 1-20-11-13-17 0-5 6-5zM305 160l10-3 15 6 20 2 5 1 7 9 1 10-6 10-17 18-15 9-10-1-5-6 10-35-1-5-13-10zM780 180l10 10 12 30-2 10-5 5-10 1-20-5-30 2-7 7-3 15-5-5-5 5 1 6-16 2-15 7-10-2-8-43 2-10 6-8 10-4 35 12 10 0 25-10 8-15zM148 190l12-4 5 1 4 13-4 0-5 5-20 0-2-5zM465 218l5 3 4 9-4 12-10 9-30-7-10-6-1-8 4-5zM264 225l6-2 3 2-2 5-6 0zM844 230l6-2 10 7 1 5-6 9-5 0-5-7zM577 245l8-5 30 4 7 11 23 14 5 11 0 10-5 18-5 7-10 1-10-4-20-25-10-2-15 4-5-4 0-19zM309 250l16-4 17 4 8 6-2 19-13 24-10 9-25-5-10-8 1-25 6-10zM520 263l8 2 3 5-1 10-5 6-27 14-13 13-13-13-12-7-25 9-5-2-1-5 6-9 15-11 10-3 25 5zM255 268l17 32-4 25 18 20 1 5-6 10-6 3-15-7-10-21-16-15 2-15 17-25zM1005 267l0 21-6-3zM803 285l7-4 12 2-7 7-10 0-5 6zM951 300l9-3 10 3 3 10-8 13-5 0-5-5-5-13zM123 320l7-1 2 6-2 7-14 13-1 5 11 35-5 25 4 7 25 1 6 2 1 5-10 20 5 25-10 35 2 30-8 10-11 3-12-8 0-5 10-15-1-5-11-20-19-20 1-5 7-4 28-11 2-10-15-15-20-1 0-24-10-15 0-15-5-5 0-20 5-5 0-5 5-6 10 6 7 0zM485 317l5 1 0 8-5 1zM746 325l9-4 10 1 15 18 20-8 10 1 15 12 0 15-11 20-4 20-12 20 3 15 14 9 15-1 32-18 6-10 7-30 10-7 10 1 15 9 10 3 3-16 32-24 5-2 15 9 30 3 0 22-10 3-8 9 7 35 11 17-10 13-15 0-10-10-6 1-2-21-5-10-17-15-15-8-5 18-15 22-10 6-19 2-6 6-9 19 1 20-3 5-14 3-14-3-11-8-4 3-6 20-18 30 4 10 29 11 14 14 2 10-12 20-4 15 5 16 10 6 25-8 5 6 10 0 15-10 35 0 20-15 20 0 5-5 10 0 5-5 15 0 0 42-25-14-2 2-2 35-9 15-32 12-20-22-15-10-10-2-25 4-25-11-50 2-15 6-10-1-6-8 1-17 5-3 20 13 5-4 1-14-11-11-20 6-5-5-10-35-20-24-50 32-15 0-13-8-5-20 6-10 12-10 0-5-15-18-25-12-2-10 17-23 15-5 10 5 20 29 10 6 0-27 7-15 18-14 26-6 11-30-12-25-12-45 5-12 7 7 5 0 10-10zM745 520l-10 5-7 10-3 10 5 10 40-5 8-5 0-5-8-10-15-9zM257 395l8-4 10 6 2 13-7 9-10 0-8-4-1-10zM318 405l7-3 15 3 15 9 18 16 3 10-12 25-14 3-35-26-6-12-1-10zM203 410l7-4 10-1 20 10 3 10-4 15-14 6-10-2-13-24zM580 445l6 5-1 3-19 7-4 5 3 31-10 18-10 5-15-14-3-15 11-15 21-15 5-10zM416 485l9 1 35 17 4 7-1 5-12 10-16 7-15 1-10-4-8-9-2-15 5-12zM40 505l7 15-2 13 0-13-5-5zM44 536l-9 15-11-1 11-10zM220 540l15-2 7 2 1 5-8 9-5 0-10-9zM618 605l7 2-5 9-5-1zM665 628l2 2 0 5-7 6-3-1-1-5zM864 805l6-4 10 4z"/><path fill="#f8bb9e" fill-rule="evenodd" d="M509 145l21-1 30 18 16 3-6 6-10 34-5 6-15-3-41-23-9-8 5-7 0-16zM408 180l4 0 3 10-5 7-5 1-6-3 0-5zM315 270l10-4 4 4-9 11-5-1zM625 283l5 2-5 5zM768 370l13 0 5 5-5 15-6 4-10-4-3-5 0-10zM329 425l1-3 5-1 4 4-4 4zM775 430l5 3 0 3-5 0zM710 480l10-5 7 5 7 10 2 10-11 12-5 1-5-6-7-17zM940 624l10 7 10 13 4 11-4 18-15 9-9-2-6-5-14-25 0-10 4-8 10-2z"/><path fill="#ee9677" fill-rule="evenodd" d="M511 155l14-2 15 7 12 15 1 10-3 8-5 3-10-1-27-15-7-10 0-5z"/><path fill="#db6b55" fill-rule="evenodd" d="M517 165l13 0 5 5 3 10-8 3-8-3-7-10z"/></g>
<use href="#land" fill="#d3d3d3" stroke="#111" stroke-width="0.5" vector-effect="non-scaling-stroke" stroke-linejoin="round"/>
<use href="#isl" fill="none" stroke="#111" stroke-width="0.5" vector-effect="non-scaling-stroke" stroke-linejoin="round"/>
<path d="M10,0V80M30,0V80M50,0V80M70,0V80M90,0V80M0,10H100M0,20H100M0,30H100M0,40H100M0,50H100M0,60H100M0,70H100" stroke="#888" stroke-opacity="0.22" stroke-width="0.6" vector-effect="non-scaling-stroke" fill="none"/>
</g></g>
<rect x="27.00" y="301.40" width="143.50" height="117.40" fill="none" stroke="#707070" stroke-width="0.9"/>
<text x="12.8" y="296.2" font-size="12.5">(g)</text>
<text x="99.2" y="298.0" font-size="12.5" text-anchor="middle">CMEMS-LSCE-FFNN</text>
<text x="24.4" y="318.5" font-size="9" text-anchor="end">20°N</text>
<text x="24.4" y="333.1" font-size="9" text-anchor="end">10°N</text>
<text x="24.4" y="347.8" font-size="9" text-anchor="end">0°</text>
<text x="24.4" y="362.5" font-size="9" text-anchor="end">10°S</text>
<text x="24.4" y="377.2" font-size="9" text-anchor="end">20°S</text>
<text x="24.4" y="391.8" font-size="9" text-anchor="end">30°S</text>
<text x="24.4" y="406.5" font-size="9" text-anchor="end">40°S</text>
<text x="41.4" y="428.2" font-size="9" text-anchor="middle">40°E</text>
<text x="70.1" y="428.2" font-size="9" text-anchor="middle">60°E</text>
<text x="98.8" y="428.2" font-size="9" text-anchor="middle">80°E</text>
<text x="127.5" y="428.2" font-size="9" text-anchor="middle">100°E</text>
<text x="156.2" y="428.2" font-size="9" text-anchor="middle">120°E</text>
<g transform="translate(189.50,301.40) scale(1.43500,1.46750)">
<g clip-path="url(#pc)">
<rect x="0" y="0" width="100" height="80" fill="#fff"/><g transform="scale(0.1)"><path fill="#053061" fill-rule="evenodd" d="M15 -5l20 0 5 5 5-5 10 0 5 15 10 10 0 5 10 10 0 5 15 15 0 5 10 15 0 10 5 5 0 5 20 25 0 5 10 15 0 20 5 5 15-10 10 0 5-5 10 0 15-10 10 0 15-15 10 0 5-5 5 0 5-5 0-5 10 0 20-25 0-10-25-15-5 5-10 0-5 5-15 0-5-5-5 0-35-40 0-5-5-5 0-20 35 0 25 25 5 0 5 5 10 0 5-5 15 0 15 15 20 0 5 5 20 0 5-5 5 5 10 0 5-5 15 0 5 5 0 5 15 15 15 0 10 10 15 0 5 5 0 10 5 5 0 35 5 5 0 10 10 15 0 10 5 5 0 5 10 15 0 10 5 5 15-15 0-15 5-5 0-30 15-15 5 0 25-25 15-5 5-5 0-10 5-5 20 0 15-10 20 0 5 5 5 15 15 15 5 15 10 10 5-5 10 0 10 10 0 15 10 15 5-5 10 0 15 15 5 0 10 15 5 0 10 10 5-5 15-5 10-10-5-25-30-30 0-25 10-10 5 0 10-10 25 0 5 5 15-10 15 0 5-5 25-5 25-25 0-10 15-15 5-15 95 0 0 455-10 10-15 0-10-10-5 0-10 10 0 5-5 5-5 0-20 20 0 5-10 10-5 0-5 5-20 0-5 5-10 0-25 15 0 20 5 5 0 20 5 5 0 10 5 5 0 15 5 5 0 20 5 5 10 0 15-10 35 0 20-15 20 0 5-5 10 0 5-5 15 0 0 200-1010 0 0-205 20-20 0-5 5-5 0-20 5 0 20-15 0-15-5-5 0-20 25-25 15-5 15-15 0-45-10-15 0-15-5-5 0-20 5-5 10-25 45-45 5 0 10-10 5 0 15-15 0-5 10-10 0-5 15-25 0-5-5-5-15 0-5 5-10 0-5 5-20 0-20-15 0-10-30-25-10-25-10-10 0-5-5-5 0-10-5-5 0-10-10-10-5-15-10-10 0-5-20-35zM695 275l-5 5 15 20 0 5 15 20 0 5 20 15 5 0 10-10-10-10 0-5-10-10 0-5-15-15-15-5zM720 250l-5 5 0 5 5 5 5-5 0-5zM850 260l-20 20-5 0-10 10-10 0-5 5 5 15 10 10 5 0 5 5 25 0 5-5 5-15 10-10 0-35-5-5-5 5zM870 245l-5 5 5 5 5-5zM190 445l-15 15-5 0-20 15 0 35-5 5 0 20 10 10 5 0 10-15 0-10 5-5 0-10 5-5 0-10 5-5 0-10 5-5 0-10 5-5 0-5z"/><path fill="#0e4179" fill-rule="evenodd" d="M15 -5l20 0 5 5 5-5 10 0 5 15 10 10 0 5 10 10 0 5 15 15 0 5 10 15 0 10 5 5 0 5 20 25 0 5 10 15 0 20 5 5 15-10 10 0 5-5 10 0 15-10 10 0 15-15 10 0 5-5 5 0 5-5 0-5 10 0 20-25 0-10-25-15-5 5-10 0-5 5-15 0-5-5-5 0-35-40 0-5-5-5 0-20 35 0 25 25 5 0 5 5 10 0 5-5 15 0 15 15 20 0 5 5 20 0 5-5 5 5 10 0 5-5 15 0 5 5 0 5 15 15 15 0 10 10 15 0 5 5 0 10 5 5 0 35 5 5 0 10 10 15 0 10 5 5 0 5 10 15 0 10 5 5 15-15 0-15 5-5 0-30 15-15 5 0 25-25 15-5 5-5 0-10 5-5 20 0 15-10 20 0 5 5 5 15 15 15 5 15 10 10 5-5 10 0 10 10 0 15 10 15 5-5 10 0 15 15 5 0 10 15 5 0 10 10 5-5 15-5 10-10-5-25-30-30 0-25 10-10 5 0 10-10 25 0 5 5 15-10 15 0 5-5 25-5 25-25 0-10 15-15 5-15 95 0 0 455-10 10-15 0-10-10-5 0-10 10 0 5-5 5-5 0-20 20 0 5-10 10-5 0-5 5-20 0-5 5-10 0-25 15 0 20 5 5 0 20 5 5 0 10 5 5 0 15 5 5 0 20 5 5 10 0 15-10 35 0 20-15 20 0 5-5 10 0 5-5 15 0 0 200-1010 0 0-205 20-20 0-5 5-5 0-20 5 0 20-15 0-15-5-5 0-20 25-25 15-5 15-15 0-45-10-15 0-15-5-5 0-20 5-5 10-25 45-45 5 0 10-10 5 0 15-15 0-5 10-10 0-5 15-25 0-5-5-5-15 0-5 5-10 0-5 5-20 0-20-15 0-10-30-25-10-25-10-10 0-5-5-5 0-10-5-5 0-10-10-10-5-15-10-10 0-5-20-35zM695 275l-5 5 15 20 0 5 15 20 0 5 20 15 5 0 10-10-10-10 0-5-10-10 0-5-15-15-15-5zM720 250l-5 5 0 5 5 5 5-5 0-5zM850 260l-20 20-5 0-10 10-10 0-5 5 5 15 10 10 5 0 5 5 25 0 5-5 5-15 10-10 0-35-5-5-5 5zM870 245l-5 5 5 5 5-5zM190 445l-15 15-5 0-20 15 0 35-5 5 0 20 10 10 5 0 10-15 0-10 5-5 0-10 5-5 0-10 5-5 0-10 5-5 0-10 5-5 0-5z"/><path fill="#1f63a8" fill-rule="evenodd" d="M15 -5l20 0 5 5 5-5 10 0 5 15 10 10 0 5 10 10 0 5 15 15 0 5 10 15 0 10 5 5 0 5 20 25 0 5 10 15 0 20 5 5 15-10 10 0 5-5 10 0 15-10 10 0 15-15 10 0 5-5 5 0 5-5 0-5 10 0 20-25 0-10-25-15-5 5-10 0-5 5-15 0-5-5-5 0-35-40 0-5-5-5 0-20 35 0 25 25 5 0 5 5 10 0 5-5 15 0 15 15 20 0 5 5 20 0 5-5 5 5 10 0 5-5 15 0 5 5 0 5 15 15 15 0 10 10 15 0 5 5 0 10 5 5 0 35 5 5 0 10 10 15 0 10 5 5 0 5 10 15 0 10 5 5 15-15 0-15 5-5 0-30 15-15 5 0 25-25 15-5 5-5 0-10 5-5 20 0 15-10 20 0 5 5 5 15 15 15 5 15 10 10 5-5 10 0 10 10 0 15 10 15 5-5 10 0 15 15 5 0 10 15 5 0 10 10 5-5 15-5 10-10-5-25-30-30 0-25 10-10 5 0 10-10 25 0 5 5 15-10 15 0 5-5 25-5 25-25 0-10 15-15 5-15 95 0 0 455-10 10-15 0-10-10-5 0-10 10 0 5-5 5-5 0-20 20 0 5-10 10-5 0-5 5-20 0-5 5-10 0-25 15 0 20 5 5 0 20 5 5 0 10 5 5 0 15 5 5 0 20 5 5 10 0 15-10 35 0 20-15 20 0 5-5 10 0 5-5 15 0 0 200-1010 0 0-205 20-20 0-5 5-5 0-20 5 0 20-15 0-15-5-5 0-20 25-25 15-5 15-15 0-45-10-15 0-15-5-5 0-20 5-5 10-25 45-45 5 0 10-10 5 0 15-15 0-5 10-10 0-5 15-25 0-5-5-5-15 0-5 5-10 0-5 5-20 0-20-15 0-10-30-25-10-25-10-10 0-5-5-5 0-10-5-5 0-10-10-10-5-15-10-10 0-5-20-35zM695 275l-5 5 15 20 0 5 15 20 0 5 20 15 5 0 10-10-10-10 0-5-10-10 0-5-15-15-15-5zM720 250l-5 5 0 5 5 5 5-5 0-5zM850 260l-20 20-5 0-10 10-10 0-5 5 5 15 10 10 5 0 5 5 25 0 5-5 5-15 10-10 0-35-5-5-5 5zM870 245l-5 5 5 5 5-5zM190 445l-15 15-5 0-20 15 0 35-5 5 0 20 10 10 5 0 10-15 0-10 5-5 0-10 5-5 0-10 5-5 0-10 5-5 0-10 5-5 0-5z"/><path fill="#3480b9" fill-rule="evenodd" d="M15 -5l20 0 5 5 5-5 10 0 5 15 10 10 0 5 10 10 0 5 15 15 0 5 10 15 0 10 5 5 0 5 20 25 0 5 10 15 0 20 5 5 15-10 10 0 5-5 10 0 15-10 10 0 15-15 10 0 5-5 5 0 5-5 0-5 10 0 20-25 0-10-25-15-5 5-10 0-5 5-15 0-5-5-5 0-35-40 0-5-5-5 0-20 35 0 25 25 5 0 5 5 10 0 5-5 15 0 15 15 20 0 5 5 20 0 5-5 5 5 10 0 5-5 15 0 5 5 0 5 15 15 15 0 10 10 15 0 5 5 0 10 5 5 0 35 5 5 0 10 10 15 0 10 5 5 0 5 10 15 0 10 5 5 15-15 0-15 5-5 0-30 15-15 5 0 25-25 15-5 5-5 0-10 5-5 20 0 15-10 20 0 5 5 5 15 15 15 5 15 10 10 5-5 10 0 10 10 0 15 10 15 5-5 10 0 15 15 5 0 10 15 5 0 10 10 5-5 15-5 10-10-5-25-30-30 0-25 10-10 5 0 10-10 25 0 5 5 15-10 15 0 5-5 25-5 25-25 0-10 15-15 5-15 95 0 0 455-10 10-15 0-10-10-5 0-10 10 0 5-5 5-5 0-20 20 0 5-10 10-5 0-5 5-20 0-5 5-10 0-25 15 0 20 5 5 0 20 5 5 0 10 5 5 0 15 5 5 0 20 5 5 10 0 15-10 35 0 20-15 20 0 5-5 10 0 5-5 15 0 0 200-1010 0 0-205 20-20 0-5 5-5 0-20 5 0 20-15 0-15-5-5 0-20 25-25 15-5 15-15 0-45-10-15 0-15-5-5 0-20 5-5 10-25 45-45 5 0 10-10 5 0 15-15 0-5 10-10 0-5 15-25 0-5-5-5-15 0-5 5-10 0-5 5-20 0-20-15 0-10-30-25-10-25-10-10 0-5-5-5 0-10-5-5 0-10-10-10-5-15-10-10 0-5-20-35zM695 275l-5 5 15 20 0 5 15 20 0 5 20 15 5 0 10-10-10-10 0-5-10-10 0-5-15-15-15-5zM720 250l-5 5 0 5 5 5 5-5 0-5zM850 260l-20 20-5 0-10 10-10 0-5 5 5 15 10 10 5 0 5 5 25 0 5-5 5-15 10-10 0-35-5-5-5 5zM870 245l-5 5 5 5 5-5zM190 445l-15 15-5 0-20 15 0 35-5 5 0 20 10 10 5 0 10-15 0-10 5-5 0-10 5-5 0-10 5-5 0-10 5-5 0-10 5-5 0-5z"/><path fill="#529dc8" fill-rule="evenodd" d="M15 -5l20 0 5 5 5-5 10 0 5 15 10 10 0 5 10 10 0 5 15 15 0 5 10 15 0 10 5 5 0 5 20 25 0 5 10 15 0 20 5 5 15-10 10 0 5-5 10 0 15-10 10 0 15-15 10 0 5-5 5 0 5-5 0-5 10 0 20-25 0-10-25-15-5 5-10 0-5 5-15 0-5-5-5 0-35-40 0-5-5-5 0-20 35 0 25 25 5 0 5 5 10 0 5-5 15 0 15 15 20 0 5 5 20 0 5-5 5 5 10 0 5-5 15 0 5 5 0 5 15 15 15 0 10 10 15 0 5 5 0 10 5 5 0 35 5 5 0 10 10 15 0 10 5 5 0 5 10 15 0 10 5 5 15-15 0-15 5-5 0-30 15-15 5 0 25-25 15-5 5-5 0-10 5-5 20 0 15-10 20 0 5 5 5 15 15 15 5 15 10 10 5-5 10 0 10 10 0 15 10 15 5-5 10 0 15 15 5 0 10 15 5 0 10 10 5-5 15-5 10-10-5-25-30-30 0-25 10-10 5 0 10-10 25 0 5 5 15-10 15 0 5-5 25-5 25-25 0-10 15-15 5-15 95 0 0 455-10 10-15 0-10-10-5 0-10 10 0 5-5 5-5 0-20 20 0 5-10 10-5 0-5 5-20 0-5 5-10 0-25 15 0 20 5 5 0 20 5 5 0 10 5 5 0 15 5 5 0 20 5 5 10 0 15-10 35 0 20-15 20 0 5-5 10 0 5-5 15 0 0 200-1010 0 0-205 20-20 0-5 5-5 0-20 5 0 20-15 0-15-5-5 0-20 25-25 15-5 15-15 0-45-10-15 0-15-5-5 0-20 5-5 10-25 45-45 5 0 10-10 5 0 15-15 0-5 10-10 0-5 15-25 0-5-5-5-15 0-5 5-10 0-5 5-20 0-20-15 0-10-30-25-10-25-10-10 0-5-5-5 0-10-5-5 0-10-10-10-5-15-10-10 0-5-20-35zM695 275l-5 5 15 20 0 5 15 20 0 5 20 15 5 0 10-10-10-10 0-5-10-10 0-5-15-15-15-5zM720 250l-5 5 0 5 5 5 5-5 0-5zM850 260l-20 20-5 0-10 10-10 0-5 5 5 15 10 10 5 0 5 5 25 0 5-5 5-15 10-10 0-35-5-5-5 5zM870 245l-5 5 5 5 5-5zM190 445l-15 15-5 0-20 15 0 35-5 5 0 20 10 10 5 0 10-15 0-10 5-5 0-10 5-5 0-10 5-5 0-10 5-5 0-10 5-5 0-5z"/><path fill="#84bcd9" fill-rule="evenodd" d="M15 -5l20 0 5 5 5-5 10 0 5 15 10 10 0 5 10 10 0 5 15 15 0 5 10 15 0 10 5 5 0 5 20 25 0 5 10 15 0 20 5 5 15-10 10 0 5-5 10 0 15-10 10 0 15-15 10 0 5-5 5 0 5-5 0-5 10 0 20-25 0-10-25-15-5 5-10 0-5 5-15 0-5-5-5 0-35-40 0-5-5-5 0-20 35 0 25 25 5 0 5 5 10 0 5-5 15 0 15 15 20 0 5 5 20 0 5-5 5 5 10 0 5-5 15 0 5 5 0 5 15 15 15 0 10 10 15 0 5 5 0 10 5 5 0 35 5 5 0 10 10 15 0 10 5 5 0 5 10 15 0 10 5 5 15-15 0-15 5-5 0-30 15-15 5 0 25-25 15-5 5-5 0-10 5-5 20 0 15-10 20 0 5 5 5 15 15 15 5 15 10 10 5-5 10 0 10 10 0 15 10 15 5-5 10 0 15 15 5 0 10 15 5 0 10 10 5-5 15-5 10-10-5-25-30-30 0-25 10-10 5 0 10-10 25 0 5 5 15-10 15 0 5-5 25-5 25-25 0-10 15-15 5-15 95 0 0 455-10 10-15 0-10-10-5 0-10 10 0 5-5 5-5 0-20 20 0 5-10 10-5 0-5 5-20 0-5 5-10 0-25 15 0 20 5 5 0 20 5 5 0 10 5 5 0 15 5 5 0 20 5 5 10 0 15-10 35 0 20-15 20 0 5-5 10 0 5-5 15 0 0 200-1010 0 0-205 20-20 0-5 5-5 0-20 5 0 20-15 0-15-5-5 0-20 25-25 15-5 15-15 0-45-10-15 0-15-5-5 0-20 5-5 10-25 45-45 5 0 10-10 5 0 15-15 0-5 10-10 0-5 15-25 0-5-5-5-15 0-5 5-10 0-5 5-20 0-20-15 0-10-30-25-10-25-10-10 0-5-5-5 0-10-5-5 0-10-10-10-5-15-10-10 0-5-20-35zM695 275l-5 5 15 20 0 5 15 20 0 5 20 15 5 0 10-10-10-10 0-5-10-10 0-5-15-15-15-5zM720 250l-5 5 0 5 5 5 5-5 0-5zM850 260l-20 20-5 0-10 10-10 0-5 5 5 15 10 10 5 0 5 5 25 0 5-5 5-15 10-10 0-35-5-5-5 5zM870 245l-5 5 5 5 5-5zM190 445l-15 15-5 0-20 15 0 35-5 5 0 20 10 10 5 0 10-15 0-10 5-5 0-10 5-5 0-10 5-5 0-10 5-5 0-10 5-5 0-5z"/><path fill="#aed3e6" fill-rule="evenodd" d="M15 -5l20 0 5 5 5-5 10 0 5 15 10 10 0 5 10 10 0 5 15 15 0 5 10 15 0 10 5 5 0 5 20 25 0 5 10 15 0 20 5 5 15-10 10 0 5-5 10 0 15-10 10 0 15-15 10 0 5-5 5 0 5-5 0-5 10 0 20-25 0-10-25-15-5 5-10 0-5 5-15 0-5-5-5 0-35-40 0-5-5-5 0-20 35 0 25 25 5 0 5 5 10 0 5-5 15 0 15 15 20 0 5 5 20 0 5-5 5 5 10 0 5-5 15 0 5 5 0 5 15 15 15 0 10 10 15 0 5 5 0 10 5 5 0 35 5 5 0 10 10 15 0 10 5 5 0 5 10 15 0 10 5 5 15-15 0-15 5-5 0-30 15-15 5 0 25-25 15-5 5-5 0-10 5-5 20 0 15-10 20 0 5 5 5 15 15 15 5 15 10 10 5-5 10 0 10 10 0 15 10 15 5-5 10 0 15 15 5 0 10 15 5 0 10 10 5-5 15-5 10-10-5-25-30-30 0-25 10-10 5 0 10-10 25 0 5 5 15-10 15 0 5-5 25-5 25-25 0-10 15-15 5-15 95 0 0 455-10 10-15 0-10-10-5 0-10 10 0 5-5 5-5 0-20 20 0 5-10 10-5 0-5 5-20 0-5 5-10 0-25 15 0 20 5 5 0 20 5 5 0 10 5 5 0 15 5 5 0 20 5 5 10 0 15-10 35 0 20-15 20 0 5-5 10 0 5-5 15 0 0 200-1010 0 0-205 20-20 0-5 5-5 0-20 5 0 20-15 0-15-5-5 0-20 25-25 15-5 15-15 0-45-10-15 0-15-5-5 0-20 5-5 10-25 45-45 5 0 10-10 5 0 15-15 0-5 10-10 0-5 15-25 0-5-5-5-15 0-5 5-10 0-5 5-20 0-20-15 0-10-30-25-10-25-10-10 0-5-5-5 0-10-5-5 0-10-10-10-5-15-10-10 0-5-20-35zM470 657l1 8 4 5 3-10zM695 275l-5 5 15 20 0 5 15 20 0 5 20 15 5 0 10-10-10-10 0-5-10-10 0-5-15-15-15-5zM720 250l-5 5 0 5 5 5 5-5 0-5zM850 260l-20 20-5 0-10 10-10 0-5 5 5 15 10 10 5 0 5 5 25 0 5-5 5-15 10-10 0-35-5-5-5 5zM870 245l-5 5 5 5 5-5zM190 445l-15 15-5 0-20 15 0 35-5 5 0 20 10 10 5 0 10-15 0-10 5-5 0-10 5-5 0-10 5-5 0-10 5-5 0-10 5-5 0-5z"/><path fill="#d4e6f1" fill-rule="evenodd" d="M15 -5l20 0 5 5 5-5 10 0 5 15 10 10 0 5 10 10 0 5 15 15 0 5 10 15 0 10 5 5 0 5 20 25 0 5 10 15 0 20 5 5 15-10 10 0 5-5 7 0-2 10 8 25-3 10-5 0-5 5-10 0-5 5-20 0-10-10-5 0-5-5 0-10-30-25-10-25-15-20-5-25-10-10-5-15-10-10 0-5-20-35zM170 -5l35 0 25 25 5 0 5 5 10 0 5-5 15 0 15 15 20 0 5 5 20 0 5-5 5 5 10 0 5-5 15 0 5 5 0 5 15 15 15 0 10 10 15 0 5 5 0 10 5 5 0 35 5 5 0 10 10 15 0 10 5 5 0 5 10 15 0 10 5 5 15-15 0-15 5-5 0-30 15-15 5 0 25-25 15-5 5-5 0-10 5-5 20 0 15-10 20 0 5 5 5 15 15 15 5 15 10 10 5-5 10 0 10 10 0 15 10 15 5-5 10 0 15 15 5 0 10 15 5 0 10 10 5-5 15-5 10-10-5-25-30-30 0-25 10-10 5 0 10-10 25 0 5 5 15-10 15 0 5-5 25-5 25-25 0-10 15-15 5-15 95 0 0 436-7 4 1 5 6 3 0 7-10 10-15 0-10-10-5 0-10 10 0 5-5 5-5 0-20 20 0 5-10 10-5 0-5 5-20 0-5 5-10 0-25 15 0 20 5 5 0 20 5 5 0 10 5 5 0 15 5 5 0 20 5 5 10 0 15-10 35 0 20-15 20 0 5-5 10 0 5-5 15 0 0 57-9 8-1 10 5 35 5 5 0 85-1010 0 0-205 20-20 0-5 5-5 0-20 5 0 20-15 0-15-5-5 0-20 25-25 15-5 15-15 0-45-10-15 0-15-5-5 0-20 5-5 10-25 45-45 5 0 20-15 10-10 0-5 10-10 1-6 9-1 40-15-3-13-18-15-9-32-10-8 5-5 10 0 15-15 10 0 5-5 5 0 5-5 0-5 10 0 20-25 0-10-25-15-5 5-10 0-5 5-15 0-5-5-5 0-35-40 0-5-5-5zM290 606l0 6 10 2 0-5zM299 665l0 5 6 6 9-11-4-8zM450 625l-20 13-20 0-35 21-15 16 2 15 3 3 5-3 10-14 27-11 23-20 15 15 15 24 20 10 10 0 16-14 24-6 10-9-6-10-17-10-27-6-25-13zM695 275l-5 5 15 20 0 5 15 20 0 5 20 15 5 0 10-10-10-10 0-5-10-10 0-5-15-15-15-5zM720 250l-5 5 0 5 5 5 5-5 0-5zM850 260l-20 20-5 0-10 10-10 0-5 5 5 15 10 10 5 0 5 5 25 0 5-5 5-15 10-10 0-35-5-5-5 5zM870 245l-5 5 5 5 5-5zM190 445l-15 15-5 0-20 15 0 35-5 5 0 20 10 10 5 0 10-15 0-10 5-5 0-10 5-5 0-10 5-5 0-10 5-5 0-10 5-5 0-5z"/><path fill="#ecf2f5" fill-rule="evenodd" d="M23 -5l12 0 5 5 5-5 10 0 5 15 10 10 0 5 30 40 2 7-14 8 0 15 7 7 15-7 10 10 0 5 4 4 0 16 6 6 10 4 0 20 5 5 5-5 20 17 2 23-7 0-5 5-20 0-20-15-2-15-13-10-5 0-10-10-10-25-15-20-5-25-10-10-5-15-10-10 0-5-10-15 3-10zM170 -5l35 0 25 25 5 0 5 5 10 0 5-5 15 0 6 6-3 9-1 25 13 13 6-3 0-20 5-15 9 0 5 5 6 0 9 10 10 5 21-10 7-10 7 0 5 5 0 5 15 15 15 0 10 10 15 0 5 5 0 10 5 5 0 23-7 17 6 25 0 25 11 7 20 4 0 9 5 5 15-15 0-15 5-5 0-30 15-15 5 0 25-25 15-5 5-5 0-10 5-5 20 0 15-10 20 0 5 5 5 15 15 15 5 15 10 14 25 5 0 11 5 5 0 5 5 5 3-3 3 13 9 13 10 3 15-8 5 7 5 0 10 10 5-5 15-5 10-10-5-25-30-30 0-25 10-10 5 0 10-10 25 0 5 5 15-10 15 0 5-5 25-5 25-25 0-10 15-15 5-15 39 0 7 30 4 8 5 3 10-5 4-6-19-30 45 0 0 68-8 12 0 5 8 5 0 205-8 5-5 10 3 7 10 4 0 32-20 1-10 4-8 12-4 15 2 10 5 2 35-11 0 37-25 0-5 2-3 10 3 15 5 9 18 3-3 3-15 0-10-10-5 0-10 10 0 5-5 5-5 0-20 20 0 5-10 10-5 0-5 5-20 0-5 5-10 0-25 15 0 20 5 5 0 20 5 5 0 10 5 5 0 15 5 5 0 20 5 5 10 0 15-10 35 0 20-15 20 0 5-5 10 0 5-5 15 0 0 46-16 4-19 12-5-1-2-11-6-10-12-9-10-2-10 6-7 15 1 5 6 3 30 7-14 40 4 11 10 4 12-15 8-4 5 4 8 20 7 4 10 1 0 70-66 0-4-5-10-4-7 9-112 0-6-8-10-5-5 0-4 13-340 0-6-4-5 4-14 0-5-20-6-5-4 5 8 20-42 0-1-25-6-6-34 31-240 0-5-10-31-23-7 3-2 5 15 25-61 0 0-46 7-4 15-40-7-9-15-4 0-97 14-10 6-20 5-5 0-20 5 0 20-15 0-15-5-7 10-6 4-7-3-10-4-2 18-18 15-5 15-15 0-45-10-16 10-4 3-5-3-5-10 0-5-5 0-20 5-5 10-25 23-23 7 2 10-4 0-15 5-5 5 0 10-10 5 0 15-17 45-16 12 3 8 7 10-8 7-14-11-45-21-13-13-24 13-13 10 0 5-5 5 0 5-5 0-5 10 0 20-25 0-10-25-15-5 5-10 0-5 5-15 0-5-5-5 0-29-34 9 2 5-3-1-15-4-6-10 2-5 9 2 7-7-12zM290 149l-6 6 6 5 7-5zM300 359l-3 1 2 5 5 0zM340 160l-8 5-1 5 4 7 30 11 4-3-1-20-13-5zM375 194l-1 6 5 10 16 17 15 4 12-6 0-15-7-11zM390 65l-4 10 4 9 5 2 10-2 4-4-1-10-8-6zM435 243l-5 3-4 14 4 20 10 8 25 6 10 6 20 29 35 17 10 20 10 9 10-2 25-12 25-1 14-15 2-10-16-9-10 1-20 13-12-5-3-10 4-35-4-7-15 1-25 22-5 1-16-12-14-25-5-5-20-5-20-14zM650 323l-6 7 4 5 22 6 10-6-1-5-9-7-10-2zM685 629l-5 12-30 6-20 19-30-8-10 2-5 10 5 20 10 7 25 3 25-15 25-5 5-8 5-27 16-10-1-5-5-2zM695 275l-5 5 15 20 0 5 15 20 0 5 20 15 5 0 10-10-10-10 0-5-10-10 0-5-15-15-15-5zM720 250l-5 5 0 5 5 5 5-5 0-5zM785 340l-10 3-8 12-3 15 1 5 5 3 10-4 11-14 1-15zM850 69l-10 11 4 10 6 3 18-3 17-9 4-6-4-7-20-2zM887 260l3 10 15 11 9-6 2-10-3-30-3-5zM850 747l0 5 5-2zM55 610l-8 5-7 10-1 25 7 20 9 7 10 1 7-3 2-5-6-20 2-30-5-9zM115 484l2 11 3 2 6-2 3-5-2-5-7-4zM135 640l-4 5 4 6 5 1 3-7-3-5zM190 445l-15 15-5 0-20 15 0 35-5 5 0 20 10 10 5 0 10-15 0-10 5-5 0-10 5-5 0-10 5-5 0-10 5-5 0-10 5-5 0-5zM220 258l-10 12-12 25 2 7 10-1 7-6 16-40zM280 585l-13 10-6 10 1 25-21 65 5 20 19 12 15-2 55-54 5 3 12 41 6 5 12 0 10-4 14-26 36-15 47 35 13 26 5-3 4-18 16-21 10-4 25 1 5-3 11-28-6-20 10-20 1-10-11-8-15 0-10 5-10 21-20 1-15-3-25-14-25-7-20-11-5 4-3 12-7 10-10 7-10 3-20-8-10-21-30-1-35-15zM355 469l-10 6-2 5 3 10 9 4 10-5 6-9-6-9zM365 288l-5 7 5 9 10-1 9-8-4-5zM420 318l-2 7 7 7 2-7zM850 260l-20 20-5 0-10 10-10 0-5 5 0 5-9 5 4 6 11 0 19 14 25 0 10-15 11 20-4 30 3 6 10-6 20-23 20-14 3-13-8-12-10-5-36 3 1-36-5-5-5 5zM870 245l-5 5 5 5 5-5zM210 463l-10 27 5 9 10 3 6-2 2-10-8-21zM365 378l-4 7 4 5 5 0 0-9zM815 615l-11 5-9 19-5 4-45-18-10 0-6 5 1 5 30 22 10 3 25 0 15-12 25-7 5-6-5-20zM915 429l-8 6-3 10 2 10 9 4 12-4 6-15-7-10zM205 680l-6 5-5 20-13 10-3 5 2 1 10 2 12-3 6-15 15-10 2-5-3-5-7-5zM765 756l-2 4 5 10 7 4 4-9-4-9z"/><path fill="#f9eee7" fill-rule="evenodd" d="M35 -5l5 5 5-5 10 0 5 15 10 10 0 5 10 10 0 5 15 17-20 7-30-2-10-12 0-4 10-4 4-12zM202 -5l3 0 25 25 5 0 5 5 8 0-2 40-6 0-5 5-15 0-5-5-5 0-15-15 25 4 8-9 0-5-18-20zM910 -5l20 0 2 15 8 25-5 14-15 14-30-28 0-10 15-15zM983 -5l22 0 0 15-14-5zM977 60l3-4 0 8zM348 70l12-5 11 10 3 15-7 20 2 20-14 11-25 2-10-1-16-12-2-10 13-14 22-6zM605 66l15-1 10 15-1 25 7 25-2 5-15 10 1 13 30 24 25-5 11 3 5 5 3 10-17 25 3 14 10 4 25 2 18 20 1 10-14 20-15-5-10-10-5 5 15 20 0 5 9 14-9 8-45-23-10 1-25 10-15-5-6-5-1-5 6-25-6-35-16-35-12-4-10 5-10 1-20-11-25-2-7-9-2-15 2-5 17-3 6-7 4-32 15-9 20-29zM720 250l-5 5 0 5 5 5 5-5 0-5zM425 70l5 0 5 5 0 10 4 4-11 6-9 30 0 10 9 20 0 10-12 15-16 3-5-3-1-5 1-20-14-25 1-15 8-12 34-13 3-5zM815 75l5-5 7 0 1 20 12 10 45 10 10-7 20-27 5-1 10 11 29 9 10 20 6 4 5-1 10-16 15-4 0 31-15 4-50 35-30 11-14 31-21 22-30 11-15-7-10 4-13 15-3 20-9 6-15 1-4-2-2-5 6-15-1-5-24-44-5-4-9-2 10-14 4 4 5-5 15-5 10-10-5-25-6-6 23-29-17-7-15-12-5-1-10 5 0-5 25-20 25 0 5 5 5-5zM250 120l8 5 4 5-2 6-10 4-15-1-8-14 8 0 5-5zM993 175l12-4 0 14-7 5-11 20-4 25 2 7 20 1 0 27-15 4-15 15-5 0-1-4 10-20-1-10-8-1-30 12-5-1-6-15 4-35 17-25 10-3 20 1zM148 200l7-2 2 7-13 0zM323 200l12-3 20 8 48 50-1 10-7 5-54 10 0 10 14 26 10 4 25-4 7 4 18 24 15 6 15-10 6-25 14-3 9 8 26 37 25 15 11 28 9 5 20 1 9 4 8 10 8 19 5-1 7-18 21-20 17-45 10-4 30 5 25-13 5 2 1 5-6 13-25 9-6 8-4 27-5 4-15 4-7 5 2 10 10 12 10 1 20-19 20-10 10 2 20 14 40 6 8-11 2-26 5-7 10-5 3 3 12 67 20-15 20 8 25-11 8 6 12 27 5 3 36-1-26 31-5 0-5 5-20 0-5 5-10 0-25 15 0 20 5 5-9 5-3 25-13 13-30 7-10 12-10 4-35-16-30 5-20-7-15-1-10 4-13 19-12 5-5-1-5-24-15-10-25 0-25-5-45 0-14 5-6 11-10 5-25-13-20-5-10-13 3-20-3-8-10-3-20 8-15 1-6-23-19-15-4-10 20-25 3-10-1-10-8-6-20-4-15 8-9 12 0 25-16 22-4 13 3 15 19 20 1 10-9 1-45-15-10 2-10 8-10 3-20-9-5 4-1 6 16 17 0 18-10 8-25 5-25 19-10 2-20-27-30-5-5-12 5-12 15-5 8-8 15-35 7-5 0-5 5-5 5-25 4-4 15 19-3 10-15 15 9 5 20-4 25 1 15-6 29-41-4-15-10-7-20-8-32-40 4-50-6-10 4-1 15 6 50-3 25 13 25 6 28 19 7 21 5 6 22 8 23 19 10 1 20-17 10-4 7 1 9 10 3 15-9 20 1 20 9 9 10 2 10-1 5-7 0-11-10-22 15-21 5-36-20 2-10-2-15-18-5-2-50 14-10-14-18-43-7-6-15 0-20 9-5-1-30-32-77-10 9-40 8-10 17-10 13-31 10-6 25-2zM295 424l-10 4-20 2-9 5-1 10 5 14 10 2 32-21 4-5 0-10zM460 210l15-4 17 4 4 10-2 15-14 11-15-1-8-10-3-10 1-10zM524 235l16-1 10 4 8 7-1 10-17 11-15-3-9-8-4-10 2-5zM190 263l3 7-13 20-15 13-10-9-1-19 6-6zM108 307l12 8 30 2 20 7 3 6-17 15-9 20 4 40 3 10 6 5 28 10 4 5 0 10-42 31-18-11-12-21-25-3 0-36-3-3 23-12 18-20-3-10-10-12-5-1-20 11-15 2 0-10 5-5 10-25zM838 325l9 0 4 5 0 10-16 18-15 6-7-4-1-15 8-10zM937 330l8-1 5 5 3 11-3 9-20 14-15 24-10 0-11-12 2-10 28-30zM734 339l6 6 8-3 2 3-5 15-7 0-10-10-1-5zM1005 393l0 14-7-2-3-5zM192 458l-2 12-5 12 0-7 5-5zM82 463l4 7 1 15-7 8-5 0-15-18 15-10zM150 500l-5 25-4-10zM70 518l5 3 20 18 20 9 0 17-5 9-20 2-40 10-10-2-5-9 5-9 15 3 7-4 0-10-9-20 3-10zM379 565l6-1 5 21 0 14-5 5-10-10-4-14 3-10zM985 610l20 7 0 24-23-1-13-10-2-10 3-5 7-5zM-5 623l15-1 10 6 3 27 9 30-2 4-35 2zM886 640l14-4 3 9-2 10-6 10-16 15-12 25-7 7-10 1-10-16-5-1-29 24-11 21-15-5-30 0-26-16-1-10 17-40 55 7 30-15 20 11 10-7 14-16zM707 660l13-1 4 6-14 2-3-2zM159 680l11-3 5 2 3 6-2 10-16 7-18-2-3-5 2-5zM38 695l17 0 10 10-11 40-9 7-10 2-7-4-4-10 14-30zM324 705l6 1 1 4-6 15-10 8-10 0 2-13zM660 705l5 5 5 20-1 10-35 50-4 3-10 0-9-8 5-20-15-30 1-10 8-8 30-5zM893 705l12 1-1 24 13 20 5 15-9 15-6 25-54 0 14-25 22-20-9-30 5-17zM524 715l7 0-6 7zM389 735l11 2 5 6 0 7-10 8-10 0-10-13 2-5zM250 738l10 6 10 15 8 6 12 5 20 2 3 8-12 25-36 0 5-10-1-10-9-10-10-4-5 3-3 6 2 25-137 0 8-10 20-7 35-39zM691 740l9-4 5 9-3 5zM796 745l4-2 18 17 0 10-4 5-9 1-8-6zM1005 744l0 61-13 0-1-10-9-15 0-10 8-19zM70 755l5-3 10 2 4 6-3 10-6 2-5-3-6-9zM519 760l11-3 45 12 15 16-3 20-131 0 3-20 6-9 10 2 25 20 10-27zM705 755l15 7 20 3 10 5 17 20 4 15-58 0-4-10-14-10zM929 765l11-3 5 3 19 20-1 5-28-10-9-10zM-5 775l20 5 10 9 8 16-38 0z"/><path fill="#fddcc9" fill-rule="evenodd" d="M910 -5l4 0 0 10-4 11-5 3-6-3 6-6zM215 5l12 12-7-4zM605 90l5 1 6 9 1 20-14 20-2 10 7 15 16 15 6 10-2 10-8 10-10 1-19-21-41-14-9-11 3-15 20-20 1-25 5-6zM827 110l38 11 17 24 0 15-15 25 8 15 0 5-15 11-10 0-6-6 5-20-2-10-16-30-16-10-2-5 7-20zM931 110l14 2 10 18-6 10-14 6-7-1-6-5-4-15 3-10zM785 210l10-2 9 7 0 10-9 10-10-2-6-8 1-10zM950 215l10-4 9 9-3 15-11 6-5-1-3-5-1-10zM329 220l11-3 20 13 7 10-1 10-16-18-20-6zM279 240l11-3 6 3 3 5-8 25 0 20-16 4-15 9-15 1-5-5-2-9 7-12 10-3 20 7 5-5 1-7-7-20zM688 260l17-3 5 3 0 10-10 9-5-4-5 4-7-4-2-5zM631 275l4-3 5 3-1 5-4 6-5 1zM393 350l7-3 25 16 20-6 10 1 6 7-1 10-10 10-20 5-10 6-10-1-17-20-3-15zM229 395l11-4 30 0 8 4 1 5-9 8-35 8-5-2-5-8zM125 405l5 2 1 8-6 5-15 0-1-5zM618 430l7-1 5 5 17 26 6 15-1 25 5 10 8 5 5-1 5-9-10-25 3-10 22-29 15-8 45 9 10 5 6 8 4 31 5 7 10 4 20 0 30-25 35-11 5-1 6 5 3 15-9 8-23 7-3 10 6 20-5 0-5 5 0 10-24 5-6 5-2 10 7 20-5 5-6 0-6-5-4-45-7-10-7-3-20 3-8 5 1 10 17 12 4 8-14 37-10-2-45-20-25 9-25-4-20 3-20-11-30-6-18 9-17 3-24-3-16-7-16-23 16-38 10-4 20 2 8-5 17-20 25-1 10-4 6-10zM330 438l2 7-3 10-19 27-5 5-5-1-7-11 2-10zM532 440l23-5 5 3 2 17-3 10-9 3-23-13-3-5 1-5zM156 445l9-1 5 3 6 12-10 5-8-4-6-5 0-5zM440 477l3 3 3 30 8 20 21 9 6 6-11 24-10 11-5 0-5-5 0-25-5-10-36-5-22-25 0-5 8-8zM285 521l10 4 0 18-5 6-10-3-5-6-1-10zM166 575l9-2 9 2 6 5 7 15-2 15-15 12-10-2-14-20 3-15zM-5 651l5 3 6 16-2 5-9 3zM769 690l16 2 6 3 1 5-12 11-20 1-5-5 0-7zM615 730l10-5 15 5 5 10-2 10-8 6-10-3-10-13zM1005 755l0 20-7-5-1-5zM-5 785l5-1 11 6 9 15-25 0zM204 790l16 2 7 13-47 0zM153 795l7-4 5 0 15 14-32 0zM469 805l6-4 2 4z"/><path fill="#f8bb9e" fill-rule="evenodd" d="M584 110l16-4 4 9-4 7-10 7-5-1-3-8zM849 140l11-4 9 9 0 10-9 10-5 0-6-5-3-10zM570 155l10-3 9 18-8 0-7-5-5-5zM700 455l10-4 30-1 10 3 5 7 1 30-14 20-2 10 2 25 7 20-4 4-10-2-20-14-20-8-5 0-9 10-6 2-11-2-14-10-30 11-10-1-8-5-20-40 4-10 19-6 10 1 9 15 19 15 12 19 30-1 10-38 13-15 1-5-4-4-10-1-5-5 1-10zM530 525l15 1 10 6 7 18-2 10-15 4-19-9-4-15 3-10zM-5 792l7 3 6 10-13 0z"/><path fill="#ee9677" fill-rule="evenodd" d="M714 515l6 0 5 5 1 10-6 5-11-10 0-5z"/></g>
<use href="#land" fill="#d3d3d3" stroke="#111" stroke-width="0.5" vector-effect="non-scaling-stroke" stroke-linejoin="round"/>
<use href="#isl" fill="none" stroke="#111" stroke-width="0.5" vector-effect="non-scaling-stroke" stroke-linejoin="round"/>
<path d="M10,0V80M30,0V80M50,0V80M70,0V80M90,0V80M0,10H100M0,20H100M0,30H100M0,40H100M0,50H100M0,60H100M0,70H100" stroke="#888" stroke-opacity="0.22" stroke-width="0.6" vector-effect="non-scaling-stroke" fill="none"/>
</g></g>
<rect x="189.50" y="301.40" width="143.50" height="117.40" fill="none" stroke="#707070" stroke-width="0.9"/>
<text x="175.1" y="296.2" font-size="12.5">(h)</text>
<text x="261.6" y="298.0" font-size="12.5" text-anchor="middle">CSIRML6</text>
<text x="203.8" y="428.2" font-size="9" text-anchor="middle">40°E</text>
<text x="232.6" y="428.2" font-size="9" text-anchor="middle">60°E</text>
<text x="261.2" y="428.2" font-size="9" text-anchor="middle">80°E</text>
<text x="289.9" y="428.2" font-size="9" text-anchor="middle">100°E</text>
<text x="318.6" y="428.2" font-size="9" text-anchor="middle">120°E</text>
<g transform="translate(351.50,301.40) scale(1.43500,1.46750)">
<g clip-path="url(#pc)">
<rect x="0" y="0" width="100" height="80" fill="#fff"/><g transform="scale(0.1)"><path fill="#053061" fill-rule="evenodd" d="M15 -5l20 0 5 5 5-5 10 0 5 15 10 10 0 5 10 10 0 5 15 15 0 5 10 15 0 10 5 5 0 5 20 25 0 5 10 15 0 20 5 5 15-10 10 0 5-5 10 0 15-10 10 0 15-15 10 0 5-5 5 0 5-5 0-5 10 0 20-25 0-10-25-15-5 5-10 0-5 5-15 0-5-5-5 0-35-40 0-5-5-5 0-20 35 0 25 25 5 0 5 5 10 0 5-5 15 0 15 15 20 0 5 5 20 0 5-5 5 5 10 0 5-5 15 0 5 5 0 5 15 15 15 0 10 10 15 0 5 5 0 10 5 5 0 35 5 5 0 10 10 15 0 10 5 5 0 5 10 15 0 10 5 5 15-15 0-15 5-5 0-30 15-15 5 0 25-25 15-5 5-5 0-10 5-5 20 0 15-10 20 0 5 5 5 15 15 15 5 15 10 10 5-5 10 0 10 10 0 15 10 15 5-5 10 0 15 15 5 0 10 15 5 0 10 10 5-5 15-5 10-10-5-25-30-30 0-25 10-10 5 0 10-10 25 0 5 5 15-10 15 0 5-5 25-5 25-25 0-10 15-15 5-15 95 0 0 455-10 10-15 0-10-10-5 0-10 10 0 5-5 5-5 0-20 20 0 5-10 10-5 0-5 5-20 0-5 5-10 0-25 15 0 20 5 5 0 20 5 5 0 10 5 5 0 15 5 5 0 20 5 5 10 0 15-10 35 0 20-15 20 0 5-5 10 0 5-5 15 0 0 200-1010 0 0-205 20-20 0-5 5-5 0-20 5 0 20-15 0-15-5-5 0-20 25-25 15-5 15-15 0-45-10-15 0-15-5-5 0-20 5-5 10-25 45-45 5 0 10-10 5 0 15-15 0-5 10-10 0-5 15-25 0-5-5-5-15 0-5 5-10 0-5 5-20 0-20-15 0-10-30-25-10-25-10-10 0-5-5-5 0-10-5-5 0-10-10-10-5-15-10-10 0-5-20-35zM695 275l-5 5 15 20 0 5 15 20 0 5 20 15 5 0 10-10-10-10 0-5-10-10 0-5-15-15-15-5zM720 250l-5 5 0 5 5 5 5-5 0-5zM850 260l-20 20-5 0-10 10-10 0-5 5 5 15 10 10 5 0 5 5 25 0 5-5 5-15 10-10 0-35-5-5-5 5zM870 245l-5 5 5 5 5-5zM190 445l-15 15-5 0-20 15 0 35-5 5 0 20 10 10 5 0 10-15 0-10 5-5 0-10 5-5 0-10 5-5 0-10 5-5 0-10 5-5 0-5z"/><path fill="#0e4179" fill-rule="evenodd" d="M15 -5l20 0 5 5 5-5 10 0 5 15 10 10 0 5 10 10 0 5 15 15 0 5 10 15 0 10 5 5 0 5 20 25 0 5 10 15 0 20 5 5 15-10 10 0 5-5 10 0 15-10 10 0 15-15 10 0 5-5 5 0 5-5 0-5 10 0 20-25 0-10-25-15-5 5-10 0-5 5-15 0-5-5-5 0-35-40 0-5-5-5 0-20 35 0 25 25 5 0 5 5 10 0 5-5 15 0 15 15 20 0 5 5 20 0 5-5 5 5 10 0 5-5 15 0 5 5 0 5 15 15 15 0 10 10 15 0 5 5 0 10 5 5 0 35 5 5 0 10 10 15 0 10 5 5 0 5 10 15 0 10 5 5 15-15 0-15 5-5 0-30 15-15 5 0 25-25 15-5 5-5 0-10 5-5 20 0 15-10 20 0 5 5 5 15 15 15 5 15 10 10 5-5 10 0 10 10 0 15 10 15 5-5 10 0 15 15 5 0 10 15 5 0 10 10 5-5 15-5 10-10-5-25-30-30 0-25 10-10 5 0 10-10 25 0 5 5 15-10 15 0 5-5 25-5 25-25 0-10 15-15 5-15 95 0 0 455-10 10-15 0-10-10-5 0-10 10 0 5-5 5-5 0-20 20 0 5-10 10-5 0-5 5-20 0-5 5-10 0-25 15 0 20 5 5 0 20 5 5 0 10 5 5 0 15 5 5 0 20 5 5 10 0 15-10 35 0 20-15 20 0 5-5 10 0 5-5 15 0 0 200-1010 0 0-205 20-20 0-5 5-5 0-20 5 0 20-15 0-15-5-5 0-20 25-25 15-5 15-15 0-45-10-15 0-15-5-5 0-20 5-5 10-25 45-45 5 0 10-10 5 0 15-15 0-5 10-10 0-5 15-25 0-5-5-5-15 0-5 5-10 0-5 5-20 0-20-15 0-10-30-25-10-25-10-10 0-5-5-5 0-10-5-5 0-10-10-10-5-15-10-10 0-5-20-35zM240 129l-10 4-17 17-3 15 5 4 30 1 10-3 8-7 2-10-5-8-10-10zM695 275l-5 5 15 20 0 5 15 20 0 5 20 15 5 0 10-10-10-10 0-5-10-10 0-5-15-15-15-5zM720 250l-5 5 0 5 5 5 5-5 0-5zM850 260l-20 20-5 0-10 10-10 0-5 5 5 15 10 10 5 0 5 5 25 0 5-5 5-15 10-10 0-35-5-5-5 5zM870 245l-5 5 5 5 5-5zM190 445l-15 15-5 0-20 15 0 35-5 5 0 20 10 10 5 0 10-15 0-10 5-5 0-10 5-5 0-10 5-5 0-10 5-5 0-10 5-5 0-5z"/><path fill="#1f63a8" fill-rule="evenodd" d="M15 -5l20 0 5 5 5-5 10 0 5 15 10 10 0 5 10 10 0 5 15 15 0 5 10 15 0 10 5 5 0 5 20 25 0 5 10 15 0 20 5 5 15-10 10 0 5-5 10 0 15-10 10 0 15-15 9 0-23 20-7 15 1 10 15 5 30-1 10-4 9-10 0-10-14-19-10-7-9 0 14-9 0-5 10 0 10-10 0-5 10-10 0-10-25-15-5 5-10 0-5 5-15 0-5-5-5 0-35-40 0-5-5-5 0-20 35 0 25 25 5 0 5 5 10 0 5-5 15 0 15 15 20 0 5 5 20 0 5-5 5 5 10 0 5-5 15 0 5 5 0 5 15 15 15 0 10 10 15 0 5 5 0 10 5 5 0 35 5 5 0 10 10 15 0 10 5 5 0 5 10 15 0 10 5 5 15-15 0-15 5-5 0-30 15-15 5 0 25-25 15-5 5-5 0-10 5-5 20 0 15-10 20 0 5 5 5 15 15 15 5 15 10 10 5-5 10 0 10 10 0 15 10 15 5-5 10 0 15 15 5 0 10 15 5 0 10 10 5-5 15-5 10-10-5-25-30-30 0-25 10-10 5 0 10-10 25 0 5 5 15-10 15 0 5-5 25-5 25-25 0-10 15-15 5-15 95 0 0 455-10 10-15 0-10-10-5 0-10 10 0 5-5 5-5 0-20 20 0 5-10 10-5 0-5 5-20 0-5 5-10 0-25 15 0 20 5 5 0 20 5 5 0 10 5 5 0 15 5 5 0 20 5 5 10 0 15-10 35 0 20-15 20 0 5-5 10 0 5-5 15 0 0 200-1010 0 0-205 20-20 0-5 5-5 0-20 5 0 20-15 0-15-5-5 0-20 25-25 15-5 15-15 0-45-10-15 0-15-5-5 0-20 5-5 10-25 45-45 5 0 10-10 5 0 15-15 0-5 10-10 0-5 15-25 0-5-5-5-15 0-5 5-10 0-5 5-20 0-20-15 0-10-30-25-10-25-10-10 0-5-5-5 0-10-5-5 0-10-10-10-5-15-10-10 0-5-20-35zM695 275l-5 5 15 20 0 5 15 20 0 5 20 15 5 0 10-10-10-10 0-5-10-10 0-5-15-15-15-5zM720 250l-5 5 0 5 5 5 5-5 0-5zM850 260l-20 20-5 0-10 10-10 0-5 5 5 15 10 10 5 0 5 5 25 0 5-5 5-15 10-10 0-35-5-5-5 5zM870 245l-5 5 5 5 5-5zM190 445l-15 15-5 0-20 15 0 35-5 5 0 20 10 10 5 0 10-15 0-10 5-5 0-10 5-5 0-10 5-5 0-10 5-5 0-10 5-5 0-5z"/><path fill="#3480b9" fill-rule="evenodd" d="M15 -5l20 0 5 5 5-5 10 0 5 15 10 10 0 5 10 10 0 5 15 15 0 5 10 15 0 10 5 5 0 5 20 25 0 5 10 15 0 20 5 5 15-10 10 0 5-5 10 0 15-10 10 0-7 10-6 20 8 6 15 4 30-1 15-7 6-7 4-10-3-10-17-20-9-6 4-9 10 0 10-10 0-5 10-10 0-10-25-15-5 5-10 0-5 5-15 0-5-5-5 0-35-40 0-5-5-5 0-20 35 0 25 25 5 0 5 5 10 0 5-5 15 0 15 15 20 0 5 5 20 0 5-5 5 5 10 0 5-5 15 0 5 5 0 5 15 15 15 0 10 10 15 0 5 5 0 10 5 5 0 35 5 5 0 10 10 15 0 10 5 5 0 5 10 15 0 10 5 5 15-15 0-15 5-5 0-30 15-15 5 0 25-25 15-5 5-5 0-10 5-5 20 0 15-10 20 0 5 5 5 15 15 15 5 15 10 10 5-5 10 0 10 10 0 15 10 15 5-5 10 0 15 15 5 0 10 15 5 0 10 10 5-5 15-5 10-10-5-25-30-30 0-25 10-10 5 0 10-10 25 0 5 5 15-10 15 0 5-5 25-5 25-25 0-10 15-15 5-15 95 0 0 455-10 10-15 0-10-10-5 0-10 10 0 5-5 5-5 0-20 20 0 5-10 10-5 0-5 5-20 0-5 5-10 0-25 15 0 20 5 5 0 20 5 5 0 10 5 5 0 15 5 5 0 20 5 5 10 0 15-10 35 0 20-15 20 0 5-5 10 0 5-5 15 0 0 200-1010 0 0-205 20-20 0-5 5-5 0-20 5 0 20-15 0-15-5-5 0-20 25-25 15-5 15-15 0-45-10-15 0-15-5-5 0-20 5-5 10-25 45-45 5 0 10-10 5 0 15-15 0-5 10-10 0-5 15-25 0-5-5-5-15 0-5 5-10 0-5 5-20 0-20-15 0-10-30-25-10-25-10-10 0-5-5-5 0-10-5-5 0-10-10-10-5-15-10-10 0-5-20-35zM215 209l-11 11 2 10 9 7 8-7 2-10-5-10zM600 94l-1 6 5 5 8-5-2-6zM695 275l-5 5 15 20 0 5 15 20 0 5 20 15 5 0 10-10-10-10 0-5-10-10 0-5-15-15-15-5zM720 250l-5 5 0 5 5 5 5-5 0-5zM850 260l-20 20-5 0-10 10-10 0-5 5 5 15 10 10 5 0 5 5 25 0 5-5 5-15 10-10 0-35-5-5-5 5zM870 245l-5 5 5 5 5-5zM190 445l-15 15-5 0-20 15 0 35-5 5 0 20 10 10 5 0 10-15 0-10 5-5 0-10 5-5 0-10 5-5 0-10 5-5 0-10 5-5 0-5z"/><path fill="#529dc8" fill-rule="evenodd" d="M15 -5l20 0 5 5 5-5 10 0 5 15 10 10 0 5 10 10 0 5 15 15 0 5 10 15 0 10 5 5 0 5 20 25 0 5 10 15 0 20 5 5 15-10 25-5 5-5 14-5-14 30 2 5 33 15 40-11 12-14 2-10-2-10-27-30 0-5 10 0 10-10 0-5 10-10 0-10-25-15-5 5-10 0-5 5-15 0-5-5-5 0-35-40 0-5-5-5 0-20 35 0 25 25 5 0 5 5 10 0 5-5 15 0 15 15 20 0 5 5 20 0 5-5 5 5 10 0 5-5 15 0 5 5 0 5 15 15 15 0 10 10 15 0 5 5 0 10 5 5 0 35 5 5 0 10 10 15 0 10 5 5 0 5 10 15 0 10 5 5 15-15 0-15 5-5 0-30 15-15 5 0 25-25 15-5 5-5 0-10 5-5 20 0 15-10 20 0 5 5 5 15 15 15 5 15 10 10 5-5 10 0 10 10 0 15 10 15 5-5 10 0 15 15 5 0 10 15 5 0 10 10 5-5 15-5 10-10-5-25-30-30 0-25 10-10 5 0 10-10 25 0 5 5 15-10 15 0 5-5 25-5 25-25 0-10 15-15 5-15 95 0 0 455-10 10-15 0-10-10-5 0-10 10 0 5-5 5-5 0-20 20 0 5-10 10-5 0-5 5-20 0-5 5-10 0-25 15 0 20 5 5 0 20 5 5 0 10 5 5 0 15 5 5 0 20 5 5 10 0 15-10 35 0 20-15 20 0 5-5 10 0 5-5 15 0 0 200-1010 0 0-205 20-20 0-5 5-5 0-20 5 0 20-15 0-15-5-5 0-20 25-25 15-5 15-15 0-45-10-15 0-15-5-5 0-20 5-5 10-25 45-45 5 0 10-10 5 0 15-15 0-5 10-10 0-5 15-25 0-5-5-5-15 0-5 5-10 0-5 5-20 0-20-15 0-10-30-25-10-25-10-10 0-5-5-5 0-10-5-5 0-10-10-10-5-15-10-10 0-5-20-35zM220 197l-15 12-6 11 5 15 11 9 5 0 5-4 6-20-3-15zM300 89l-4 6 2 5 7 4 5-2 0-7zM450 277l-3 3 6 5 7 2 3-2-3-6zM605 89l-5 2-4 9 4 7 5 1 8-3 3-5-1-6zM695 275l-5 5 15 20 0 5 15 20 0 5 20 15 5 0 10-10-10-10 0-5-10-10 0-5-15-15-15-5zM720 250l-5 5 0 5 5 5 5-5 0-5zM850 260l-20 20-5 0-10 10-10 0-5 5 5 15 10 10 5 0 5 5 25 0 5-5 5-15 10-10 0-35-5-5-5 5zM870 245l-5 5 5 5 5-5zM190 445l-15 15-5 0-20 15 0 35-5 5 0 20 10 10 5 0 10-15 0-10 5-5 0-10 5-5 0-10 5-5 0-10 5-5 0-10 5-5 0-5z"/><path fill="#84bcd9" fill-rule="evenodd" d="M15 -5l20 0 5 5 5-5 10 0 5 15 10 10 0 5 10 10 0 5 15 15 0 5 10 15 0 10 5 5 0 5 20 25 0 5 10 15 0 20 5 5 15-10 10 0 5-5 10 0 5-5 5 0-13 30 19 10 6 5 1 5-13 19 5-9 0-5-5-5-15 0-5 5-10 0-5 5-20 0-10-10-5 0-5-5 0-10-30-25-10-25-15-20-5-25-10-10-5-15-10-10 0-5-20-35zM170 -5l35 0 25 25 5 0 5 5 10 0 5-5 15 0 15 15 20 0 5 5 20 0 5-5 5 5 10 0 5-5 15 0 5 5 0 5 15 15 15 0 10 10 15 0 5 5 0 10 5 5 0 35 5 5 0 10 10 15 0 10 5 5 0 5 10 15 0 10 5 5 15-15 0-15 5-5 0-30 15-15 5 0 25-25 15-5 5-5 0-10 5-5 20 0 15-10 20 0 5 5 5 15 15 15 5 15 10 10 5-5 10 0 10 10 0 15 10 15 5-5 10 0 15 15 5 0 10 15 5 0 10 10 5-5 15-5 10-10-5-25-30-30 0-25 10-10 5 0 10-10 25 0 5 5 15-10 15 0 5-5 25-5 25-25 0-10 15-15 5-15 95 0 0 455-10 10-15 0-10-10-5 0-10 10 0 5-5 5-5 0-20 20 0 5-10 10-5 0-5 5-20 0-5 5-10 0-25 15 0 20 5 5 0 20 5 5 0 10 5 5 0 15 5 5 0 20 5 5 10 0 15-10 35 0 20-15 20 0 5-5 10 0 5-5 15 0 0 200-1010 0 0-205 20-20 0-5 5-5 0-20 5 0 20-15 0-15-5-5 0-20 25-25 15-5 15-15 0-45-10-15 0-15-5-5 0-20 5-5 10-25 45-45 5 0 10-10 5 0 15-15 0-5 10-10 0-5 9-14 1 9 10 19 10 10 10 1 11-25 6-30 13-9 20-8 10-23-2-15-15-20-15-15 7 0 10-10 0-5 10-10 0-10-25-15-5 5-10 0-5 5-15 0-5-5-5 0-35-40 0-5-5-5zM295 80l-5 2-3 8 3 12 10 9 15 1 5-7-1-10-14-14zM360 264l-10 6-6 15 5 10 11 3 10-3 4-10-4-13zM420 254l-11 11 3 10 8 8 25 8 20 12 10-4 8-14 0-10-37-10-16-11zM600 88l-6 7 1 9 5 6 10 0 7-5 2-10-9-8zM695 275l-5 5 15 20 0 5 15 20 0 5 20 15 5 0 10-10-10-10 0-5-10-10 0-5-15-15-15-5zM720 250l-5 5 0 5 5 5 5-5 0-5zM850 260l-20 20-5 0-10 10-10 0-5 5 5 15 10 10 5 0 5 5 25 0 5-5 5-15 10-10 0-35-5-5-5 5zM870 245l-5 5 5 5 5-5zM190 445l-15 15-5 0-20 15 0 35-5 5 0 20 10 10 5 0 10-15 0-10 5-5 0-10 5-5 0-10 5-5 0-10 5-5 0-10 5-5 0-5zM317 240l0 5 5 5 10 0-1-5z"/><path fill="#aed3e6" fill-rule="evenodd" d="M15 -5l20 0 5 5 5-5 10 0 5 15 10 10 0 5 10 10 0 5 15 15 0 5 10 15 0 10 5 5 0 5 20 25 0 5 10 15 0 20 5 5 15-10 10 0 5-5 12-2-4 12-13 15 0 4 25 9 5 7-2 3-3-3-15 0-5 5-10 0-5 5-20 0-20-15 0-10-30-25-10-25-10-10 0-5-5-5 0-10-5-5 0-10-10-10-5-15-10-10 0-5-20-35zM170 -5l35 0 25 25 5 0 5 5 10 0 5-5 15 0 15 15 20 0 5 5 20 0 5-5 5 5 10 0 5-5 15 0 5 5 0 5 15 15 15 0 10 10 15 0 5 5 0 10 5 5 0 35 5 5 0 10 10 15 0 10 5 5 0 5 10 15 0 10 5 5 15-15 0-15 5-5 0-30 15-15 5 0 25-25 15-5 5-5 0-10 5-5 20 0 15-10 20 0 5 5 5 15 15 15 5 15 10 10 5-5 10 0 10 10 0 15 10 15 5-5 10 0 15 15 5 0 10 15 5 0 10 10 5-5 15-5 10-10-5-25-30-30 0-25 10-10 5 0 10-10 25 0 5 5 15-10 15 0 5-5 25-5 25-25 0-10 15-15 5-15 95 0 0 455-10 10-15 0-10-10-5 0-10 10 0 5-5 5-5 0-20 20 0 5-10 10-5 0-5 5-20 0-5 5-10 0-25 15 0 20 5 5 0 20 5 5 0 10 5 5 0 15 5 5 0 20 5 5 10 0 15-10 35 0 20-15 20 0 5-5 10 0 5-5 15 0 0 200-1010 0 0-205 20-20 0-5 5-5 0-20 5 0 20-15 0-15-5-5 0-20 25-25 15-5 15-15 0-45-10-15 0-15-5-5 0-20 5-5 10-25 45-45 5 0 20-15 10-10 0-5 10-10 0-5 4-4 13 24 4 15 19 3 10-6 10-26 25-9 15-16 10-4 6 3 4 10-6 25 9 10 23 15 4 20 6 10 9 6 15 2 15-6 4-7-2-20-10-15-53-35-5-10 0-20-14-8-8-12 5-25-21-30-15-11 19-24 2 15 6 15 17 8 10 0 5-3 7-10 1-10-4-10-19-19-15 3-10 11 0-10-5-5-5 0-15-10-5 5-10 0-5 5-15 0-5-5-5 0-35-40 0-5-5-5zM425 240l-23 20-4 10 2 5 15 22 30 2 20 23 10 0 20-22 30 4 12-9 3-10-4-10-31-3-7-17-8-9-10 0-9 14-11 2-10-3-20-19zM600 85l-7 5 1 15 6 7 10 1 10-8 2-10-7-9zM640 169l-5 4-2 7 2 5 10 3 4-13-4-6zM695 275l-5 5 15 20 0 5 15 20 0 5 20 15 5 0 10-10-10-10 0-5-10-10 0-5-15-15-15-5zM720 250l-5 5 0 5 5 5 5-5 0-5zM850 260l-20 20-5 0-10 10-10 0-5 5 5 15 10 10 5 0 5 5 25 0 5-5 5-15 10-10 0-35-5-5-5 5zM870 245l-5 5 5 5 5-5zM190 445l-15 15-5 0-20 15 0 35-5 5 0 20 10 10 5 0 10-15 0-10 5-5 0-10 5-5 0-10 5-5 0-10 5-5 0-10 5-5 0-5zM205 609l-5 6 1 5 4 6 10 3 3-4-2-10zM460 743l-2 2 7 3 2-3zM175 724l-8 6-1 5 4 5 6 0 7-5 1-5-4-5zM190 684l0 6 6 0 6-5-7-4z"/><path fill="#d4e6f1" fill-rule="evenodd" d="M15 -5l20 0 5 5 5-5 10 0 5 15 10 10 0 5 10 10 0 5 15 15 0 5 10 15 0 10 5 5 0 5 20 25 0 5 10 15 0 20 5 5 15-10 10 0 5-5 4 0-8 15-15 10-3 5 2 4 32 11-7 0-5 5-10 0-5 5-20 0-20-15 0-10-30-25-10-25-10-10 0-5-5-5 0-10-5-5 0-10-10-10-5-15-10-10 0-5-20-35zM170 -5l35 0 25 25 5 0 5 5 10 0 5-5 15 0 15 15 20 0 5 5 20 0 5-5 5 5 10 0 5-5 15 0 5 5 0 5 15 15 15 0 10 10 15 0 5 5 0 10 5 5 0 35 5 5 0 10 10 15 0 10 5 5 0 5 10 15 0 10 5 5 15-15 0-15 5-5 0-30 15-15 5 0 25-25 15-5 5-5 0-10 5-5 20 0 15-10 20 0 5 5 5 15 15 15 5 15 10 10 5-5 10 0 10 10 0 15 10 15 5-5 10 0 15 15 5 0 10 15 5 0 10 10 5-5 15-5 10-10-5-25-30-30 0-25 10-10 5 0 10-10 25 0 5 5 15-10 15 0 5-5 25-5 25-25 0-10 15-15 5-15 95 0 0 173-10 7 0 5 10 7 0 263-10 10-15 0-10-10-5 0-10 10 0 5-5 5-5 0-20 20 0 5-10 10-5 0-5 5-20 0-5 5-10 0-25 15 0 20 5 5 0 20 5 5 0 10 5 5 0 15 5 5 0 20 5 5 10 0 15-10 35 0 20-15 20 0 5-5 10 0 5-5 15 0 0 152-4 8 4 5 0 32-3 3-29 0-8-11-25 11-945 0 0-205 20-20 0-5 5-5 0-20 5 0 20-15 0-15-5-5 0-20 25-25 15-5 15-15 0-45-10-15 0-15-5-5 0-20 5-5 10-25 45-45 5 0 10-10 7-2 18 8 10 13 5 2 20-10 25-3 4-3 6-21 10-5 10 6 5 9 20 4 20 12 5 7 5 18 25 21 15 3 20-4 20 5 24-15 11-2 14 22 21 8 10-4 15-21 10-2 25 0 12-21-3-20-9-4-20-2-13-24-7-5-20-1-11 16-9 3-5-3-15-23-15-6-6 4-7 20-12 11-10 3-30-23-25-9-5-7 0-10 13-20 12-30-5-8-15-10-4-7 11-35-3-10-14-14-10-19-5-3-27 19-23-13-5 5-12 2-13-3-15-12-13 0-2-7-20-20 0-5-5-5zM550 363l0 3 6-1-1-5zM585 278l-8 7 3 7 12-2 2-5-2-5zM595 84l-5 11 5 17 5 3 10 0 14-10 2-10-7-10-14-4zM650 152l-20 13-6 15 3 10 21 15-6 35 3 8 5-1 7-7 6-25-6-15-2-38zM655 135l-2 10 2 4 3-9zM700 192l-6 18 5 5 6 0 7-5 1-5-8-15zM720 250l-5 5 0 5 5 5 5-5 0-5zM765 729l0 4 6 2 1-5zM850 260l-20 20-5 0-10 10-10 0-5 5 5 15 10 10 5 0 5 5 25 0 5-5 5-15 10-10 0-35-5-5-5 5zM870 245l-5 5 5 5 5-5zM860 640l-6 5 6 5 8-5 0-5zM50 630l3 5 10 5 12 4 6-4-14-10zM75 548l-5 7 5 7 5-1 3-6-1-5zM95 479l-8 6-2 15 20 16 10 4 6-10-3-15-8-11zM135 394l-2 6 7 6 5-11-5-3zM190 445l-15 15-5 0-20 15 0 35-5 5 0 20 10 10 5 0 10-15 0-10 5-5 0-10 5-5 5-25 10 1 5-3 8-13 1-10-4-5zM252 350l3 3 5-3zM267 660l2 5 11 1-5-10zM300 450l0 6 6-1-1-6zM455 735l-8 5 0 5 13 11 10-1 10-10-5-6zM520 730l-5 10 5 4 10-1 9-8-9-7zM550 652l-3 3 3 3 5-3zM595 648l-5 7 2 5 8 3 5-3 0-10zM695 275l-5 5 15 20 0 5 15 20 0 5 20 15 5 0 10-10-10-10 0-5-10-10 0-5-15-15-15-5zM855 730l-10 5 5 10 10-1 14-9 0-5-4-1zM60 723l-5 7 5 6 6-6zM105 644l-7 6-2 15 9 11 10 0 12-11 4-10-16-11zM145 418l-5 7 4 5 6 1 5-6zM180 590l-12 5 0 5 27 38 25 4 16 8 1-10-17-37-20-15zM297 735l3 5 6-5zM175 685l2 20-3 5-34 33 1 7 4 2 35-4 11-8 7-10-11-20 4-5 25-15 9-15-35-10zM185 235l5 5 2 10-2 5-5 2-10-9z"/><path fill="#ecf2f5" fill-rule="evenodd" d="M15 -5l20 0 5 5 5-5 10 0 5 15 18 23-13 5 0 9 5 4 5 0 8-8 12 12 0 5 10 15 0 10 5 5 0 5 10 10 0 5 10 10 0 5 10 15 0 20 5 5 15-10 11-1-6 8-25 18-1 5 6 5 22 10-7 5-20 0-10-10-5 0-5-5 0-10-30-25-10-25-15-20-5-25-10-10-5-15-10-10 0-5-20-35zM170 -5l15 0 3 15 7 7 5-11 0-11 5 0 25 25 5 0 5 5 10 0 5-5 15 0 15 15 5 0 0 20-10 10-14 1-11-6-2 2-23-6-15-14-10-5-10-2-7 3-13-13 0-5-5-5zM910 -5l95 0 0 125-18 10 0 5 13 20-13 15-3 10 6 10 15 9 0 251-10 10-15 0-10-10-5 0-10 10 0 5-5 5-5 0-20 20 0 5-10 10-5 0-5 5-20 0-5 5-10 0-25 15 0 20 5 5 0 20 5 5 0 10 5 5 0 15 5 5 0 15-14 5-21 18-7 2 42 5 20-13 17-7 7-10 21 0 20-15 20 0 5-5 10 0 5-5 15 0 0 122-9 8-9 30 3 10 13 10-4 5-9 7-5 1-10-15-10-1-35 11-6 12-465 0-14-5-10 5-172 0-6-5-7-1-7 6-51 0-2-3-6 3-32 0-7-10-25 3-25-6-5 3-3 10-92 0 0-137 20 22 7 0 3-24 20-16 6 0 9 10-10 15 0 10 10 1 20-12 16 16 9 33 15-18 7-20 8-11 10-4 8 5 10 25-2 10-16 15-21 10-1 5 12 17 10 8 15-8 25-4 20-15 10-3 45 7 35 11 10-1 20-12 20 6 30-3 25 9 5-1 4-6-3-10-21-12-40-1-20 7-20-11-50 5-45-8-4-5 39-34 15 0 25 12 20-6 20 10 10-5 8-12 0-10-13-21-30 3-17-17-13-1-15 5-15-16 0-8 10-2 5-4 5-14-5-11-10-9 7-10 0-20 8-3 10 6 5 0 6-8-6-10-30-9-10 9-15 25 10 13 14 7-1 5-18 11-20-10-30 0-47 14-7 10 7 10 7 3 20-2 6 4-1 10-10 10-15 1-12-6-9-10-24-39-2-11 9-20-2-7-11-13 1-5 10-2 10 7 10 1 10-6 4-15-3-15-10-20-27-19 6-6 0-45-5-5-5-14 10 2 15-5 4-8 0-10-4-7-5-1-10 4-12 12-3-3 0-20 5-5 10-25 45-45 5 0 6-6 24 15 3 11-8 15 5 1 15-4 20-20 10-4 15 2 15 11 10 2 20-14 10-1 5 2 5 15 8 10 62 41 15-12 15-2 30-11 40 20 10 1 13-7 9-15 8-6 30 4 15-25 5-2 20 8 30 2 12-11 12-30 26-14 15-26 35-3 10-7-2-20-5-10-8-6-10 3-10 18-5 3-5-1-7-7-3-10-2-20 8-35-7-9 11-1 10 10 0 15 10 15 5-5 10 0 15 15 5 0 10 15 5 0 10 10 5-5 15-5 10-10 0-7 5-2 0-6-5-6-5 0 0-4-30-30 0-25 25-20 25 0 5 5 15-10 15 0 5-5 25-5 25-25 0-10 15-15zM875 720l-36 5-6 10 3 10 4 5 10 4 30-12 7-12-2-6zM50 707l-5 23 1 10 24 5 10-3 2-7-8-15-14-12zM145 379l-22 11 0 35 6 15 11 8 25-2 5 4 3 10-23 15 0 35-5 5 0 20 10 10 5 0 7-12 3 3 9-6 8-25 30-45 7-20 19-15 4-10-2-5-10-5-40 1-5 4 2 5 8 5 3 10-8 6-20 5-4-6-1-15-12-15-2-25zM231 350l1 5 5 5 13 4 15-1 6-3 5-10-5-10-11-4zM295 433l-10 7-2 5 2 30 5 8 5 0 24-23 4-10-4-10-9-9zM335 600l0 37 15 2 15-6 6-13-5-15-11-5zM360 458l-8 7 1 10 22 8 5-8-2-10-8-6zM395 652l-10 11-2 7 2 7 24-12-1-10-8-4zM435 610l-3 5 3 3 15 2 2-5-2-7-5-2zM460 379l-13 21 4 5 24 0 4-10-4-10-5-6zM500 599l-11 6-9 25 12 15 3 15 5 6 5 1 10-7-7-25 6-20-4-12zM520 719l-40 12-35 0-9 4-2 5 17 15 14 6 25-8 20 2 15-2 37-18 1-5-3-1zM545 348l-6 7-5 10 1 17-4 13 9 0 15-7 20-21 14 3 16 11 10 0 7-6-1-5-16-10-20-21-10-3zM690 330l1 5 4 3 5-3 0-5-5-3zM695 275l-5 5 15 20 0 5 15 20 0 5 20 15 5 0 10-10-10-10 0-5-10-10 0-5-15-15-15-5zM720 250l-5 5 0 5 5 5 5-5 0-5zM780 400l0 5 5-5zM800 375l-4 5 4 5 8-5 0-5zM850 260l-20 20-5 0-10 10-10 0-5 5 5 15 10 10 5 0 5 5 25 0 5-5 5-15 10-10 0-35-5-5-5 5zM870 245l-5 5 5 5 5-5zM245 469l-6 6 1 14 5 8 10 2 6-4 1-10zM275 385l-10 10 3 5 7 0 8-5 1-5zM433 655l-3 10 5 3 5 0 10-11 13-7 3-5-6-4zM470 539l-2 11 2 15 15-9 3-11-8-9zM585 635l-10 9-5 1-30-8-6 8 0 15 6 7 10 3 25-7 20 9 16-2 5-5 2-10-4-15-14-8zM690 654l-15 11 1 5 39 1 10-6 0-5-5-5-20-4zM730 584l-23 26-2 10 5 2 8-2 17-20 5-10-1-5zM755 719l-8 11 6 10 7 4 16 1 17-10 0-5-18-9-10-3zM875 291l-4 4 4 6 2-6zM607 735l3 2 4-2zM695 725l-20 4-20-2-7 3-1 10 8 4 20-6 25 9 17-7 5-5-1-5-6-3zM330 40l5-5 5 5 10 0 5-5 15 0 5 5 0 5 15 15 15 0 10 10 15 0 5 5 0 10 5 5 0 24-22 6-6 5 8 14 25-1 10 17 0 10 15 25-2 10 5 15-4 10-9 9-5 2-5-3-16-18-19-5-13 5-1 25-6 6-10 0-17-16 2-10 13-15-1-5-7-5-15 3-8-3 0-15 12-15 4-10-19-20-6-15 2-11 17-24-2-5-25 1-13-11-5-15 2-15zM595 70l5-5 20 0 5 5 5 15 15 15 0 5 9 14-9 11-5 15-20 18-10 30-14 12 1 5 3 0 15-11 15 3 8 8 0 15-8 16-35 9-35 33-5-10 1-13 26-20 6-10 2-12-25 5-10 10-10 22-20 4-7-4-3-15 1-10 10-20-4-15-7-2-5 4-15 18-5 2-5-2-6-14 11-11 0-15 5-5 0-30 15-15 5 0 25-25 15-5 5-5 0-10 5-5 20 0 5-5zM560 143l-22 22 2 2 25-11 6-6-3-5zM590 83l-2 7 4 20 8 9 15-2 14-12 2-5-3-10-13-11-10-2zM335 210l10-4 4 14-9 4-5-3-2-6zM60 475l0 5-20 22 0-7zM182 488l2 2-2 15-12 16 5-6 0-10 5-5zM43 518l17 2 12 10-21 15 0 5 12 20 2 26 5 5 20 8 1 6-6 6-25-4-22 3-7 5-11 21-10 6-15 2 0-54 20-20 0-5 5-5 0-20 5 0 20-15zM207 655l3-2 6 2-6 5z"/><path fill="#f9eee7" fill-rule="evenodd" d="M15 -5l20 0 5 5 5-5 10 0 5 15 10 10-25 7-3 3 7 25-1 13-3-8-10-10 0-5-20-35zM30 14l-3 1 2 5 6 1zM170 -5l7 0-1 31-1-6-5-5zM938 -5l67 0 0 90-9 5 2 15-3 7-10 5-15-3-6 11 1 14 15 5 6 6-1 9-10 16-3 10 3 6 13 9 2 5-2 5-8 5-5 0-15-13-10-1-12 19 9 20-23 5-6 10-1 10 8 12 5 16 5 3 17-11-2-42 35-4 20-7 0 76-12 17-8 6-10-1-7-10-13-6-11 6-4 10 1 5 9 7 25-5 10 17 20-4 0 21-20-2-20 9-27-3-3 5 6 15 0 10-15 15 14 12 15 0 9-7 11-17 5-3 10 1 15 14 0 30-10 10-15 0-2-2 5-3-3-6-15 1-10 10 0 5-5 5-5 0-20 20 0 5-10 10-5 0-5 5-15 0-5-3-8 8-7 0-25 15 0 20 5 5 0 20 5 5 0 10 5 5 0 15 5 5 0 9-30 10-10-2-8-7-2-15 14-25 2-10-5-10-11-7-5 1-4 6-7 40-4 8-5 2-35-5-3-5 2-25-5-5-14-2-10 4-29 28-3 35-13 9-10 1-11-5-20-20-5-10 3-10 8-11 25-5 6-4-1-15-10-6-10 3-15 13-21 0-4 7-1 23-4 6-25 1-20 11-10-1-15-12-1-5 7-15-1-5-15 8-20-9-10 0-17 6-13 10-4-5 7-20 19-20 5-10-1-10-6-11-15-5-16 11-9 19-5 1-6-5-9-2-10 4-10 8-2 10 2 7 10 4 19-1 2 5-5 10-16 9-5 6-1 10 10 15-9 3-30-14-10-22-15-17 2-25 5-15-1-10-11-12-30-6-7-12-3-19 5-8 10 10 25 2 20 7 10 0 4-7 6-25-2-5-23-16-25-3-9-6-3-5 1-5 14-10 6-10-1-5-18-19-20 4-2-5 1-5 16-4 15-16 15 13 10 3 35-11 9-15 6-5 10-2 20 5 12 7 3 10-27 30-4 10 6 18 5 6 5 1 10-7 20-3 7-5 2-15-8-30 19-16 10-16 5-3 5 0 10 6 3 9-20 40-3 15 3 10 32 4 10-11 10-4 1 6-9 15-1 5 9 10 10 3 13-8 8-30 6-5 28-10 30 0 30 9 10-6 10-22 5-2 10 6 11 0 6-5 1-5-11-23 8 8 5 0 10-10-10-10 20 2-1-7-5-5-25-11-14-14-15-5-10-10-5 5 10 15-10 10-20 10-7-10 5-30-1-10 8-25 10-7 35-7 6-6 3-10-8-25-11-13-15 1-15 16-5-1-5-18 8-25 7-9 0 9 10 15 5-5 10 0 15 15 5 0 10 15 5 0 10 10 25-15 15 1 6-6-1-15-7-15-8-5-12 3-13-13 0-10-10-11 0-14 25-20 25 0 5 5 15-10 15 0 5-5 10 0 5-5 10 0 4-4 6 17 10 2 10-5 10-22 15-8 22 40 23 5 10-3 6-12 0-10-21-10-6-20-12-10zM970 19l5 4 5 0 2-3-7-4zM370 395l-8 5 0 5 4 5 9 2 8-7 0-5-6-5zM410 518l-5 2 0 5 5 3 5-3zM465 458l-6 7 1 10 5 7 10 1 5-8-2-15-3-2zM545 456l-6 4-2 5 4 5 19 11 10 0 9-6 4-5-1-5-7-9zM610 491l-22 29 1 5 6 4 10-2 6-7 2-20zM725 440l-9 5-4 5 1 5 12 0 7-5 3-8zM765 330l-8 25 3 9 5 2 10-10 3-11-3-9zM720 250l-5 5 0 5 5 5 5-5 0-5zM760 193l-3 7 3 9 14 1 1-5-5-10-5-4zM785 237l-5 3-6 15-11 10 1 10 11 9 10-2 14-17-2-15zM800 364l-11 6-23 25-3 10 2 18 5 2 27-10 8-16 10-5 6 6-1 20 10 7 10-4 13-13 1-10-22-15-12-16-10-5zM795 85l-1 5 5 5 9-5-3-6zM845 155l-5 2 0 7 11 1 2-5zM856 220l-2 10 6 7 15-6 11-16 0-5-6-8-5-2zM900 99l-9 6-2 5 5 10 6 3 17-8 8-10-5-7zM945 159l-3 11 3 3 5-1 5-7 0-7-5-1zM550 509l-10 6-5 10 5 3 10-5 5-8zM720 494l-2 11 7 10 10 3 5-3 1-10-4-5-12-7zM850 260l-11 11-9-5-15 4-3 5 7 11-4 4-10 0-5 5 5 15 20 15 25 0 5-5 6-16 7 11 2 15 5 5 15 1 13-6-8-4-6-11 4-35-8-4-15 0 0-16-5-5-5 5zM870 245l-5 5 5 5 5-5zM830 327l-1 8 11 12 10 1 9-8 0-5-9-6-10-3zM880 384l-3 6 3 3 9-3 1-5zM213 15l7-3 7 5 8 13 15 4 10 7 15 2 4 7-3 5-6 2-30-7-7-15-20-10zM904 11l4 9-2 5-6 7-10 3 0-10zM335 35l5 5 10 0 5-5 15 0 5 5 0 5 15 15 15 0 10 10 15 0 5 5 0 10 5 5 0 13-15 5-25-8-15 11-15 2-2-8 7-11 10-3 15 8 18-14 4-5-2-5-15-7-20 0-15-11-20 18-15 1-8-6-5-10 2-15 2-5zM91 51l4 4 0 5 10 15 0 10 4 4 4 21 4 5 13 5 0 5 10 15 0 20 5 5 5-5 4 0-14 8-10 2-25-14-15-1-10-25-10-10-2-7 11-3 3-10-13-30zM595 70l5-5 20 0 5 5 5 14-15-10zM560 80l5-5 19 0 6 37 5 13 5 2 15-5 20-12 5 0 1 10-11 22-19 8-4 5 0 15-4 10-15 10-13 19-20 11-15 22-10 6-4-8 12-30-3-15 2-10 13-10 25-8 23-12 2-10-5-9-5-2-44 1-26 25-13 25-12 9-7-2 2-17 5-5 0-30 9-5 6-10 5 0 25-25 15-5 5-5zM434 150l14 5 9 20-2 43-35-18-8-10 13-34zM618 215l7-2 5 7-4 10-6 3-8-3-2-5zM140 275l4 0 4 5-1 10-7 9-5 4-24 1zM214 295l11-4 8 4 9 10 8 20-10 8-20 1-16 6-1 5 14 25-4 15-8 8-25 10-10-1-6-27-4-7-16-8-4-14-13-11 0-10 8-10 5-2 25 11 20 1 10-7zM630 308l5 3 5 9 5 32 14 3 3 5-2 3-5 1-10-7-20 1-10-2-17-16-10-15 0-5 22-4zM285 320l11 0 5 5 0 5-6 2-9-2-4-5zM93 327l3 3 3 15-19 16 0-11 5-5zM244 380l6-5 3 5-3 3zM95 405l-3-3 8-2 5 1 2 4 5 25-2 20-15-2zM274 415l10 0 2 5-20 15 4 25-5 5-26-20 20-15 5-10zM149 465l11-4 5 4-15 10 0 35-5 5 0 20 3 3-3 14-33 23-7 0-3-5 7-10 4-15 24-20 1-25-4-20zM223 470l5 5 2 30-10 23-5 5-10 0-5-6-1-7 14-40zM34 541l-2 14-12 1 0-6 5 0zM282 555l8-3 8 3 12 30-9 15 1 5 13 2 9 8 1 10-10 9-10 1-15-15-20-5-2-10 7-15-4-25zM45 579l4 11-2 15-7 2-15-2-5 3-13 22-12 6 0-36 17-17 13 5zM745 615l5 1 8 24-3 9-10 6-10-2-20-13zM945 620l5-5 19 0 6 12 15 14 6 14-6 11-43 9 10 10 8 2 40-14 0 43-20 14-20 4-6 11 1 25-15 13-25 2-5 3 0 17-22 0-3-6-5-3-5 1-6 8-60 0-14-5-10 0-8 5-42 0-10-3-13 3-80 0 3-15-5-5-31 5-7 5-3 10-52 0-1-10-6-4-13 4-4 10-41 0-12-9-20-3-25 6-15-3-5 2-6 7-11 0-8-5-15-2-16 7-17 0-17-10-10 10-20 0-10-13-30-7-10 5-12 15-12 0-8-15-8-5-10 8-8 12-10 0-12-25 11-15 24-3 20-16 10-3 45 8 40 12 25-11 45-1 10 1 25 12 15-11 10-2 35 15 25-6 25 4 50-18 50 4 15-1 15 6 25-5 20 9 40-12 30 7 15-1 35-14 5 1 15 16 15 5 10-1 30-12 15-14 5-2 15 6 5-3 0-5-10-5-10 3-20-16-25 5-25 0-20 9-50-15-45 4-25-1-45 4-20 10-20-7-60-4-30-9-30 3-15 14-35 0-20 6-10-3-30-15-50 1-7-4 12-9 15-20 10-7 5 1 15 17 30-13 30 2 18-16 17-3 25 14 25-3 25 7 25-7 30 6 16-4 14-18 40 32 25-8 20 5 20-13 35 9 25-15 30 5 35-2 20 8 10 8 5-6-10-14 4-11 16-11 7-14 13 0 10-10zM255 684l10 4 12 12 1 5-6 5-12 4-22-4-5-5-1-5 7-10zM-5 690l6 15-3 15 7 8 5 2 10-12 5-2 8 4 1 10-7 10 0 5 3 2 30 3 20 8 20-11 10 1 10 4 8 8 9 20-7 6-10 1-30-11-10 1-3 8-1 20-45 0-6-10-10-8-20-1zM78 700l5 5-3 3-3-3zM139 700l6-4 3 4 1 5-4 6-7-1z"/><path fill="#fddcc9" fill-rule="evenodd" d="M42 -2l3-3 10 0 5 12-10 0zM948 -5l57 0 0 23-35-15-15 2zM1005 27l0 23-16-5 0-5zM337 37l3 3 10 0 5-5 15 0 5 7-15-1-5 24-15 8-10-5-5-8 1-10zM911 60l9-2 6 7 1 10-7 8-10 1-6-4zM90 65l6 0-1 18-5-1-5-7zM850 65l7-5 2 10-4 8-10 1-11-9 6-5zM560 80l7-5 15 15 6 25-3 9-5 3-15 2-20-4-10-4-7-9 12-12 15-5 5-5zM765 90l10 0 3 5 0 10-3 5-15-5-1-10zM865 95l5-4 7 4-4 10 23 35-3 15-8 9-27-19-8-10 2-15 10-15zM824 110l6-2 3 2 5 20-11 20-4 20-3 4-10-10-3-14 13-20zM930 120l15-2 7 7 0 10-23 30 6 20-2 10-13 8-15 0-14-13 0-15 18-15 0-20 5-10zM76 126l17 9 1 5-4 4-5 0zM687 147l8 13 5-5 10 0 3 3-8 5-20 2-1-10zM434 165l6 2 6 13-1 13-5 4-10-5-3-7 3-15zM495 168l0 9-5 0zM727 170l8 5 0 5 5 5 8 3-8 11-10-14zM825 180l25-3 10 8 2 10-27 46-25 0-13-11-1-10zM548 185l12-5 10 3 4 7-2 10-12 8-10-2-6-11zM745 218l20 9 4 8-3 10-11 4-15-5-5 1-11 9-4-4-5 5 0 5 5 5 3-3 22 7 14 21 1 6-20-2-15-6-7-8-4-15-19-11-7-9 7-7 30-4zM895 226l5 1 5 5 0 13-6 10-19 9-10 0-5-9-7 5 7-10 5 5 5-5-4-4zM963 255l7-4 10 2 11 12 5 30-11 16-10 0-8-6-1-5 3-15-10-20zM798 290l8 0-6 5 0 5 10 15-2 15 16 20 1 6-30-3-3-3 1-15-8-15-4-15zM909 290l6 5 0 14-6 6-9 0-4-5 1-10 3-6zM625 322l5 6 0 12-5 7-10-1-6-6 0-10zM157 340l3-2 10 1 30 21 5 15-4 10-16 7-10-2-5-30-11-10zM910 345l15 2 6 8-10 20 6 20-2 5-10 1-5-3-2-3 0-20-8-7-30 1-15 15-10-6-9-13 39-17zM436 355l9-5 8 5-1 5-7 6-5 0zM396 375l14-3 14 8 3 25 8 26 16 19-2 20 6 30-5 4-15-6-24-18 12-20-3-13-10-3-15 2-9-6 0-15 14-25-8-15-1-5zM729 385l16-4 9 4 2 10-3 25-8 8-25 0-18 12-7 10-3 20 13 10 3 20 9 15 13 10 17 5 11 25-1 5-33 10-19 14-10 3-5-3-7-24-3-32-10-14-10 4-12 17 5 20-7 10-11 6-25 0-10 21-10 3-20 16-11-1 2-30-6-10-10 0-20 12-31-7 11-12 20-5 20-18 20-13 5-1 25 12 10-1 10-9 8-38-15-35-5-30 4-15 6-10 17-7 25 7 20 11 25-3 15 2 5-3 4-17zM862 415l8-4 10 2 13 22 15 10 12 5 20-4 10 1 6 12-1 6-5 5-5 0-20 20 0 5-10 10-5 0-4 4 0-14-11-4-10 2-10 7-16 21-14 9 0 20 5 5 0 9-5 0-10-3-25-17-20-4-15-17-20-4-6-19-16-15-4-10 3-10 13-16 45-21 10 4 15 14 25 8 6-4 1-20zM522 425l12 5 3 10-17 20-20 18-5-3-2-10 11-15 0-10-4-3-10 6-24-3 4-7 15-6 10 0 10 8zM981 425l4-2 10 11 10 2 0 14-10-12-15-7zM530 490l10-3 3 3-13 16-10 3-4-9zM575 490l15-4 5 9-6 10-14 8-5-3-2-10zM350 500l15 4 20 15 4 16-4 5-20-22-18-8-4-5zM385 552l5 0 5 8 0 10-10 20-10-2-5-8 3-15zM852 577l3 3 0 10 5 5 0 15 5 7-25 6-7-3-5-10 7-15zM785 585l5 5 0 10-5 5-10 0-8-5 1-10zM3 592l4 3 3 10-5 10-10 7 0-22zM657 600l18-2 6 2 3 5 2 25-6 11-5 2-9-3-18-25 2-10zM945 620l5-5 5 1 16 34-41 3-9-3 5-20 4 0 10-10zM465 671l10 2 15 11 15 6-1 5-19 3-10 19-10 5-25-4-30 4-15-7-8-10 0-5 13-11 15-3 25 3zM640 677l10 3 12 20 0 5-17 2-20 9-55-7-9-4 3-15 11-9 40 5zM802 680l13-2 20 4 25-3 19 11 2 10-4 5-17 6-25-4-20 5-25 2-25-11-15-2-7-6 0-5 7-4 20 7zM353 690l7-4 5 3 4 11-3 5-11 2-6-2-2-5zM914 690l11-4 15 3 8 6 5 10 0 15-6 20 4 25-2 5-9 7-17-2-17-20 4-4 20-4 8-7 1-5-3-10-6-5-21-10-2-10zM1005 686l0 20-25 12-5-3-2-10 7-10zM251 695l5 0 4 5-5 4-5-2-2-2zM-5 742l20 13 10 3 30-3 10 5 2 10-7 23-15 1-30-17-20 0zM207 755l13-4 45 9 24 10 5 10-9 6-50-12-20 4-10-13zM798 755l12 0 15 10 25 3 30-8 5 5-1 10-4 7-13 8-5 15-15 0-17-4-25-11-25 3-13 12-10 0-3-10-9-8-45 10-5 0-5-7-2-10 6-10 21-12 10-1 15 7 10 1 35-5zM101 760l9-3 8 3 6 10-2 5-12 0-10-10zM327 760l48-3 13 8 5 10-5 10-8 5-45 6-13-6-9-10 2-10zM426 760l14-1 25 13 25-4 20 12 0 5-10 19-5 0-10-9-15-7-50 1-8-4-4-5 1-5zM558 760l7-3 20 4 25-2 10 6 0 5-30 18-4 17-22 0 1-20-9-20zM663 760l7 2 5 8-7 20 1 15-20 0 6-15-7-20 3-5zM164 775l6-4 5 2 1 7-6 6-3-1z"/><path fill="#f8bb9e" fill-rule="evenodd" d="M977 -5l28 0 0 15-15-4zM338 45l8 0 7 10-3 10-5 3-10 0-7-8 2-9zM560 80l15 6 9 14 1 16-10 8-25-2-10-7-6-9 6-6 5 0 15-10zM867 125l8 1 5 4 4 10-4 5-10-3-6-7-1-5zM928 135l7-1 0 6-5 4-5-3zM914 175l6 1 3 9-8 7-6-2-2-5zM841 185l9 1 4 9-14 20-10 3-5-8 3-10 5-10zM185 370l6 0 2 5-3 5-5 0zM740 397l5 0 2 8-2 10-5 3-6-3zM622 405l8-2 7 7 0 5-12 14-5-3-1-6 0-10zM415 409l5 4 3 12-1 5-22 4-4-4 0-5 4-7zM864 425l6 1 4 9-4 9-5 1-5-3-3-7 1-5zM655 446l20-3 6 7-1 9-5 6-32 25-2 5 4 17-11 18 7 25-3 5-8 3-24-8-2-5 24-25 0-15 6-20-11-20-3-10 5-19zM790 443l3 2 14 15 3 10-4 10-6 4-18 1-2 20-5 4-5-1-5-3-5-12-19-13-1-10 10-15 25-3zM941 460l6 10-12 10-22-10 4-5zM845 465l10-4 10 1 9 13 2 10-21 20-25 1-4-6 1-10 8-15zM693 505l39 30 6 15-7 10-26 8-5-2-10-51zM820 518l5 3 5 15-5-1-5-5zM559 545l21-2 17 7 4 5-13 20-8 5-5-1-19-29zM851 595l6-3 3 3 0 15-12 0-3-5zM-5 600l5 5-5 7zM939 635l6-2 1 2zM462 685l8 0 1 5-2 20-4 5-25-5-30 7-10-5-5-7 1-5 9-7 15-1 20 6zM850 690l15 2 4 3-1 5-8 4-10-2-5-7zM815 692l2 3-12 5-15 0 10-1zM923 700l12-2 5 7-5 5-5-1-6-4zM42 765l14 0-1 10-5 4-5 1-10-5-1-5zM343 765l32-1 6 6 1 5-2 5-10 5-30 3-10-2-6-6 2-10zM433 765l7-1 11 6 4 5-3 5-21 0-6-4 1-6zM707 770l13-3 7 8-7 6-15 2-2-8zM767 775l13-2 4 2-1 5-13 3-5-3zM828 780l7-3 8 3-3 5-5 1-5-1z"/><path fill="#ee9677" fill-rule="evenodd" d="M986 -5l19 0 0 9-10-2zM338 50l7 1 3 4 0 5-8 5-8-5 0-5zM560 85l10 2 10 8 4 15-4 8-5 3-20-1-8-5-7-10-1-4 16-6 5-5zM635 457l10 1 5 7-2 5-8 6-5-2-5-9zM753 465l7-2 4 7-4 5-5 1-5-6zM855 471l8 4 2 6-5 9-10 3-6-3 0-10zM705 530l5-2 10 7 4 10-1 5-8 3-6-3-6-10zM408 700l10 0 3 5-11 4-5-4z"/><path fill="#db6b55" fill-rule="evenodd" d="M997 -5l8 0 0 2zM560 90l10 0 10 9 2 11-7 9-15 0-13-9-1-11z"/><path fill="#c53e3d" fill-rule="evenodd" d="M565 91l10 4 5 10-4 10-11 3-10-5-5-8 0-5z"/><path fill="#ab162a" fill-rule="evenodd" d="M560 95l10 0 5 3 3 7-3 8-10 2-9-5-2-10z"/><path fill="#7c0722" fill-rule="evenodd" d="M558 100l12-3 5 6-1 7-4 2-10-2-3-5z"/><path fill="#67001f" fill-rule="evenodd" d="M565 100l5 1 2 4-2 4-5 0-4-4z"/></g><g transform="scale(0.1)"><path fill="#fff" fill-rule="evenodd" d="M105 80l31 92-6 6-50-38-40-80-30-70 50 0zM275 24l1 20-8 18-48 8-45-40-10-40 40 0z"/></g>
<use href="#land" fill="#d3d3d3" stroke="#111" stroke-width="0.5" vector-effect="non-scaling-stroke" stroke-linejoin="round"/>
<use href="#isl" fill="none" stroke="#111" stroke-width="0.5" vector-effect="non-scaling-stroke" stroke-linejoin="round"/>
<path d="M10,0V80M30,0V80M50,0V80M70,0V80M90,0V80M0,10H100M0,20H100M0,30H100M0,40H100M0,50H100M0,60H100M0,70H100" stroke="#888" stroke-opacity="0.22" stroke-width="0.6" vector-effect="non-scaling-stroke" fill="none"/>
</g></g>
<rect x="351.50" y="301.40" width="143.50" height="117.40" fill="none" stroke="#707070" stroke-width="0.9"/>
<text x="337.3" y="296.2" font-size="12.5">(i)</text>
<text x="423.6" y="298.0" font-size="12.5" text-anchor="middle">Watson</text>
<text x="365.9" y="428.2" font-size="9" text-anchor="middle">40°E</text>
<text x="394.6" y="428.2" font-size="9" text-anchor="middle">60°E</text>
<text x="423.2" y="428.2" font-size="9" text-anchor="middle">80°E</text>
<text x="451.9" y="428.2" font-size="9" text-anchor="middle">100°E</text>
<text x="480.6" y="428.2" font-size="9" text-anchor="middle">120°E</text>
<polygon points="124.8,440.65 136.00,436.30 136.00,445.00" fill="#053061"/>
<rect x="135.95" y="436.30" width="15.12" height="8.70" fill="#0e4179"/>
<rect x="150.17" y="436.30" width="15.12" height="8.70" fill="#1f63a8"/>
<rect x="164.39" y="436.30" width="15.12" height="8.70" fill="#3480b9"/>
<rect x="178.61" y="436.30" width="15.12" height="8.70" fill="#529dc8"/>
<rect x="192.83" y="436.30" width="15.12" height="8.70" fill="#84bcd9"/>
<rect x="207.05" y="436.30" width="15.12" height="8.70" fill="#aed3e6"/>
<rect x="221.27" y="436.30" width="15.12" height="8.70" fill="#d4e6f1"/>
<rect x="235.49" y="436.30" width="15.12" height="8.70" fill="#ecf2f5"/>
<rect x="249.71" y="436.30" width="15.12" height="8.70" fill="#f9eee7"/>
<rect x="263.93" y="436.30" width="15.12" height="8.70" fill="#fddcc9"/>
<rect x="278.15" y="436.30" width="15.12" height="8.70" fill="#f8bb9e"/>
<rect x="292.37" y="436.30" width="15.12" height="8.70" fill="#ee9677"/>
<rect x="306.59" y="436.30" width="15.12" height="8.70" fill="#db6b55"/>
<rect x="320.81" y="436.30" width="15.12" height="8.70" fill="#c53e3d"/>
<rect x="335.03" y="436.30" width="15.12" height="8.70" fill="#ab162a"/>
<rect x="349.25" y="436.30" width="14.32" height="8.70" fill="#7c0722"/>
<polygon points="362.92,436.30 374.70,440.65 362.92,445.00" fill="#67001f"/>
<polygon points="124.8,440.65 136.00,436.30 363.52,436.30 374.70,440.65 363.52,445.00 136.00,445.00" fill="none" stroke="#333" stroke-width="0.6"/>
<line x1="136.00" y1="445.00" x2="136.00" y2="447.20" stroke="#333" stroke-width="0.6"/>
<text x="136.00" y="456.3" font-size="9" text-anchor="middle">−8</text>
<line x1="164.44" y1="445.00" x2="164.44" y2="447.20" stroke="#333" stroke-width="0.6"/>
<text x="164.44" y="456.3" font-size="9" text-anchor="middle">−6</text>
<line x1="192.88" y1="445.00" x2="192.88" y2="447.20" stroke="#333" stroke-width="0.6"/>
<text x="192.88" y="456.3" font-size="9" text-anchor="middle">−4</text>
<line x1="221.32" y1="445.00" x2="221.32" y2="447.20" stroke="#333" stroke-width="0.6"/>
<text x="221.32" y="456.3" font-size="9" text-anchor="middle">−2</text>
<line x1="249.76" y1="445.00" x2="249.76" y2="447.20" stroke="#333" stroke-width="0.6"/>
<text x="249.76" y="456.3" font-size="9" text-anchor="middle">0</text>
<line x1="278.20" y1="445.00" x2="278.20" y2="447.20" stroke="#333" stroke-width="0.6"/>
<text x="278.20" y="456.3" font-size="9" text-anchor="middle">2</text>
<line x1="306.64" y1="445.00" x2="306.64" y2="447.20" stroke="#333" stroke-width="0.6"/>
<text x="306.64" y="456.3" font-size="9" text-anchor="middle">4</text>
<line x1="335.08" y1="445.00" x2="335.08" y2="447.20" stroke="#333" stroke-width="0.6"/>
<text x="335.08" y="456.3" font-size="9" text-anchor="middle">6</text>
<line x1="363.52" y1="445.00" x2="363.52" y2="447.20" stroke="#333" stroke-width="0.6"/>
<text x="363.52" y="456.3" font-size="9" text-anchor="middle">8</text>
<text x="250.3" y="467.6" font-size="10" text-anchor="middle"><tspan font-family="Liberation Serif">spCO</tspan><tspan font-family="Liberation Serif" font-size="7" dy="1.6">2</tspan><tspan dy="-1.6"> (µatm)</tspan></text>
</svg></body></html>
